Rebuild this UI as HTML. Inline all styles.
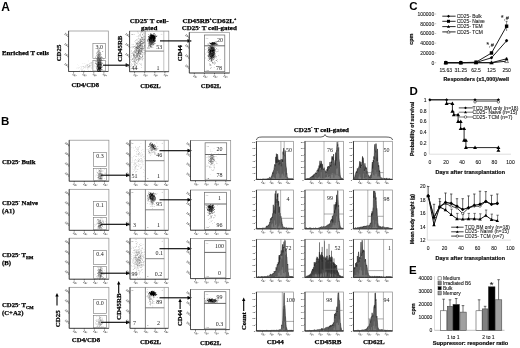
<!DOCTYPE html>
<html><head><meta charset="utf-8"><style>
html,body{margin:0;padding:0;background:#fff;}
body{width:520px;height:348px;overflow:hidden;}
svg{display:block;filter:blur(0.4px);}
</style></head><body>
<svg width="520" height="348" viewBox="0 0 520 348">
<rect width="520" height="348" fill="#fff"/>
<text x="1.3" y="10.5" font-size="12" style="font-family:'Liberation Sans',sans-serif;font-weight:bold" fill="#000">A</text>
<text x="0.9" y="125.1" font-size="11.5" style="font-family:'Liberation Sans',sans-serif;font-weight:bold" fill="#000">B</text>
<text x="409.2" y="10.2" font-size="11.5" style="font-family:'Liberation Sans',sans-serif;font-weight:bold" fill="#000">C</text>
<text x="409.5" y="95.2" font-size="11.5" style="font-family:'Liberation Sans',sans-serif;font-weight:bold" fill="#000">D</text>
<text x="409" y="274" font-size="11.5" style="font-family:'Liberation Sans',sans-serif;font-weight:bold" fill="#000">E</text>
<text x="2" y="55" font-size="6.8" text-anchor="start" style="font-family:'Liberation Serif',serif;font-weight:bold" fill="#000" stroke="#000" stroke-width="0.25" >Enriched T cells</text>
<rect x="68.6" y="31" width="39.7" height="40.5" stroke="#8a8a8a" stroke-width="0.7" fill="none"/>
<line x1="68.6" y1="31" x2="68.6" y2="71.5" stroke="#333" stroke-width="0.8"/>
<line x1="68.6" y1="71.5" x2="108.3" y2="71.5" stroke="#333" stroke-width="0.8"/>
<line x1="67.4" y1="36.5" x2="68.6" y2="36.5" stroke="#333" stroke-width="0.7"/>
<text font-size="3.2" text-anchor="end" style="font-family:'Liberation Serif',serif;font-weight:bold" fill="#555" transform="translate(67.3,36.8) rotate(40)">10<tspan font-size="2.2" dy="-1.2">4</tspan></text>
<line x1="67.4" y1="46.6" x2="68.6" y2="46.6" stroke="#333" stroke-width="0.7"/>
<text font-size="3.2" text-anchor="end" style="font-family:'Liberation Serif',serif;font-weight:bold" fill="#555" transform="translate(67.3,46.9) rotate(40)">10<tspan font-size="2.2" dy="-1.2">3</tspan></text>
<line x1="67.4" y1="56.7" x2="68.6" y2="56.7" stroke="#333" stroke-width="0.7"/>
<text font-size="3.2" text-anchor="end" style="font-family:'Liberation Serif',serif;font-weight:bold" fill="#555" transform="translate(67.3,57) rotate(40)">10<tspan font-size="2.2" dy="-1.2">2</tspan></text>
<line x1="67.4" y1="66.8" x2="68.6" y2="66.8" stroke="#333" stroke-width="0.7"/>
<text font-size="3.2" text-anchor="end" style="font-family:'Liberation Serif',serif;font-weight:bold" fill="#555" transform="translate(67.3,67.1) rotate(40)">10<tspan font-size="2.2" dy="-1.2">1</tspan></text>
<line x1="73.6" y1="71.5" x2="73.6" y2="72.7" stroke="#333" stroke-width="0.7"/>
<text font-size="3.2" text-anchor="middle" style="font-family:'Liberation Serif',serif;font-weight:bold" fill="#555" transform="translate(73.6,75.9) rotate(40)">10<tspan font-size="2.2" dy="-1.2">1</tspan></text>
<line x1="83.7" y1="71.5" x2="83.7" y2="72.7" stroke="#333" stroke-width="0.7"/>
<text font-size="3.2" text-anchor="middle" style="font-family:'Liberation Serif',serif;font-weight:bold" fill="#555" transform="translate(83.7,75.9) rotate(40)">10<tspan font-size="2.2" dy="-1.2">2</tspan></text>
<line x1="93.8" y1="71.5" x2="93.8" y2="72.7" stroke="#333" stroke-width="0.7"/>
<text font-size="3.2" text-anchor="middle" style="font-family:'Liberation Serif',serif;font-weight:bold" fill="#555" transform="translate(93.8,75.9) rotate(40)">10<tspan font-size="2.2" dy="-1.2">3</tspan></text>
<line x1="103.9" y1="71.5" x2="103.9" y2="72.7" stroke="#333" stroke-width="0.7"/>
<text font-size="3.2" text-anchor="middle" style="font-family:'Liberation Serif',serif;font-weight:bold" fill="#555" transform="translate(103.9,75.9) rotate(40)">10<tspan font-size="2.2" dy="-1.2">4</tspan></text>
<rect x="92.9" y="43.5" width="12.5" height="15" stroke="#777" stroke-width="0.6" fill="none"/>
<rect x="92.9" y="60.5" width="12.5" height="10.5" stroke="#777" stroke-width="0.6" fill="none"/>
<text x="99.2" y="48.8" font-size="6" text-anchor="middle" style="font-family:'Liberation Serif',serif" fill="#222">3.0</text>
<path d="M98.7 67.6h0.5v0.5h-0.5zM98.8 65h0.5v0.5h-0.5zM98.1 65.3h0.5v0.5h-0.5zM100.1 67.4h0.5v0.5h-0.5zM100 66.8h0.5v0.5h-0.5zM99.4 66.6h0.5v0.5h-0.5zM97.3 68.7h0.5v0.5h-0.5zM99.5 67.6h0.5v0.5h-0.5zM97.3 60.4h0.5v0.5h-0.5zM98.1 64.5h0.5v0.5h-0.5zM99.3 65.9h0.5v0.5h-0.5zM99.5 63.9h0.5v0.5h-0.5zM99.3 67.3h0.5v0.5h-0.5zM98.3 71.5h0.5v0.5h-0.5zM99.6 69.8h0.5v0.5h-0.5zM98.4 63.6h0.5v0.5h-0.5zM98.7 65.7h0.5v0.5h-0.5zM99.6 66.8h0.5v0.5h-0.5zM98.6 62.9h0.5v0.5h-0.5zM98.5 69.9h0.5v0.5h-0.5zM98.2 66.8h0.5v0.5h-0.5zM99.4 61.2h0.5v0.5h-0.5zM99 70.2h0.5v0.5h-0.5zM97 65h0.5v0.5h-0.5zM98.9 63.4h0.5v0.5h-0.5zM99.5 65.8h0.5v0.5h-0.5zM97.5 68.6h0.5v0.5h-0.5zM99.7 69h0.5v0.5h-0.5zM100.4 67.2h0.5v0.5h-0.5zM99.1 61.8h0.5v0.5h-0.5zM99.6 64h0.5v0.5h-0.5zM98.5 62h0.5v0.5h-0.5zM98 64.3h0.5v0.5h-0.5zM100.3 59.5h0.5v0.5h-0.5zM97.5 66.8h0.5v0.5h-0.5zM100.4 67.9h0.5v0.5h-0.5zM97.1 57.9h0.5v0.5h-0.5zM99.4 63.6h0.5v0.5h-0.5zM97.9 69.1h0.5v0.5h-0.5zM100.1 66.5h0.5v0.5h-0.5zM99.2 67.4h0.5v0.5h-0.5zM100.6 68h0.5v0.5h-0.5zM99.5 67.8h0.5v0.5h-0.5zM97.4 70.1h0.5v0.5h-0.5zM100 67.7h0.5v0.5h-0.5zM97 64h0.5v0.5h-0.5zM99.8 60.2h0.5v0.5h-0.5zM98.8 69.3h0.5v0.5h-0.5zM97.7 71.2h0.5v0.5h-0.5zM99.6 65.5h0.5v0.5h-0.5zM99.3 68.1h0.5v0.5h-0.5zM99.1 69.7h0.5v0.5h-0.5zM98.3 64.7h0.5v0.5h-0.5zM100 66.1h0.5v0.5h-0.5zM98.1 69h0.5v0.5h-0.5zM100.5 64.6h0.5v0.5h-0.5zM97.6 65.6h0.5v0.5h-0.5zM98.9 65h0.5v0.5h-0.5zM100.4 62.7h0.5v0.5h-0.5zM100.3 61.9h0.5v0.5h-0.5zM98.2 68h0.5v0.5h-0.5zM100.1 68.7h0.5v0.5h-0.5zM99.3 66.5h0.5v0.5h-0.5zM99.2 67.8h0.5v0.5h-0.5zM98.8 66.9h0.5v0.5h-0.5zM99.6 66h0.5v0.5h-0.5zM99.8 67.8h0.5v0.5h-0.5zM101 67h0.5v0.5h-0.5zM98.6 64.8h0.5v0.5h-0.5zM99 69h0.5v0.5h-0.5zM98.7 67.2h0.5v0.5h-0.5zM100.8 57.8h0.5v0.5h-0.5zM97.9 66.8h0.5v0.5h-0.5zM99.4 66.8h0.5v0.5h-0.5zM98.6 68.1h0.5v0.5h-0.5zM99.3 64.3h0.5v0.5h-0.5zM101.4 67.1h0.5v0.5h-0.5zM98.4 65.7h0.5v0.5h-0.5zM98.8 65.8h0.5v0.5h-0.5zM96.3 64.4h0.5v0.5h-0.5zM100 62.3h0.5v0.5h-0.5zM98.9 69.1h0.5v0.5h-0.5zM99.9 70.8h0.5v0.5h-0.5zM97.3 64.9h0.5v0.5h-0.5zM98.7 68h0.5v0.5h-0.5zM100.1 57.4h0.5v0.5h-0.5zM100.1 61.4h0.5v0.5h-0.5zM99.7 61.2h0.5v0.5h-0.5zM99.2 69.8h0.5v0.5h-0.5zM98.9 66.6h0.5v0.5h-0.5zM99.8 66.5h0.5v0.5h-0.5zM98.9 70.9h0.5v0.5h-0.5zM100 65.1h0.5v0.5h-0.5zM101.7 62.3h0.5v0.5h-0.5zM99.9 65.1h0.5v0.5h-0.5zM99.1 68.3h0.5v0.5h-0.5zM99.2 68h0.5v0.5h-0.5zM97.5 61.2h0.5v0.5h-0.5zM99.6 62.9h0.5v0.5h-0.5zM98 61.3h0.5v0.5h-0.5zM100.3 68.4h0.5v0.5h-0.5zM100.5 63h0.5v0.5h-0.5zM99 62.4h0.5v0.5h-0.5zM99.8 71.1h0.5v0.5h-0.5zM98.1 71h0.5v0.5h-0.5zM100 65.4h0.5v0.5h-0.5zM97 70.5h0.5v0.5h-0.5zM98.9 64.1h0.5v0.5h-0.5zM99.4 67.3h0.5v0.5h-0.5zM100.5 62.7h0.5v0.5h-0.5zM100.1 70.8h0.5v0.5h-0.5zM100.5 65.4h0.5v0.5h-0.5zM98.3 69.3h0.5v0.5h-0.5zM99.1 66.4h0.5v0.5h-0.5zM100.4 65.2h0.5v0.5h-0.5zM96.7 64.8h0.5v0.5h-0.5zM97.1 68.6h0.5v0.5h-0.5zM99.3 64h0.5v0.5h-0.5zM99 68.7h0.5v0.5h-0.5zM99.1 70.2h0.5v0.5h-0.5zM98.9 69.3h0.5v0.5h-0.5zM100.5 71.2h0.5v0.5h-0.5zM98.3 68.8h0.5v0.5h-0.5zM97.1 62.5h0.5v0.5h-0.5zM97 69.4h0.5v0.5h-0.5zM97.8 66h0.5v0.5h-0.5zM98.8 65.9h0.5v0.5h-0.5zM98.4 66.7h0.5v0.5h-0.5zM100.8 66.1h0.5v0.5h-0.5zM99.5 69.2h0.5v0.5h-0.5zM98.8 62h0.5v0.5h-0.5zM98.4 69.4h0.5v0.5h-0.5zM97.4 64.1h0.5v0.5h-0.5zM100 68.5h0.5v0.5h-0.5zM99 68.6h0.5v0.5h-0.5zM99.2 62.2h0.5v0.5h-0.5zM97.4 64h0.5v0.5h-0.5zM99.9 64.2h0.5v0.5h-0.5zM98.1 63.5h0.5v0.5h-0.5zM97.5 65.6h0.5v0.5h-0.5zM97.8 67.2h0.5v0.5h-0.5zM96.6 67h0.5v0.5h-0.5zM98.4 59.8h0.5v0.5h-0.5zM99.7 65.1h0.5v0.5h-0.5zM96.8 63.2h0.5v0.5h-0.5zM99.3 64.5h0.5v0.5h-0.5zM99.8 68.4h0.5v0.5h-0.5zM99.7 67h0.5v0.5h-0.5zM100.3 68.1h0.5v0.5h-0.5zM99.5 59.3h0.5v0.5h-0.5zM99.9 70.2h0.5v0.5h-0.5zM98.7 64.5h0.5v0.5h-0.5zM100.9 60.4h0.5v0.5h-0.5zM98.1 68.2h0.5v0.5h-0.5zM100.9 65.6h0.5v0.5h-0.5zM99.6 68.9h0.5v0.5h-0.5zM98.1 65.7h0.5v0.5h-0.5zM99.3 68.6h0.5v0.5h-0.5zM99 65.4h0.5v0.5h-0.5zM98 64.9h0.5v0.5h-0.5zM99.9 66.3h0.5v0.5h-0.5zM98.1 63.3h0.5v0.5h-0.5zM101.7 69.6h0.5v0.5h-0.5zM99.6 57.7h0.5v0.5h-0.5zM99.6 67.5h0.5v0.5h-0.5zM100.7 67.4h0.5v0.5h-0.5zM98.9 67.7h0.5v0.5h-0.5zM97.1 69.3h0.5v0.5h-0.5zM99.3 63.8h0.5v0.5h-0.5zM97.6 63.9h0.5v0.5h-0.5zM99.3 66.6h0.5v0.5h-0.5zM98.6 62.9h0.5v0.5h-0.5zM101.1 69.3h0.5v0.5h-0.5zM97.8 61.7h0.5v0.5h-0.5zM100.7 69.2h0.5v0.5h-0.5zM100.8 68.6h0.5v0.5h-0.5zM98.1 66.8h0.5v0.5h-0.5zM96.8 63.6h0.5v0.5h-0.5zM98.9 67.7h0.5v0.5h-0.5zM98.3 65.6h0.5v0.5h-0.5zM99.5 67.2h0.5v0.5h-0.5zM99.6 66.7h0.5v0.5h-0.5zM98.7 68.5h0.5v0.5h-0.5zM99 63.4h0.5v0.5h-0.5zM98.4 66h0.5v0.5h-0.5zM98.9 66.5h0.5v0.5h-0.5zM99 66.6h0.5v0.5h-0.5zM98.9 62h0.5v0.5h-0.5zM99.4 69.4h0.5v0.5h-0.5zM99.4 65.4h0.5v0.5h-0.5zM99.4 62.9h0.5v0.5h-0.5zM97.1 66.2h0.5v0.5h-0.5zM98.1 68.4h0.5v0.5h-0.5zM97.9 57.6h0.5v0.5h-0.5zM98 71h0.5v0.5h-0.5zM98.6 61.6h0.5v0.5h-0.5zM98.2 67.7h0.5v0.5h-0.5zM99.5 66.6h0.5v0.5h-0.5zM100.5 68.3h0.5v0.5h-0.5zM99 67.9h0.5v0.5h-0.5zM100.7 69.1h0.5v0.5h-0.5zM100 62.5h0.5v0.5h-0.5zM98.9 68.3h0.5v0.5h-0.5zM98.7 69.4h0.5v0.5h-0.5zM99.6 68.9h0.5v0.5h-0.5zM100.2 65.3h0.5v0.5h-0.5zM98.7 68.8h0.5v0.5h-0.5zM100 66h0.5v0.5h-0.5zM97.8 66.6h0.5v0.5h-0.5zM99.4 69.6h0.5v0.5h-0.5zM99.8 66.1h0.5v0.5h-0.5zM99.9 67.7h0.5v0.5h-0.5zM99.2 66.2h0.5v0.5h-0.5zM98.8 68.2h0.5v0.5h-0.5zM97.9 64h0.5v0.5h-0.5zM99 61.3h0.5v0.5h-0.5zM98.6 59.6h0.5v0.5h-0.5zM98.3 67.8h0.5v0.5h-0.5zM99.6 65.8h0.5v0.5h-0.5zM98.8 61.5h0.5v0.5h-0.5zM100.8 67.7h0.5v0.5h-0.5zM100.1 63.2h0.5v0.5h-0.5zM98.8 60.2h0.5v0.5h-0.5zM99.8 69h0.5v0.5h-0.5zM97.1 65.8h0.5v0.5h-0.5zM99.6 60.4h0.5v0.5h-0.5zM97.2 62.6h0.5v0.5h-0.5zM98.4 61.5h0.5v0.5h-0.5zM99 66.8h0.5v0.5h-0.5zM99.6 68.2h0.5v0.5h-0.5zM100.5 69.7h0.5v0.5h-0.5zM97.7 64.4h0.5v0.5h-0.5zM97.9 62.6h0.5v0.5h-0.5zM98.9 66h0.5v0.5h-0.5zM99.5 60.9h0.5v0.5h-0.5zM97.8 65.9h0.5v0.5h-0.5zM98.8 65h0.5v0.5h-0.5zM98.9 63.6h0.5v0.5h-0.5zM99.7 67.1h0.5v0.5h-0.5zM98.9 63.8h0.5v0.5h-0.5zM98.8 57.3h0.5v0.5h-0.5zM98 66.1h0.5v0.5h-0.5zM97.5 66.6h0.5v0.5h-0.5zM99.1 61.6h0.5v0.5h-0.5zM98.7 65h0.5v0.5h-0.5zM99.5 68h0.5v0.5h-0.5zM99 63.3h0.5v0.5h-0.5zM98.9 65.8h0.5v0.5h-0.5zM99.7 66.9h0.5v0.5h-0.5zM98.3 61.7h0.5v0.5h-0.5zM98.6 63.6h0.5v0.5h-0.5zM97.9 65.6h0.5v0.5h-0.5zM98.5 66.3h0.5v0.5h-0.5zM99.5 64.7h0.5v0.5h-0.5zM101.3 65h0.5v0.5h-0.5zM100.1 66.4h0.5v0.5h-0.5zM100.1 58.4h0.5v0.5h-0.5zM98.2 66.8h0.5v0.5h-0.5zM99.3 70.1h0.5v0.5h-0.5zM99.8 69h0.5v0.5h-0.5zM99.5 65.5h0.5v0.5h-0.5zM99.5 62.5h0.5v0.5h-0.5zM100.2 62.7h0.5v0.5h-0.5zM98.8 66.1h0.5v0.5h-0.5zM100.2 66.1h0.5v0.5h-0.5zM98.2 66.8h0.5v0.5h-0.5zM99.6 68.3h0.5v0.5h-0.5zM100.7 66.1h0.5v0.5h-0.5zM99.3 64.6h0.5v0.5h-0.5zM100.4 63.7h0.5v0.5h-0.5zM99.7 64.5h0.5v0.5h-0.5zM98.3 68.3h0.5v0.5h-0.5zM100.3 66h0.5v0.5h-0.5zM98.3 68.6h0.5v0.5h-0.5zM99 67h0.5v0.5h-0.5zM100.5 69.6h0.5v0.5h-0.5zM99 68.5h0.5v0.5h-0.5zM98.4 65.9h0.5v0.5h-0.5zM100.4 62.1h0.5v0.5h-0.5zM97.5 60.8h0.5v0.5h-0.5zM100.2 64.5h0.5v0.5h-0.5zM98.9 65h0.5v0.5h-0.5zM98.9 62.5h0.5v0.5h-0.5zM99 61.4h0.5v0.5h-0.5zM98.9 67h0.5v0.5h-0.5zM99.5 65.3h0.5v0.5h-0.5zM98.1 66.5h0.5v0.5h-0.5zM98.5 71h0.5v0.5h-0.5zM99.8 65.6h0.5v0.5h-0.5zM98.5 63.8h0.5v0.5h-0.5zM98.1 64.9h0.5v0.5h-0.5zM99.3 67.6h0.5v0.5h-0.5zM98.3 66h0.5v0.5h-0.5zM101.8 60h0.5v0.5h-0.5zM98.5 66.5h0.5v0.5h-0.5zM99.2 67.3h0.5v0.5h-0.5zM98.8 67.2h0.5v0.5h-0.5zM99.1 68.5h0.5v0.5h-0.5zM97.1 63.2h0.5v0.5h-0.5zM99 62.7h0.5v0.5h-0.5zM98 68h0.5v0.5h-0.5zM98.4 68h0.5v0.5h-0.5zM99.7 67h0.5v0.5h-0.5zM99.5 65.7h0.5v0.5h-0.5zM97.6 65.9h0.5v0.5h-0.5zM99.5 64.3h0.5v0.5h-0.5zM98.9 68.4h0.5v0.5h-0.5zM98.1 68h0.5v0.5h-0.5zM100.9 64.2h0.5v0.5h-0.5zM99.1 65.5h0.5v0.5h-0.5zM100.5 67h0.5v0.5h-0.5zM99.9 63.8h0.5v0.5h-0.5zM99 66h0.5v0.5h-0.5zM97.2 70.6h0.5v0.5h-0.5zM99.9 60.4h0.5v0.5h-0.5zM99.7 65.6h0.5v0.5h-0.5zM99.4 67.2h0.5v0.5h-0.5zM97.5 65.3h0.5v0.5h-0.5zM100.5 64.2h0.5v0.5h-0.5zM98 61.6h0.5v0.5h-0.5zM97.8 67.1h0.5v0.5h-0.5zM100.7 67.4h0.5v0.5h-0.5zM98.5 63.8h0.5v0.5h-0.5zM99.5 67.8h0.5v0.5h-0.5zM98 62.3h0.5v0.5h-0.5zM99.3 66.8h0.5v0.5h-0.5zM97.7 65.4h0.5v0.5h-0.5zM98.5 67.5h0.5v0.5h-0.5zM98.9 65.7h0.5v0.5h-0.5zM98.6 69.4h0.5v0.5h-0.5zM100.4 64.8h0.5v0.5h-0.5zM99.8 63.6h0.5v0.5h-0.5zM99.1 68.4h0.5v0.5h-0.5zM100.5 64.8h0.5v0.5h-0.5zM98.9 66.6h0.5v0.5h-0.5zM97.5 66.1h0.5v0.5h-0.5zM98.3 67.2h0.5v0.5h-0.5zM97.9 59.7h0.5v0.5h-0.5zM99 66.8h0.5v0.5h-0.5zM98.5 68.8h0.5v0.5h-0.5zM98.7 64.1h0.5v0.5h-0.5zM99.5 61h0.5v0.5h-0.5zM98.3 65.9h0.5v0.5h-0.5zM99.8 65.5h0.5v0.5h-0.5zM99.3 63.9h0.5v0.5h-0.5zM99.3 71.3h0.5v0.5h-0.5zM98.4 66.1h0.5v0.5h-0.5zM99.2 69.3h0.5v0.5h-0.5zM97.8 59.3h0.5v0.5h-0.5zM99.6 68.5h0.5v0.5h-0.5zM99.2 66.8h0.5v0.5h-0.5zM99.9 67.2h0.5v0.5h-0.5zM100.7 62h0.5v0.5h-0.5zM98.6 55h0.5v0.5h-0.5zM99.8 64.8h0.5v0.5h-0.5zM99 65.2h0.5v0.5h-0.5zM98.5 63.3h0.5v0.5h-0.5zM98.4 68h0.5v0.5h-0.5zM99 66.2h0.5v0.5h-0.5zM98.8 68.9h0.5v0.5h-0.5zM99.5 65.5h0.5v0.5h-0.5zM99.7 65.5h0.5v0.5h-0.5zM97.8 70.7h0.5v0.5h-0.5zM99.5 62.9h0.5v0.5h-0.5zM100.1 67.1h0.5v0.5h-0.5zM97.4 71.2h0.5v0.5h-0.5zM99.3 68.9h0.5v0.5h-0.5zM99.2 65.5h0.5v0.5h-0.5zM97.5 69.1h0.5v0.5h-0.5zM99 65.1h0.5v0.5h-0.5zM99.4 66.2h0.5v0.5h-0.5zM99.7 64.8h0.5v0.5h-0.5zM99 59.2h0.5v0.5h-0.5zM98.6 68.2h0.5v0.5h-0.5zM100.3 64.8h0.5v0.5h-0.5zM98.9 71.1h0.5v0.5h-0.5zM98.7 68.3h0.5v0.5h-0.5zM100.7 66.1h0.5v0.5h-0.5zM100.2 63.7h0.5v0.5h-0.5zM99.2 65.8h0.5v0.5h-0.5zM99.1 69.6h0.5v0.5h-0.5zM101.4 63.9h0.5v0.5h-0.5zM98.4 67.6h0.5v0.5h-0.5zM97.9 67.6h0.5v0.5h-0.5zM99.6 65.1h0.5v0.5h-0.5zM99.5 61h0.5v0.5h-0.5zM99.8 61.1h0.5v0.5h-0.5zM98.3 64.2h0.5v0.5h-0.5zM98.6 68.7h0.5v0.5h-0.5zM99.1 64.7h0.5v0.5h-0.5zM99.5 71.1h0.5v0.5h-0.5zM99 67.2h0.5v0.5h-0.5zM100.2 66.9h0.5v0.5h-0.5zM101.2 59.6h0.5v0.5h-0.5zM99 67.3h0.5v0.5h-0.5zM100 68.1h0.5v0.5h-0.5zM98.7 62.6h0.5v0.5h-0.5zM99.1 69.3h0.5v0.5h-0.5zM97.9 62.7h0.5v0.5h-0.5zM99 59.8h0.5v0.5h-0.5zM98.7 64.6h0.5v0.5h-0.5zM99.5 63.8h0.5v0.5h-0.5zM98.1 64.7h0.5v0.5h-0.5zM99 63.9h0.5v0.5h-0.5zM99 68.4h0.5v0.5h-0.5zM100.2 71.5h0.5v0.5h-0.5zM98.2 64.7h0.5v0.5h-0.5zM98.3 65.9h0.5v0.5h-0.5zM99.5 61.7h0.5v0.5h-0.5zM99.5 65.9h0.5v0.5h-0.5zM97.2 66.9h0.5v0.5h-0.5zM100.2 60h0.5v0.5h-0.5zM99.8 66.7h0.5v0.5h-0.5zM99.5 67.4h0.5v0.5h-0.5zM100.3 65.3h0.5v0.5h-0.5zM99.9 64.7h0.5v0.5h-0.5zM99.7 63.4h0.5v0.5h-0.5zM99.4 65.5h0.5v0.5h-0.5zM97.9 63.5h0.5v0.5h-0.5zM99.2 69h0.5v0.5h-0.5zM99.4 67.7h0.5v0.5h-0.5zM99 70.3h0.5v0.5h-0.5zM98.6 64.2h0.5v0.5h-0.5zM99.9 66.2h0.5v0.5h-0.5zM98.7 64.2h0.5v0.5h-0.5zM98.7 68h0.5v0.5h-0.5zM99.4 62.1h0.5v0.5h-0.5zM99.4 66.6h0.5v0.5h-0.5zM98 68.5h0.5v0.5h-0.5zM98.7 64.9h0.5v0.5h-0.5zM99.8 70.2h0.5v0.5h-0.5zM98.3 67.4h0.5v0.5h-0.5z" fill="#000" fill-opacity="1.0"/>
<path d="M98.2 68.4h0.5v0.5h-0.5zM98 66.7h0.5v0.5h-0.5zM102.6 51.6h0.5v0.5h-0.5zM98.3 65.3h0.5v0.5h-0.5zM98.9 60h0.5v0.5h-0.5zM102.4 63.4h0.5v0.5h-0.5zM96.4 66.8h0.5v0.5h-0.5zM96.2 68.2h0.5v0.5h-0.5zM98.1 63.7h0.5v0.5h-0.5zM101 63.5h0.5v0.5h-0.5zM96.8 55.4h0.5v0.5h-0.5zM100.9 66.3h0.5v0.5h-0.5zM97.7 66.9h0.5v0.5h-0.5zM99.8 65.9h0.5v0.5h-0.5zM95.4 61.6h0.5v0.5h-0.5zM100.4 66.3h0.5v0.5h-0.5zM100.4 51.9h0.5v0.5h-0.5zM99.3 65.2h0.5v0.5h-0.5zM103.1 58.7h0.5v0.5h-0.5zM98.5 63.2h0.5v0.5h-0.5zM100.4 61h0.5v0.5h-0.5zM100.8 59.5h0.5v0.5h-0.5zM99.4 60.6h0.5v0.5h-0.5zM99.3 59.9h0.5v0.5h-0.5zM96.4 67.9h0.5v0.5h-0.5zM99.5 60.5h0.5v0.5h-0.5zM99.3 67.5h0.5v0.5h-0.5zM97.4 62.5h0.5v0.5h-0.5zM99.9 65.4h0.5v0.5h-0.5zM98.5 53.5h0.5v0.5h-0.5zM101 64.5h0.5v0.5h-0.5zM99 61.7h0.5v0.5h-0.5zM99.4 61.1h0.5v0.5h-0.5zM97.4 59.7h0.5v0.5h-0.5zM98 60.2h0.5v0.5h-0.5zM97.1 65.9h0.5v0.5h-0.5zM96.9 66h0.5v0.5h-0.5zM97.4 64.6h0.5v0.5h-0.5zM101.2 63.9h0.5v0.5h-0.5zM97.8 63.2h0.5v0.5h-0.5zM99.2 55.2h0.5v0.5h-0.5zM98 63.7h0.5v0.5h-0.5zM98.2 63.4h0.5v0.5h-0.5zM100.2 66.4h0.5v0.5h-0.5zM100.4 65.6h0.5v0.5h-0.5zM98.5 62.9h0.5v0.5h-0.5zM98.6 61.6h0.5v0.5h-0.5zM98.7 55.2h0.5v0.5h-0.5zM98.5 62.9h0.5v0.5h-0.5zM97.4 62.9h0.5v0.5h-0.5zM99.8 62.3h0.5v0.5h-0.5zM102.3 51.3h0.5v0.5h-0.5zM98.7 54.8h0.5v0.5h-0.5zM95 63.6h0.5v0.5h-0.5zM99.8 61.6h0.5v0.5h-0.5zM99.9 52.9h0.5v0.5h-0.5zM100.4 64.7h0.5v0.5h-0.5zM99 60.4h0.5v0.5h-0.5zM100 60.8h0.5v0.5h-0.5zM99.4 60.7h0.5v0.5h-0.5zM95.4 62.9h0.5v0.5h-0.5zM99.3 66.4h0.5v0.5h-0.5zM97.6 62.9h0.5v0.5h-0.5zM100 63.7h0.5v0.5h-0.5zM97.5 54.4h0.5v0.5h-0.5zM100.4 69.9h0.5v0.5h-0.5zM100.5 66.7h0.5v0.5h-0.5zM98 59.8h0.5v0.5h-0.5zM100.4 58.9h0.5v0.5h-0.5zM96.1 58.5h0.5v0.5h-0.5zM97.9 59.7h0.5v0.5h-0.5zM99.4 59.6h0.5v0.5h-0.5zM101.1 62.6h0.5v0.5h-0.5zM97.3 68.9h0.5v0.5h-0.5zM98.1 64h0.5v0.5h-0.5zM99 61.6h0.5v0.5h-0.5zM99.5 59.9h0.5v0.5h-0.5zM96 53.1h0.5v0.5h-0.5zM97 59.6h0.5v0.5h-0.5zM99 63.2h0.5v0.5h-0.5zM99.9 63.5h0.5v0.5h-0.5zM97.7 59.8h0.5v0.5h-0.5zM95.6 62.2h0.5v0.5h-0.5zM99.8 65.4h0.5v0.5h-0.5zM98.8 62.2h0.5v0.5h-0.5zM100.5 63.1h0.5v0.5h-0.5zM100.2 65.6h0.5v0.5h-0.5zM99.3 68.9h0.5v0.5h-0.5zM98.1 61.4h0.5v0.5h-0.5zM97.7 59.4h0.5v0.5h-0.5zM101.5 70.9h0.5v0.5h-0.5zM99 65.6h0.5v0.5h-0.5zM100.9 66.6h0.5v0.5h-0.5zM100.9 57.3h0.5v0.5h-0.5zM98 65h0.5v0.5h-0.5zM101.3 63.5h0.5v0.5h-0.5zM97.6 61.4h0.5v0.5h-0.5zM97.9 59.1h0.5v0.5h-0.5zM101.4 60.2h0.5v0.5h-0.5zM100.9 64.5h0.5v0.5h-0.5zM98 64.8h0.5v0.5h-0.5zM101.6 65.8h0.5v0.5h-0.5zM101 63.4h0.5v0.5h-0.5zM99.8 62.1h0.5v0.5h-0.5zM99.7 68.9h0.5v0.5h-0.5zM96.7 62.7h0.5v0.5h-0.5zM99.4 60.4h0.5v0.5h-0.5zM98.5 66.5h0.5v0.5h-0.5zM102.2 65.8h0.5v0.5h-0.5zM99.5 56h0.5v0.5h-0.5zM102.1 63.3h0.5v0.5h-0.5zM98.9 58h0.5v0.5h-0.5zM98.9 58.1h0.5v0.5h-0.5zM99.1 65.1h0.5v0.5h-0.5zM99 64.3h0.5v0.5h-0.5zM97.6 69.4h0.5v0.5h-0.5zM98 54.8h0.5v0.5h-0.5zM98.7 59.6h0.5v0.5h-0.5zM97.4 61.4h0.5v0.5h-0.5zM99.5 57.7h0.5v0.5h-0.5zM98.8 69.4h0.5v0.5h-0.5zM100.1 62.3h0.5v0.5h-0.5zM99.2 62.5h0.5v0.5h-0.5zM98.9 66.3h0.5v0.5h-0.5zM98.9 52.2h0.5v0.5h-0.5zM99 59h0.5v0.5h-0.5zM100 60.3h0.5v0.5h-0.5zM97.3 57.9h0.5v0.5h-0.5zM96.7 52.2h0.5v0.5h-0.5zM96 64.6h0.5v0.5h-0.5zM98 54.6h0.5v0.5h-0.5zM96.6 65.8h0.5v0.5h-0.5zM97.8 61.3h0.5v0.5h-0.5zM99.5 69.1h0.5v0.5h-0.5zM102.1 67.6h0.5v0.5h-0.5zM99.2 63.8h0.5v0.5h-0.5zM101.9 69.4h0.5v0.5h-0.5zM98.5 65.1h0.5v0.5h-0.5zM99.5 63.2h0.5v0.5h-0.5zM98.2 57h0.5v0.5h-0.5zM98.1 56.1h0.5v0.5h-0.5zM101 65.4h0.5v0.5h-0.5zM97.1 69.3h0.5v0.5h-0.5zM100.4 54.4h0.5v0.5h-0.5zM101.9 66.6h0.5v0.5h-0.5zM102.3 57.5h0.5v0.5h-0.5zM99.8 64.9h0.5v0.5h-0.5zM99.3 63.8h0.5v0.5h-0.5zM100.7 56.3h0.5v0.5h-0.5zM97 56.7h0.5v0.5h-0.5zM98.1 60.3h0.5v0.5h-0.5zM99.6 64.2h0.5v0.5h-0.5zM99.1 60h0.5v0.5h-0.5zM98.3 67.3h0.5v0.5h-0.5zM100.2 63.5h0.5v0.5h-0.5zM98.5 70h0.5v0.5h-0.5zM98 65.9h0.5v0.5h-0.5zM100.8 61.8h0.5v0.5h-0.5zM100.3 58h0.5v0.5h-0.5zM100.6 63.9h0.5v0.5h-0.5zM96.5 66h0.5v0.5h-0.5zM97.6 68.8h0.5v0.5h-0.5zM97.9 62.3h0.5v0.5h-0.5zM99.5 61.5h0.5v0.5h-0.5zM99.4 60.5h0.5v0.5h-0.5zM100.1 63h0.5v0.5h-0.5zM99.3 50.6h0.5v0.5h-0.5zM100.9 63.1h0.5v0.5h-0.5zM96.1 63.4h0.5v0.5h-0.5zM99.7 67.8h0.5v0.5h-0.5zM97.3 70h0.5v0.5h-0.5zM98.8 66.1h0.5v0.5h-0.5zM98.4 58h0.5v0.5h-0.5zM100.8 67.1h0.5v0.5h-0.5zM101.5 66.9h0.5v0.5h-0.5zM98.1 55.5h0.5v0.5h-0.5zM98 60h0.5v0.5h-0.5zM97.7 65.6h0.5v0.5h-0.5zM99.5 61.8h0.5v0.5h-0.5zM99.3 62.3h0.5v0.5h-0.5zM99.3 66.4h0.5v0.5h-0.5zM100.5 59.9h0.5v0.5h-0.5zM96.6 69.4h0.5v0.5h-0.5zM99.2 68h0.5v0.5h-0.5zM96.4 61.5h0.5v0.5h-0.5zM99 56.5h0.5v0.5h-0.5zM98.2 66.3h0.5v0.5h-0.5zM100.7 70.2h0.5v0.5h-0.5zM97.6 56.7h0.5v0.5h-0.5zM99.8 67.2h0.5v0.5h-0.5zM99.3 57.1h0.5v0.5h-0.5zM100.3 66.6h0.5v0.5h-0.5zM99.9 60.8h0.5v0.5h-0.5zM99.5 66.6h0.5v0.5h-0.5z" fill="#444" fill-opacity="1.0"/>
<path d="M98.1 51.5h0.5v0.5h-0.5zM99.2 58.4h0.5v0.5h-0.5zM98.8 59.7h0.5v0.5h-0.5zM98.1 56.8h0.5v0.5h-0.5zM98.4 58.7h0.5v0.5h-0.5zM100.7 56.2h0.5v0.5h-0.5zM101.3 61.6h0.5v0.5h-0.5zM99.7 58.8h0.5v0.5h-0.5zM100.9 56.5h0.5v0.5h-0.5zM98.7 53.8h0.5v0.5h-0.5zM99.4 61h0.5v0.5h-0.5zM99.4 58.3h0.5v0.5h-0.5zM98.6 57.5h0.5v0.5h-0.5zM97.1 60.1h0.5v0.5h-0.5zM98.3 53.7h0.5v0.5h-0.5zM97.9 54.5h0.5v0.5h-0.5zM99.8 60.2h0.5v0.5h-0.5zM97.2 59.8h0.5v0.5h-0.5zM99.9 55.3h0.5v0.5h-0.5zM97 54.8h0.5v0.5h-0.5zM98 58h0.5v0.5h-0.5zM98.4 50.9h0.5v0.5h-0.5zM99.1 52.4h0.5v0.5h-0.5zM99.9 53.4h0.5v0.5h-0.5zM98 54.4h0.5v0.5h-0.5zM98.1 60.9h0.5v0.5h-0.5zM99.8 58.8h0.5v0.5h-0.5zM99.2 52.4h0.5v0.5h-0.5zM98.2 55.3h0.5v0.5h-0.5zM97.6 58.5h0.5v0.5h-0.5zM97.9 54.9h0.5v0.5h-0.5zM97.5 50.8h0.5v0.5h-0.5zM99.5 61h0.5v0.5h-0.5zM99 54.1h0.5v0.5h-0.5zM95.6 57.5h0.5v0.5h-0.5zM100.3 57.9h0.5v0.5h-0.5zM99.9 61.4h0.5v0.5h-0.5zM100.2 55.7h0.5v0.5h-0.5zM100.1 59.3h0.5v0.5h-0.5zM97 55.8h0.5v0.5h-0.5zM97.1 56.7h0.5v0.5h-0.5zM99.5 53.8h0.5v0.5h-0.5zM96.3 60.9h0.5v0.5h-0.5zM99.3 61.4h0.5v0.5h-0.5zM97.2 60.2h0.5v0.5h-0.5zM101.3 63h0.5v0.5h-0.5zM98.5 57.8h0.5v0.5h-0.5zM98.6 60h0.5v0.5h-0.5zM100 57.3h0.5v0.5h-0.5zM97.2 59.2h0.5v0.5h-0.5zM98.2 58.9h0.5v0.5h-0.5zM99.1 61.9h0.5v0.5h-0.5zM100.2 55.6h0.5v0.5h-0.5zM99.2 62.3h0.5v0.5h-0.5zM98.2 58.3h0.5v0.5h-0.5zM100.2 60.8h0.5v0.5h-0.5zM99.4 53h0.5v0.5h-0.5zM97.3 57.7h0.5v0.5h-0.5zM99.3 64.6h0.5v0.5h-0.5zM97.8 60.4h0.5v0.5h-0.5zM99.7 52h0.5v0.5h-0.5zM97.8 57.5h0.5v0.5h-0.5zM98.2 56.5h0.5v0.5h-0.5zM99.4 54.6h0.5v0.5h-0.5zM99.4 55.1h0.5v0.5h-0.5zM98.1 58.6h0.5v0.5h-0.5zM98.1 57.9h0.5v0.5h-0.5zM100.7 57.1h0.5v0.5h-0.5zM98.6 59.2h0.5v0.5h-0.5zM98.4 60.2h0.5v0.5h-0.5zM97.3 58.9h0.5v0.5h-0.5zM98.2 54.6h0.5v0.5h-0.5zM100.9 54.4h0.5v0.5h-0.5zM100.9 59h0.5v0.5h-0.5zM100.5 54.1h0.5v0.5h-0.5zM100.2 61.4h0.5v0.5h-0.5zM98.7 56.6h0.5v0.5h-0.5zM101.7 57.5h0.5v0.5h-0.5zM98.3 55.1h0.5v0.5h-0.5zM99.3 58h0.5v0.5h-0.5zM99 62.2h0.5v0.5h-0.5zM98.4 58.4h0.5v0.5h-0.5zM100.6 54h0.5v0.5h-0.5zM100 62.5h0.5v0.5h-0.5zM97.2 53.7h0.5v0.5h-0.5zM97.6 51.5h0.5v0.5h-0.5zM99.3 51.4h0.5v0.5h-0.5zM99.4 61.4h0.5v0.5h-0.5zM96.9 56.1h0.5v0.5h-0.5zM96.5 59.3h0.5v0.5h-0.5zM97.9 56.2h0.5v0.5h-0.5zM98.9 58.6h0.5v0.5h-0.5zM98.4 57h0.5v0.5h-0.5zM98.1 57.3h0.5v0.5h-0.5zM97.4 57.2h0.5v0.5h-0.5zM96.5 55.5h0.5v0.5h-0.5zM101.1 57.2h0.5v0.5h-0.5zM97.3 57.8h0.5v0.5h-0.5zM97.6 52h0.5v0.5h-0.5zM97.9 59.2h0.5v0.5h-0.5zM99.3 56.7h0.5v0.5h-0.5zM97.7 53.8h0.5v0.5h-0.5zM100.4 57.7h0.5v0.5h-0.5zM97.7 50.7h0.5v0.5h-0.5zM97.2 64.4h0.5v0.5h-0.5zM97.4 56.8h0.5v0.5h-0.5zM99.1 56.5h0.5v0.5h-0.5zM98.5 52.9h0.5v0.5h-0.5zM97.5 62.1h0.5v0.5h-0.5zM97.9 59.5h0.5v0.5h-0.5zM96.8 56.2h0.5v0.5h-0.5zM99.1 60.1h0.5v0.5h-0.5zM97.5 58.8h0.5v0.5h-0.5zM99.3 54.8h0.5v0.5h-0.5zM99.4 54.3h0.5v0.5h-0.5zM97.8 56.9h0.5v0.5h-0.5zM95.5 56.7h0.5v0.5h-0.5zM97.6 52.6h0.5v0.5h-0.5zM98.3 59.3h0.5v0.5h-0.5zM98.3 60.8h0.5v0.5h-0.5z" fill="#555" fill-opacity="1.0"/>
<path d="M97.3 48.1h0.5v0.5h-0.5zM100.1 53.2h0.5v0.5h-0.5zM99.4 49.5h0.5v0.5h-0.5zM99.3 52.8h0.5v0.5h-0.5zM99.1 52.1h0.5v0.5h-0.5zM99.7 50.1h0.5v0.5h-0.5zM97.5 47.6h0.5v0.5h-0.5zM99.7 49.8h0.5v0.5h-0.5zM97.5 49.2h0.5v0.5h-0.5zM98.1 48.2h0.5v0.5h-0.5zM98.2 50.1h0.5v0.5h-0.5zM97.9 49.1h0.5v0.5h-0.5zM98.5 50.6h0.5v0.5h-0.5zM98.6 52.7h0.5v0.5h-0.5zM98.8 45.4h0.5v0.5h-0.5zM98 49.6h0.5v0.5h-0.5zM99.3 47.3h0.5v0.5h-0.5zM97.8 51.1h0.5v0.5h-0.5zM98.2 55h0.5v0.5h-0.5zM98.1 54.9h0.5v0.5h-0.5zM97 46.6h0.5v0.5h-0.5zM99.7 53.3h0.5v0.5h-0.5zM99 52.4h0.5v0.5h-0.5zM99 48.4h0.5v0.5h-0.5zM99.4 50.4h0.5v0.5h-0.5zM99.5 52.3h0.5v0.5h-0.5zM96.5 48.1h0.5v0.5h-0.5zM99.6 51.6h0.5v0.5h-0.5zM98.1 52.7h0.5v0.5h-0.5zM98.1 50.4h0.5v0.5h-0.5zM98.6 52.4h0.5v0.5h-0.5zM100 52.1h0.5v0.5h-0.5zM100.4 57.4h0.5v0.5h-0.5zM100.2 55.2h0.5v0.5h-0.5zM98.6 52.4h0.5v0.5h-0.5zM98.4 49.8h0.5v0.5h-0.5zM98.4 50.1h0.5v0.5h-0.5zM100.1 53.6h0.5v0.5h-0.5zM98.1 46.3h0.5v0.5h-0.5zM98.4 50.8h0.5v0.5h-0.5zM97.4 48.6h0.5v0.5h-0.5zM96.2 53.7h0.5v0.5h-0.5zM98.4 59.7h0.5v0.5h-0.5zM98.5 51.6h0.5v0.5h-0.5zM99.9 52.4h0.5v0.5h-0.5zM98.7 50.9h0.5v0.5h-0.5zM97.9 56.5h0.5v0.5h-0.5zM99.5 57.1h0.5v0.5h-0.5zM98.2 52.1h0.5v0.5h-0.5zM97.6 54.9h0.5v0.5h-0.5z" fill="#999" fill-opacity="1.0"/>
<path d="M79.6 70.1h0.4v0.4h-0.4zM94.6 66.7h0.4v0.4h-0.4zM82.4 70.3h0.4v0.4h-0.4zM83.7 65.9h0.4v0.4h-0.4zM80.1 71.3h0.4v0.4h-0.4zM97.9 61.3h0.4v0.4h-0.4zM83.4 66.9h0.4v0.4h-0.4zM103 62.9h0.4v0.4h-0.4zM84.7 63.3h0.4v0.4h-0.4zM84 70h0.4v0.4h-0.4zM99.2 61.5h0.4v0.4h-0.4zM83.9 66.4h0.4v0.4h-0.4zM81.5 70.6h0.4v0.4h-0.4zM77.8 66.9h0.4v0.4h-0.4zM89.7 63.8h0.4v0.4h-0.4zM92.7 64.4h0.4v0.4h-0.4zM81 69.8h0.4v0.4h-0.4zM93.1 60.1h0.4v0.4h-0.4zM99 63.2h0.4v0.4h-0.4zM92.6 60.4h0.4v0.4h-0.4zM83.7 66.8h0.4v0.4h-0.4zM94.5 60.6h0.4v0.4h-0.4zM82.7 63.5h0.4v0.4h-0.4zM86.6 67.2h0.4v0.4h-0.4zM77.9 68.3h0.4v0.4h-0.4zM91.1 68.3h0.4v0.4h-0.4zM92 64h0.4v0.4h-0.4zM80.9 66.5h0.4v0.4h-0.4zM84 67.7h0.4v0.4h-0.4zM87.7 69.7h0.4v0.4h-0.4zM89.7 63.1h0.4v0.4h-0.4zM97.3 64.8h0.4v0.4h-0.4zM88.6 64.2h0.4v0.4h-0.4zM76.8 67.7h0.4v0.4h-0.4zM93.5 62.4h0.4v0.4h-0.4zM80.1 69.2h0.4v0.4h-0.4zM89.5 66.8h0.4v0.4h-0.4zM91.9 67.6h0.4v0.4h-0.4zM83 69.9h0.4v0.4h-0.4zM82.1 69.6h0.4v0.4h-0.4zM89.1 66.1h0.4v0.4h-0.4zM93.8 63.9h0.4v0.4h-0.4zM94.7 65.5h0.4v0.4h-0.4zM88.8 64.5h0.4v0.4h-0.4zM83.5 66.5h0.4v0.4h-0.4zM86.8 66.4h0.4v0.4h-0.4zM105.9 61.1h0.4v0.4h-0.4zM92.6 62.5h0.4v0.4h-0.4zM83.7 66.8h0.4v0.4h-0.4zM89.2 63.4h0.4v0.4h-0.4zM97.7 61.4h0.4v0.4h-0.4zM94.5 58.7h0.4v0.4h-0.4zM88 66.6h0.4v0.4h-0.4zM89.1 66.9h0.4v0.4h-0.4zM89.7 65.8h0.4v0.4h-0.4zM76.6 68.4h0.4v0.4h-0.4zM89.8 64.9h0.4v0.4h-0.4zM83.1 66.5h0.4v0.4h-0.4zM99.1 65.8h0.4v0.4h-0.4zM87.7 68.9h0.4v0.4h-0.4zM78.5 65.2h0.4v0.4h-0.4zM85.1 65.1h0.4v0.4h-0.4zM84.6 67.6h0.4v0.4h-0.4zM106.1 58.2h0.4v0.4h-0.4zM88.3 66.5h0.4v0.4h-0.4zM87.8 68.1h0.4v0.4h-0.4zM98.7 59.6h0.4v0.4h-0.4zM89 65.1h0.4v0.4h-0.4zM90.1 62h0.4v0.4h-0.4zM77.5 64.7h0.4v0.4h-0.4zM91.2 65.3h0.4v0.4h-0.4zM88.4 60.8h0.4v0.4h-0.4zM85.8 65.2h0.4v0.4h-0.4zM79.5 67h0.4v0.4h-0.4zM92.2 65.7h0.4v0.4h-0.4zM87.9 67.1h0.4v0.4h-0.4zM84.4 67.4h0.4v0.4h-0.4zM88.2 67.1h0.4v0.4h-0.4zM87.6 65.8h0.4v0.4h-0.4zM87.2 64.9h0.4v0.4h-0.4zM101.4 62.4h0.4v0.4h-0.4zM90.6 70h0.4v0.4h-0.4zM96.4 59.7h0.4v0.4h-0.4zM92.2 66.3h0.4v0.4h-0.4zM99.3 64.9h0.4v0.4h-0.4zM92.6 61.9h0.4v0.4h-0.4zM82.8 68.4h0.4v0.4h-0.4zM91 62.8h0.4v0.4h-0.4zM85.7 66h0.4v0.4h-0.4zM88.4 66.6h0.4v0.4h-0.4zM86.3 64h0.4v0.4h-0.4zM95.5 66.8h0.4v0.4h-0.4zM87.4 68.4h0.4v0.4h-0.4zM90.7 66.5h0.4v0.4h-0.4zM90.9 63.4h0.4v0.4h-0.4zM91.4 67h0.4v0.4h-0.4zM100.5 65.5h0.4v0.4h-0.4zM99.9 63.4h0.4v0.4h-0.4zM86 65.4h0.4v0.4h-0.4zM83.1 68h0.4v0.4h-0.4zM87.8 67.5h0.4v0.4h-0.4zM101.7 61.2h0.4v0.4h-0.4zM92.1 65.6h0.4v0.4h-0.4zM89.6 65h0.4v0.4h-0.4zM87.3 64.5h0.4v0.4h-0.4zM89.1 65.6h0.4v0.4h-0.4zM89.9 63.5h0.4v0.4h-0.4zM88.2 66h0.4v0.4h-0.4zM91.6 62.5h0.4v0.4h-0.4zM90.5 67.2h0.4v0.4h-0.4zM91.6 64h0.4v0.4h-0.4zM85.1 66.5h0.4v0.4h-0.4zM92.4 67.8h0.4v0.4h-0.4zM87.1 65h0.4v0.4h-0.4zM90.3 65.6h0.4v0.4h-0.4zM82.6 66.3h0.4v0.4h-0.4zM87.4 67.7h0.4v0.4h-0.4zM80.8 66.3h0.4v0.4h-0.4zM91 62.3h0.4v0.4h-0.4zM88.7 66.5h0.4v0.4h-0.4zM87.3 64.1h0.4v0.4h-0.4zM87.6 65.4h0.4v0.4h-0.4zM90 63.5h0.4v0.4h-0.4zM94.5 60.1h0.4v0.4h-0.4zM86.9 66.4h0.4v0.4h-0.4zM93.8 62.7h0.4v0.4h-0.4zM91.3 63.6h0.4v0.4h-0.4zM92.4 68.2h0.4v0.4h-0.4zM85.6 67.8h0.4v0.4h-0.4zM82.4 70h0.4v0.4h-0.4zM95.3 63.5h0.4v0.4h-0.4zM81.2 69.2h0.4v0.4h-0.4zM94.9 65.9h0.4v0.4h-0.4zM92.9 60.4h0.4v0.4h-0.4zM83.9 70.5h0.4v0.4h-0.4zM80.6 71h0.4v0.4h-0.4zM99.3 63.7h0.4v0.4h-0.4zM94.7 62.9h0.4v0.4h-0.4zM80.6 68.4h0.4v0.4h-0.4zM86.8 66.3h0.4v0.4h-0.4zM92.2 64.2h0.4v0.4h-0.4zM89.2 66.5h0.4v0.4h-0.4zM88 70h0.4v0.4h-0.4zM90.7 65.3h0.4v0.4h-0.4zM86.8 65.1h0.4v0.4h-0.4zM96.1 63.5h0.4v0.4h-0.4zM81.5 67.1h0.4v0.4h-0.4zM87.2 65.3h0.4v0.4h-0.4zM94.5 61.2h0.4v0.4h-0.4zM91 65.3h0.4v0.4h-0.4zM80.9 68.6h0.4v0.4h-0.4zM87.4 67.3h0.4v0.4h-0.4zM85.3 67.6h0.4v0.4h-0.4zM78 67.2h0.4v0.4h-0.4zM92.7 66.6h0.4v0.4h-0.4zM87.9 64.7h0.4v0.4h-0.4z" fill="#aaa" fill-opacity="1.0"/>
<text x="0" y="0" font-size="6.8" text-anchor="middle" style="font-family:'Liberation Serif',serif;font-weight:bold" fill="#000" stroke="#000" stroke-width="0.25" transform="translate(60.5,53) rotate(-90)">CD25</text>
<text x="85.3" y="86.7" font-size="6.6" text-anchor="middle" style="font-family:'Liberation Serif',serif;font-weight:bold" fill="#000" stroke="#000" stroke-width="0.25" >CD4/CD8</text>
<line x1="103" y1="65.2" x2="126.2" y2="65.2" stroke="#000" stroke-width="1.1"/>
<path d="M130.2,65.2 L125.7,63.3 L125.7,67.1 Z" fill="#000"/>
<rect x="129.6" y="31.1" width="39.2" height="40.6" stroke="#8a8a8a" stroke-width="0.7" fill="none"/>
<line x1="129.6" y1="31.1" x2="129.6" y2="71.7" stroke="#333" stroke-width="0.8"/>
<line x1="129.6" y1="71.7" x2="168.8" y2="71.7" stroke="#333" stroke-width="0.8"/>
<line x1="128.4" y1="36.6" x2="129.6" y2="36.6" stroke="#333" stroke-width="0.7"/>
<text font-size="3.2" text-anchor="end" style="font-family:'Liberation Serif',serif;font-weight:bold" fill="#555" transform="translate(128.3,36.9) rotate(40)">10<tspan font-size="2.2" dy="-1.2">4</tspan></text>
<line x1="128.4" y1="46.7" x2="129.6" y2="46.7" stroke="#333" stroke-width="0.7"/>
<text font-size="3.2" text-anchor="end" style="font-family:'Liberation Serif',serif;font-weight:bold" fill="#555" transform="translate(128.3,47) rotate(40)">10<tspan font-size="2.2" dy="-1.2">3</tspan></text>
<line x1="128.4" y1="56.8" x2="129.6" y2="56.8" stroke="#333" stroke-width="0.7"/>
<text font-size="3.2" text-anchor="end" style="font-family:'Liberation Serif',serif;font-weight:bold" fill="#555" transform="translate(128.3,57.1) rotate(40)">10<tspan font-size="2.2" dy="-1.2">2</tspan></text>
<line x1="128.4" y1="66.9" x2="129.6" y2="66.9" stroke="#333" stroke-width="0.7"/>
<text font-size="3.2" text-anchor="end" style="font-family:'Liberation Serif',serif;font-weight:bold" fill="#555" transform="translate(128.3,67.2) rotate(40)">10<tspan font-size="2.2" dy="-1.2">1</tspan></text>
<line x1="134.6" y1="71.7" x2="134.6" y2="72.9" stroke="#333" stroke-width="0.7"/>
<text font-size="3.2" text-anchor="middle" style="font-family:'Liberation Serif',serif;font-weight:bold" fill="#555" transform="translate(134.6,76.1) rotate(40)">10<tspan font-size="2.2" dy="-1.2">1</tspan></text>
<line x1="144.7" y1="71.7" x2="144.7" y2="72.9" stroke="#333" stroke-width="0.7"/>
<text font-size="3.2" text-anchor="middle" style="font-family:'Liberation Serif',serif;font-weight:bold" fill="#555" transform="translate(144.7,76.1) rotate(40)">10<tspan font-size="2.2" dy="-1.2">2</tspan></text>
<line x1="154.8" y1="71.7" x2="154.8" y2="72.9" stroke="#333" stroke-width="0.7"/>
<text font-size="3.2" text-anchor="middle" style="font-family:'Liberation Serif',serif;font-weight:bold" fill="#555" transform="translate(154.8,76.1) rotate(40)">10<tspan font-size="2.2" dy="-1.2">3</tspan></text>
<line x1="164.9" y1="71.7" x2="164.9" y2="72.9" stroke="#333" stroke-width="0.7"/>
<text font-size="3.2" text-anchor="middle" style="font-family:'Liberation Serif',serif;font-weight:bold" fill="#555" transform="translate(164.9,76.1) rotate(40)">10<tspan font-size="2.2" dy="-1.2">4</tspan></text>
<line x1="145.1" y1="31.1" x2="145.1" y2="71.7" stroke="#666" stroke-width="0.8"/>
<line x1="163.8" y1="31.1" x2="163.8" y2="71.7" stroke="#999" stroke-width="0.6"/>
<line x1="145.1" y1="51.1" x2="163.8" y2="51.1" stroke="#666" stroke-width="0.8"/>
<path d="M135.2 58.8h0.5v0.5h-0.5zM141.3 39h0.5v0.5h-0.5zM130.7 69.8h0.5v0.5h-0.5zM139.2 42.3h0.5v0.5h-0.5zM138.8 56.8h0.5v0.5h-0.5zM141.8 32.7h0.5v0.5h-0.5zM143.4 48h0.5v0.5h-0.5zM138.6 58.1h0.5v0.5h-0.5zM135.9 47.4h0.5v0.5h-0.5zM137 51.1h0.5v0.5h-0.5zM134.1 58.6h0.5v0.5h-0.5zM140.9 48.1h0.5v0.5h-0.5zM144.1 39.9h0.5v0.5h-0.5zM141.8 31.5h0.5v0.5h-0.5zM139.4 47.7h0.5v0.5h-0.5zM136.5 47.5h0.5v0.5h-0.5zM137.1 46h0.5v0.5h-0.5zM136.3 48.4h0.5v0.5h-0.5zM134.2 53.7h0.5v0.5h-0.5zM141.9 44.5h0.5v0.5h-0.5zM136.5 62.8h0.5v0.5h-0.5zM142.7 52.8h0.5v0.5h-0.5zM143.5 42.3h0.5v0.5h-0.5zM138.1 59.3h0.5v0.5h-0.5zM136.3 51.6h0.5v0.5h-0.5zM140.2 51.2h0.5v0.5h-0.5zM137.4 58.9h0.5v0.5h-0.5zM137.9 56.5h0.5v0.5h-0.5zM143.1 50.3h0.5v0.5h-0.5zM141.7 37.7h0.5v0.5h-0.5zM133.1 51.1h0.5v0.5h-0.5zM140.6 59.6h0.5v0.5h-0.5zM133.5 57.9h0.5v0.5h-0.5zM135 48.1h0.5v0.5h-0.5zM137.4 56.6h0.5v0.5h-0.5zM139.5 58.2h0.5v0.5h-0.5zM134.5 61.4h0.5v0.5h-0.5zM142.5 46.4h0.5v0.5h-0.5zM140.6 43.5h0.5v0.5h-0.5zM134 51.7h0.5v0.5h-0.5zM136.6 65h0.5v0.5h-0.5zM139.4 51.5h0.5v0.5h-0.5zM141.7 40.6h0.5v0.5h-0.5zM142.4 48.8h0.5v0.5h-0.5zM132.2 61.5h0.5v0.5h-0.5zM140.9 51h0.5v0.5h-0.5zM140.7 53.5h0.5v0.5h-0.5zM134.8 63.4h0.5v0.5h-0.5zM132.5 46.4h0.5v0.5h-0.5zM140.8 39.2h0.5v0.5h-0.5zM138.1 37.7h0.5v0.5h-0.5zM138.9 40.9h0.5v0.5h-0.5zM140 36.5h0.5v0.5h-0.5zM140.5 45.9h0.5v0.5h-0.5zM138.9 49.2h0.5v0.5h-0.5zM139.1 39.1h0.5v0.5h-0.5zM134.7 50.7h0.5v0.5h-0.5zM140.4 32.6h0.5v0.5h-0.5zM135.4 48.7h0.5v0.5h-0.5zM134.2 57.3h0.5v0.5h-0.5zM138 44.2h0.5v0.5h-0.5zM134.5 60.7h0.5v0.5h-0.5zM135.8 57.5h0.5v0.5h-0.5zM140.5 33.2h0.5v0.5h-0.5zM134 54.9h0.5v0.5h-0.5zM140 54.5h0.5v0.5h-0.5zM142 54.5h0.5v0.5h-0.5zM137 50h0.5v0.5h-0.5zM141.9 43.2h0.5v0.5h-0.5zM143 32.9h0.5v0.5h-0.5zM141.3 45.7h0.5v0.5h-0.5zM130.3 66.5h0.5v0.5h-0.5zM139.9 48.8h0.5v0.5h-0.5zM134.1 51.2h0.5v0.5h-0.5zM144.9 36.7h0.5v0.5h-0.5zM133.6 54.4h0.5v0.5h-0.5zM136.9 44.7h0.5v0.5h-0.5zM135.1 62h0.5v0.5h-0.5zM136.3 43.9h0.5v0.5h-0.5zM141.9 50.9h0.5v0.5h-0.5zM134.2 60.5h0.5v0.5h-0.5zM130.9 51.1h0.5v0.5h-0.5zM143.3 42.9h0.5v0.5h-0.5zM133.1 59.9h0.5v0.5h-0.5zM142.5 45.7h0.5v0.5h-0.5zM131 55.4h0.5v0.5h-0.5zM140.4 54.1h0.5v0.5h-0.5zM136.6 51.9h0.5v0.5h-0.5zM143.7 37.2h0.5v0.5h-0.5zM141.9 41.1h0.5v0.5h-0.5zM140.5 53.3h0.5v0.5h-0.5zM133.6 54.6h0.5v0.5h-0.5zM139.6 53.5h0.5v0.5h-0.5zM134.7 46.5h0.5v0.5h-0.5zM137.8 49.1h0.5v0.5h-0.5zM132.3 64h0.5v0.5h-0.5zM136.4 63.6h0.5v0.5h-0.5zM142.2 46.3h0.5v0.5h-0.5zM141.7 38.1h0.5v0.5h-0.5zM137.2 47h0.5v0.5h-0.5zM133.3 55.8h0.5v0.5h-0.5zM138 61.8h0.5v0.5h-0.5zM134.7 50.5h0.5v0.5h-0.5zM140.4 51.2h0.5v0.5h-0.5zM138.7 46.2h0.5v0.5h-0.5zM140.7 50.6h0.5v0.5h-0.5zM130.9 56.2h0.5v0.5h-0.5zM132.8 47h0.5v0.5h-0.5zM139.2 49.8h0.5v0.5h-0.5zM139.1 42.7h0.5v0.5h-0.5zM137.8 43.8h0.5v0.5h-0.5zM140.2 53.6h0.5v0.5h-0.5zM135.2 50.1h0.5v0.5h-0.5zM134.7 56.6h0.5v0.5h-0.5zM133.2 59.8h0.5v0.5h-0.5zM138.6 52.3h0.5v0.5h-0.5zM135 69.1h0.5v0.5h-0.5zM140 42.4h0.5v0.5h-0.5zM130.1 47.2h0.5v0.5h-0.5zM138.8 57.5h0.5v0.5h-0.5zM138 45.2h0.5v0.5h-0.5zM135.5 68.2h0.5v0.5h-0.5zM131.2 59.3h0.5v0.5h-0.5zM138.7 54.7h0.5v0.5h-0.5zM136.9 55.7h0.5v0.5h-0.5zM142 45.2h0.5v0.5h-0.5zM136.7 50.6h0.5v0.5h-0.5zM134.5 52.7h0.5v0.5h-0.5zM137.3 53h0.5v0.5h-0.5zM144.2 54.2h0.5v0.5h-0.5zM136.7 56.7h0.5v0.5h-0.5zM139.8 54.6h0.5v0.5h-0.5zM138.7 52h0.5v0.5h-0.5zM136.6 46h0.5v0.5h-0.5zM142.3 56.2h0.5v0.5h-0.5zM141.4 50.4h0.5v0.5h-0.5zM139.7 45.3h0.5v0.5h-0.5zM131.1 63.2h0.5v0.5h-0.5zM139.4 44.8h0.5v0.5h-0.5zM134.5 64.3h0.5v0.5h-0.5zM141.3 65.6h0.5v0.5h-0.5zM135.6 53.1h0.5v0.5h-0.5zM136.5 53.5h0.5v0.5h-0.5zM137.7 45.1h0.5v0.5h-0.5zM143.1 39h0.5v0.5h-0.5zM136.5 56.6h0.5v0.5h-0.5zM136.3 49h0.5v0.5h-0.5zM140.1 45.5h0.5v0.5h-0.5zM133.4 54.8h0.5v0.5h-0.5zM137.7 64.3h0.5v0.5h-0.5zM134 62.5h0.5v0.5h-0.5zM135.3 50.8h0.5v0.5h-0.5zM137.2 53.6h0.5v0.5h-0.5zM142.2 59.8h0.5v0.5h-0.5zM135.9 63.2h0.5v0.5h-0.5zM142.8 51.9h0.5v0.5h-0.5zM135.4 60.4h0.5v0.5h-0.5zM138.1 53.2h0.5v0.5h-0.5zM137.5 56.4h0.5v0.5h-0.5zM143.3 53.8h0.5v0.5h-0.5zM137.7 58.7h0.5v0.5h-0.5zM144.7 36.2h0.5v0.5h-0.5zM144.8 33h0.5v0.5h-0.5zM140.9 52.2h0.5v0.5h-0.5zM144.8 45.5h0.5v0.5h-0.5zM136.6 46h0.5v0.5h-0.5zM133.3 61.6h0.5v0.5h-0.5zM137.6 45.5h0.5v0.5h-0.5zM140.8 41.6h0.5v0.5h-0.5zM136.8 48.4h0.5v0.5h-0.5zM137.9 38.5h0.5v0.5h-0.5zM139.8 49.3h0.5v0.5h-0.5zM140.1 52.8h0.5v0.5h-0.5zM137.3 58.7h0.5v0.5h-0.5zM142.1 47.9h0.5v0.5h-0.5zM136.9 48.1h0.5v0.5h-0.5zM141.5 38.3h0.5v0.5h-0.5zM137.9 44.9h0.5v0.5h-0.5zM132.7 61h0.5v0.5h-0.5zM138.5 50.4h0.5v0.5h-0.5zM142.3 34.4h0.5v0.5h-0.5zM138.3 52.6h0.5v0.5h-0.5zM142.1 37.8h0.5v0.5h-0.5zM141.6 48.5h0.5v0.5h-0.5zM144.3 52.8h0.5v0.5h-0.5zM140.9 64.3h0.5v0.5h-0.5zM138.6 46.7h0.5v0.5h-0.5zM137.2 44.2h0.5v0.5h-0.5zM138.5 35.5h0.5v0.5h-0.5zM138.2 53.7h0.5v0.5h-0.5zM142.8 42.8h0.5v0.5h-0.5zM144.4 38.7h0.5v0.5h-0.5zM138 36h0.5v0.5h-0.5zM135.4 47.3h0.5v0.5h-0.5zM144.7 47.5h0.5v0.5h-0.5zM134.1 58.9h0.5v0.5h-0.5zM140.6 46.1h0.5v0.5h-0.5zM138.7 47.6h0.5v0.5h-0.5zM136.4 38.9h0.5v0.5h-0.5zM138.2 60.2h0.5v0.5h-0.5zM144.5 41.6h0.5v0.5h-0.5zM135.5 51.7h0.5v0.5h-0.5zM142.3 48.7h0.5v0.5h-0.5zM136.2 55.3h0.5v0.5h-0.5zM137.8 54.8h0.5v0.5h-0.5zM136.9 40.6h0.5v0.5h-0.5zM138.8 55.5h0.5v0.5h-0.5zM134.1 54h0.5v0.5h-0.5zM142.2 43.3h0.5v0.5h-0.5zM135.9 68.3h0.5v0.5h-0.5zM142 54.2h0.5v0.5h-0.5zM134.7 66.5h0.5v0.5h-0.5zM131.8 53.3h0.5v0.5h-0.5zM141.6 56.9h0.5v0.5h-0.5zM134.8 49h0.5v0.5h-0.5zM139.4 34.5h0.5v0.5h-0.5zM141.2 51.4h0.5v0.5h-0.5zM136.8 56h0.5v0.5h-0.5zM141.8 48.9h0.5v0.5h-0.5zM140.7 59.2h0.5v0.5h-0.5zM136.7 53.3h0.5v0.5h-0.5zM136.5 60.1h0.5v0.5h-0.5zM136.9 55.4h0.5v0.5h-0.5zM139.2 49.9h0.5v0.5h-0.5zM144.4 50.1h0.5v0.5h-0.5zM144 43h0.5v0.5h-0.5zM142.4 51.7h0.5v0.5h-0.5zM136.1 54.7h0.5v0.5h-0.5zM138.1 50.3h0.5v0.5h-0.5zM143.9 38.9h0.5v0.5h-0.5zM131.8 44.2h0.5v0.5h-0.5zM136.8 47.1h0.5v0.5h-0.5zM138.7 54.2h0.5v0.5h-0.5zM140.5 42.5h0.5v0.5h-0.5zM141 57.7h0.5v0.5h-0.5zM142.2 58h0.5v0.5h-0.5zM141.9 35.2h0.5v0.5h-0.5zM137.4 55.7h0.5v0.5h-0.5zM140.3 42.1h0.5v0.5h-0.5zM135 61.1h0.5v0.5h-0.5zM133.2 66.6h0.5v0.5h-0.5zM138.7 52.2h0.5v0.5h-0.5zM133.2 51.3h0.5v0.5h-0.5zM141.4 36h0.5v0.5h-0.5zM133.7 55.6h0.5v0.5h-0.5zM140.5 53.4h0.5v0.5h-0.5zM137.1 50.1h0.5v0.5h-0.5zM137.6 46.7h0.5v0.5h-0.5zM139.6 50.1h0.5v0.5h-0.5zM136.1 54.6h0.5v0.5h-0.5zM138.5 49.5h0.5v0.5h-0.5zM143.1 32.3h0.5v0.5h-0.5zM139.6 40.9h0.5v0.5h-0.5zM137.3 62.6h0.5v0.5h-0.5zM134.2 53.9h0.5v0.5h-0.5zM136.2 59.7h0.5v0.5h-0.5zM134.6 41.6h0.5v0.5h-0.5zM140.7 45.1h0.5v0.5h-0.5zM137.3 59.5h0.5v0.5h-0.5zM135 51h0.5v0.5h-0.5zM139.2 52.5h0.5v0.5h-0.5zM136.5 60h0.5v0.5h-0.5zM144.3 41.3h0.5v0.5h-0.5zM139.2 46.9h0.5v0.5h-0.5zM136 43.2h0.5v0.5h-0.5zM137 61.4h0.5v0.5h-0.5zM143.2 42.5h0.5v0.5h-0.5zM136.5 47h0.5v0.5h-0.5zM133.8 68.7h0.5v0.5h-0.5zM141.3 48h0.5v0.5h-0.5zM136.6 44.5h0.5v0.5h-0.5zM143.9 50.2h0.5v0.5h-0.5zM134.8 61.5h0.5v0.5h-0.5zM134.1 59.6h0.5v0.5h-0.5zM134.7 51h0.5v0.5h-0.5zM140.6 51.1h0.5v0.5h-0.5zM142.7 39.4h0.5v0.5h-0.5zM145 53.2h0.5v0.5h-0.5zM138.6 53.5h0.5v0.5h-0.5zM135.5 52.2h0.5v0.5h-0.5zM133.3 56.4h0.5v0.5h-0.5zM139.4 59.2h0.5v0.5h-0.5zM142.4 52h0.5v0.5h-0.5zM137.1 49.9h0.5v0.5h-0.5zM137.2 53.1h0.5v0.5h-0.5zM130.8 64.1h0.5v0.5h-0.5zM132.3 52.9h0.5v0.5h-0.5zM138.7 46.1h0.5v0.5h-0.5zM144.9 52h0.5v0.5h-0.5zM136.6 55.1h0.5v0.5h-0.5zM143.8 41.9h0.5v0.5h-0.5zM139 45.4h0.5v0.5h-0.5zM138.8 47.1h0.5v0.5h-0.5zM138.9 57.1h0.5v0.5h-0.5zM144.2 45h0.5v0.5h-0.5zM139.4 55.5h0.5v0.5h-0.5zM137.4 43.3h0.5v0.5h-0.5zM143.1 38.2h0.5v0.5h-0.5zM142.4 38.8h0.5v0.5h-0.5zM142 57.6h0.5v0.5h-0.5zM134.7 65.3h0.5v0.5h-0.5zM135.3 40.4h0.5v0.5h-0.5zM141.5 52.1h0.5v0.5h-0.5zM137.8 32h0.5v0.5h-0.5zM138.4 47.9h0.5v0.5h-0.5zM137.1 49.5h0.5v0.5h-0.5zM131.4 53.5h0.5v0.5h-0.5zM137.1 46.2h0.5v0.5h-0.5zM140.2 56.2h0.5v0.5h-0.5zM141.5 38.1h0.5v0.5h-0.5zM139.3 50.3h0.5v0.5h-0.5zM144.4 52.7h0.5v0.5h-0.5zM140.7 56.8h0.5v0.5h-0.5zM137 63.2h0.5v0.5h-0.5zM136.9 54.8h0.5v0.5h-0.5zM142.3 39.2h0.5v0.5h-0.5zM135.8 39.9h0.5v0.5h-0.5zM139.3 48.9h0.5v0.5h-0.5zM137.3 55.1h0.5v0.5h-0.5zM130.1 59h0.5v0.5h-0.5zM139 47.6h0.5v0.5h-0.5zM141.8 59.7h0.5v0.5h-0.5zM136.8 44.9h0.5v0.5h-0.5zM136.2 53.3h0.5v0.5h-0.5zM141 41h0.5v0.5h-0.5zM142.6 38h0.5v0.5h-0.5zM141.9 49.6h0.5v0.5h-0.5zM140.5 64.1h0.5v0.5h-0.5zM137.5 49.9h0.5v0.5h-0.5zM140.5 54.4h0.5v0.5h-0.5zM133.2 57.8h0.5v0.5h-0.5zM135.6 57.9h0.5v0.5h-0.5zM144.1 44.5h0.5v0.5h-0.5zM138.2 51.8h0.5v0.5h-0.5zM140.9 48.8h0.5v0.5h-0.5zM137 46.2h0.5v0.5h-0.5zM137.9 59.9h0.5v0.5h-0.5zM138.2 60.5h0.5v0.5h-0.5zM139.7 48.7h0.5v0.5h-0.5zM131.9 52.2h0.5v0.5h-0.5zM143.6 34.9h0.5v0.5h-0.5zM134.6 46.1h0.5v0.5h-0.5zM136.4 57.2h0.5v0.5h-0.5zM141 32.2h0.5v0.5h-0.5zM144.5 39.3h0.5v0.5h-0.5zM136.2 65h0.5v0.5h-0.5zM138.3 41.1h0.5v0.5h-0.5zM136 47.3h0.5v0.5h-0.5zM134.5 51.9h0.5v0.5h-0.5zM142.1 48.8h0.5v0.5h-0.5zM134.6 55.1h0.5v0.5h-0.5zM138.7 55.6h0.5v0.5h-0.5zM137.3 54.8h0.5v0.5h-0.5zM134.2 57.1h0.5v0.5h-0.5zM135.4 50.7h0.5v0.5h-0.5zM139.4 51.7h0.5v0.5h-0.5zM137.5 57.6h0.5v0.5h-0.5zM137.8 41.1h0.5v0.5h-0.5zM142.1 43.5h0.5v0.5h-0.5zM143.5 39.9h0.5v0.5h-0.5zM140.9 49.9h0.5v0.5h-0.5zM134.1 65.4h0.5v0.5h-0.5zM131 65h0.5v0.5h-0.5zM143 49h0.5v0.5h-0.5zM141.3 43.4h0.5v0.5h-0.5zM138.6 51.7h0.5v0.5h-0.5zM140.3 53.5h0.5v0.5h-0.5zM137.8 45.6h0.5v0.5h-0.5zM136.3 55.5h0.5v0.5h-0.5zM131.9 47.8h0.5v0.5h-0.5zM136.9 47.6h0.5v0.5h-0.5zM137.5 31.2h0.5v0.5h-0.5zM137.2 49.6h0.5v0.5h-0.5zM141.7 31.8h0.5v0.5h-0.5zM137.4 54.9h0.5v0.5h-0.5zM140.6 56.8h0.5v0.5h-0.5zM142.9 37.6h0.5v0.5h-0.5zM141.2 44.7h0.5v0.5h-0.5zM135.4 65h0.5v0.5h-0.5zM136.1 46.3h0.5v0.5h-0.5zM137 45.4h0.5v0.5h-0.5zM142.7 48.5h0.5v0.5h-0.5zM144.3 47h0.5v0.5h-0.5zM136.1 60.5h0.5v0.5h-0.5zM136 49.4h0.5v0.5h-0.5zM137.9 51h0.5v0.5h-0.5zM143.4 40.3h0.5v0.5h-0.5zM140 48.3h0.5v0.5h-0.5zM133.5 47.2h0.5v0.5h-0.5zM137.7 54h0.5v0.5h-0.5zM139.9 52.2h0.5v0.5h-0.5zM138.8 46.4h0.5v0.5h-0.5zM140.3 40.6h0.5v0.5h-0.5zM133.2 53.3h0.5v0.5h-0.5zM132.8 52.3h0.5v0.5h-0.5zM135.6 49.1h0.5v0.5h-0.5zM138.4 44.2h0.5v0.5h-0.5zM136.9 39h0.5v0.5h-0.5zM139.2 42.8h0.5v0.5h-0.5zM135.4 55.3h0.5v0.5h-0.5zM139 50.4h0.5v0.5h-0.5zM132.5 58.2h0.5v0.5h-0.5zM139.2 42h0.5v0.5h-0.5zM141.6 46.4h0.5v0.5h-0.5zM138.7 46.5h0.5v0.5h-0.5zM140.8 48.4h0.5v0.5h-0.5zM143.2 48.5h0.5v0.5h-0.5zM136.1 51h0.5v0.5h-0.5zM142.3 43.3h0.5v0.5h-0.5zM140.2 52.3h0.5v0.5h-0.5zM137.9 33.3h0.5v0.5h-0.5zM139.1 51h0.5v0.5h-0.5zM139.2 43.7h0.5v0.5h-0.5zM143.5 43.7h0.5v0.5h-0.5zM136.1 47.3h0.5v0.5h-0.5zM140.1 40.2h0.5v0.5h-0.5zM134.5 69.4h0.5v0.5h-0.5zM143.9 52.2h0.5v0.5h-0.5zM144.1 48.5h0.5v0.5h-0.5zM131.8 66.3h0.5v0.5h-0.5zM143.6 48.3h0.5v0.5h-0.5zM130.6 67.9h0.5v0.5h-0.5zM144.2 40.3h0.5v0.5h-0.5zM139.1 55.3h0.5v0.5h-0.5zM138.3 58.7h0.5v0.5h-0.5zM138.9 54.9h0.5v0.5h-0.5zM138.9 38.5h0.5v0.5h-0.5zM139.7 58.7h0.5v0.5h-0.5zM143.2 58h0.5v0.5h-0.5zM140.9 43.1h0.5v0.5h-0.5zM138.7 35.4h0.5v0.5h-0.5zM137.8 57.7h0.5v0.5h-0.5zM129.8 60.9h0.5v0.5h-0.5zM142 56.4h0.5v0.5h-0.5zM134.8 49.1h0.5v0.5h-0.5zM131 50.5h0.5v0.5h-0.5zM140.8 63.3h0.5v0.5h-0.5zM133.9 65.4h0.5v0.5h-0.5zM140.3 44.4h0.5v0.5h-0.5zM138.3 52h0.5v0.5h-0.5zM142.6 56h0.5v0.5h-0.5zM140.7 50.5h0.5v0.5h-0.5zM137.9 47.7h0.5v0.5h-0.5zM133.6 70.1h0.5v0.5h-0.5zM136.8 36.2h0.5v0.5h-0.5zM139.7 48.6h0.5v0.5h-0.5zM139.3 63h0.5v0.5h-0.5zM138.2 48.5h0.5v0.5h-0.5zM135.6 53.1h0.5v0.5h-0.5zM136.8 53.5h0.5v0.5h-0.5zM135.1 68.4h0.5v0.5h-0.5zM142.1 52.4h0.5v0.5h-0.5zM141.5 53.1h0.5v0.5h-0.5zM141.4 57.7h0.5v0.5h-0.5zM142.7 55.8h0.5v0.5h-0.5zM136.5 52.2h0.5v0.5h-0.5zM135.6 60.5h0.5v0.5h-0.5zM142 42.8h0.5v0.5h-0.5zM141 67.4h0.5v0.5h-0.5zM143.7 36.1h0.5v0.5h-0.5zM138.2 55.2h0.5v0.5h-0.5zM138.5 53.1h0.5v0.5h-0.5zM143.4 47.3h0.5v0.5h-0.5zM134.1 60.2h0.5v0.5h-0.5zM138.2 51.3h0.5v0.5h-0.5zM136.3 42h0.5v0.5h-0.5zM133.5 52.8h0.5v0.5h-0.5zM134.2 34.1h0.5v0.5h-0.5zM143.3 36.2h0.5v0.5h-0.5zM135.6 57.2h0.5v0.5h-0.5zM135.5 58.4h0.5v0.5h-0.5zM136.6 54.4h0.5v0.5h-0.5zM139 49.5h0.5v0.5h-0.5zM131.1 46.8h0.5v0.5h-0.5zM138.4 60.9h0.5v0.5h-0.5zM136.4 56.4h0.5v0.5h-0.5zM139.3 53h0.5v0.5h-0.5zM142.7 34.3h0.5v0.5h-0.5zM139.7 47.4h0.5v0.5h-0.5zM137.3 44.9h0.5v0.5h-0.5zM135.4 45.6h0.5v0.5h-0.5zM141.6 39.3h0.5v0.5h-0.5zM139.2 60.3h0.5v0.5h-0.5zM138.4 42.6h0.5v0.5h-0.5zM137.6 43.5h0.5v0.5h-0.5zM132.9 54.4h0.5v0.5h-0.5zM137 45.6h0.5v0.5h-0.5zM135 46.8h0.5v0.5h-0.5zM139.6 59.5h0.5v0.5h-0.5zM137.7 67.9h0.5v0.5h-0.5zM132 59.2h0.5v0.5h-0.5zM133.9 53.8h0.5v0.5h-0.5zM139 53.8h0.5v0.5h-0.5zM143.2 40.8h0.5v0.5h-0.5zM133.5 54h0.5v0.5h-0.5zM139.8 43.4h0.5v0.5h-0.5zM142.3 58.9h0.5v0.5h-0.5zM132.8 59h0.5v0.5h-0.5zM139.4 47.4h0.5v0.5h-0.5zM132.8 66.2h0.5v0.5h-0.5zM139.5 45.4h0.5v0.5h-0.5zM140.4 52.9h0.5v0.5h-0.5zM141.7 51h0.5v0.5h-0.5zM140.3 39.3h0.5v0.5h-0.5zM136.9 52.8h0.5v0.5h-0.5zM137 43.7h0.5v0.5h-0.5zM131.2 59.9h0.5v0.5h-0.5zM138.7 45.4h0.5v0.5h-0.5zM136.9 45.1h0.5v0.5h-0.5zM135.5 52.5h0.5v0.5h-0.5zM136 58h0.5v0.5h-0.5zM138 51.6h0.5v0.5h-0.5zM140.3 57.9h0.5v0.5h-0.5zM141.1 49.1h0.5v0.5h-0.5zM137.9 44.6h0.5v0.5h-0.5zM137.2 56.7h0.5v0.5h-0.5zM139.5 46.1h0.5v0.5h-0.5zM133.1 44.2h0.5v0.5h-0.5zM139.9 56.4h0.5v0.5h-0.5zM140.1 37.9h0.5v0.5h-0.5zM137.7 52.6h0.5v0.5h-0.5zM134.8 56.7h0.5v0.5h-0.5zM137.8 44.5h0.5v0.5h-0.5zM133.5 61.6h0.5v0.5h-0.5zM140.1 41.7h0.5v0.5h-0.5zM134.4 61.2h0.5v0.5h-0.5zM141 45.1h0.5v0.5h-0.5zM134.3 62.9h0.5v0.5h-0.5zM137.8 53.4h0.5v0.5h-0.5zM138.8 42.2h0.5v0.5h-0.5zM133.7 53.7h0.5v0.5h-0.5zM144.3 36.2h0.5v0.5h-0.5zM144.2 45.7h0.5v0.5h-0.5zM134.1 56.9h0.5v0.5h-0.5zM140.9 40.7h0.5v0.5h-0.5zM129.9 62h0.5v0.5h-0.5zM134.1 58.2h0.5v0.5h-0.5zM130.8 57.3h0.5v0.5h-0.5zM135.3 42.3h0.5v0.5h-0.5zM137.6 52.4h0.5v0.5h-0.5zM136.3 43.5h0.5v0.5h-0.5zM139.5 35.8h0.5v0.5h-0.5zM140.8 51.4h0.5v0.5h-0.5zM140 50.4h0.5v0.5h-0.5zM138.7 39.8h0.5v0.5h-0.5zM144.6 47.6h0.5v0.5h-0.5zM137.4 42.6h0.5v0.5h-0.5zM144.7 47.5h0.5v0.5h-0.5z" fill="#888" fill-opacity="1.0"/>
<path d="M135.8 54.8h0.5v0.5h-0.5zM144.2 42.4h0.5v0.5h-0.5zM140.1 44.7h0.5v0.5h-0.5zM137.3 55.3h0.5v0.5h-0.5zM138.7 52.4h0.5v0.5h-0.5zM138.2 52.6h0.5v0.5h-0.5zM141.3 40.5h0.5v0.5h-0.5zM136.1 50.8h0.5v0.5h-0.5zM141.3 47h0.5v0.5h-0.5zM142.4 37.4h0.5v0.5h-0.5zM140.3 43.4h0.5v0.5h-0.5zM139.3 49.3h0.5v0.5h-0.5zM136.4 49.7h0.5v0.5h-0.5zM135.8 52.7h0.5v0.5h-0.5zM136.7 48h0.5v0.5h-0.5zM139.6 44.1h0.5v0.5h-0.5zM142.1 41.4h0.5v0.5h-0.5zM141.3 47h0.5v0.5h-0.5zM136.2 49.9h0.5v0.5h-0.5zM136.7 48.6h0.5v0.5h-0.5zM138.3 58h0.5v0.5h-0.5zM137.9 57.1h0.5v0.5h-0.5zM140.2 40.1h0.5v0.5h-0.5zM132.7 58.1h0.5v0.5h-0.5zM133.6 57.4h0.5v0.5h-0.5zM141.8 47h0.5v0.5h-0.5zM138.4 47.3h0.5v0.5h-0.5zM139.7 45.7h0.5v0.5h-0.5zM137.5 47.7h0.5v0.5h-0.5zM142.2 41.5h0.5v0.5h-0.5zM140 41.1h0.5v0.5h-0.5zM137.1 43.2h0.5v0.5h-0.5zM138.5 52h0.5v0.5h-0.5zM139.8 44.6h0.5v0.5h-0.5zM140.7 44.5h0.5v0.5h-0.5zM140 48.3h0.5v0.5h-0.5zM140.5 34h0.5v0.5h-0.5zM135.5 55.7h0.5v0.5h-0.5zM138.7 59.6h0.5v0.5h-0.5zM138.4 45.9h0.5v0.5h-0.5zM143 46.5h0.5v0.5h-0.5zM144.1 45.1h0.5v0.5h-0.5zM138.4 52.2h0.5v0.5h-0.5zM136.9 48h0.5v0.5h-0.5zM137.5 48.5h0.5v0.5h-0.5zM141.1 43.3h0.5v0.5h-0.5zM139.9 44.6h0.5v0.5h-0.5zM141.4 31.6h0.5v0.5h-0.5zM138.4 49.5h0.5v0.5h-0.5zM136.1 56.2h0.5v0.5h-0.5zM139.6 53.8h0.5v0.5h-0.5zM141.6 48.4h0.5v0.5h-0.5zM138.6 43h0.5v0.5h-0.5zM138.4 46.3h0.5v0.5h-0.5zM139.7 44.9h0.5v0.5h-0.5zM142.2 42.2h0.5v0.5h-0.5zM138.3 53.4h0.5v0.5h-0.5zM139 41.9h0.5v0.5h-0.5zM140.1 45.8h0.5v0.5h-0.5zM133.4 55h0.5v0.5h-0.5zM136.1 47.3h0.5v0.5h-0.5zM140.3 48.1h0.5v0.5h-0.5zM138.2 59.7h0.5v0.5h-0.5zM140.1 43.7h0.5v0.5h-0.5zM139.6 46.7h0.5v0.5h-0.5zM133 46.5h0.5v0.5h-0.5zM135.2 62.4h0.5v0.5h-0.5zM138.5 47.1h0.5v0.5h-0.5zM137.5 54.6h0.5v0.5h-0.5zM139.1 56.5h0.5v0.5h-0.5zM141.1 54h0.5v0.5h-0.5zM138.7 50.2h0.5v0.5h-0.5zM137.8 48.4h0.5v0.5h-0.5zM134.3 50.1h0.5v0.5h-0.5zM136.4 47.5h0.5v0.5h-0.5zM142.3 45.8h0.5v0.5h-0.5zM142.3 48.8h0.5v0.5h-0.5zM141.5 50.4h0.5v0.5h-0.5zM137.4 53.8h0.5v0.5h-0.5zM138.1 46.3h0.5v0.5h-0.5zM142.2 55.4h0.5v0.5h-0.5zM136.4 59.5h0.5v0.5h-0.5zM141.2 41.4h0.5v0.5h-0.5zM139.7 49.1h0.5v0.5h-0.5zM140 45.1h0.5v0.5h-0.5zM135.5 51.9h0.5v0.5h-0.5zM141.3 49.4h0.5v0.5h-0.5zM140.8 51.6h0.5v0.5h-0.5zM136.3 50.7h0.5v0.5h-0.5zM139.9 52h0.5v0.5h-0.5zM139.4 50.1h0.5v0.5h-0.5zM139.4 58.1h0.5v0.5h-0.5zM133.1 54.2h0.5v0.5h-0.5zM134.1 54h0.5v0.5h-0.5zM135.1 48.7h0.5v0.5h-0.5zM139.6 55.9h0.5v0.5h-0.5zM140.2 50h0.5v0.5h-0.5zM141.7 46.1h0.5v0.5h-0.5zM136.7 50h0.5v0.5h-0.5zM139.9 45.6h0.5v0.5h-0.5zM137.2 48.1h0.5v0.5h-0.5zM135 47.2h0.5v0.5h-0.5zM138.8 46.5h0.5v0.5h-0.5zM139.1 54.9h0.5v0.5h-0.5zM139.8 47h0.5v0.5h-0.5zM135.8 46h0.5v0.5h-0.5zM140 42.5h0.5v0.5h-0.5zM140.2 41.4h0.5v0.5h-0.5zM139.4 47.2h0.5v0.5h-0.5zM141.7 43.2h0.5v0.5h-0.5zM138 50.3h0.5v0.5h-0.5zM139.1 56.3h0.5v0.5h-0.5zM138.3 46.1h0.5v0.5h-0.5zM138.1 51.3h0.5v0.5h-0.5zM139.6 50.8h0.5v0.5h-0.5zM135.3 64.4h0.5v0.5h-0.5zM144 42.5h0.5v0.5h-0.5zM135.7 52.3h0.5v0.5h-0.5zM140.1 35.6h0.5v0.5h-0.5zM139 40.6h0.5v0.5h-0.5zM140.2 53.6h0.5v0.5h-0.5zM141.8 37.5h0.5v0.5h-0.5zM142.7 48.5h0.5v0.5h-0.5zM138 51.6h0.5v0.5h-0.5zM143.1 42h0.5v0.5h-0.5zM139 45.2h0.5v0.5h-0.5zM142.1 33.9h0.5v0.5h-0.5zM142.8 39.1h0.5v0.5h-0.5zM141.5 37.2h0.5v0.5h-0.5zM136.5 47.7h0.5v0.5h-0.5zM141.2 37.5h0.5v0.5h-0.5zM140.6 43.1h0.5v0.5h-0.5zM142.3 42.9h0.5v0.5h-0.5zM140.3 45.7h0.5v0.5h-0.5zM143.8 41h0.5v0.5h-0.5zM138.9 58h0.5v0.5h-0.5zM139.2 51.2h0.5v0.5h-0.5zM137 51.1h0.5v0.5h-0.5zM132.9 55.1h0.5v0.5h-0.5zM137.3 42.4h0.5v0.5h-0.5zM135.2 57.8h0.5v0.5h-0.5zM140.1 39.2h0.5v0.5h-0.5zM143.9 39.3h0.5v0.5h-0.5zM138 50.3h0.5v0.5h-0.5zM135.9 43.2h0.5v0.5h-0.5zM137 56.1h0.5v0.5h-0.5zM141.6 37.4h0.5v0.5h-0.5zM142.2 44.7h0.5v0.5h-0.5zM140.3 46.8h0.5v0.5h-0.5zM140.1 41.8h0.5v0.5h-0.5zM136.6 47.1h0.5v0.5h-0.5zM138 52.2h0.5v0.5h-0.5zM135.7 59.5h0.5v0.5h-0.5zM137.3 46.9h0.5v0.5h-0.5zM140.9 48.1h0.5v0.5h-0.5zM138.1 43.6h0.5v0.5h-0.5zM136.3 42.9h0.5v0.5h-0.5zM142.1 50.1h0.5v0.5h-0.5zM144 45.1h0.5v0.5h-0.5zM139.9 50.8h0.5v0.5h-0.5zM141.6 44h0.5v0.5h-0.5zM139.9 57.8h0.5v0.5h-0.5zM134.4 45.9h0.5v0.5h-0.5zM136.4 54.5h0.5v0.5h-0.5zM142.2 42.9h0.5v0.5h-0.5zM140.8 45.8h0.5v0.5h-0.5zM139.8 44.4h0.5v0.5h-0.5zM138.9 48.1h0.5v0.5h-0.5zM142 55.9h0.5v0.5h-0.5zM134.1 55.9h0.5v0.5h-0.5zM139 52.9h0.5v0.5h-0.5zM141.9 48.8h0.5v0.5h-0.5zM141.2 40.9h0.5v0.5h-0.5zM134.4 61.3h0.5v0.5h-0.5zM142.3 39.7h0.5v0.5h-0.5zM142.5 47.6h0.5v0.5h-0.5zM132.4 59.6h0.5v0.5h-0.5zM136.3 56.7h0.5v0.5h-0.5zM137.2 46.2h0.5v0.5h-0.5zM134.8 51.4h0.5v0.5h-0.5zM141.7 41.7h0.5v0.5h-0.5zM134 64.1h0.5v0.5h-0.5zM144 46.1h0.5v0.5h-0.5zM137.6 43.5h0.5v0.5h-0.5zM134.6 55.5h0.5v0.5h-0.5zM142.5 38.9h0.5v0.5h-0.5zM139 46.6h0.5v0.5h-0.5zM138.3 51.3h0.5v0.5h-0.5zM144.6 38.8h0.5v0.5h-0.5zM141.3 51h0.5v0.5h-0.5zM138.2 48.1h0.5v0.5h-0.5zM135.4 57.3h0.5v0.5h-0.5zM137.6 46.3h0.5v0.5h-0.5zM139.2 43.5h0.5v0.5h-0.5zM136.2 49.5h0.5v0.5h-0.5zM143 42.7h0.5v0.5h-0.5zM140.4 39.1h0.5v0.5h-0.5zM133.7 62.7h0.5v0.5h-0.5zM137.9 41.4h0.5v0.5h-0.5zM138.7 51.3h0.5v0.5h-0.5zM134.3 48.6h0.5v0.5h-0.5zM139.7 42.6h0.5v0.5h-0.5zM141.2 50.5h0.5v0.5h-0.5zM140.2 44.6h0.5v0.5h-0.5zM138.9 45h0.5v0.5h-0.5zM138.6 50h0.5v0.5h-0.5zM138.2 53.7h0.5v0.5h-0.5zM139.9 51.1h0.5v0.5h-0.5zM140.7 44.9h0.5v0.5h-0.5zM137.7 54.4h0.5v0.5h-0.5zM140.7 48.7h0.5v0.5h-0.5zM136.8 53.5h0.5v0.5h-0.5zM141.1 44.8h0.5v0.5h-0.5zM140.7 57h0.5v0.5h-0.5zM133.9 56.5h0.5v0.5h-0.5zM135.8 44.5h0.5v0.5h-0.5z" fill="#444" fill-opacity="1.0"/>
<path d="M151.5 39.4h0.5v0.5h-0.5zM151.9 36.4h0.5v0.5h-0.5zM149.7 37.8h0.5v0.5h-0.5zM151.8 37h0.5v0.5h-0.5zM149.6 41.8h0.5v0.5h-0.5zM150.6 38.3h0.5v0.5h-0.5zM151 37.5h0.5v0.5h-0.5zM151.9 37.9h0.5v0.5h-0.5zM152.7 36.2h0.5v0.5h-0.5zM149.6 42.1h0.5v0.5h-0.5zM151.7 39.7h0.5v0.5h-0.5zM153.5 39h0.5v0.5h-0.5zM151.9 35.7h0.5v0.5h-0.5zM149.5 40.5h0.5v0.5h-0.5zM152.8 39.2h0.5v0.5h-0.5zM149.4 35.2h0.5v0.5h-0.5zM150.3 36.6h0.5v0.5h-0.5zM152 36.6h0.5v0.5h-0.5zM154.1 36.9h0.5v0.5h-0.5zM151 40h0.5v0.5h-0.5zM152.3 36.8h0.5v0.5h-0.5zM153 41.5h0.5v0.5h-0.5zM150 38.3h0.5v0.5h-0.5zM150.2 35.3h0.5v0.5h-0.5zM152.7 39.4h0.5v0.5h-0.5zM153.2 38.9h0.5v0.5h-0.5zM148.9 38.9h0.5v0.5h-0.5zM150.8 36.5h0.5v0.5h-0.5zM150.2 40h0.5v0.5h-0.5zM151.4 41.9h0.5v0.5h-0.5zM152.5 35h0.5v0.5h-0.5zM153.1 40.3h0.5v0.5h-0.5zM151.8 36.3h0.5v0.5h-0.5zM154.4 35.7h0.5v0.5h-0.5zM151.7 35.1h0.5v0.5h-0.5zM150 35.8h0.5v0.5h-0.5zM153.4 40.2h0.5v0.5h-0.5zM151.2 36.2h0.5v0.5h-0.5zM151.7 39.1h0.5v0.5h-0.5zM149.6 36.8h0.5v0.5h-0.5zM151.7 39.6h0.5v0.5h-0.5zM151.9 39.2h0.5v0.5h-0.5zM150 34.4h0.5v0.5h-0.5zM152.3 36.7h0.5v0.5h-0.5zM151.6 37.8h0.5v0.5h-0.5zM152.5 36.9h0.5v0.5h-0.5zM153.9 38.1h0.5v0.5h-0.5zM152.6 39.4h0.5v0.5h-0.5zM153.3 38.8h0.5v0.5h-0.5zM149.2 37.8h0.5v0.5h-0.5zM154.5 38.7h0.5v0.5h-0.5zM152.6 39.1h0.5v0.5h-0.5zM150.9 37.4h0.5v0.5h-0.5zM150.9 40.6h0.5v0.5h-0.5zM152.3 41.4h0.5v0.5h-0.5zM152.5 41.6h0.5v0.5h-0.5zM152.5 36.2h0.5v0.5h-0.5zM154.4 38.5h0.5v0.5h-0.5zM153.5 38.5h0.5v0.5h-0.5zM151.3 38.8h0.5v0.5h-0.5zM150.2 36.6h0.5v0.5h-0.5zM150.5 37.7h0.5v0.5h-0.5zM149.8 38.6h0.5v0.5h-0.5zM152.2 41.9h0.5v0.5h-0.5zM154.5 37.8h0.5v0.5h-0.5zM153.1 37.8h0.5v0.5h-0.5zM152.4 38.2h0.5v0.5h-0.5zM151 38.7h0.5v0.5h-0.5zM149.6 39.6h0.5v0.5h-0.5zM151.4 36.6h0.5v0.5h-0.5zM151.3 39.5h0.5v0.5h-0.5zM150.8 39.4h0.5v0.5h-0.5zM152.6 41h0.5v0.5h-0.5zM150.2 38.5h0.5v0.5h-0.5zM152.6 40.9h0.5v0.5h-0.5zM152.2 39.7h0.5v0.5h-0.5zM149.6 37.8h0.5v0.5h-0.5zM154.3 37.5h0.5v0.5h-0.5zM155 36.5h0.5v0.5h-0.5zM151.4 35.7h0.5v0.5h-0.5zM152.7 38.7h0.5v0.5h-0.5zM154.8 38.2h0.5v0.5h-0.5zM151.4 36h0.5v0.5h-0.5zM151.7 40.1h0.5v0.5h-0.5zM152.9 40.4h0.5v0.5h-0.5zM153.1 38.1h0.5v0.5h-0.5zM152.7 38.5h0.5v0.5h-0.5zM149.8 41.8h0.5v0.5h-0.5zM152.4 36.5h0.5v0.5h-0.5zM152.4 38.8h0.5v0.5h-0.5zM153.3 40.7h0.5v0.5h-0.5zM147.3 40.2h0.5v0.5h-0.5zM154.1 36.3h0.5v0.5h-0.5zM149 39.4h0.5v0.5h-0.5zM152.3 38.9h0.5v0.5h-0.5zM150.2 37.9h0.5v0.5h-0.5zM152.1 39.7h0.5v0.5h-0.5zM155.1 38.3h0.5v0.5h-0.5zM150.9 34.4h0.5v0.5h-0.5zM153.4 37.9h0.5v0.5h-0.5zM151.6 36.7h0.5v0.5h-0.5zM152.9 35h0.5v0.5h-0.5zM152 38.6h0.5v0.5h-0.5zM152.2 40.6h0.5v0.5h-0.5zM151.7 38.6h0.5v0.5h-0.5zM153.1 35.4h0.5v0.5h-0.5zM151.4 38.6h0.5v0.5h-0.5zM153.2 36.7h0.5v0.5h-0.5zM153 38.9h0.5v0.5h-0.5zM149.6 36.2h0.5v0.5h-0.5zM149.7 39h0.5v0.5h-0.5zM152.1 39.6h0.5v0.5h-0.5zM153 37.2h0.5v0.5h-0.5zM153.4 39.6h0.5v0.5h-0.5zM152.5 39.1h0.5v0.5h-0.5zM149.9 39.4h0.5v0.5h-0.5zM150.3 36.6h0.5v0.5h-0.5zM151.3 38.7h0.5v0.5h-0.5zM151.7 37.8h0.5v0.5h-0.5zM150.3 39h0.5v0.5h-0.5zM150.7 36.1h0.5v0.5h-0.5zM151.9 40.9h0.5v0.5h-0.5zM151.2 36.6h0.5v0.5h-0.5zM153.9 41.1h0.5v0.5h-0.5zM151.4 38.1h0.5v0.5h-0.5zM152.1 43.6h0.5v0.5h-0.5zM152 40.1h0.5v0.5h-0.5zM152.5 35.1h0.5v0.5h-0.5zM150.2 36.5h0.5v0.5h-0.5zM152.4 38.5h0.5v0.5h-0.5zM154.5 37.4h0.5v0.5h-0.5zM152.3 38.5h0.5v0.5h-0.5zM152 42.5h0.5v0.5h-0.5zM152.2 40.9h0.5v0.5h-0.5zM153.7 37h0.5v0.5h-0.5zM152.8 37.5h0.5v0.5h-0.5zM152 38.7h0.5v0.5h-0.5zM151.8 37.6h0.5v0.5h-0.5zM154.1 37.5h0.5v0.5h-0.5zM152.9 41.2h0.5v0.5h-0.5zM152.7 40.1h0.5v0.5h-0.5zM153.9 40h0.5v0.5h-0.5zM154.4 35.4h0.5v0.5h-0.5zM154.7 37.9h0.5v0.5h-0.5zM149.2 37.7h0.5v0.5h-0.5zM149.7 38.7h0.5v0.5h-0.5zM149.6 37h0.5v0.5h-0.5zM152.2 38.6h0.5v0.5h-0.5zM150.6 38.2h0.5v0.5h-0.5zM151.7 38.6h0.5v0.5h-0.5zM151.8 38h0.5v0.5h-0.5zM153.1 35.3h0.5v0.5h-0.5zM151.1 38.8h0.5v0.5h-0.5zM151.2 37.5h0.5v0.5h-0.5zM151.1 38.9h0.5v0.5h-0.5zM153.7 37.7h0.5v0.5h-0.5zM151.4 39.1h0.5v0.5h-0.5zM151.4 35h0.5v0.5h-0.5zM152.2 37.7h0.5v0.5h-0.5zM150.9 39.7h0.5v0.5h-0.5zM151.9 37.4h0.5v0.5h-0.5zM148.5 35.9h0.5v0.5h-0.5zM151.8 38.2h0.5v0.5h-0.5zM152.5 38.7h0.5v0.5h-0.5zM151.1 36.3h0.5v0.5h-0.5zM150.2 38.4h0.5v0.5h-0.5zM150.1 40.1h0.5v0.5h-0.5zM149.8 35.6h0.5v0.5h-0.5zM151.5 35.3h0.5v0.5h-0.5zM154.2 36.2h0.5v0.5h-0.5zM151.7 38h0.5v0.5h-0.5zM150.6 35.5h0.5v0.5h-0.5zM149 40.4h0.5v0.5h-0.5zM153.3 42h0.5v0.5h-0.5zM149.6 39.8h0.5v0.5h-0.5zM151.8 39.9h0.5v0.5h-0.5zM151 39.8h0.5v0.5h-0.5zM153.1 39.2h0.5v0.5h-0.5zM154 37.7h0.5v0.5h-0.5zM154.1 36.7h0.5v0.5h-0.5zM154.3 33.1h0.5v0.5h-0.5zM151.8 37h0.5v0.5h-0.5zM151.8 40.2h0.5v0.5h-0.5zM152.9 38.4h0.5v0.5h-0.5zM154.4 35.3h0.5v0.5h-0.5zM150.6 41.3h0.5v0.5h-0.5zM152.3 34.6h0.5v0.5h-0.5zM152.3 36.2h0.5v0.5h-0.5zM154 40h0.5v0.5h-0.5zM151 40.8h0.5v0.5h-0.5zM150.5 40.3h0.5v0.5h-0.5zM152.7 38h0.5v0.5h-0.5zM149.7 38.3h0.5v0.5h-0.5zM148.4 38h0.5v0.5h-0.5zM149 41.1h0.5v0.5h-0.5zM150.4 34.3h0.5v0.5h-0.5zM152.7 38.9h0.5v0.5h-0.5zM151 42.3h0.5v0.5h-0.5zM153 38.3h0.5v0.5h-0.5zM150.8 33.3h0.5v0.5h-0.5zM152.5 40h0.5v0.5h-0.5zM150.9 36h0.5v0.5h-0.5zM151.7 35.4h0.5v0.5h-0.5zM151.8 39.8h0.5v0.5h-0.5zM154.1 38.5h0.5v0.5h-0.5zM152.1 39.7h0.5v0.5h-0.5zM153.9 37.5h0.5v0.5h-0.5zM150 37.3h0.5v0.5h-0.5zM149.9 37.2h0.5v0.5h-0.5zM151.6 39h0.5v0.5h-0.5zM152 38.5h0.5v0.5h-0.5zM151.3 39.3h0.5v0.5h-0.5zM153.1 39.5h0.5v0.5h-0.5zM154 37.5h0.5v0.5h-0.5zM151.4 41.5h0.5v0.5h-0.5zM152.1 39.1h0.5v0.5h-0.5zM151.3 40.2h0.5v0.5h-0.5zM151.2 36.7h0.5v0.5h-0.5zM151.7 37.6h0.5v0.5h-0.5zM153.1 37.5h0.5v0.5h-0.5zM152 38h0.5v0.5h-0.5zM152.3 37.2h0.5v0.5h-0.5zM153.5 35.6h0.5v0.5h-0.5zM151.2 37.2h0.5v0.5h-0.5zM152.8 38.3h0.5v0.5h-0.5zM152.5 37.7h0.5v0.5h-0.5zM150.7 36.6h0.5v0.5h-0.5zM151.3 37.5h0.5v0.5h-0.5zM152.2 39h0.5v0.5h-0.5zM153.3 37.9h0.5v0.5h-0.5zM150.7 36.7h0.5v0.5h-0.5zM151.9 39h0.5v0.5h-0.5zM154.7 38.2h0.5v0.5h-0.5zM154.4 41.3h0.5v0.5h-0.5zM150.2 40.8h0.5v0.5h-0.5zM153.5 40.5h0.5v0.5h-0.5zM151.8 40.1h0.5v0.5h-0.5zM151.1 38.4h0.5v0.5h-0.5zM151.8 41.6h0.5v0.5h-0.5zM151.5 40.2h0.5v0.5h-0.5zM151.9 37.1h0.5v0.5h-0.5zM152.2 39.5h0.5v0.5h-0.5zM150.7 39.7h0.5v0.5h-0.5zM150.7 37h0.5v0.5h-0.5zM152.1 37.9h0.5v0.5h-0.5zM150.3 35.8h0.5v0.5h-0.5zM151.8 38.8h0.5v0.5h-0.5zM151.1 38.9h0.5v0.5h-0.5zM149.5 39.5h0.5v0.5h-0.5zM152.4 38.8h0.5v0.5h-0.5zM150.9 38.7h0.5v0.5h-0.5zM152 40.3h0.5v0.5h-0.5zM152.2 38.8h0.5v0.5h-0.5zM150.7 40.1h0.5v0.5h-0.5zM153.6 37.2h0.5v0.5h-0.5zM152.8 38.8h0.5v0.5h-0.5zM151.7 36.1h0.5v0.5h-0.5zM154.4 34.6h0.5v0.5h-0.5zM152.3 37.6h0.5v0.5h-0.5zM153.5 37.3h0.5v0.5h-0.5zM151.9 39.5h0.5v0.5h-0.5zM152.5 37.4h0.5v0.5h-0.5zM152.8 38.9h0.5v0.5h-0.5zM153.3 37.2h0.5v0.5h-0.5zM151.7 37.7h0.5v0.5h-0.5zM150.5 39.1h0.5v0.5h-0.5zM152.4 40.8h0.5v0.5h-0.5zM151.3 39.2h0.5v0.5h-0.5zM153.5 37.9h0.5v0.5h-0.5zM151.9 38.6h0.5v0.5h-0.5zM150.8 36.8h0.5v0.5h-0.5zM153.5 38.4h0.5v0.5h-0.5zM151.7 36.2h0.5v0.5h-0.5zM152 40.5h0.5v0.5h-0.5zM150.1 37.1h0.5v0.5h-0.5zM153.5 40.6h0.5v0.5h-0.5zM154.1 37h0.5v0.5h-0.5zM152.7 36.9h0.5v0.5h-0.5zM152.6 37.6h0.5v0.5h-0.5zM152.1 40.7h0.5v0.5h-0.5zM152.3 37.9h0.5v0.5h-0.5zM151.9 38.9h0.5v0.5h-0.5zM151 38.9h0.5v0.5h-0.5zM152.7 41h0.5v0.5h-0.5zM148.7 36.8h0.5v0.5h-0.5zM150 40.3h0.5v0.5h-0.5zM155.4 38.1h0.5v0.5h-0.5zM152 40.4h0.5v0.5h-0.5zM148.2 38.7h0.5v0.5h-0.5zM147.2 39.5h0.5v0.5h-0.5zM151 37.7h0.5v0.5h-0.5zM152.3 37.3h0.5v0.5h-0.5zM153.5 38.1h0.5v0.5h-0.5zM152.4 42.8h0.5v0.5h-0.5zM151.1 40.2h0.5v0.5h-0.5zM150.6 40.8h0.5v0.5h-0.5zM153.2 38.4h0.5v0.5h-0.5zM153.3 41h0.5v0.5h-0.5zM153.9 38h0.5v0.5h-0.5zM151.7 40.4h0.5v0.5h-0.5zM149.6 37.7h0.5v0.5h-0.5zM152.5 39.3h0.5v0.5h-0.5zM154.6 41h0.5v0.5h-0.5zM152.3 39.1h0.5v0.5h-0.5zM149.8 38.4h0.5v0.5h-0.5zM152.2 37.9h0.5v0.5h-0.5zM151.9 39.5h0.5v0.5h-0.5zM150.4 37.7h0.5v0.5h-0.5zM149.2 40.9h0.5v0.5h-0.5zM150.2 35.7h0.5v0.5h-0.5zM152.9 37.8h0.5v0.5h-0.5zM153.2 37.5h0.5v0.5h-0.5zM155 39.1h0.5v0.5h-0.5zM152 38.6h0.5v0.5h-0.5zM151.5 39.9h0.5v0.5h-0.5zM154.8 37.1h0.5v0.5h-0.5zM150.2 39.7h0.5v0.5h-0.5zM153.4 35.5h0.5v0.5h-0.5zM150.8 36.8h0.5v0.5h-0.5zM152.6 39.1h0.5v0.5h-0.5zM150.7 36.6h0.5v0.5h-0.5zM152.8 34.6h0.5v0.5h-0.5zM152.8 38h0.5v0.5h-0.5zM154.6 39.6h0.5v0.5h-0.5zM150.9 38.1h0.5v0.5h-0.5zM151.4 37.2h0.5v0.5h-0.5zM151.9 40.1h0.5v0.5h-0.5zM149.6 38.4h0.5v0.5h-0.5zM154 39.3h0.5v0.5h-0.5zM150.6 37.2h0.5v0.5h-0.5zM150.5 35.8h0.5v0.5h-0.5zM153.5 38.2h0.5v0.5h-0.5zM150.8 36.1h0.5v0.5h-0.5zM151.2 37.6h0.5v0.5h-0.5zM154.3 37.1h0.5v0.5h-0.5zM152 40.2h0.5v0.5h-0.5zM152.8 37.9h0.5v0.5h-0.5zM148.6 41.4h0.5v0.5h-0.5zM152.7 37.5h0.5v0.5h-0.5zM151.7 36.8h0.5v0.5h-0.5zM150.5 36h0.5v0.5h-0.5zM152.5 39.2h0.5v0.5h-0.5zM152.1 39.7h0.5v0.5h-0.5zM152.6 38.5h0.5v0.5h-0.5zM150.5 39.7h0.5v0.5h-0.5zM153.6 39.2h0.5v0.5h-0.5zM153.6 37.2h0.5v0.5h-0.5zM150.4 40.8h0.5v0.5h-0.5zM150.9 39h0.5v0.5h-0.5zM151.5 38.5h0.5v0.5h-0.5zM151.4 37.5h0.5v0.5h-0.5zM149.2 42.2h0.5v0.5h-0.5zM152.1 35h0.5v0.5h-0.5zM150.5 36.7h0.5v0.5h-0.5zM150.7 34.1h0.5v0.5h-0.5zM152.6 41.1h0.5v0.5h-0.5zM151.4 39.8h0.5v0.5h-0.5zM152.7 36.1h0.5v0.5h-0.5zM153.6 35.1h0.5v0.5h-0.5zM151 37.9h0.5v0.5h-0.5zM153.6 38.3h0.5v0.5h-0.5zM151.6 37h0.5v0.5h-0.5zM151.9 38.5h0.5v0.5h-0.5zM152.9 40.6h0.5v0.5h-0.5zM152.9 38.2h0.5v0.5h-0.5zM151.6 41.2h0.5v0.5h-0.5zM152.1 38.3h0.5v0.5h-0.5zM154.4 40.7h0.5v0.5h-0.5zM152.6 38.1h0.5v0.5h-0.5zM150.9 40.4h0.5v0.5h-0.5zM151.1 40.2h0.5v0.5h-0.5zM150.7 38.8h0.5v0.5h-0.5zM152.4 38.5h0.5v0.5h-0.5zM152.1 39h0.5v0.5h-0.5zM150.2 36.8h0.5v0.5h-0.5zM151.6 41.6h0.5v0.5h-0.5zM151.6 36.8h0.5v0.5h-0.5zM150.8 38.6h0.5v0.5h-0.5zM153.5 37.1h0.5v0.5h-0.5zM152.6 38.6h0.5v0.5h-0.5zM151.3 36.9h0.5v0.5h-0.5zM151.6 37.2h0.5v0.5h-0.5zM152.6 35.2h0.5v0.5h-0.5zM153.5 39.4h0.5v0.5h-0.5zM152.6 40.9h0.5v0.5h-0.5zM152.7 35.3h0.5v0.5h-0.5zM151.9 39.2h0.5v0.5h-0.5zM150.8 36.6h0.5v0.5h-0.5zM152.4 39.2h0.5v0.5h-0.5zM151.2 38.1h0.5v0.5h-0.5zM151.1 37.5h0.5v0.5h-0.5zM151.7 40.3h0.5v0.5h-0.5zM149.4 38.2h0.5v0.5h-0.5zM154.2 38.5h0.5v0.5h-0.5zM152 39.8h0.5v0.5h-0.5zM150.3 36.6h0.5v0.5h-0.5zM149.4 36.3h0.5v0.5h-0.5zM152.2 39.8h0.5v0.5h-0.5zM151.2 37.3h0.5v0.5h-0.5zM152.4 39.4h0.5v0.5h-0.5zM152.2 35h0.5v0.5h-0.5zM151 34.2h0.5v0.5h-0.5zM152.2 36.9h0.5v0.5h-0.5zM150.8 41.2h0.5v0.5h-0.5zM153.7 38.9h0.5v0.5h-0.5zM152.2 38.6h0.5v0.5h-0.5zM150.9 38.5h0.5v0.5h-0.5zM154.6 36.4h0.5v0.5h-0.5zM150.8 38.9h0.5v0.5h-0.5zM153.1 39.6h0.5v0.5h-0.5zM150.4 38.4h0.5v0.5h-0.5zM151.4 36.3h0.5v0.5h-0.5zM151.9 37.5h0.5v0.5h-0.5zM153.1 38.9h0.5v0.5h-0.5zM150.7 38.7h0.5v0.5h-0.5zM151.3 37.4h0.5v0.5h-0.5zM151.1 40.4h0.5v0.5h-0.5zM151.2 35.5h0.5v0.5h-0.5zM150.7 40h0.5v0.5h-0.5zM154.9 36h0.5v0.5h-0.5zM151.3 37.9h0.5v0.5h-0.5zM149.7 39.5h0.5v0.5h-0.5zM151.7 38.9h0.5v0.5h-0.5zM155.1 37.4h0.5v0.5h-0.5zM153 39.6h0.5v0.5h-0.5zM150.9 37.5h0.5v0.5h-0.5zM154.1 39.2h0.5v0.5h-0.5zM152 36.5h0.5v0.5h-0.5zM153.1 39.1h0.5v0.5h-0.5zM155 40.4h0.5v0.5h-0.5zM153 38.7h0.5v0.5h-0.5zM151.9 37.4h0.5v0.5h-0.5zM152.3 38.7h0.5v0.5h-0.5zM152.8 40.1h0.5v0.5h-0.5zM152.3 37.4h0.5v0.5h-0.5zM153 40.9h0.5v0.5h-0.5zM150.6 39.3h0.5v0.5h-0.5zM152.6 39.2h0.5v0.5h-0.5zM152.5 38.1h0.5v0.5h-0.5zM151.7 41.3h0.5v0.5h-0.5zM154.3 35.5h0.5v0.5h-0.5zM148.1 39.8h0.5v0.5h-0.5zM150.8 37.7h0.5v0.5h-0.5zM149.5 39.4h0.5v0.5h-0.5zM151.7 37.5h0.5v0.5h-0.5zM153.1 42.4h0.5v0.5h-0.5zM154 40h0.5v0.5h-0.5zM151.2 39.6h0.5v0.5h-0.5zM151.7 40.4h0.5v0.5h-0.5zM152.6 38.2h0.5v0.5h-0.5zM152.6 37h0.5v0.5h-0.5zM153 40.8h0.5v0.5h-0.5zM151.3 39.5h0.5v0.5h-0.5zM149.4 40.5h0.5v0.5h-0.5zM153.1 36.4h0.5v0.5h-0.5zM154.3 38.1h0.5v0.5h-0.5zM149.3 36.5h0.5v0.5h-0.5zM153.1 37.7h0.5v0.5h-0.5zM153.4 35.4h0.5v0.5h-0.5zM151.7 40.1h0.5v0.5h-0.5zM150.8 39.8h0.5v0.5h-0.5zM151.3 39.1h0.5v0.5h-0.5zM152.3 42.2h0.5v0.5h-0.5zM150 40.1h0.5v0.5h-0.5zM153.7 36.1h0.5v0.5h-0.5zM151.9 42.4h0.5v0.5h-0.5zM153.3 33h0.5v0.5h-0.5zM151.5 35.5h0.5v0.5h-0.5zM152.2 37.1h0.5v0.5h-0.5zM151 37.1h0.5v0.5h-0.5zM152.2 37.5h0.5v0.5h-0.5zM150.5 38.2h0.5v0.5h-0.5zM152.4 36.8h0.5v0.5h-0.5zM153.4 35.2h0.5v0.5h-0.5zM152.4 37.6h0.5v0.5h-0.5zM154.1 36.9h0.5v0.5h-0.5zM150.8 36.3h0.5v0.5h-0.5zM154.7 38.9h0.5v0.5h-0.5zM150.2 38.1h0.5v0.5h-0.5zM150.4 41.3h0.5v0.5h-0.5zM152.4 34.8h0.5v0.5h-0.5zM152.1 39.9h0.5v0.5h-0.5zM151.8 39.2h0.5v0.5h-0.5zM151.6 38.8h0.5v0.5h-0.5zM152.1 37.1h0.5v0.5h-0.5zM152.3 38.6h0.5v0.5h-0.5zM151.7 37.2h0.5v0.5h-0.5zM150.3 39.1h0.5v0.5h-0.5zM153 34h0.5v0.5h-0.5zM151 40.9h0.5v0.5h-0.5zM153.1 36.9h0.5v0.5h-0.5zM153.8 36.3h0.5v0.5h-0.5zM150.6 42h0.5v0.5h-0.5zM151.2 38.1h0.5v0.5h-0.5zM149.4 37.1h0.5v0.5h-0.5zM150.1 38.5h0.5v0.5h-0.5zM149.1 40.7h0.5v0.5h-0.5zM151.3 37.4h0.5v0.5h-0.5zM150.9 39.9h0.5v0.5h-0.5zM154 37.3h0.5v0.5h-0.5zM154.2 40.8h0.5v0.5h-0.5zM153.8 38.6h0.5v0.5h-0.5zM149.6 40h0.5v0.5h-0.5zM151.2 38.8h0.5v0.5h-0.5zM149.1 38.4h0.5v0.5h-0.5zM152.1 36.7h0.5v0.5h-0.5zM152.2 41.2h0.5v0.5h-0.5zM152.1 37.2h0.5v0.5h-0.5zM155.3 34h0.5v0.5h-0.5zM150.5 39.3h0.5v0.5h-0.5zM150.9 34.6h0.5v0.5h-0.5zM152.2 39.8h0.5v0.5h-0.5zM150.6 41.1h0.5v0.5h-0.5zM152.5 40.3h0.5v0.5h-0.5zM149.6 38.8h0.5v0.5h-0.5zM154.1 41.5h0.5v0.5h-0.5zM153.7 38.1h0.5v0.5h-0.5zM152.1 37.3h0.5v0.5h-0.5zM153.4 36.9h0.5v0.5h-0.5zM152 34.8h0.5v0.5h-0.5zM149.6 41.9h0.5v0.5h-0.5zM151.9 38.8h0.5v0.5h-0.5zM148.6 38.9h0.5v0.5h-0.5zM154.8 35.3h0.5v0.5h-0.5zM148.3 38.7h0.5v0.5h-0.5zM151 38.2h0.5v0.5h-0.5zM150 36.4h0.5v0.5h-0.5zM150 39.8h0.5v0.5h-0.5zM151.7 39.8h0.5v0.5h-0.5zM150.2 39.7h0.5v0.5h-0.5zM151.2 38.7h0.5v0.5h-0.5zM153.2 38.2h0.5v0.5h-0.5zM151.3 35.6h0.5v0.5h-0.5zM151.9 39.7h0.5v0.5h-0.5zM150.9 38.5h0.5v0.5h-0.5zM149.2 36.5h0.5v0.5h-0.5zM152.4 40.5h0.5v0.5h-0.5zM151.3 35.6h0.5v0.5h-0.5zM151.2 35.8h0.5v0.5h-0.5zM151.4 41.8h0.5v0.5h-0.5zM152.2 38.1h0.5v0.5h-0.5zM153.3 37.5h0.5v0.5h-0.5zM152.3 38.7h0.5v0.5h-0.5zM152.5 35.7h0.5v0.5h-0.5zM152.8 39.8h0.5v0.5h-0.5zM148.4 34.3h0.5v0.5h-0.5zM150.5 41.2h0.5v0.5h-0.5zM151.8 39.6h0.5v0.5h-0.5zM152.6 39.8h0.5v0.5h-0.5zM150.9 37.5h0.5v0.5h-0.5zM152.4 39.4h0.5v0.5h-0.5zM152.6 38.8h0.5v0.5h-0.5zM151.1 40.5h0.5v0.5h-0.5zM152.5 40.1h0.5v0.5h-0.5zM148.1 40.8h0.5v0.5h-0.5zM148.2 39.4h0.5v0.5h-0.5zM150.8 38.8h0.5v0.5h-0.5zM151.1 38h0.5v0.5h-0.5zM152.1 39h0.5v0.5h-0.5zM150.6 34.2h0.5v0.5h-0.5zM150.6 39.6h0.5v0.5h-0.5zM150.6 39.4h0.5v0.5h-0.5zM151.3 36.8h0.5v0.5h-0.5zM153.5 41h0.5v0.5h-0.5zM151.6 38.3h0.5v0.5h-0.5zM153.2 35.8h0.5v0.5h-0.5zM150.5 40.6h0.5v0.5h-0.5zM153.1 37.3h0.5v0.5h-0.5zM150.6 39.2h0.5v0.5h-0.5zM149.7 37.9h0.5v0.5h-0.5zM151.5 34.1h0.5v0.5h-0.5zM152.7 39.6h0.5v0.5h-0.5zM153.4 35.6h0.5v0.5h-0.5zM149.9 37.3h0.5v0.5h-0.5zM149.9 42.4h0.5v0.5h-0.5zM150.4 38.1h0.5v0.5h-0.5zM152.1 39.1h0.5v0.5h-0.5zM154 36.1h0.5v0.5h-0.5zM153.1 38.4h0.5v0.5h-0.5zM150.1 39h0.5v0.5h-0.5zM149.7 41.6h0.5v0.5h-0.5zM150.7 40.4h0.5v0.5h-0.5zM153.7 37h0.5v0.5h-0.5zM150.5 38.9h0.5v0.5h-0.5zM150.2 40.3h0.5v0.5h-0.5zM152.1 37h0.5v0.5h-0.5zM150.8 39.9h0.5v0.5h-0.5zM149.6 41.8h0.5v0.5h-0.5zM150.6 38.3h0.5v0.5h-0.5zM150.4 41.5h0.5v0.5h-0.5zM153 40.5h0.5v0.5h-0.5zM152.8 38.4h0.5v0.5h-0.5zM154.3 39.1h0.5v0.5h-0.5zM152.5 39.3h0.5v0.5h-0.5zM152.9 38.7h0.5v0.5h-0.5zM151.6 35.6h0.5v0.5h-0.5zM154.9 35.5h0.5v0.5h-0.5zM148.6 37.7h0.5v0.5h-0.5zM154.7 40h0.5v0.5h-0.5zM150.9 39h0.5v0.5h-0.5zM151.8 34.9h0.5v0.5h-0.5zM151.3 39h0.5v0.5h-0.5zM153.6 36h0.5v0.5h-0.5zM148.4 36.2h0.5v0.5h-0.5zM152.3 38.5h0.5v0.5h-0.5zM152 38.6h0.5v0.5h-0.5zM151.3 36.1h0.5v0.5h-0.5zM152.5 39h0.5v0.5h-0.5zM152.7 40.5h0.5v0.5h-0.5zM149.9 34.6h0.5v0.5h-0.5zM149.1 42.7h0.5v0.5h-0.5zM150.4 39.4h0.5v0.5h-0.5zM151.8 39.7h0.5v0.5h-0.5zM156.6 36.6h0.5v0.5h-0.5zM151.5 37.4h0.5v0.5h-0.5zM152.2 39.3h0.5v0.5h-0.5zM150.3 41h0.5v0.5h-0.5zM153.5 38.9h0.5v0.5h-0.5zM151.6 38h0.5v0.5h-0.5zM149.3 40h0.5v0.5h-0.5zM150.3 37.8h0.5v0.5h-0.5zM153.3 36.5h0.5v0.5h-0.5zM151 40.1h0.5v0.5h-0.5zM154.6 36.7h0.5v0.5h-0.5zM153.5 36.9h0.5v0.5h-0.5zM152.4 39.2h0.5v0.5h-0.5zM150.1 40.5h0.5v0.5h-0.5zM154.5 38h0.5v0.5h-0.5zM152.2 36.2h0.5v0.5h-0.5zM154.5 38h0.5v0.5h-0.5zM149.9 40.1h0.5v0.5h-0.5zM149.6 37.6h0.5v0.5h-0.5zM148.6 41.4h0.5v0.5h-0.5zM155.1 36.7h0.5v0.5h-0.5zM150.8 37.5h0.5v0.5h-0.5zM151 39.5h0.5v0.5h-0.5zM154 36.2h0.5v0.5h-0.5zM152.5 35.1h0.5v0.5h-0.5zM154.1 37.8h0.5v0.5h-0.5zM150.7 41.3h0.5v0.5h-0.5zM151.6 40.9h0.5v0.5h-0.5zM153.4 41.1h0.5v0.5h-0.5zM150.6 38.7h0.5v0.5h-0.5zM152.4 38h0.5v0.5h-0.5zM154.1 36.7h0.5v0.5h-0.5zM153.3 40.6h0.5v0.5h-0.5zM148.9 37.2h0.5v0.5h-0.5zM150.4 37.7h0.5v0.5h-0.5zM152.4 38h0.5v0.5h-0.5zM151.9 37.6h0.5v0.5h-0.5zM151.7 39.3h0.5v0.5h-0.5zM152.9 36.8h0.5v0.5h-0.5zM151.6 37.1h0.5v0.5h-0.5zM151.5 35.9h0.5v0.5h-0.5zM153.2 39.3h0.5v0.5h-0.5zM151.6 37.2h0.5v0.5h-0.5zM151.1 37.3h0.5v0.5h-0.5zM149.5 41.7h0.5v0.5h-0.5zM156.7 35.3h0.5v0.5h-0.5zM150 39.7h0.5v0.5h-0.5zM152.7 35.4h0.5v0.5h-0.5zM148.9 39.9h0.5v0.5h-0.5zM148.8 41.5h0.5v0.5h-0.5zM151.1 38.7h0.5v0.5h-0.5zM151.8 37.4h0.5v0.5h-0.5zM151.6 37.9h0.5v0.5h-0.5zM153.7 37.9h0.5v0.5h-0.5zM151.8 37.5h0.5v0.5h-0.5zM150.8 37.3h0.5v0.5h-0.5zM151.8 41.7h0.5v0.5h-0.5zM153.5 38.5h0.5v0.5h-0.5zM154.3 39.8h0.5v0.5h-0.5zM152.1 38.1h0.5v0.5h-0.5zM150.2 39.1h0.5v0.5h-0.5zM151.3 35.7h0.5v0.5h-0.5zM149.9 42.2h0.5v0.5h-0.5zM152.1 39.2h0.5v0.5h-0.5zM152.1 37.5h0.5v0.5h-0.5zM152.5 40.2h0.5v0.5h-0.5zM151.3 39.4h0.5v0.5h-0.5zM153.3 37.3h0.5v0.5h-0.5zM152.1 37h0.5v0.5h-0.5zM152.7 37.6h0.5v0.5h-0.5zM153.5 36.7h0.5v0.5h-0.5zM154.3 37.4h0.5v0.5h-0.5zM150.5 37h0.5v0.5h-0.5zM152.8 36.7h0.5v0.5h-0.5zM154.5 40.2h0.5v0.5h-0.5zM152.6 35.7h0.5v0.5h-0.5zM151.8 37.1h0.5v0.5h-0.5zM149.1 39.6h0.5v0.5h-0.5zM155.1 36.9h0.5v0.5h-0.5zM153 40.5h0.5v0.5h-0.5zM150.4 38.1h0.5v0.5h-0.5zM152.2 39.2h0.5v0.5h-0.5zM150.1 39.1h0.5v0.5h-0.5zM151.6 40.1h0.5v0.5h-0.5zM149.4 37.8h0.5v0.5h-0.5zM151 38h0.5v0.5h-0.5zM152.9 37.1h0.5v0.5h-0.5zM155.9 36.4h0.5v0.5h-0.5zM153.1 40h0.5v0.5h-0.5zM153.2 37.8h0.5v0.5h-0.5zM150.6 38.2h0.5v0.5h-0.5zM152.8 38.4h0.5v0.5h-0.5zM152.7 39.3h0.5v0.5h-0.5zM150.5 37h0.5v0.5h-0.5zM154 37.1h0.5v0.5h-0.5zM149.4 42.1h0.5v0.5h-0.5zM150.5 37h0.5v0.5h-0.5zM153.3 36.1h0.5v0.5h-0.5zM150.5 40.5h0.5v0.5h-0.5zM150.6 43.1h0.5v0.5h-0.5zM151.9 43.2h0.5v0.5h-0.5zM152 38.5h0.5v0.5h-0.5zM150.8 38.2h0.5v0.5h-0.5zM151 38.5h0.5v0.5h-0.5zM153 35.9h0.5v0.5h-0.5zM150.4 34.9h0.5v0.5h-0.5zM154.1 37.9h0.5v0.5h-0.5zM151.8 38.3h0.5v0.5h-0.5zM153.3 38.7h0.5v0.5h-0.5zM153.1 37.9h0.5v0.5h-0.5zM151.6 38.3h0.5v0.5h-0.5zM149 40.8h0.5v0.5h-0.5zM149.4 37.1h0.5v0.5h-0.5zM152.8 38.3h0.5v0.5h-0.5zM153 41.2h0.5v0.5h-0.5zM154.6 40.4h0.5v0.5h-0.5zM151.5 42.1h0.5v0.5h-0.5zM150.5 38.5h0.5v0.5h-0.5zM153.3 37.8h0.5v0.5h-0.5zM151.6 37.8h0.5v0.5h-0.5zM153.8 33.6h0.5v0.5h-0.5zM153.7 39.9h0.5v0.5h-0.5zM151.7 39.4h0.5v0.5h-0.5zM150.3 40.6h0.5v0.5h-0.5zM156.4 35.9h0.5v0.5h-0.5zM153.9 37.9h0.5v0.5h-0.5zM151.3 37.6h0.5v0.5h-0.5zM151.5 36.2h0.5v0.5h-0.5zM149.8 41.7h0.5v0.5h-0.5zM151.8 39.4h0.5v0.5h-0.5zM152.3 39.2h0.5v0.5h-0.5zM149.5 37.1h0.5v0.5h-0.5zM152.7 40h0.5v0.5h-0.5zM150.1 37.7h0.5v0.5h-0.5zM150.2 39.9h0.5v0.5h-0.5zM152.3 38.4h0.5v0.5h-0.5zM150.8 39.2h0.5v0.5h-0.5zM151.8 37.1h0.5v0.5h-0.5zM152.3 37.1h0.5v0.5h-0.5zM153.2 39.3h0.5v0.5h-0.5zM150.8 39.6h0.5v0.5h-0.5zM151.9 37.1h0.5v0.5h-0.5zM150.4 35.7h0.5v0.5h-0.5zM150.1 39.3h0.5v0.5h-0.5zM153.6 37h0.5v0.5h-0.5zM152 39h0.5v0.5h-0.5zM153 39h0.5v0.5h-0.5zM153.6 39.4h0.5v0.5h-0.5zM150.7 39.3h0.5v0.5h-0.5zM148.3 38.7h0.5v0.5h-0.5zM151.8 39.4h0.5v0.5h-0.5zM151.3 40h0.5v0.5h-0.5zM153.8 36.5h0.5v0.5h-0.5zM151 39h0.5v0.5h-0.5zM152.5 38.5h0.5v0.5h-0.5zM153 36.1h0.5v0.5h-0.5zM153 40.3h0.5v0.5h-0.5zM153.5 38.9h0.5v0.5h-0.5zM151.4 39.2h0.5v0.5h-0.5zM151.7 35.6h0.5v0.5h-0.5zM150.9 38.5h0.5v0.5h-0.5zM151 36.9h0.5v0.5h-0.5zM151.5 37.8h0.5v0.5h-0.5zM151.9 38.3h0.5v0.5h-0.5zM152.1 40.1h0.5v0.5h-0.5zM152 39.1h0.5v0.5h-0.5zM150 33.5h0.5v0.5h-0.5zM151.2 39.7h0.5v0.5h-0.5zM151.3 37.4h0.5v0.5h-0.5zM149.9 40.3h0.5v0.5h-0.5zM151 39h0.5v0.5h-0.5zM153.5 39h0.5v0.5h-0.5zM155.2 37.6h0.5v0.5h-0.5zM153.2 39.4h0.5v0.5h-0.5zM150.8 38.7h0.5v0.5h-0.5zM151 36.7h0.5v0.5h-0.5zM152.2 36.9h0.5v0.5h-0.5zM154.3 36.6h0.5v0.5h-0.5zM151 38.7h0.5v0.5h-0.5zM151 38.6h0.5v0.5h-0.5zM150.9 36h0.5v0.5h-0.5zM148.2 36.8h0.5v0.5h-0.5zM154.1 38.8h0.5v0.5h-0.5zM152 37.5h0.5v0.5h-0.5zM151.6 39h0.5v0.5h-0.5zM149.7 37.4h0.5v0.5h-0.5zM150.5 40.9h0.5v0.5h-0.5zM150.2 40.8h0.5v0.5h-0.5zM151.1 43.4h0.5v0.5h-0.5zM151.7 38.5h0.5v0.5h-0.5zM153.8 39.6h0.5v0.5h-0.5zM153.2 36.2h0.5v0.5h-0.5zM153.5 41.1h0.5v0.5h-0.5zM151.6 37.6h0.5v0.5h-0.5zM150.2 40.5h0.5v0.5h-0.5zM152.2 38.3h0.5v0.5h-0.5zM149.9 41.6h0.5v0.5h-0.5zM153.1 38.1h0.5v0.5h-0.5zM154 36.3h0.5v0.5h-0.5zM153.1 36.4h0.5v0.5h-0.5zM153.9 37.5h0.5v0.5h-0.5zM153.6 37.3h0.5v0.5h-0.5zM152.4 40.3h0.5v0.5h-0.5zM150.4 38.8h0.5v0.5h-0.5zM150.5 40.1h0.5v0.5h-0.5zM150.9 37.9h0.5v0.5h-0.5zM151.5 40.5h0.5v0.5h-0.5zM150.2 38.6h0.5v0.5h-0.5zM151.3 37.5h0.5v0.5h-0.5zM150.6 38.3h0.5v0.5h-0.5zM152.1 35.6h0.5v0.5h-0.5zM152.2 36.2h0.5v0.5h-0.5zM151.8 42.5h0.5v0.5h-0.5zM150.3 38.5h0.5v0.5h-0.5zM151.4 40.2h0.5v0.5h-0.5zM151.1 35.4h0.5v0.5h-0.5zM149.4 39.2h0.5v0.5h-0.5zM152.2 40.2h0.5v0.5h-0.5zM151 39.7h0.5v0.5h-0.5zM150.2 41h0.5v0.5h-0.5zM151.7 37.2h0.5v0.5h-0.5zM152.1 41.5h0.5v0.5h-0.5zM150.5 36.4h0.5v0.5h-0.5zM150.3 36.6h0.5v0.5h-0.5zM151.7 39h0.5v0.5h-0.5zM151.6 38.8h0.5v0.5h-0.5zM153.6 37.6h0.5v0.5h-0.5zM149.9 34.7h0.5v0.5h-0.5zM152.2 37.1h0.5v0.5h-0.5zM151.4 39.2h0.5v0.5h-0.5zM152.5 35.5h0.5v0.5h-0.5zM150.4 38.8h0.5v0.5h-0.5zM151.6 40.5h0.5v0.5h-0.5zM151 34.9h0.5v0.5h-0.5zM153.6 35.2h0.5v0.5h-0.5zM150.3 39.4h0.5v0.5h-0.5zM150.2 43.1h0.5v0.5h-0.5zM152.2 39.3h0.5v0.5h-0.5zM151.1 42.5h0.5v0.5h-0.5zM152.6 37h0.5v0.5h-0.5zM153.7 35.1h0.5v0.5h-0.5zM150.9 39.1h0.5v0.5h-0.5zM152 36.7h0.5v0.5h-0.5zM154.2 40.6h0.5v0.5h-0.5zM150.4 39.3h0.5v0.5h-0.5zM150.8 37.8h0.5v0.5h-0.5zM153.3 38.4h0.5v0.5h-0.5zM151.6 38.6h0.5v0.5h-0.5zM150 40.9h0.5v0.5h-0.5zM150.7 40.9h0.5v0.5h-0.5zM151.1 37.7h0.5v0.5h-0.5zM154 38.3h0.5v0.5h-0.5zM150.8 37.6h0.5v0.5h-0.5zM152.7 41.6h0.5v0.5h-0.5zM152.7 37.5h0.5v0.5h-0.5zM150.1 37.5h0.5v0.5h-0.5zM151.6 38.9h0.5v0.5h-0.5zM150.8 40.9h0.5v0.5h-0.5zM150.4 37.4h0.5v0.5h-0.5zM152.5 39.1h0.5v0.5h-0.5zM151.2 40.2h0.5v0.5h-0.5zM149.7 41.7h0.5v0.5h-0.5zM155.1 41.3h0.5v0.5h-0.5zM152 41.9h0.5v0.5h-0.5zM151.9 40.8h0.5v0.5h-0.5zM151.5 38.8h0.5v0.5h-0.5zM152.6 35.1h0.5v0.5h-0.5zM151.5 41.5h0.5v0.5h-0.5zM147.4 39.9h0.5v0.5h-0.5zM153.2 38.7h0.5v0.5h-0.5zM152.1 40.8h0.5v0.5h-0.5zM152.3 34.9h0.5v0.5h-0.5zM150.4 38.1h0.5v0.5h-0.5zM152 37.6h0.5v0.5h-0.5zM151.6 41.4h0.5v0.5h-0.5zM147.4 41.2h0.5v0.5h-0.5zM153.2 39.2h0.5v0.5h-0.5zM151.8 38.5h0.5v0.5h-0.5zM152.3 38.7h0.5v0.5h-0.5zM150.7 40h0.5v0.5h-0.5zM150.6 38.6h0.5v0.5h-0.5zM151.3 36.4h0.5v0.5h-0.5zM152.7 38.1h0.5v0.5h-0.5zM150.1 38.6h0.5v0.5h-0.5zM149.7 41.3h0.5v0.5h-0.5zM152.6 41.8h0.5v0.5h-0.5zM151 39.8h0.5v0.5h-0.5zM150.4 37.1h0.5v0.5h-0.5zM151.7 39.2h0.5v0.5h-0.5zM153.2 37.7h0.5v0.5h-0.5zM153.5 39.8h0.5v0.5h-0.5zM150.5 38.3h0.5v0.5h-0.5zM150.4 41.7h0.5v0.5h-0.5zM151 40.1h0.5v0.5h-0.5zM153.2 37.7h0.5v0.5h-0.5zM151.1 39.1h0.5v0.5h-0.5zM150.6 36.4h0.5v0.5h-0.5zM150.4 39.3h0.5v0.5h-0.5zM152.1 41.5h0.5v0.5h-0.5zM149.1 39.8h0.5v0.5h-0.5zM150.1 40.8h0.5v0.5h-0.5zM152.8 38.4h0.5v0.5h-0.5zM154 37.3h0.5v0.5h-0.5zM151 36.7h0.5v0.5h-0.5zM150.8 38.8h0.5v0.5h-0.5zM152.8 40.5h0.5v0.5h-0.5zM151.4 37.2h0.5v0.5h-0.5zM151.3 37.7h0.5v0.5h-0.5zM151.1 37.8h0.5v0.5h-0.5zM150.5 38.5h0.5v0.5h-0.5zM151 38.2h0.5v0.5h-0.5zM149.7 39h0.5v0.5h-0.5zM152.7 39.4h0.5v0.5h-0.5zM151 36.5h0.5v0.5h-0.5zM149.9 36.7h0.5v0.5h-0.5zM150.8 38h0.5v0.5h-0.5zM149.2 40.1h0.5v0.5h-0.5zM149.5 37.6h0.5v0.5h-0.5zM150.7 40.1h0.5v0.5h-0.5zM154.5 37.3h0.5v0.5h-0.5zM151.4 37.8h0.5v0.5h-0.5zM151.5 38.2h0.5v0.5h-0.5zM155.5 35.8h0.5v0.5h-0.5zM151.6 37h0.5v0.5h-0.5zM152.3 37.4h0.5v0.5h-0.5zM152.7 36.3h0.5v0.5h-0.5zM154.9 38.2h0.5v0.5h-0.5zM149.2 40.1h0.5v0.5h-0.5zM151.1 36.5h0.5v0.5h-0.5zM152.5 37.4h0.5v0.5h-0.5zM152.9 37.2h0.5v0.5h-0.5zM153.1 38.4h0.5v0.5h-0.5zM152.3 38.6h0.5v0.5h-0.5zM151.3 37.9h0.5v0.5h-0.5zM152.5 39.5h0.5v0.5h-0.5zM151.2 42.4h0.5v0.5h-0.5zM154.3 35.9h0.5v0.5h-0.5zM153.4 38h0.5v0.5h-0.5zM152.1 37h0.5v0.5h-0.5zM154.3 36.5h0.5v0.5h-0.5zM151.7 37.2h0.5v0.5h-0.5zM154.7 40.1h0.5v0.5h-0.5zM149.8 38h0.5v0.5h-0.5zM152.3 37.5h0.5v0.5h-0.5zM151.3 36.6h0.5v0.5h-0.5zM152.2 36.4h0.5v0.5h-0.5zM153 42.4h0.5v0.5h-0.5zM151.3 41.4h0.5v0.5h-0.5zM152.4 37.1h0.5v0.5h-0.5zM151.3 36.8h0.5v0.5h-0.5zM152 39.6h0.5v0.5h-0.5zM153.2 37.7h0.5v0.5h-0.5zM150 38.6h0.5v0.5h-0.5zM154.3 38.4h0.5v0.5h-0.5zM151.7 34.8h0.5v0.5h-0.5zM151.2 39.5h0.5v0.5h-0.5zM150.4 41h0.5v0.5h-0.5zM151 37h0.5v0.5h-0.5zM150.9 38.4h0.5v0.5h-0.5zM153.3 37.1h0.5v0.5h-0.5zM149.2 38.7h0.5v0.5h-0.5zM152.6 41h0.5v0.5h-0.5zM150.1 41.3h0.5v0.5h-0.5zM152.8 39h0.5v0.5h-0.5zM150.7 37.1h0.5v0.5h-0.5zM150.4 40.3h0.5v0.5h-0.5zM152.1 40.2h0.5v0.5h-0.5zM154.5 38h0.5v0.5h-0.5zM151.7 41.8h0.5v0.5h-0.5zM149.9 38h0.5v0.5h-0.5zM151.3 37.8h0.5v0.5h-0.5zM152 36.9h0.5v0.5h-0.5zM153.5 35.7h0.5v0.5h-0.5zM150.6 35.7h0.5v0.5h-0.5zM149.7 39.8h0.5v0.5h-0.5zM152.7 37.9h0.5v0.5h-0.5zM153 39.3h0.5v0.5h-0.5zM150.9 38.5h0.5v0.5h-0.5zM152.3 41.8h0.5v0.5h-0.5zM151.2 39.2h0.5v0.5h-0.5zM152.6 40.4h0.5v0.5h-0.5zM152.4 40.2h0.5v0.5h-0.5zM150.2 38.2h0.5v0.5h-0.5zM148.9 38.8h0.5v0.5h-0.5zM155.2 38.2h0.5v0.5h-0.5zM151.9 38.8h0.5v0.5h-0.5zM152 36.1h0.5v0.5h-0.5z" fill="#000" fill-opacity="1.0"/>
<path d="M149.8 43.3h0.5v0.5h-0.5zM151.3 40.8h0.5v0.5h-0.5zM150.8 41.4h0.5v0.5h-0.5zM148.7 42.8h0.5v0.5h-0.5zM149.6 45.8h0.5v0.5h-0.5zM153.4 43h0.5v0.5h-0.5zM150.6 41.9h0.5v0.5h-0.5zM148.2 43.4h0.5v0.5h-0.5zM153.8 44.1h0.5v0.5h-0.5zM151.4 42.2h0.5v0.5h-0.5zM151 44h0.5v0.5h-0.5zM151 44h0.5v0.5h-0.5zM149.6 43.9h0.5v0.5h-0.5zM150.4 45.9h0.5v0.5h-0.5zM148.8 47.3h0.5v0.5h-0.5zM150.8 41.9h0.5v0.5h-0.5zM151 43.3h0.5v0.5h-0.5zM150.6 44.2h0.5v0.5h-0.5zM150 39.7h0.5v0.5h-0.5zM152.2 42.2h0.5v0.5h-0.5zM153.9 42.2h0.5v0.5h-0.5zM147.5 47.9h0.5v0.5h-0.5zM149.8 45h0.5v0.5h-0.5zM154.9 43.3h0.5v0.5h-0.5zM149.1 43.9h0.5v0.5h-0.5zM148.2 46.2h0.5v0.5h-0.5zM152 40.1h0.5v0.5h-0.5zM151.8 44.7h0.5v0.5h-0.5zM152.4 40.6h0.5v0.5h-0.5zM149.8 41.1h0.5v0.5h-0.5zM148.7 45.1h0.5v0.5h-0.5zM151.1 46h0.5v0.5h-0.5zM151.5 42h0.5v0.5h-0.5zM148.5 48.1h0.5v0.5h-0.5zM151.3 42.8h0.5v0.5h-0.5zM149.2 41.6h0.5v0.5h-0.5zM152.1 40.1h0.5v0.5h-0.5zM152 43.9h0.5v0.5h-0.5zM150.3 39.6h0.5v0.5h-0.5zM151.7 45.9h0.5v0.5h-0.5zM149.5 40.9h0.5v0.5h-0.5zM152.9 42.2h0.5v0.5h-0.5zM149.9 46.5h0.5v0.5h-0.5zM150.5 44.3h0.5v0.5h-0.5zM150.3 41.7h0.5v0.5h-0.5zM151.4 40.8h0.5v0.5h-0.5zM147.9 43.6h0.5v0.5h-0.5zM153.2 44.3h0.5v0.5h-0.5zM154.8 43.1h0.5v0.5h-0.5zM153.9 42h0.5v0.5h-0.5zM150.2 44.5h0.5v0.5h-0.5zM149.3 45.7h0.5v0.5h-0.5zM150.2 44.1h0.5v0.5h-0.5zM149.5 43.6h0.5v0.5h-0.5zM152.7 41.5h0.5v0.5h-0.5zM149.8 44.4h0.5v0.5h-0.5zM152.6 41.7h0.5v0.5h-0.5zM148.9 40.6h0.5v0.5h-0.5zM148.6 46.9h0.5v0.5h-0.5zM150.8 44.2h0.5v0.5h-0.5zM152.9 42.6h0.5v0.5h-0.5zM151.9 41.4h0.5v0.5h-0.5zM148.2 46.1h0.5v0.5h-0.5zM150.8 44.5h0.5v0.5h-0.5zM149.1 43.8h0.5v0.5h-0.5zM154.6 39h0.5v0.5h-0.5zM151.2 45.9h0.5v0.5h-0.5zM150.6 43.6h0.5v0.5h-0.5zM147.2 47h0.5v0.5h-0.5zM150.2 46.4h0.5v0.5h-0.5zM150.8 42.3h0.5v0.5h-0.5zM151.8 42h0.5v0.5h-0.5zM150.1 47.1h0.5v0.5h-0.5zM152.7 42.3h0.5v0.5h-0.5zM152.4 44.1h0.5v0.5h-0.5zM152 42.5h0.5v0.5h-0.5zM151.1 43.9h0.5v0.5h-0.5zM152 43.3h0.5v0.5h-0.5zM150 43.4h0.5v0.5h-0.5zM151.8 40.3h0.5v0.5h-0.5zM151 44.8h0.5v0.5h-0.5zM151.3 42.2h0.5v0.5h-0.5zM151 41.9h0.5v0.5h-0.5zM152.7 41.2h0.5v0.5h-0.5zM148.1 42h0.5v0.5h-0.5zM151.5 43.2h0.5v0.5h-0.5zM150.2 40.5h0.5v0.5h-0.5zM150.7 41.3h0.5v0.5h-0.5zM149.8 43.7h0.5v0.5h-0.5zM149.6 44.5h0.5v0.5h-0.5zM149.7 42.7h0.5v0.5h-0.5zM150.6 46.6h0.5v0.5h-0.5zM153.8 43.6h0.5v0.5h-0.5zM149.7 43.8h0.5v0.5h-0.5zM152.6 43.9h0.5v0.5h-0.5zM148.1 44.6h0.5v0.5h-0.5zM149.7 45.5h0.5v0.5h-0.5zM152.1 41.2h0.5v0.5h-0.5zM154.8 40.2h0.5v0.5h-0.5zM155.3 40.2h0.5v0.5h-0.5zM150.9 47.5h0.5v0.5h-0.5zM150.1 42.5h0.5v0.5h-0.5zM153.6 41.4h0.5v0.5h-0.5zM151.8 39.7h0.5v0.5h-0.5zM154.2 43.5h0.5v0.5h-0.5zM151.6 44.3h0.5v0.5h-0.5zM150.1 42.5h0.5v0.5h-0.5zM148.2 45.5h0.5v0.5h-0.5zM153.2 43.7h0.5v0.5h-0.5zM152.6 43.7h0.5v0.5h-0.5zM149.4 41h0.5v0.5h-0.5zM152.1 42.8h0.5v0.5h-0.5zM152.7 41.4h0.5v0.5h-0.5zM149.4 44.9h0.5v0.5h-0.5zM150 39.9h0.5v0.5h-0.5zM149.9 41.7h0.5v0.5h-0.5zM149 42.9h0.5v0.5h-0.5zM152.7 47.4h0.5v0.5h-0.5zM154 40.3h0.5v0.5h-0.5zM153 41.7h0.5v0.5h-0.5zM151.7 41.1h0.5v0.5h-0.5zM150.9 39.3h0.5v0.5h-0.5zM154.2 39.5h0.5v0.5h-0.5zM152 41.1h0.5v0.5h-0.5zM151.5 40.1h0.5v0.5h-0.5zM150.3 45.5h0.5v0.5h-0.5zM152 38h0.5v0.5h-0.5zM152.5 39.2h0.5v0.5h-0.5zM151.5 43.9h0.5v0.5h-0.5zM149.9 43h0.5v0.5h-0.5zM150.6 44.2h0.5v0.5h-0.5zM152.6 45.2h0.5v0.5h-0.5zM151.6 47.2h0.5v0.5h-0.5zM149.3 48h0.5v0.5h-0.5zM150.5 45h0.5v0.5h-0.5zM150.8 43.4h0.5v0.5h-0.5zM149.4 44.9h0.5v0.5h-0.5zM154.6 41.3h0.5v0.5h-0.5zM151 43.1h0.5v0.5h-0.5zM152.3 41.9h0.5v0.5h-0.5zM151 43.5h0.5v0.5h-0.5zM153.3 43.9h0.5v0.5h-0.5zM149.1 42.7h0.5v0.5h-0.5zM151 44.9h0.5v0.5h-0.5zM152.7 41.6h0.5v0.5h-0.5zM154.7 40.5h0.5v0.5h-0.5zM153.5 44.8h0.5v0.5h-0.5zM153.8 41.9h0.5v0.5h-0.5zM152 39h0.5v0.5h-0.5zM147.9 43.5h0.5v0.5h-0.5z" fill="#444" fill-opacity="1.0"/>
<text x="131.5" y="69.5" font-size="6" text-anchor="start" style="font-family:'Liberation Serif',serif" fill="#222">44</text>
<text x="162.3" y="49.3" font-size="6" text-anchor="end" style="font-family:'Liberation Serif',serif" fill="#222">53</text>
<text x="159.5" y="69.5" font-size="6" text-anchor="end" style="font-family:'Liberation Serif',serif" fill="#222">1</text>
<text x="131.5" y="34.5" font-size="2.8" text-anchor="start" style="font-family:'Liberation Serif',serif" fill="#444">B</text>
<text x="160.5" y="34.5" font-size="2.8" text-anchor="start" style="font-family:'Liberation Serif',serif" fill="#444">A</text>
<text x="0" y="0" font-size="6.8" text-anchor="middle" style="font-family:'Liberation Serif',serif;font-weight:bold" fill="#000" stroke="#000" stroke-width="0.25" transform="translate(122.3,48.7) rotate(-90)">CD45RB</text>
<text x="150.5" y="87.5" font-size="6.6" text-anchor="middle" style="font-family:'Liberation Serif',serif;font-weight:bold" fill="#000" stroke="#000" stroke-width="0.25" >CD62L</text>
<text x="149.2" y="22.8" font-size="7" text-anchor="middle" style="font-family:'Liberation Serif',serif;font-weight:bold" fill="#000" stroke="#000" stroke-width="0.25" >CD25<tspan font-size="4" dy="-2.5">-</tspan><tspan dy="2.5"> T cell-</tspan></text>
<text x="149.2" y="30.3" font-size="7" text-anchor="middle" style="font-family:'Liberation Serif',serif;font-weight:bold" fill="#000" stroke="#000" stroke-width="0.25" >gated</text>
<line x1="160" y1="40.9" x2="188" y2="40.9" stroke="#000" stroke-width="1.1"/>
<path d="M192,40.9 L187.5,39 L187.5,42.8 Z" fill="#000"/>
<rect x="189.3" y="32.3" width="40.3" height="40.7" stroke="#8a8a8a" stroke-width="0.7" fill="none"/>
<line x1="189.3" y1="32.3" x2="189.3" y2="73" stroke="#333" stroke-width="0.8"/>
<line x1="189.3" y1="73" x2="229.6" y2="73" stroke="#333" stroke-width="0.8"/>
<line x1="188.1" y1="37.8" x2="189.3" y2="37.8" stroke="#333" stroke-width="0.7"/>
<text font-size="3.2" text-anchor="end" style="font-family:'Liberation Serif',serif;font-weight:bold" fill="#555" transform="translate(188,38.1) rotate(40)">10<tspan font-size="2.2" dy="-1.2">4</tspan></text>
<line x1="188.1" y1="47.9" x2="189.3" y2="47.9" stroke="#333" stroke-width="0.7"/>
<text font-size="3.2" text-anchor="end" style="font-family:'Liberation Serif',serif;font-weight:bold" fill="#555" transform="translate(188,48.2) rotate(40)">10<tspan font-size="2.2" dy="-1.2">3</tspan></text>
<line x1="188.1" y1="58" x2="189.3" y2="58" stroke="#333" stroke-width="0.7"/>
<text font-size="3.2" text-anchor="end" style="font-family:'Liberation Serif',serif;font-weight:bold" fill="#555" transform="translate(188,58.3) rotate(40)">10<tspan font-size="2.2" dy="-1.2">2</tspan></text>
<line x1="188.1" y1="68.1" x2="189.3" y2="68.1" stroke="#333" stroke-width="0.7"/>
<text font-size="3.2" text-anchor="end" style="font-family:'Liberation Serif',serif;font-weight:bold" fill="#555" transform="translate(188,68.4) rotate(40)">10<tspan font-size="2.2" dy="-1.2">1</tspan></text>
<line x1="194.3" y1="73" x2="194.3" y2="74.2" stroke="#333" stroke-width="0.7"/>
<text font-size="3.2" text-anchor="middle" style="font-family:'Liberation Serif',serif;font-weight:bold" fill="#555" transform="translate(194.3,77.4) rotate(40)">10<tspan font-size="2.2" dy="-1.2">1</tspan></text>
<line x1="204.4" y1="73" x2="204.4" y2="74.2" stroke="#333" stroke-width="0.7"/>
<text font-size="3.2" text-anchor="middle" style="font-family:'Liberation Serif',serif;font-weight:bold" fill="#555" transform="translate(204.4,77.4) rotate(40)">10<tspan font-size="2.2" dy="-1.2">2</tspan></text>
<line x1="214.5" y1="73" x2="214.5" y2="74.2" stroke="#333" stroke-width="0.7"/>
<text font-size="3.2" text-anchor="middle" style="font-family:'Liberation Serif',serif;font-weight:bold" fill="#555" transform="translate(214.5,77.4) rotate(40)">10<tspan font-size="2.2" dy="-1.2">3</tspan></text>
<line x1="224.6" y1="73" x2="224.6" y2="74.2" stroke="#333" stroke-width="0.7"/>
<text font-size="3.2" text-anchor="middle" style="font-family:'Liberation Serif',serif;font-weight:bold" fill="#555" transform="translate(224.6,77.4) rotate(40)">10<tspan font-size="2.2" dy="-1.2">4</tspan></text>
<rect x="204.4" y="35" width="20.4" height="36.7" stroke="#666" stroke-width="0.7" fill="none"/>
<line x1="204.4" y1="45.8" x2="224.8" y2="45.8" stroke="#555" stroke-width="0.9"/>
<path d="M212.6 55.3h0.5v0.5h-0.5zM211.5 55.2h0.5v0.5h-0.5zM212.4 56.7h0.5v0.5h-0.5zM209.4 49.5h0.5v0.5h-0.5zM210.3 48.9h0.5v0.5h-0.5zM213.9 49.2h0.5v0.5h-0.5zM210.5 50.8h0.5v0.5h-0.5zM212.8 50.7h0.5v0.5h-0.5zM212.6 53.7h0.5v0.5h-0.5zM210.3 48.3h0.5v0.5h-0.5zM213.8 49.9h0.5v0.5h-0.5zM210.1 53.2h0.5v0.5h-0.5zM211.7 49.2h0.5v0.5h-0.5zM213.1 54.8h0.5v0.5h-0.5zM212 49.7h0.5v0.5h-0.5zM212.1 53.2h0.5v0.5h-0.5zM210.3 52.1h0.5v0.5h-0.5zM216.1 48.6h0.5v0.5h-0.5zM209.3 53.9h0.5v0.5h-0.5zM211 50.5h0.5v0.5h-0.5zM212.5 51.7h0.5v0.5h-0.5zM213 53.6h0.5v0.5h-0.5zM213.2 52.4h0.5v0.5h-0.5zM208.6 56.2h0.5v0.5h-0.5zM209.3 55.2h0.5v0.5h-0.5zM211.9 47.8h0.5v0.5h-0.5zM211.7 54.7h0.5v0.5h-0.5zM210.2 52.2h0.5v0.5h-0.5zM210.6 49h0.5v0.5h-0.5zM210.8 55.9h0.5v0.5h-0.5zM212.5 52h0.5v0.5h-0.5zM211.5 52.4h0.5v0.5h-0.5zM212 52.6h0.5v0.5h-0.5zM209.2 54.8h0.5v0.5h-0.5zM212.6 48.4h0.5v0.5h-0.5zM211.4 51.8h0.5v0.5h-0.5zM210.8 53.7h0.5v0.5h-0.5zM211.2 51.2h0.5v0.5h-0.5zM210.3 51.2h0.5v0.5h-0.5zM210.2 52.2h0.5v0.5h-0.5zM213.4 55.1h0.5v0.5h-0.5zM212.2 47.9h0.5v0.5h-0.5zM213 54.9h0.5v0.5h-0.5zM211.6 51h0.5v0.5h-0.5zM213.1 48.7h0.5v0.5h-0.5zM211.1 59.1h0.5v0.5h-0.5zM211.6 56.2h0.5v0.5h-0.5zM210.8 53.8h0.5v0.5h-0.5zM211.7 47.6h0.5v0.5h-0.5zM210.7 55.5h0.5v0.5h-0.5zM213.2 50.2h0.5v0.5h-0.5zM213.1 49.9h0.5v0.5h-0.5zM211.9 52h0.5v0.5h-0.5zM209.9 53h0.5v0.5h-0.5zM210.5 49.4h0.5v0.5h-0.5zM210.5 49h0.5v0.5h-0.5zM212.8 52.2h0.5v0.5h-0.5zM212 51.2h0.5v0.5h-0.5zM211.7 51.2h0.5v0.5h-0.5zM210.1 47.4h0.5v0.5h-0.5zM211.7 55.1h0.5v0.5h-0.5zM211.9 56.9h0.5v0.5h-0.5zM209.7 51.2h0.5v0.5h-0.5zM210.7 55.8h0.5v0.5h-0.5zM213.9 50.4h0.5v0.5h-0.5zM212.6 51.3h0.5v0.5h-0.5zM210.2 51.7h0.5v0.5h-0.5zM210.2 56.8h0.5v0.5h-0.5zM212.4 55.6h0.5v0.5h-0.5zM212.7 52.3h0.5v0.5h-0.5zM208.3 52.3h0.5v0.5h-0.5zM213 57.2h0.5v0.5h-0.5zM210.2 54.4h0.5v0.5h-0.5zM212.1 51.5h0.5v0.5h-0.5zM211.2 53.6h0.5v0.5h-0.5zM212.4 54h0.5v0.5h-0.5zM211 48h0.5v0.5h-0.5zM213.4 56h0.5v0.5h-0.5zM210.8 51.9h0.5v0.5h-0.5zM212.7 46.6h0.5v0.5h-0.5zM212.3 59.4h0.5v0.5h-0.5zM212 49.9h0.5v0.5h-0.5zM214.4 52h0.5v0.5h-0.5zM211.9 50.7h0.5v0.5h-0.5zM211.8 46.5h0.5v0.5h-0.5zM209.8 47.5h0.5v0.5h-0.5zM212.8 51.7h0.5v0.5h-0.5zM210.8 56.5h0.5v0.5h-0.5zM210.5 46.3h0.5v0.5h-0.5zM210.6 51h0.5v0.5h-0.5zM211.6 56h0.5v0.5h-0.5zM213.4 56.8h0.5v0.5h-0.5zM212.4 50.5h0.5v0.5h-0.5zM210.9 47.5h0.5v0.5h-0.5zM213.4 55.8h0.5v0.5h-0.5zM211.7 49.3h0.5v0.5h-0.5zM212.5 53.5h0.5v0.5h-0.5zM211.8 48.4h0.5v0.5h-0.5zM211.9 50.3h0.5v0.5h-0.5zM212.6 53.8h0.5v0.5h-0.5zM212.2 50.7h0.5v0.5h-0.5zM213.7 54.4h0.5v0.5h-0.5zM213.3 54.6h0.5v0.5h-0.5zM212.5 53.2h0.5v0.5h-0.5zM210.1 46.4h0.5v0.5h-0.5zM210.3 53.9h0.5v0.5h-0.5zM212.9 52.6h0.5v0.5h-0.5zM211.7 57.6h0.5v0.5h-0.5zM211.1 46.5h0.5v0.5h-0.5zM209.5 51h0.5v0.5h-0.5zM212.6 54.3h0.5v0.5h-0.5zM211.3 54.5h0.5v0.5h-0.5zM211.5 49.8h0.5v0.5h-0.5zM211.1 54.3h0.5v0.5h-0.5zM212.9 48.6h0.5v0.5h-0.5zM210.2 52.4h0.5v0.5h-0.5zM214.5 48.4h0.5v0.5h-0.5zM209.9 53.3h0.5v0.5h-0.5zM212.3 50.1h0.5v0.5h-0.5zM211.6 53.5h0.5v0.5h-0.5zM209.2 51.9h0.5v0.5h-0.5zM212.4 54.8h0.5v0.5h-0.5zM213.2 51.8h0.5v0.5h-0.5zM209.6 56.1h0.5v0.5h-0.5zM212.7 50.1h0.5v0.5h-0.5zM213 55.2h0.5v0.5h-0.5zM211 49.7h0.5v0.5h-0.5zM210.5 51.8h0.5v0.5h-0.5zM210.1 53.2h0.5v0.5h-0.5zM214.2 48.4h0.5v0.5h-0.5zM213 50.4h0.5v0.5h-0.5zM212.3 51.6h0.5v0.5h-0.5zM213.4 49.8h0.5v0.5h-0.5zM212.6 49.6h0.5v0.5h-0.5zM211.9 52h0.5v0.5h-0.5zM213.1 47.2h0.5v0.5h-0.5zM209.7 56.3h0.5v0.5h-0.5zM212.1 57.2h0.5v0.5h-0.5zM210.2 52.6h0.5v0.5h-0.5zM212.4 57.4h0.5v0.5h-0.5zM211.5 50.6h0.5v0.5h-0.5zM212.6 51.7h0.5v0.5h-0.5zM210.6 54.3h0.5v0.5h-0.5zM209 48.9h0.5v0.5h-0.5zM213.5 50.5h0.5v0.5h-0.5zM211.2 53.1h0.5v0.5h-0.5zM213.1 53.6h0.5v0.5h-0.5zM210.3 50.3h0.5v0.5h-0.5zM213 51.6h0.5v0.5h-0.5zM210.7 54.7h0.5v0.5h-0.5zM213.2 58.7h0.5v0.5h-0.5zM210.1 49.8h0.5v0.5h-0.5zM210.7 53.1h0.5v0.5h-0.5zM210.9 55.4h0.5v0.5h-0.5zM207.9 55h0.5v0.5h-0.5zM210.7 51.2h0.5v0.5h-0.5zM212.4 52.6h0.5v0.5h-0.5zM210.2 56.6h0.5v0.5h-0.5zM212.4 50.5h0.5v0.5h-0.5zM211.9 48.6h0.5v0.5h-0.5zM209.9 51.1h0.5v0.5h-0.5zM212.1 52.3h0.5v0.5h-0.5zM210.5 47.8h0.5v0.5h-0.5zM209.3 56.9h0.5v0.5h-0.5zM212.1 49.5h0.5v0.5h-0.5zM213.2 53.7h0.5v0.5h-0.5zM211 50.1h0.5v0.5h-0.5zM213.2 53h0.5v0.5h-0.5zM213.8 53.1h0.5v0.5h-0.5zM210.8 50.2h0.5v0.5h-0.5zM210.6 52.8h0.5v0.5h-0.5zM211.9 53.9h0.5v0.5h-0.5zM212.2 48.8h0.5v0.5h-0.5zM211.3 49.1h0.5v0.5h-0.5zM212.3 48h0.5v0.5h-0.5zM210.8 49.4h0.5v0.5h-0.5zM210.8 51.2h0.5v0.5h-0.5zM213.7 51.2h0.5v0.5h-0.5zM209.6 51.1h0.5v0.5h-0.5zM212.6 53.7h0.5v0.5h-0.5zM211.9 58.1h0.5v0.5h-0.5zM213.1 52.3h0.5v0.5h-0.5zM213.3 47.9h0.5v0.5h-0.5zM211.4 49.3h0.5v0.5h-0.5zM211.8 57h0.5v0.5h-0.5zM210.9 56.9h0.5v0.5h-0.5zM210.2 56.4h0.5v0.5h-0.5zM209.3 49.4h0.5v0.5h-0.5zM213 51.7h0.5v0.5h-0.5zM211.8 52h0.5v0.5h-0.5zM211.8 51.5h0.5v0.5h-0.5zM210.3 51.1h0.5v0.5h-0.5zM211.8 49.2h0.5v0.5h-0.5zM212.2 57.4h0.5v0.5h-0.5zM209.4 50.3h0.5v0.5h-0.5zM211.2 52.1h0.5v0.5h-0.5zM211.7 49.8h0.5v0.5h-0.5zM211.6 52h0.5v0.5h-0.5zM211.5 56.7h0.5v0.5h-0.5zM211.8 47.5h0.5v0.5h-0.5zM209.5 53.8h0.5v0.5h-0.5zM211.1 50.1h0.5v0.5h-0.5zM209.8 51.1h0.5v0.5h-0.5zM211.5 49.9h0.5v0.5h-0.5zM211.1 54.7h0.5v0.5h-0.5zM212.7 53.7h0.5v0.5h-0.5zM211.4 47.8h0.5v0.5h-0.5zM212.7 56.6h0.5v0.5h-0.5zM213.3 55.6h0.5v0.5h-0.5zM212 53.2h0.5v0.5h-0.5zM211.6 55.8h0.5v0.5h-0.5zM211.2 58.6h0.5v0.5h-0.5zM212.7 51h0.5v0.5h-0.5zM211.6 47.1h0.5v0.5h-0.5zM210.6 51.1h0.5v0.5h-0.5zM214.9 49.5h0.5v0.5h-0.5zM212.8 52.2h0.5v0.5h-0.5zM211.2 53.9h0.5v0.5h-0.5zM208.9 54.9h0.5v0.5h-0.5zM214.2 52.9h0.5v0.5h-0.5zM211.5 52.5h0.5v0.5h-0.5zM212.5 50.5h0.5v0.5h-0.5zM211.8 53.5h0.5v0.5h-0.5zM211.1 53.2h0.5v0.5h-0.5zM212.1 54.2h0.5v0.5h-0.5zM210.3 50.4h0.5v0.5h-0.5zM211 55.7h0.5v0.5h-0.5zM211.9 46.9h0.5v0.5h-0.5zM209.9 58h0.5v0.5h-0.5zM212.1 48h0.5v0.5h-0.5zM210.4 52.4h0.5v0.5h-0.5zM213.5 57h0.5v0.5h-0.5zM211.1 51.1h0.5v0.5h-0.5zM214.2 49h0.5v0.5h-0.5zM213.7 53h0.5v0.5h-0.5zM211.7 56h0.5v0.5h-0.5zM212.3 49.4h0.5v0.5h-0.5zM209.5 52h0.5v0.5h-0.5zM212.3 56.2h0.5v0.5h-0.5zM208 56.1h0.5v0.5h-0.5zM212.4 56.7h0.5v0.5h-0.5zM212.7 52.7h0.5v0.5h-0.5zM212.2 53.2h0.5v0.5h-0.5zM210.7 51.7h0.5v0.5h-0.5zM211.8 50.6h0.5v0.5h-0.5zM209.6 47.6h0.5v0.5h-0.5zM212.3 53.6h0.5v0.5h-0.5zM211.7 48.4h0.5v0.5h-0.5zM212.8 50.8h0.5v0.5h-0.5zM208.8 56.8h0.5v0.5h-0.5zM209.6 58.9h0.5v0.5h-0.5zM212.3 50.6h0.5v0.5h-0.5zM208.4 49.8h0.5v0.5h-0.5zM213.6 56.2h0.5v0.5h-0.5zM212 46.7h0.5v0.5h-0.5zM211.1 51.1h0.5v0.5h-0.5zM212.2 51.6h0.5v0.5h-0.5zM212.1 47h0.5v0.5h-0.5zM210.7 56.4h0.5v0.5h-0.5zM209.6 54.8h0.5v0.5h-0.5zM214.7 54h0.5v0.5h-0.5zM209.7 55.8h0.5v0.5h-0.5zM209.1 53h0.5v0.5h-0.5zM211 55.8h0.5v0.5h-0.5zM213.2 52.6h0.5v0.5h-0.5zM214 55h0.5v0.5h-0.5zM211 49h0.5v0.5h-0.5zM214.9 50.8h0.5v0.5h-0.5zM212.2 51.6h0.5v0.5h-0.5zM211 47.1h0.5v0.5h-0.5zM211.4 51.6h0.5v0.5h-0.5zM212.9 50.4h0.5v0.5h-0.5zM209.5 48.7h0.5v0.5h-0.5zM211.5 52.8h0.5v0.5h-0.5zM212.6 50.8h0.5v0.5h-0.5zM212.3 52.4h0.5v0.5h-0.5zM213.9 51.8h0.5v0.5h-0.5zM211.8 53.7h0.5v0.5h-0.5zM213.3 49.2h0.5v0.5h-0.5zM211 51.2h0.5v0.5h-0.5zM208.7 56h0.5v0.5h-0.5zM213.1 52.1h0.5v0.5h-0.5zM216.2 55.9h0.5v0.5h-0.5zM214.4 56.8h0.5v0.5h-0.5zM212.8 47.6h0.5v0.5h-0.5zM213.7 53.3h0.5v0.5h-0.5zM210 52.2h0.5v0.5h-0.5zM212.6 55h0.5v0.5h-0.5zM211.8 50.4h0.5v0.5h-0.5zM212.6 49.7h0.5v0.5h-0.5zM211.5 54.4h0.5v0.5h-0.5zM209.6 53.2h0.5v0.5h-0.5zM208.9 49.1h0.5v0.5h-0.5zM209.9 51.7h0.5v0.5h-0.5zM212.6 51.8h0.5v0.5h-0.5zM212.8 52.3h0.5v0.5h-0.5zM211.3 53.5h0.5v0.5h-0.5zM211.3 52.4h0.5v0.5h-0.5zM213 50.2h0.5v0.5h-0.5zM213.2 48.6h0.5v0.5h-0.5zM211.3 46.6h0.5v0.5h-0.5zM210.9 56.9h0.5v0.5h-0.5zM212.1 55.9h0.5v0.5h-0.5zM209.6 48.9h0.5v0.5h-0.5zM212.2 54.6h0.5v0.5h-0.5zM212.7 46.8h0.5v0.5h-0.5zM212.3 51.8h0.5v0.5h-0.5zM211.8 53.5h0.5v0.5h-0.5zM211.2 46.8h0.5v0.5h-0.5zM210.1 47.5h0.5v0.5h-0.5zM209.8 51.6h0.5v0.5h-0.5zM213.4 49.8h0.5v0.5h-0.5zM210.6 48.5h0.5v0.5h-0.5zM209.2 52.2h0.5v0.5h-0.5zM210.9 51.3h0.5v0.5h-0.5zM210.3 53.5h0.5v0.5h-0.5zM210 53.7h0.5v0.5h-0.5zM210.7 54.4h0.5v0.5h-0.5zM210.4 53.4h0.5v0.5h-0.5zM212.2 51.8h0.5v0.5h-0.5zM213.8 52.5h0.5v0.5h-0.5zM210.4 54.1h0.5v0.5h-0.5zM210.5 50.3h0.5v0.5h-0.5zM211.6 52.6h0.5v0.5h-0.5zM213.9 46.6h0.5v0.5h-0.5zM211.2 55.5h0.5v0.5h-0.5zM211.4 53h0.5v0.5h-0.5zM213.7 48.2h0.5v0.5h-0.5zM211.7 54.5h0.5v0.5h-0.5zM210.8 46.6h0.5v0.5h-0.5zM210.2 52.6h0.5v0.5h-0.5zM211.9 57.7h0.5v0.5h-0.5zM213.4 47.2h0.5v0.5h-0.5zM213 54.8h0.5v0.5h-0.5zM213.8 51.5h0.5v0.5h-0.5zM210.8 52.5h0.5v0.5h-0.5zM213.7 53.9h0.5v0.5h-0.5zM213.9 54.4h0.5v0.5h-0.5zM210.8 48.9h0.5v0.5h-0.5zM214.1 47.3h0.5v0.5h-0.5zM211.1 51h0.5v0.5h-0.5zM210.4 50.2h0.5v0.5h-0.5zM211.6 59.4h0.5v0.5h-0.5zM211.5 50.4h0.5v0.5h-0.5zM211.8 54.9h0.5v0.5h-0.5zM210.5 50.7h0.5v0.5h-0.5zM209.2 54.2h0.5v0.5h-0.5zM212.5 56.6h0.5v0.5h-0.5zM210 58.7h0.5v0.5h-0.5zM212.8 51.1h0.5v0.5h-0.5zM211.1 51h0.5v0.5h-0.5zM209.9 54.4h0.5v0.5h-0.5zM210.8 49.8h0.5v0.5h-0.5zM212.3 52.3h0.5v0.5h-0.5zM210.8 51.3h0.5v0.5h-0.5zM210.9 56.2h0.5v0.5h-0.5zM213 49.8h0.5v0.5h-0.5zM211.5 56.2h0.5v0.5h-0.5zM211.2 57.5h0.5v0.5h-0.5zM212.2 54.1h0.5v0.5h-0.5zM208.8 54.6h0.5v0.5h-0.5zM212.1 53.8h0.5v0.5h-0.5zM212.3 53.6h0.5v0.5h-0.5zM210.9 54.8h0.5v0.5h-0.5zM211.7 48.8h0.5v0.5h-0.5zM210.2 52.5h0.5v0.5h-0.5zM208.8 55.3h0.5v0.5h-0.5zM211.6 60.8h0.5v0.5h-0.5zM209.5 51.2h0.5v0.5h-0.5zM210.8 53.7h0.5v0.5h-0.5zM213.5 57h0.5v0.5h-0.5zM210.2 55.8h0.5v0.5h-0.5zM209.9 53h0.5v0.5h-0.5zM211.8 53.9h0.5v0.5h-0.5zM210.5 56.1h0.5v0.5h-0.5zM211.5 51.9h0.5v0.5h-0.5zM211.2 48.7h0.5v0.5h-0.5zM212.6 53h0.5v0.5h-0.5zM212.2 57.8h0.5v0.5h-0.5zM210.4 51.1h0.5v0.5h-0.5zM211.6 54.7h0.5v0.5h-0.5zM211.4 54.9h0.5v0.5h-0.5zM212.2 46.5h0.5v0.5h-0.5zM211.2 50.7h0.5v0.5h-0.5zM212.4 52.5h0.5v0.5h-0.5zM211.5 55.9h0.5v0.5h-0.5zM212.4 48.2h0.5v0.5h-0.5zM210.7 53h0.5v0.5h-0.5zM213.9 51.4h0.5v0.5h-0.5zM211.4 52.8h0.5v0.5h-0.5zM212.7 51.7h0.5v0.5h-0.5zM212 50.7h0.5v0.5h-0.5zM210.8 49.5h0.5v0.5h-0.5zM212.5 50.3h0.5v0.5h-0.5zM212.4 53.3h0.5v0.5h-0.5zM210.3 48.2h0.5v0.5h-0.5zM211.4 54.5h0.5v0.5h-0.5zM215.1 56.8h0.5v0.5h-0.5zM213.5 53.2h0.5v0.5h-0.5zM211.1 53.7h0.5v0.5h-0.5zM208.6 54.9h0.5v0.5h-0.5zM211.6 53.9h0.5v0.5h-0.5zM210.2 48.6h0.5v0.5h-0.5zM210.7 51.9h0.5v0.5h-0.5zM212.1 50.9h0.5v0.5h-0.5zM212.1 54.1h0.5v0.5h-0.5zM210 51.7h0.5v0.5h-0.5zM209.5 50.3h0.5v0.5h-0.5zM212.8 49.8h0.5v0.5h-0.5zM214.1 53.6h0.5v0.5h-0.5zM212.8 52.3h0.5v0.5h-0.5zM212.8 55.4h0.5v0.5h-0.5zM211.7 50.4h0.5v0.5h-0.5zM210.8 58h0.5v0.5h-0.5zM211.3 50.6h0.5v0.5h-0.5zM210.6 46.8h0.5v0.5h-0.5zM210.9 53h0.5v0.5h-0.5zM210.9 49.6h0.5v0.5h-0.5zM212.2 53.4h0.5v0.5h-0.5zM211 53h0.5v0.5h-0.5zM210.3 54.7h0.5v0.5h-0.5zM210.3 51h0.5v0.5h-0.5zM211.8 50.7h0.5v0.5h-0.5zM210 58.5h0.5v0.5h-0.5zM213.7 46.6h0.5v0.5h-0.5zM211.8 48.1h0.5v0.5h-0.5zM212 47.9h0.5v0.5h-0.5zM212.4 53.7h0.5v0.5h-0.5zM213.9 55.8h0.5v0.5h-0.5zM211 54.9h0.5v0.5h-0.5zM211 51.6h0.5v0.5h-0.5zM210.9 46.5h0.5v0.5h-0.5zM211.3 53.6h0.5v0.5h-0.5zM211.8 47.1h0.5v0.5h-0.5zM210.7 54.1h0.5v0.5h-0.5zM213.1 57h0.5v0.5h-0.5zM209.1 53.4h0.5v0.5h-0.5zM210.9 54.4h0.5v0.5h-0.5zM209.3 51.6h0.5v0.5h-0.5zM212.6 50h0.5v0.5h-0.5zM211.1 48.9h0.5v0.5h-0.5zM213.1 47.9h0.5v0.5h-0.5zM210.4 51h0.5v0.5h-0.5zM211.2 58.6h0.5v0.5h-0.5zM212 49.4h0.5v0.5h-0.5zM212.4 53.1h0.5v0.5h-0.5zM212 51.8h0.5v0.5h-0.5zM212.2 48.3h0.5v0.5h-0.5zM210 50.7h0.5v0.5h-0.5zM210.1 54.2h0.5v0.5h-0.5zM214.3 55.9h0.5v0.5h-0.5zM212.2 53.1h0.5v0.5h-0.5zM210.7 48h0.5v0.5h-0.5zM212.4 47.4h0.5v0.5h-0.5zM212 51.6h0.5v0.5h-0.5zM212.6 52.2h0.5v0.5h-0.5zM211.7 50.2h0.5v0.5h-0.5zM209.2 50.9h0.5v0.5h-0.5zM212.6 55.3h0.5v0.5h-0.5zM213.5 48.9h0.5v0.5h-0.5zM210.3 54.2h0.5v0.5h-0.5zM211 60h0.5v0.5h-0.5zM212 47.3h0.5v0.5h-0.5zM210.8 56.9h0.5v0.5h-0.5zM209.1 52.5h0.5v0.5h-0.5zM209.7 57h0.5v0.5h-0.5zM211 48.8h0.5v0.5h-0.5zM209.3 49.8h0.5v0.5h-0.5zM208.1 50.5h0.5v0.5h-0.5zM214.6 52.3h0.5v0.5h-0.5zM211.2 48.4h0.5v0.5h-0.5zM212.1 50.5h0.5v0.5h-0.5zM210.4 56.3h0.5v0.5h-0.5zM212.2 49.2h0.5v0.5h-0.5zM213.6 51.8h0.5v0.5h-0.5zM212.3 52.5h0.5v0.5h-0.5zM213.2 53.9h0.5v0.5h-0.5zM211.1 54.2h0.5v0.5h-0.5zM211.1 52.4h0.5v0.5h-0.5zM213.8 48.7h0.5v0.5h-0.5zM210.2 50.8h0.5v0.5h-0.5zM210.9 56.1h0.5v0.5h-0.5zM209.4 59.2h0.5v0.5h-0.5zM213.8 50.6h0.5v0.5h-0.5zM211.9 50.9h0.5v0.5h-0.5zM212.5 54.1h0.5v0.5h-0.5zM212.6 54.4h0.5v0.5h-0.5zM214.2 51.5h0.5v0.5h-0.5zM212.6 51.4h0.5v0.5h-0.5zM211.7 52.7h0.5v0.5h-0.5zM211.5 53.1h0.5v0.5h-0.5zM210.4 51.5h0.5v0.5h-0.5zM210.8 48.4h0.5v0.5h-0.5zM210.6 50.4h0.5v0.5h-0.5zM211.4 47.1h0.5v0.5h-0.5zM211.2 48.5h0.5v0.5h-0.5zM210.5 52.6h0.5v0.5h-0.5zM213.1 52.9h0.5v0.5h-0.5zM210.9 50.6h0.5v0.5h-0.5zM213.4 46.9h0.5v0.5h-0.5zM213.2 47.3h0.5v0.5h-0.5zM210.7 52.1h0.5v0.5h-0.5zM211.3 57.2h0.5v0.5h-0.5zM212.3 51.9h0.5v0.5h-0.5zM212.9 52.1h0.5v0.5h-0.5zM210.5 55.5h0.5v0.5h-0.5zM213.7 56h0.5v0.5h-0.5zM210 58h0.5v0.5h-0.5zM211 54.4h0.5v0.5h-0.5zM213.2 59.4h0.5v0.5h-0.5zM209.4 48.8h0.5v0.5h-0.5zM213.2 53.5h0.5v0.5h-0.5zM212.2 51.4h0.5v0.5h-0.5zM208 60.4h0.5v0.5h-0.5zM208.2 50.3h0.5v0.5h-0.5zM211.6 52.7h0.5v0.5h-0.5zM212.6 51.2h0.5v0.5h-0.5zM210.4 50.9h0.5v0.5h-0.5zM208.7 48.5h0.5v0.5h-0.5zM214.3 49.9h0.5v0.5h-0.5zM211.5 57.9h0.5v0.5h-0.5zM213 52.4h0.5v0.5h-0.5zM212.6 51.2h0.5v0.5h-0.5zM210.4 55.1h0.5v0.5h-0.5zM211.8 57h0.5v0.5h-0.5zM211.2 50.8h0.5v0.5h-0.5zM212.1 51.4h0.5v0.5h-0.5zM211.2 49.2h0.5v0.5h-0.5zM211.9 53h0.5v0.5h-0.5zM214.1 51.9h0.5v0.5h-0.5zM209.2 53.5h0.5v0.5h-0.5zM214.7 50.6h0.5v0.5h-0.5zM210.5 51.5h0.5v0.5h-0.5zM207.7 51h0.5v0.5h-0.5zM211.3 47.3h0.5v0.5h-0.5zM212.4 49.3h0.5v0.5h-0.5zM209.1 49.7h0.5v0.5h-0.5zM212.5 58h0.5v0.5h-0.5zM213.3 52.6h0.5v0.5h-0.5zM210.9 51.2h0.5v0.5h-0.5zM212.9 50.4h0.5v0.5h-0.5zM212.2 55h0.5v0.5h-0.5zM210.4 50.2h0.5v0.5h-0.5zM212.2 52h0.5v0.5h-0.5zM211.4 50.3h0.5v0.5h-0.5zM211.5 57.8h0.5v0.5h-0.5zM213.5 46.9h0.5v0.5h-0.5zM211.7 52.3h0.5v0.5h-0.5zM211.7 47.7h0.5v0.5h-0.5zM211.4 52.5h0.5v0.5h-0.5zM210.7 53h0.5v0.5h-0.5zM208.3 47.3h0.5v0.5h-0.5zM211.7 53.2h0.5v0.5h-0.5zM211.4 50.6h0.5v0.5h-0.5zM211.9 55.4h0.5v0.5h-0.5zM212.8 51.8h0.5v0.5h-0.5zM211 55.3h0.5v0.5h-0.5zM212.3 54.8h0.5v0.5h-0.5zM211.2 49.3h0.5v0.5h-0.5zM211.9 50h0.5v0.5h-0.5zM213.2 54.7h0.5v0.5h-0.5zM208.6 54.1h0.5v0.5h-0.5zM213.4 55.3h0.5v0.5h-0.5zM210.9 49.3h0.5v0.5h-0.5zM212.9 55.2h0.5v0.5h-0.5zM211.7 48.4h0.5v0.5h-0.5zM209.5 52.8h0.5v0.5h-0.5zM210.5 49.9h0.5v0.5h-0.5zM212.2 55.3h0.5v0.5h-0.5zM208.8 49.9h0.5v0.5h-0.5zM213.4 51.9h0.5v0.5h-0.5zM211.1 54h0.5v0.5h-0.5zM210 48.2h0.5v0.5h-0.5zM211.6 56.9h0.5v0.5h-0.5zM213 52h0.5v0.5h-0.5zM213 50.7h0.5v0.5h-0.5zM210 46.8h0.5v0.5h-0.5zM212 54.8h0.5v0.5h-0.5zM212.1 51.9h0.5v0.5h-0.5zM211 55.4h0.5v0.5h-0.5zM211.5 47.5h0.5v0.5h-0.5zM213.5 50h0.5v0.5h-0.5zM212.1 52h0.5v0.5h-0.5zM213 52.8h0.5v0.5h-0.5zM213.3 52.7h0.5v0.5h-0.5zM211 50.4h0.5v0.5h-0.5zM212.5 49.4h0.5v0.5h-0.5zM212.9 51.2h0.5v0.5h-0.5zM210.3 49.3h0.5v0.5h-0.5zM211.4 57.5h0.5v0.5h-0.5zM212.7 52.1h0.5v0.5h-0.5zM210.4 58h0.5v0.5h-0.5zM211.2 52h0.5v0.5h-0.5zM211 56.2h0.5v0.5h-0.5zM211.8 50.6h0.5v0.5h-0.5zM211.9 48.9h0.5v0.5h-0.5zM210.2 51.5h0.5v0.5h-0.5zM207.6 55.7h0.5v0.5h-0.5zM214.3 48.5h0.5v0.5h-0.5zM211.4 47.1h0.5v0.5h-0.5zM211.8 52.7h0.5v0.5h-0.5zM212.6 47.8h0.5v0.5h-0.5zM210.8 50h0.5v0.5h-0.5zM211.3 59.2h0.5v0.5h-0.5zM211.3 51.9h0.5v0.5h-0.5zM210.9 54.5h0.5v0.5h-0.5zM215.1 55.6h0.5v0.5h-0.5zM213.7 48.6h0.5v0.5h-0.5zM213.1 52.1h0.5v0.5h-0.5zM213.3 55.3h0.5v0.5h-0.5zM212.5 46.7h0.5v0.5h-0.5zM211.8 50.4h0.5v0.5h-0.5zM212.2 52.1h0.5v0.5h-0.5zM213 47h0.5v0.5h-0.5zM210.6 51.8h0.5v0.5h-0.5zM212 50.7h0.5v0.5h-0.5zM211.6 52.2h0.5v0.5h-0.5zM213 51.6h0.5v0.5h-0.5zM208 47.4h0.5v0.5h-0.5zM212.2 51.7h0.5v0.5h-0.5zM211.6 49.7h0.5v0.5h-0.5zM211 54.6h0.5v0.5h-0.5zM212.1 51.9h0.5v0.5h-0.5zM210.9 52.7h0.5v0.5h-0.5zM213.2 51.9h0.5v0.5h-0.5zM211.1 48.3h0.5v0.5h-0.5zM211.7 49.1h0.5v0.5h-0.5zM209.6 54.7h0.5v0.5h-0.5zM210.6 57.8h0.5v0.5h-0.5zM211.5 47.8h0.5v0.5h-0.5zM210.1 54.3h0.5v0.5h-0.5zM212.2 52.7h0.5v0.5h-0.5zM211.3 53.5h0.5v0.5h-0.5zM213.7 53.5h0.5v0.5h-0.5zM211.4 47.6h0.5v0.5h-0.5zM212.2 56.9h0.5v0.5h-0.5zM212.5 48h0.5v0.5h-0.5zM211.9 56.1h0.5v0.5h-0.5zM210.7 53.6h0.5v0.5h-0.5zM213.3 57.1h0.5v0.5h-0.5zM209.4 46.5h0.5v0.5h-0.5zM212.1 54.2h0.5v0.5h-0.5zM211.1 51.9h0.5v0.5h-0.5zM211 55.8h0.5v0.5h-0.5zM208.6 52.8h0.5v0.5h-0.5zM209.8 49.9h0.5v0.5h-0.5zM209.5 49.1h0.5v0.5h-0.5zM211.6 52.1h0.5v0.5h-0.5zM214.1 51.3h0.5v0.5h-0.5zM212.1 53.1h0.5v0.5h-0.5zM212 56.6h0.5v0.5h-0.5zM211.8 52.5h0.5v0.5h-0.5zM211.4 52h0.5v0.5h-0.5zM211.5 55.1h0.5v0.5h-0.5zM211.6 52.2h0.5v0.5h-0.5zM211.5 54.4h0.5v0.5h-0.5zM210.9 55h0.5v0.5h-0.5zM210.8 54.2h0.5v0.5h-0.5zM214.2 52.7h0.5v0.5h-0.5zM211.5 48.3h0.5v0.5h-0.5zM212.6 52h0.5v0.5h-0.5zM212.9 49.9h0.5v0.5h-0.5zM212.3 57.7h0.5v0.5h-0.5zM212.2 51h0.5v0.5h-0.5zM209.8 52h0.5v0.5h-0.5zM212.5 53.9h0.5v0.5h-0.5zM210.1 48.8h0.5v0.5h-0.5zM210.3 48.8h0.5v0.5h-0.5zM211.2 52.8h0.5v0.5h-0.5zM214.3 52.6h0.5v0.5h-0.5zM213.6 46.8h0.5v0.5h-0.5zM213.7 54.5h0.5v0.5h-0.5zM212.2 54.6h0.5v0.5h-0.5zM212.5 58h0.5v0.5h-0.5zM212.7 46.5h0.5v0.5h-0.5zM209.2 57.1h0.5v0.5h-0.5zM211.5 56.2h0.5v0.5h-0.5zM211.1 49.9h0.5v0.5h-0.5zM211.1 53h0.5v0.5h-0.5zM211.9 50h0.5v0.5h-0.5zM212.3 53.9h0.5v0.5h-0.5zM210.3 48.5h0.5v0.5h-0.5zM208.9 51h0.5v0.5h-0.5zM211.6 49.8h0.5v0.5h-0.5zM210.8 51.6h0.5v0.5h-0.5zM211.6 53.8h0.5v0.5h-0.5zM212.8 53.4h0.5v0.5h-0.5zM213.1 48.9h0.5v0.5h-0.5zM212.4 53.2h0.5v0.5h-0.5zM210.2 49.9h0.5v0.5h-0.5zM212.2 52.2h0.5v0.5h-0.5zM209.9 50.3h0.5v0.5h-0.5zM213.7 54.7h0.5v0.5h-0.5zM211.7 56.3h0.5v0.5h-0.5zM210.3 51.5h0.5v0.5h-0.5zM212.9 50.9h0.5v0.5h-0.5zM210.1 53.9h0.5v0.5h-0.5zM211.8 48h0.5v0.5h-0.5zM211.2 47.5h0.5v0.5h-0.5zM215.2 49.8h0.5v0.5h-0.5zM211.7 49.8h0.5v0.5h-0.5zM210.2 50.6h0.5v0.5h-0.5zM211.9 57.5h0.5v0.5h-0.5zM212 57h0.5v0.5h-0.5zM210.1 52.2h0.5v0.5h-0.5zM211 47h0.5v0.5h-0.5zM216.8 51.2h0.5v0.5h-0.5zM211.9 49.6h0.5v0.5h-0.5zM210.8 48.7h0.5v0.5h-0.5zM213 50.7h0.5v0.5h-0.5zM211.4 52.6h0.5v0.5h-0.5zM209.9 52.7h0.5v0.5h-0.5zM211.4 53.4h0.5v0.5h-0.5zM211.1 52.1h0.5v0.5h-0.5zM212.3 55.1h0.5v0.5h-0.5zM210.6 55.1h0.5v0.5h-0.5zM210.2 51.4h0.5v0.5h-0.5zM211.8 52.5h0.5v0.5h-0.5zM208.1 48.9h0.5v0.5h-0.5zM211.3 54.9h0.5v0.5h-0.5zM210.6 56.8h0.5v0.5h-0.5zM209.1 52.2h0.5v0.5h-0.5zM212.3 52.1h0.5v0.5h-0.5zM212 55h0.5v0.5h-0.5zM210.5 53.9h0.5v0.5h-0.5zM213.1 51.3h0.5v0.5h-0.5zM208.4 48.2h0.5v0.5h-0.5zM210.4 48.7h0.5v0.5h-0.5zM212.2 49.5h0.5v0.5h-0.5zM215 53.8h0.5v0.5h-0.5zM209.8 51.1h0.5v0.5h-0.5zM213.7 54.2h0.5v0.5h-0.5zM210.2 55.3h0.5v0.5h-0.5zM210.9 59h0.5v0.5h-0.5zM210.8 53.9h0.5v0.5h-0.5zM212.4 50.6h0.5v0.5h-0.5zM211.4 55.7h0.5v0.5h-0.5zM212.3 51.8h0.5v0.5h-0.5zM212.2 57.5h0.5v0.5h-0.5zM212.9 53.5h0.5v0.5h-0.5zM212.1 47.1h0.5v0.5h-0.5zM211.8 50.5h0.5v0.5h-0.5zM212.6 50.1h0.5v0.5h-0.5zM212.2 48.7h0.5v0.5h-0.5zM212.8 49.7h0.5v0.5h-0.5zM211.6 53.8h0.5v0.5h-0.5zM211.2 52h0.5v0.5h-0.5zM213.1 57.6h0.5v0.5h-0.5zM209.1 49.1h0.5v0.5h-0.5zM212.5 55h0.5v0.5h-0.5zM210.9 52.3h0.5v0.5h-0.5zM211.3 59.2h0.5v0.5h-0.5zM211.3 48.2h0.5v0.5h-0.5zM209.5 48h0.5v0.5h-0.5zM213.4 50.8h0.5v0.5h-0.5zM214.3 54h0.5v0.5h-0.5zM212.1 54h0.5v0.5h-0.5zM212.7 54.9h0.5v0.5h-0.5zM210.2 50.2h0.5v0.5h-0.5zM210.8 52.3h0.5v0.5h-0.5zM211.3 48.1h0.5v0.5h-0.5zM210.6 57.6h0.5v0.5h-0.5zM214.5 49.3h0.5v0.5h-0.5zM212.1 51.9h0.5v0.5h-0.5zM210.4 54.3h0.5v0.5h-0.5zM211.5 57.3h0.5v0.5h-0.5zM212.2 51h0.5v0.5h-0.5zM207.9 51.7h0.5v0.5h-0.5zM212.8 49.7h0.5v0.5h-0.5zM212.8 54.2h0.5v0.5h-0.5zM209.2 51.4h0.5v0.5h-0.5zM212 54.4h0.5v0.5h-0.5zM211.8 52h0.5v0.5h-0.5zM211.1 51.1h0.5v0.5h-0.5zM211.6 48.6h0.5v0.5h-0.5zM212.5 51h0.5v0.5h-0.5zM212.3 50.4h0.5v0.5h-0.5zM212.2 52.4h0.5v0.5h-0.5zM212.8 53.5h0.5v0.5h-0.5zM212.9 51.5h0.5v0.5h-0.5zM211.5 51.2h0.5v0.5h-0.5zM209.9 51.6h0.5v0.5h-0.5zM213.1 54.4h0.5v0.5h-0.5zM210.4 52.9h0.5v0.5h-0.5zM212.6 47.7h0.5v0.5h-0.5zM212.1 53h0.5v0.5h-0.5zM212.6 52.8h0.5v0.5h-0.5zM214.3 50.8h0.5v0.5h-0.5zM213.4 56h0.5v0.5h-0.5zM211.7 48.4h0.5v0.5h-0.5zM213.5 51.9h0.5v0.5h-0.5zM212.3 53.5h0.5v0.5h-0.5zM212.9 55.2h0.5v0.5h-0.5zM209.6 47.6h0.5v0.5h-0.5zM211.8 52h0.5v0.5h-0.5zM212.7 51.6h0.5v0.5h-0.5zM211.3 58.4h0.5v0.5h-0.5zM213.5 55.7h0.5v0.5h-0.5zM213 49.5h0.5v0.5h-0.5zM211.5 51.8h0.5v0.5h-0.5zM210.1 49.3h0.5v0.5h-0.5zM211.8 48.2h0.5v0.5h-0.5zM212.3 53.5h0.5v0.5h-0.5zM211.3 50.9h0.5v0.5h-0.5zM212.4 53.5h0.5v0.5h-0.5zM212.1 48.1h0.5v0.5h-0.5zM209.4 58.5h0.5v0.5h-0.5zM210.7 50.8h0.5v0.5h-0.5zM209.1 49.5h0.5v0.5h-0.5zM210.6 54.5h0.5v0.5h-0.5zM207.9 47.6h0.5v0.5h-0.5zM211 50.5h0.5v0.5h-0.5zM210.5 50.6h0.5v0.5h-0.5zM209.4 52.8h0.5v0.5h-0.5zM213.3 52.5h0.5v0.5h-0.5zM210.9 56h0.5v0.5h-0.5zM212.3 48.8h0.5v0.5h-0.5zM210.8 50.1h0.5v0.5h-0.5zM211.5 55.8h0.5v0.5h-0.5zM210.6 51.5h0.5v0.5h-0.5zM211.8 48.3h0.5v0.5h-0.5zM210.9 53.9h0.5v0.5h-0.5zM212.6 51.1h0.5v0.5h-0.5zM213.4 54h0.5v0.5h-0.5zM214.3 53h0.5v0.5h-0.5zM211.1 49.4h0.5v0.5h-0.5zM209.6 53.7h0.5v0.5h-0.5zM212.3 54.6h0.5v0.5h-0.5zM212.1 47.3h0.5v0.5h-0.5zM211 51.2h0.5v0.5h-0.5zM211.8 54.4h0.5v0.5h-0.5zM213.6 52.9h0.5v0.5h-0.5zM208.7 48.8h0.5v0.5h-0.5zM208.6 49.6h0.5v0.5h-0.5zM209.9 52.8h0.5v0.5h-0.5zM211.3 55.5h0.5v0.5h-0.5zM213.1 50.6h0.5v0.5h-0.5zM212.9 52h0.5v0.5h-0.5zM212.2 56.2h0.5v0.5h-0.5zM210 51.8h0.5v0.5h-0.5zM213.7 49.6h0.5v0.5h-0.5zM211.9 52.4h0.5v0.5h-0.5zM211 47.9h0.5v0.5h-0.5zM210.7 48.9h0.5v0.5h-0.5zM213.1 52.8h0.5v0.5h-0.5zM212.6 48.3h0.5v0.5h-0.5zM212.3 52.5h0.5v0.5h-0.5zM213.1 49.7h0.5v0.5h-0.5zM212.7 56.3h0.5v0.5h-0.5zM214.1 49.1h0.5v0.5h-0.5zM210 47.4h0.5v0.5h-0.5zM212.9 53.9h0.5v0.5h-0.5zM212.1 49.3h0.5v0.5h-0.5zM213.3 57h0.5v0.5h-0.5zM211.6 51.6h0.5v0.5h-0.5zM213.2 53.6h0.5v0.5h-0.5zM213.5 50.7h0.5v0.5h-0.5zM212.1 50.9h0.5v0.5h-0.5zM210.8 51.1h0.5v0.5h-0.5zM211.2 53.6h0.5v0.5h-0.5zM211.2 52.2h0.5v0.5h-0.5zM210.5 48.2h0.5v0.5h-0.5zM213.6 48.9h0.5v0.5h-0.5zM214.1 54.9h0.5v0.5h-0.5zM208.4 50h0.5v0.5h-0.5zM211 52.1h0.5v0.5h-0.5zM211.4 50.1h0.5v0.5h-0.5zM213.3 51.6h0.5v0.5h-0.5zM212.9 49.9h0.5v0.5h-0.5zM210.6 56.2h0.5v0.5h-0.5zM211.2 48.6h0.5v0.5h-0.5zM211.4 55.3h0.5v0.5h-0.5zM211.4 49.8h0.5v0.5h-0.5zM212.5 55.1h0.5v0.5h-0.5zM211.3 51h0.5v0.5h-0.5zM211.1 60.5h0.5v0.5h-0.5zM211.3 57.5h0.5v0.5h-0.5zM211.4 53.3h0.5v0.5h-0.5zM208.8 52.6h0.5v0.5h-0.5z" fill="#000" fill-opacity="1.0"/>
<path d="M211.7 52.1h0.5v0.5h-0.5zM207.8 55h0.5v0.5h-0.5zM210 53.5h0.5v0.5h-0.5zM211.1 51h0.5v0.5h-0.5zM209.7 64.9h0.5v0.5h-0.5zM208.8 51h0.5v0.5h-0.5zM210.8 47.2h0.5v0.5h-0.5zM209.1 59.1h0.5v0.5h-0.5zM214 54.8h0.5v0.5h-0.5zM219.9 58.9h0.5v0.5h-0.5zM214.8 49.2h0.5v0.5h-0.5zM214.4 63.9h0.5v0.5h-0.5zM210.6 64.6h0.5v0.5h-0.5zM209.5 47.4h0.5v0.5h-0.5zM211.5 49.3h0.5v0.5h-0.5zM213.2 47.5h0.5v0.5h-0.5zM211.5 60.2h0.5v0.5h-0.5zM210.9 55.8h0.5v0.5h-0.5zM214.4 47.6h0.5v0.5h-0.5zM208.3 54.5h0.5v0.5h-0.5zM212.3 52.4h0.5v0.5h-0.5zM209.1 61.1h0.5v0.5h-0.5zM208.6 52.5h0.5v0.5h-0.5zM211.5 58.3h0.5v0.5h-0.5zM210.5 49.2h0.5v0.5h-0.5zM216.8 49.1h0.5v0.5h-0.5zM213.7 53.1h0.5v0.5h-0.5zM210.4 53.7h0.5v0.5h-0.5zM211 55.8h0.5v0.5h-0.5zM205.1 53.8h0.5v0.5h-0.5zM211.8 48.3h0.5v0.5h-0.5zM210.6 67.7h0.5v0.5h-0.5zM216.3 57.8h0.5v0.5h-0.5zM212.2 52.2h0.5v0.5h-0.5zM215.2 51.4h0.5v0.5h-0.5zM209.5 58.1h0.5v0.5h-0.5zM209.1 49.4h0.5v0.5h-0.5zM211.4 54.7h0.5v0.5h-0.5zM211 52h0.5v0.5h-0.5zM216.5 59.9h0.5v0.5h-0.5zM209.7 59.1h0.5v0.5h-0.5zM213.3 53.3h0.5v0.5h-0.5zM211 52.4h0.5v0.5h-0.5zM207.7 50.3h0.5v0.5h-0.5zM214 62.5h0.5v0.5h-0.5zM216.4 51.8h0.5v0.5h-0.5zM210.9 46.6h0.5v0.5h-0.5zM208.9 47.5h0.5v0.5h-0.5zM212.6 58.9h0.5v0.5h-0.5zM209.3 64.6h0.5v0.5h-0.5zM212 49.1h0.5v0.5h-0.5zM212.5 53.9h0.5v0.5h-0.5zM213.7 56h0.5v0.5h-0.5zM217.2 60.9h0.5v0.5h-0.5zM210 58.6h0.5v0.5h-0.5zM213.6 48.1h0.5v0.5h-0.5zM209.7 49.3h0.5v0.5h-0.5zM205.3 57.7h0.5v0.5h-0.5zM211.1 61.2h0.5v0.5h-0.5zM210.2 54.4h0.5v0.5h-0.5zM213.5 59.7h0.5v0.5h-0.5zM212.4 47.9h0.5v0.5h-0.5zM217.3 59.1h0.5v0.5h-0.5zM215.1 63.5h0.5v0.5h-0.5zM215.2 56.4h0.5v0.5h-0.5zM212.8 57.7h0.5v0.5h-0.5zM207.8 58.8h0.5v0.5h-0.5zM209.1 56.5h0.5v0.5h-0.5zM209 58.2h0.5v0.5h-0.5zM210.4 68.6h0.5v0.5h-0.5zM212.1 57h0.5v0.5h-0.5zM209.3 52.3h0.5v0.5h-0.5zM211.5 52.3h0.5v0.5h-0.5zM210.5 48.9h0.5v0.5h-0.5zM213.6 51.8h0.5v0.5h-0.5zM209.5 56.1h0.5v0.5h-0.5zM209.5 53h0.5v0.5h-0.5zM210.3 48.6h0.5v0.5h-0.5zM211 49.2h0.5v0.5h-0.5zM208.4 56.1h0.5v0.5h-0.5zM210.6 55.1h0.5v0.5h-0.5zM212.7 56.2h0.5v0.5h-0.5zM212.3 57.5h0.5v0.5h-0.5zM210.4 49.3h0.5v0.5h-0.5zM213.2 51.6h0.5v0.5h-0.5zM211.6 57.8h0.5v0.5h-0.5zM214 61.2h0.5v0.5h-0.5zM209.9 51.8h0.5v0.5h-0.5zM208.4 57.6h0.5v0.5h-0.5zM210 48.6h0.5v0.5h-0.5zM213.7 57.1h0.5v0.5h-0.5zM214 52.1h0.5v0.5h-0.5zM210.9 52h0.5v0.5h-0.5zM209.8 58.1h0.5v0.5h-0.5zM209.6 53.6h0.5v0.5h-0.5zM211.9 57h0.5v0.5h-0.5zM210.4 47.4h0.5v0.5h-0.5zM218 49.8h0.5v0.5h-0.5zM211.9 52.9h0.5v0.5h-0.5zM216.5 65.9h0.5v0.5h-0.5zM214.1 48.1h0.5v0.5h-0.5zM209.6 49.6h0.5v0.5h-0.5zM210.3 55.5h0.5v0.5h-0.5zM209.6 52.6h0.5v0.5h-0.5zM215.4 62.4h0.5v0.5h-0.5zM206.9 48.5h0.5v0.5h-0.5zM210.7 61.6h0.5v0.5h-0.5zM210.8 65.1h0.5v0.5h-0.5zM212.6 62.4h0.5v0.5h-0.5zM209.4 52.2h0.5v0.5h-0.5zM214.2 57.3h0.5v0.5h-0.5zM206.8 52.4h0.5v0.5h-0.5zM212.1 57.7h0.5v0.5h-0.5zM210 64.2h0.5v0.5h-0.5zM212 62.5h0.5v0.5h-0.5zM212.7 54.5h0.5v0.5h-0.5zM210.8 47.2h0.5v0.5h-0.5zM213.8 58.4h0.5v0.5h-0.5zM214 51.8h0.5v0.5h-0.5zM209.1 51.8h0.5v0.5h-0.5zM210.8 53.9h0.5v0.5h-0.5zM214.1 48.7h0.5v0.5h-0.5zM210.4 58h0.5v0.5h-0.5zM213.9 66.9h0.5v0.5h-0.5zM213 49.1h0.5v0.5h-0.5zM209 49.4h0.5v0.5h-0.5zM211.8 55.5h0.5v0.5h-0.5zM211.5 50.4h0.5v0.5h-0.5zM211.2 53.6h0.5v0.5h-0.5zM213.1 54.5h0.5v0.5h-0.5zM209.6 47.2h0.5v0.5h-0.5zM215.4 53.5h0.5v0.5h-0.5zM211.2 53.9h0.5v0.5h-0.5zM214.5 52.2h0.5v0.5h-0.5zM212.1 52.6h0.5v0.5h-0.5zM213.1 48.1h0.5v0.5h-0.5zM212.1 60h0.5v0.5h-0.5zM214.7 57.6h0.5v0.5h-0.5zM212.4 63.2h0.5v0.5h-0.5zM213.4 62.1h0.5v0.5h-0.5zM208.6 47.6h0.5v0.5h-0.5zM213.7 52.5h0.5v0.5h-0.5zM210.5 48.5h0.5v0.5h-0.5zM215.4 47.1h0.5v0.5h-0.5zM211.2 67.1h0.5v0.5h-0.5zM217.8 51.1h0.5v0.5h-0.5zM209.1 63.5h0.5v0.5h-0.5zM212.5 47.7h0.5v0.5h-0.5zM207.9 60.5h0.5v0.5h-0.5zM209.8 47.8h0.5v0.5h-0.5zM212.1 52.9h0.5v0.5h-0.5zM214.5 54.6h0.5v0.5h-0.5zM215.7 60.6h0.5v0.5h-0.5zM216.2 60.5h0.5v0.5h-0.5zM211.8 57.2h0.5v0.5h-0.5zM208.6 58.3h0.5v0.5h-0.5zM205.6 49.2h0.5v0.5h-0.5zM208.4 53.6h0.5v0.5h-0.5zM209 55.5h0.5v0.5h-0.5zM211.1 51.3h0.5v0.5h-0.5zM211.8 46.5h0.5v0.5h-0.5zM210.9 56.2h0.5v0.5h-0.5zM214.3 58.1h0.5v0.5h-0.5zM213.4 63.1h0.5v0.5h-0.5zM212.6 47.6h0.5v0.5h-0.5zM212.7 51h0.5v0.5h-0.5zM210 60.2h0.5v0.5h-0.5zM211.2 47.5h0.5v0.5h-0.5zM209.9 65.4h0.5v0.5h-0.5zM209.5 57.9h0.5v0.5h-0.5zM212.1 60.8h0.5v0.5h-0.5zM210.9 48.5h0.5v0.5h-0.5zM210 48h0.5v0.5h-0.5zM218.2 55.1h0.5v0.5h-0.5zM210.8 61.3h0.5v0.5h-0.5zM213.3 53h0.5v0.5h-0.5zM213.2 55.6h0.5v0.5h-0.5zM214.5 63.6h0.5v0.5h-0.5zM210.8 53.8h0.5v0.5h-0.5zM211.2 61.1h0.5v0.5h-0.5zM212.6 58.6h0.5v0.5h-0.5zM213.9 50.3h0.5v0.5h-0.5zM212 62.1h0.5v0.5h-0.5zM214 58.7h0.5v0.5h-0.5zM210.9 51.9h0.5v0.5h-0.5z" fill="#666" fill-opacity="1.0"/>
<path d="M211.2 43.4h0.5v0.5h-0.5zM212.7 42.4h0.5v0.5h-0.5zM215.1 42.9h0.5v0.5h-0.5zM213.3 44.1h0.5v0.5h-0.5zM211.8 42h0.5v0.5h-0.5zM214.7 44h0.5v0.5h-0.5zM212.3 44.6h0.5v0.5h-0.5zM214.6 42.8h0.5v0.5h-0.5zM212.7 42.1h0.5v0.5h-0.5zM212.3 44.8h0.5v0.5h-0.5zM211.2 44.3h0.5v0.5h-0.5zM209.9 43.3h0.5v0.5h-0.5zM214.7 45.1h0.5v0.5h-0.5zM213.7 44.3h0.5v0.5h-0.5zM216.2 41.5h0.5v0.5h-0.5zM209.5 45.2h0.5v0.5h-0.5zM217.6 44.1h0.5v0.5h-0.5zM213 43.8h0.5v0.5h-0.5zM212.9 43.1h0.5v0.5h-0.5zM212.8 43.5h0.5v0.5h-0.5zM214.1 44.2h0.5v0.5h-0.5zM214.7 44.1h0.5v0.5h-0.5zM210.9 44.8h0.5v0.5h-0.5zM207.6 43.7h0.5v0.5h-0.5zM213.5 43.1h0.5v0.5h-0.5zM216.5 42.7h0.5v0.5h-0.5zM210.6 43.2h0.5v0.5h-0.5zM213.6 44.3h0.5v0.5h-0.5zM213 44.2h0.5v0.5h-0.5zM211.5 43.1h0.5v0.5h-0.5zM213.1 42.4h0.5v0.5h-0.5zM213.2 43.3h0.5v0.5h-0.5zM214.2 42.7h0.5v0.5h-0.5zM211.8 43.1h0.5v0.5h-0.5zM212.1 42.7h0.5v0.5h-0.5zM212.3 42.4h0.5v0.5h-0.5zM213.9 44.2h0.5v0.5h-0.5zM212.8 43.4h0.5v0.5h-0.5zM211.1 42.8h0.5v0.5h-0.5zM212.4 42.8h0.5v0.5h-0.5zM210.5 43.7h0.5v0.5h-0.5zM212.8 43.2h0.5v0.5h-0.5zM211.3 43.6h0.5v0.5h-0.5zM211.5 43.2h0.5v0.5h-0.5zM213.2 44.2h0.5v0.5h-0.5zM214.3 43.1h0.5v0.5h-0.5zM215.2 42.6h0.5v0.5h-0.5zM212.5 44.7h0.5v0.5h-0.5zM217.4 43.7h0.5v0.5h-0.5zM212.1 43.3h0.5v0.5h-0.5zM210.5 43.5h0.5v0.5h-0.5zM212 42.9h0.5v0.5h-0.5zM215.2 42.9h0.5v0.5h-0.5zM216.1 44.3h0.5v0.5h-0.5zM214.1 43.1h0.5v0.5h-0.5zM211.8 41.9h0.5v0.5h-0.5zM213.4 43.4h0.5v0.5h-0.5zM213.6 43h0.5v0.5h-0.5zM213.8 42.3h0.5v0.5h-0.5zM208.6 44h0.5v0.5h-0.5zM214.9 40.9h0.5v0.5h-0.5zM215.3 43.3h0.5v0.5h-0.5zM212.5 42.3h0.5v0.5h-0.5zM210.9 44.2h0.5v0.5h-0.5zM211.4 43.6h0.5v0.5h-0.5zM212.5 45.3h0.5v0.5h-0.5zM214.6 42.5h0.5v0.5h-0.5zM211.9 42.6h0.5v0.5h-0.5zM210.1 43h0.5v0.5h-0.5zM215 43.6h0.5v0.5h-0.5zM214.1 43.5h0.5v0.5h-0.5zM212 43.7h0.5v0.5h-0.5zM212.7 45.3h0.5v0.5h-0.5zM216.3 43.9h0.5v0.5h-0.5zM214 41.9h0.5v0.5h-0.5zM211.3 44.3h0.5v0.5h-0.5zM215.2 43.3h0.5v0.5h-0.5zM212.4 43.2h0.5v0.5h-0.5zM214.4 43.6h0.5v0.5h-0.5zM215.7 44.6h0.5v0.5h-0.5zM212.2 43.1h0.5v0.5h-0.5zM212.4 42.8h0.5v0.5h-0.5zM212 43.5h0.5v0.5h-0.5zM214.5 42.2h0.5v0.5h-0.5zM210.1 42.9h0.5v0.5h-0.5zM212.2 44h0.5v0.5h-0.5zM211.3 44.9h0.5v0.5h-0.5zM211.8 43.4h0.5v0.5h-0.5zM212.9 44.6h0.5v0.5h-0.5zM213.4 43.6h0.5v0.5h-0.5zM211.8 43.7h0.5v0.5h-0.5zM213.6 43.3h0.5v0.5h-0.5zM212.8 42h0.5v0.5h-0.5zM211.8 44.6h0.5v0.5h-0.5zM215.6 43.5h0.5v0.5h-0.5zM208.7 45.2h0.5v0.5h-0.5zM212 44.5h0.5v0.5h-0.5zM211.6 44.8h0.5v0.5h-0.5zM215.1 42.7h0.5v0.5h-0.5zM212.4 42.5h0.5v0.5h-0.5zM213.4 43.3h0.5v0.5h-0.5zM209.9 42.7h0.5v0.5h-0.5zM213.3 42.3h0.5v0.5h-0.5zM214.9 44h0.5v0.5h-0.5zM212.5 44.8h0.5v0.5h-0.5zM211 44.2h0.5v0.5h-0.5zM210.2 43.3h0.5v0.5h-0.5zM214.1 43.1h0.5v0.5h-0.5zM212.6 44.2h0.5v0.5h-0.5zM215.8 44.7h0.5v0.5h-0.5zM213.7 43.4h0.5v0.5h-0.5zM210 45.1h0.5v0.5h-0.5zM216.4 41.7h0.5v0.5h-0.5zM214.5 43.6h0.5v0.5h-0.5zM214.2 43.9h0.5v0.5h-0.5zM212.4 43.6h0.5v0.5h-0.5zM212.7 44.6h0.5v0.5h-0.5zM212.3 43.1h0.5v0.5h-0.5zM214.1 44.2h0.5v0.5h-0.5zM213.7 43.8h0.5v0.5h-0.5zM215.7 44.6h0.5v0.5h-0.5zM213.2 43.4h0.5v0.5h-0.5zM214.1 42h0.5v0.5h-0.5zM211.8 43h0.5v0.5h-0.5zM213.2 43.3h0.5v0.5h-0.5zM217.6 44.2h0.5v0.5h-0.5zM213.6 45.6h0.5v0.5h-0.5zM212.8 43.3h0.5v0.5h-0.5zM215.2 44.3h0.5v0.5h-0.5zM214.6 44.7h0.5v0.5h-0.5zM212.1 43h0.5v0.5h-0.5zM211.4 43.7h0.5v0.5h-0.5zM214.7 42.7h0.5v0.5h-0.5zM211.8 42.4h0.5v0.5h-0.5zM216.7 44.3h0.5v0.5h-0.5zM213.2 42.5h0.5v0.5h-0.5zM210.8 43h0.5v0.5h-0.5zM212.9 42.5h0.5v0.5h-0.5zM212.4 44.7h0.5v0.5h-0.5zM212.8 43.7h0.5v0.5h-0.5zM208.8 43.4h0.5v0.5h-0.5zM212.5 43h0.5v0.5h-0.5zM210.2 43.5h0.5v0.5h-0.5zM210.9 43.1h0.5v0.5h-0.5zM209.8 43.5h0.5v0.5h-0.5zM214.6 42.9h0.5v0.5h-0.5zM213.4 42.3h0.5v0.5h-0.5zM213.9 44.1h0.5v0.5h-0.5zM212.1 44.4h0.5v0.5h-0.5zM211.1 43.6h0.5v0.5h-0.5zM216.1 43.6h0.5v0.5h-0.5zM210.7 44.6h0.5v0.5h-0.5zM213.8 43.4h0.5v0.5h-0.5zM209.3 42h0.5v0.5h-0.5zM209.9 44.9h0.5v0.5h-0.5zM213.4 42.9h0.5v0.5h-0.5z" fill="#111" fill-opacity="1.0"/>
<text x="223" y="41.5" font-size="6" text-anchor="end" style="font-family:'Liberation Serif',serif" fill="#222">20</text>
<text x="222" y="70.2" font-size="6" text-anchor="end" style="font-family:'Liberation Serif',serif" fill="#222">78</text>
<text x="205.4" y="38.5" font-size="2.6" text-anchor="start" style="font-family:'Liberation Serif',serif" fill="#444">A1</text>
<text x="205.4" y="70.5" font-size="2.6" text-anchor="start" style="font-family:'Liberation Serif',serif" fill="#444">A4</text>
<text x="0" y="0" font-size="6.6" text-anchor="middle" style="font-family:'Liberation Serif',serif;font-weight:bold" fill="#000" stroke="#000" stroke-width="0.25" transform="translate(181.9,53.2) rotate(-90)">CD44</text>
<text x="211" y="88" font-size="6.6" text-anchor="middle" style="font-family:'Liberation Serif',serif;font-weight:bold" fill="#000" stroke="#000" stroke-width="0.25" >CD62L</text>
<text x="209.3" y="22.7" font-size="7.1" text-anchor="middle" style="font-family:'Liberation Serif',serif;font-weight:bold" fill="#000" stroke="#000" stroke-width="0.25" >CD45RB<tspan font-size="4" dy="-2.5">+</tspan><tspan dy="2.5">CD62L</tspan><tspan font-size="4" dy="-2.5">+</tspan></text>
<text x="209.3" y="30.3" font-size="7" text-anchor="middle" style="font-family:'Liberation Serif',serif;font-weight:bold" fill="#000" stroke="#000" stroke-width="0.25" >CD25<tspan font-size="4" dy="-2.5">-</tspan><tspan dy="2.5"> T cell-gated</tspan></text>
<text x="2" y="164" font-size="6.75" text-anchor="start" style="font-family:'Liberation Serif',serif;font-weight:bold" fill="#000" stroke="#000" stroke-width="0.25" >CD25<tspan font-size="4" dy="-2.5">-</tspan><tspan dy="2.5"> Bulk</tspan></text>
<rect x="69.2" y="140.2" width="39.7" height="41" stroke="#8a8a8a" stroke-width="0.7" fill="none"/>
<line x1="69.2" y1="140.2" x2="69.2" y2="181.2" stroke="#333" stroke-width="0.8"/>
<line x1="69.2" y1="181.2" x2="108.9" y2="181.2" stroke="#333" stroke-width="0.8"/>
<line x1="68" y1="145.7" x2="69.2" y2="145.7" stroke="#333" stroke-width="0.7"/>
<text font-size="3.2" text-anchor="end" style="font-family:'Liberation Serif',serif;font-weight:bold" fill="#555" transform="translate(67.9,146) rotate(40)">10<tspan font-size="2.2" dy="-1.2">4</tspan></text>
<line x1="68" y1="155.8" x2="69.2" y2="155.8" stroke="#333" stroke-width="0.7"/>
<text font-size="3.2" text-anchor="end" style="font-family:'Liberation Serif',serif;font-weight:bold" fill="#555" transform="translate(67.9,156.1) rotate(40)">10<tspan font-size="2.2" dy="-1.2">3</tspan></text>
<line x1="68" y1="165.9" x2="69.2" y2="165.9" stroke="#333" stroke-width="0.7"/>
<text font-size="3.2" text-anchor="end" style="font-family:'Liberation Serif',serif;font-weight:bold" fill="#555" transform="translate(67.9,166.2) rotate(40)">10<tspan font-size="2.2" dy="-1.2">2</tspan></text>
<line x1="68" y1="176" x2="69.2" y2="176" stroke="#333" stroke-width="0.7"/>
<text font-size="3.2" text-anchor="end" style="font-family:'Liberation Serif',serif;font-weight:bold" fill="#555" transform="translate(67.9,176.3) rotate(40)">10<tspan font-size="2.2" dy="-1.2">1</tspan></text>
<line x1="74.2" y1="181.2" x2="74.2" y2="182.4" stroke="#333" stroke-width="0.7"/>
<text font-size="3.2" text-anchor="middle" style="font-family:'Liberation Serif',serif;font-weight:bold" fill="#555" transform="translate(74.2,185.6) rotate(40)">10<tspan font-size="2.2" dy="-1.2">1</tspan></text>
<line x1="84.3" y1="181.2" x2="84.3" y2="182.4" stroke="#333" stroke-width="0.7"/>
<text font-size="3.2" text-anchor="middle" style="font-family:'Liberation Serif',serif;font-weight:bold" fill="#555" transform="translate(84.3,185.6) rotate(40)">10<tspan font-size="2.2" dy="-1.2">2</tspan></text>
<line x1="94.4" y1="181.2" x2="94.4" y2="182.4" stroke="#333" stroke-width="0.7"/>
<text font-size="3.2" text-anchor="middle" style="font-family:'Liberation Serif',serif;font-weight:bold" fill="#555" transform="translate(94.4,185.6) rotate(40)">10<tspan font-size="2.2" dy="-1.2">3</tspan></text>
<line x1="104.5" y1="181.2" x2="104.5" y2="182.4" stroke="#333" stroke-width="0.7"/>
<text font-size="3.2" text-anchor="middle" style="font-family:'Liberation Serif',serif;font-weight:bold" fill="#555" transform="translate(104.5,185.6) rotate(40)">10<tspan font-size="2.2" dy="-1.2">4</tspan></text>
<rect x="93.5" y="152.5" width="13" height="14" stroke="#777" stroke-width="0.6" fill="none"/>
<rect x="93.5" y="168.5" width="13" height="12.1" stroke="#777" stroke-width="0.6" fill="none"/>
<text x="100" y="158.2" font-size="6" text-anchor="middle" style="font-family:'Liberation Serif',serif" fill="#222">0.3</text>
<path d="M101.3 179.8h0.5v0.5h-0.5zM99 176.7h0.5v0.5h-0.5zM98.1 176.4h0.5v0.5h-0.5zM102.1 170.8h0.5v0.5h-0.5zM100.1 173.2h0.5v0.5h-0.5zM99.9 175.5h0.5v0.5h-0.5zM100.3 178h0.5v0.5h-0.5zM100.6 178.5h0.5v0.5h-0.5zM101.2 178.6h0.5v0.5h-0.5zM99.2 176.5h0.5v0.5h-0.5zM99.6 172.6h0.5v0.5h-0.5zM102.3 176.1h0.5v0.5h-0.5zM100.1 168.6h0.5v0.5h-0.5zM99.7 177.6h0.5v0.5h-0.5zM99.8 173.5h0.5v0.5h-0.5zM101.7 174.2h0.5v0.5h-0.5zM99.6 174.9h0.5v0.5h-0.5zM99.7 178.5h0.5v0.5h-0.5zM100.7 175h0.5v0.5h-0.5zM99.6 174.5h0.5v0.5h-0.5zM102 174.2h0.5v0.5h-0.5zM100.8 170.3h0.5v0.5h-0.5zM100.4 177.3h0.5v0.5h-0.5zM101.5 176.2h0.5v0.5h-0.5zM100.7 176.2h0.5v0.5h-0.5zM100.2 172.7h0.5v0.5h-0.5zM100.7 174.9h0.5v0.5h-0.5zM100.7 177.6h0.5v0.5h-0.5zM100.2 173.8h0.5v0.5h-0.5zM100.4 171.3h0.5v0.5h-0.5zM100.3 172.4h0.5v0.5h-0.5zM100.5 175.6h0.5v0.5h-0.5zM99.8 171.4h0.5v0.5h-0.5zM100.1 173.1h0.5v0.5h-0.5zM99.8 177.4h0.5v0.5h-0.5zM101.1 171.2h0.5v0.5h-0.5zM101.1 179.5h0.5v0.5h-0.5zM101.3 176.1h0.5v0.5h-0.5zM99.9 180.6h0.5v0.5h-0.5zM99.6 170.4h0.5v0.5h-0.5zM100.1 176.1h0.5v0.5h-0.5zM98.8 171.4h0.5v0.5h-0.5zM102.3 175.6h0.5v0.5h-0.5zM100.9 173.4h0.5v0.5h-0.5zM98.3 174.6h0.5v0.5h-0.5zM101.6 173.1h0.5v0.5h-0.5zM98 174.7h0.5v0.5h-0.5zM99.7 175.3h0.5v0.5h-0.5zM98.8 174.2h0.5v0.5h-0.5zM99.4 178h0.5v0.5h-0.5zM100.2 177.9h0.5v0.5h-0.5zM100 168.5h0.5v0.5h-0.5zM97.8 176.9h0.5v0.5h-0.5zM101 177.9h0.5v0.5h-0.5zM99.9 169.6h0.5v0.5h-0.5zM99.4 176.5h0.5v0.5h-0.5zM101.6 174.1h0.5v0.5h-0.5zM99.4 172.8h0.5v0.5h-0.5zM101.2 177.9h0.5v0.5h-0.5zM97.9 179h0.5v0.5h-0.5zM99 170.6h0.5v0.5h-0.5zM98.2 172.9h0.5v0.5h-0.5zM98.6 173.1h0.5v0.5h-0.5zM100.2 176.5h0.5v0.5h-0.5zM99.5 170.3h0.5v0.5h-0.5zM99.5 173.1h0.5v0.5h-0.5zM98 175.7h0.5v0.5h-0.5zM98.3 169.8h0.5v0.5h-0.5zM101.8 178.1h0.5v0.5h-0.5zM101.7 175.6h0.5v0.5h-0.5zM99.5 174.9h0.5v0.5h-0.5zM98.4 177.5h0.5v0.5h-0.5zM100.3 174.3h0.5v0.5h-0.5zM97.9 174.9h0.5v0.5h-0.5zM101.9 179.7h0.5v0.5h-0.5zM101 174.1h0.5v0.5h-0.5zM100.2 176.9h0.5v0.5h-0.5zM100.2 178.5h0.5v0.5h-0.5zM97.2 172.4h0.5v0.5h-0.5zM98.4 177.3h0.5v0.5h-0.5zM101.2 175.2h0.5v0.5h-0.5zM100.6 175.4h0.5v0.5h-0.5zM100.2 173.7h0.5v0.5h-0.5zM99.5 178.9h0.5v0.5h-0.5zM99.7 175.1h0.5v0.5h-0.5zM101.4 178.3h0.5v0.5h-0.5zM99.6 176h0.5v0.5h-0.5zM98.9 175.6h0.5v0.5h-0.5zM100.4 175.2h0.5v0.5h-0.5zM100.2 176.3h0.5v0.5h-0.5zM97.1 172.6h0.5v0.5h-0.5zM100.1 173.7h0.5v0.5h-0.5zM98.9 174.5h0.5v0.5h-0.5zM101.9 174.5h0.5v0.5h-0.5zM99.3 173.7h0.5v0.5h-0.5zM98.6 176.7h0.5v0.5h-0.5zM98.9 178h0.5v0.5h-0.5zM101.1 177h0.5v0.5h-0.5zM101.2 174.9h0.5v0.5h-0.5zM98 175h0.5v0.5h-0.5zM100.7 170.4h0.5v0.5h-0.5zM98.6 178.6h0.5v0.5h-0.5zM100.5 179.4h0.5v0.5h-0.5zM100.8 175.4h0.5v0.5h-0.5zM100.5 177.9h0.5v0.5h-0.5zM100 174.5h0.5v0.5h-0.5zM100.4 174.2h0.5v0.5h-0.5z" fill="#444" fill-opacity="1.0"/>
<path d="M104.8 172.6h0.5v0.5h-0.5zM96.2 170.8h0.5v0.5h-0.5zM101.8 173.8h0.5v0.5h-0.5zM99.9 174.5h0.5v0.5h-0.5zM100.1 170.2h0.5v0.5h-0.5zM99.7 173.2h0.5v0.5h-0.5zM101.9 177.3h0.5v0.5h-0.5zM96.7 171.9h0.5v0.5h-0.5zM100.8 179.3h0.5v0.5h-0.5zM101.2 174.7h0.5v0.5h-0.5zM98.3 171.9h0.5v0.5h-0.5zM97.3 177.1h0.5v0.5h-0.5zM100.1 176.2h0.5v0.5h-0.5zM99.2 177.3h0.5v0.5h-0.5zM101.3 173.2h0.5v0.5h-0.5zM101.6 172h0.5v0.5h-0.5zM103.4 170.7h0.5v0.5h-0.5zM98.9 171.5h0.5v0.5h-0.5zM99.6 179.7h0.5v0.5h-0.5zM102.7 176.5h0.5v0.5h-0.5zM98.2 178.3h0.5v0.5h-0.5zM101.7 175.1h0.5v0.5h-0.5zM105 172.9h0.5v0.5h-0.5zM96.6 174.5h0.5v0.5h-0.5zM100.8 181h0.5v0.5h-0.5zM95.6 175.7h0.5v0.5h-0.5zM102.3 172.9h0.5v0.5h-0.5zM98.5 171h0.5v0.5h-0.5zM101.2 178h0.5v0.5h-0.5zM100.8 176h0.5v0.5h-0.5zM101.7 174.8h0.5v0.5h-0.5zM101.1 178h0.5v0.5h-0.5zM102.4 177h0.5v0.5h-0.5zM99.7 177.6h0.5v0.5h-0.5zM96.1 169.2h0.5v0.5h-0.5zM103.1 175.7h0.5v0.5h-0.5zM97.2 173.2h0.5v0.5h-0.5zM99.2 175.4h0.5v0.5h-0.5zM97.8 178.6h0.5v0.5h-0.5zM97.1 180.9h0.5v0.5h-0.5zM101 169.4h0.5v0.5h-0.5zM96.8 175.4h0.5v0.5h-0.5zM100.1 173.7h0.5v0.5h-0.5zM99.6 175.8h0.5v0.5h-0.5zM97 175.4h0.5v0.5h-0.5zM104.6 173h0.5v0.5h-0.5zM97.3 177.5h0.5v0.5h-0.5zM102.5 178.8h0.5v0.5h-0.5zM98.1 174.9h0.5v0.5h-0.5zM100 174.5h0.5v0.5h-0.5zM100.4 178.9h0.5v0.5h-0.5zM100.8 175.2h0.5v0.5h-0.5zM101.2 175.5h0.5v0.5h-0.5zM102.3 178.3h0.5v0.5h-0.5zM104.2 169h0.5v0.5h-0.5zM99.8 174.1h0.5v0.5h-0.5zM97.9 175.5h0.5v0.5h-0.5zM100.7 177h0.5v0.5h-0.5zM99.2 170.6h0.5v0.5h-0.5zM100.8 177.3h0.5v0.5h-0.5zM104.3 178.4h0.5v0.5h-0.5zM99.6 171.2h0.5v0.5h-0.5zM105.7 172.9h0.5v0.5h-0.5zM100 177.8h0.5v0.5h-0.5zM100.7 179.8h0.5v0.5h-0.5zM97.2 172.8h0.5v0.5h-0.5zM99.9 171h0.5v0.5h-0.5zM98.1 180h0.5v0.5h-0.5zM100.2 174.8h0.5v0.5h-0.5zM98.2 175.4h0.5v0.5h-0.5zM99.5 171.5h0.5v0.5h-0.5zM101.3 170.8h0.5v0.5h-0.5zM102.4 174h0.5v0.5h-0.5z" fill="#aaa" fill-opacity="1.0"/>
<line x1="101" y1="175.2" x2="126.5" y2="175.2" stroke="#000" stroke-width="1.1"/>
<path d="M130.5,175.2 L126,173.3 L126,177.1 Z" fill="#000"/>
<rect x="130" y="140.2" width="38.3" height="41" stroke="#8a8a8a" stroke-width="0.7" fill="none"/>
<line x1="130" y1="140.2" x2="130" y2="181.2" stroke="#333" stroke-width="0.8"/>
<line x1="130" y1="181.2" x2="168.3" y2="181.2" stroke="#333" stroke-width="0.8"/>
<line x1="128.8" y1="145.7" x2="130" y2="145.7" stroke="#333" stroke-width="0.7"/>
<text font-size="3.2" text-anchor="end" style="font-family:'Liberation Serif',serif;font-weight:bold" fill="#555" transform="translate(128.7,146) rotate(40)">10<tspan font-size="2.2" dy="-1.2">4</tspan></text>
<line x1="128.8" y1="155.8" x2="130" y2="155.8" stroke="#333" stroke-width="0.7"/>
<text font-size="3.2" text-anchor="end" style="font-family:'Liberation Serif',serif;font-weight:bold" fill="#555" transform="translate(128.7,156.1) rotate(40)">10<tspan font-size="2.2" dy="-1.2">3</tspan></text>
<line x1="128.8" y1="165.9" x2="130" y2="165.9" stroke="#333" stroke-width="0.7"/>
<text font-size="3.2" text-anchor="end" style="font-family:'Liberation Serif',serif;font-weight:bold" fill="#555" transform="translate(128.7,166.2) rotate(40)">10<tspan font-size="2.2" dy="-1.2">2</tspan></text>
<line x1="128.8" y1="176" x2="130" y2="176" stroke="#333" stroke-width="0.7"/>
<text font-size="3.2" text-anchor="end" style="font-family:'Liberation Serif',serif;font-weight:bold" fill="#555" transform="translate(128.7,176.3) rotate(40)">10<tspan font-size="2.2" dy="-1.2">1</tspan></text>
<line x1="135" y1="181.2" x2="135" y2="182.4" stroke="#333" stroke-width="0.7"/>
<text font-size="3.2" text-anchor="middle" style="font-family:'Liberation Serif',serif;font-weight:bold" fill="#555" transform="translate(135,185.6) rotate(40)">10<tspan font-size="2.2" dy="-1.2">1</tspan></text>
<line x1="145.1" y1="181.2" x2="145.1" y2="182.4" stroke="#333" stroke-width="0.7"/>
<text font-size="3.2" text-anchor="middle" style="font-family:'Liberation Serif',serif;font-weight:bold" fill="#555" transform="translate(145.1,185.6) rotate(40)">10<tspan font-size="2.2" dy="-1.2">2</tspan></text>
<line x1="155.2" y1="181.2" x2="155.2" y2="182.4" stroke="#333" stroke-width="0.7"/>
<text font-size="3.2" text-anchor="middle" style="font-family:'Liberation Serif',serif;font-weight:bold" fill="#555" transform="translate(155.2,185.6) rotate(40)">10<tspan font-size="2.2" dy="-1.2">3</tspan></text>
<line x1="165.3" y1="181.2" x2="165.3" y2="182.4" stroke="#333" stroke-width="0.7"/>
<text font-size="3.2" text-anchor="middle" style="font-family:'Liberation Serif',serif;font-weight:bold" fill="#555" transform="translate(165.3,185.6) rotate(40)">10<tspan font-size="2.2" dy="-1.2">4</tspan></text>
<line x1="145.4" y1="140.2" x2="145.4" y2="181.2" stroke="#666" stroke-width="0.8"/>
<line x1="164.2" y1="140.2" x2="164.2" y2="181.2" stroke="#999" stroke-width="0.6"/>
<line x1="145.4" y1="160.7" x2="164.2" y2="160.7" stroke="#666" stroke-width="0.8"/>
<text x="131.5" y="143.7" font-size="2.8" text-anchor="start" style="font-family:'Liberation Serif',serif" fill="#444">B</text>
<text x="161.2" y="143.7" font-size="2.8" text-anchor="start" style="font-family:'Liberation Serif',serif" fill="#444">A</text>
<text x="146.9" y="179.2" font-size="2.8" text-anchor="start" style="font-family:'Liberation Serif',serif" fill="#444">C</text>
<text x="134.6" y="177.9" font-size="6" text-anchor="middle" style="font-family:'Liberation Serif',serif" fill="#222">51</text>
<text x="159.2" y="157.2" font-size="6" text-anchor="middle" style="font-family:'Liberation Serif',serif" fill="#222">46</text>
<text x="158.6" y="177.9" font-size="6" text-anchor="middle" style="font-family:'Liberation Serif',serif" fill="#222">1</text>
<path d="M130.5 149.9h0.5v0.5h-0.5zM139.3 154.6h0.5v0.5h-0.5zM144.6 170.2h0.5v0.5h-0.5zM143 156.4h0.5v0.5h-0.5zM142.8 157.6h0.5v0.5h-0.5zM138.2 151.2h0.5v0.5h-0.5zM138.5 163.4h0.5v0.5h-0.5zM138.1 152.9h0.5v0.5h-0.5zM141.5 166.9h0.5v0.5h-0.5zM138 166h0.5v0.5h-0.5zM141.8 153.8h0.5v0.5h-0.5zM138.2 147.7h0.5v0.5h-0.5zM134.8 163.6h0.5v0.5h-0.5zM135.3 163.3h0.5v0.5h-0.5zM139.6 146.3h0.5v0.5h-0.5zM136.7 171.1h0.5v0.5h-0.5zM138.4 161.5h0.5v0.5h-0.5zM135.9 149.5h0.5v0.5h-0.5zM132.8 180.6h0.5v0.5h-0.5zM137.7 154.6h0.5v0.5h-0.5zM138.7 147.1h0.5v0.5h-0.5zM143.2 172.5h0.5v0.5h-0.5zM135.7 162.8h0.5v0.5h-0.5zM135.2 166.6h0.5v0.5h-0.5zM135.4 159.6h0.5v0.5h-0.5zM142.9 164.2h0.5v0.5h-0.5zM137.2 150h0.5v0.5h-0.5zM132.8 169h0.5v0.5h-0.5zM140.1 161h0.5v0.5h-0.5zM142.7 161.6h0.5v0.5h-0.5zM135.8 159.9h0.5v0.5h-0.5zM138 160.5h0.5v0.5h-0.5zM139.3 158.9h0.5v0.5h-0.5zM136 153.7h0.5v0.5h-0.5zM131.8 157.4h0.5v0.5h-0.5zM133 147.7h0.5v0.5h-0.5zM135.1 146.5h0.5v0.5h-0.5zM143.1 169.3h0.5v0.5h-0.5zM135 174.9h0.5v0.5h-0.5zM140.7 143h0.5v0.5h-0.5zM138.4 153.6h0.5v0.5h-0.5zM132.3 158.8h0.5v0.5h-0.5zM142.4 163.7h0.5v0.5h-0.5zM133.2 156h0.5v0.5h-0.5zM135.7 168.6h0.5v0.5h-0.5zM138 153.8h0.5v0.5h-0.5zM135.1 146.8h0.5v0.5h-0.5zM135.4 166.9h0.5v0.5h-0.5zM131.6 161.9h0.5v0.5h-0.5zM137.9 166.3h0.5v0.5h-0.5zM134.3 167h0.5v0.5h-0.5zM143.8 176.6h0.5v0.5h-0.5zM132.6 160.4h0.5v0.5h-0.5zM137.6 161.5h0.5v0.5h-0.5zM134.9 166.6h0.5v0.5h-0.5zM135 156.6h0.5v0.5h-0.5zM140.9 161.5h0.5v0.5h-0.5zM135.7 169.3h0.5v0.5h-0.5zM140.2 167.8h0.5v0.5h-0.5zM137.7 169.6h0.5v0.5h-0.5zM136.7 152.8h0.5v0.5h-0.5zM138.3 150.8h0.5v0.5h-0.5zM142.7 165.7h0.5v0.5h-0.5zM132.4 161.8h0.5v0.5h-0.5zM141.3 158.1h0.5v0.5h-0.5zM139.8 156.5h0.5v0.5h-0.5zM138.1 160h0.5v0.5h-0.5zM140 153.8h0.5v0.5h-0.5zM134.4 162.9h0.5v0.5h-0.5zM136.5 164.2h0.5v0.5h-0.5zM136.6 151.4h0.5v0.5h-0.5zM140.9 162.5h0.5v0.5h-0.5zM140.9 158.2h0.5v0.5h-0.5zM137.1 169.5h0.5v0.5h-0.5zM132.4 172.8h0.5v0.5h-0.5zM140.1 160.2h0.5v0.5h-0.5zM138.6 164.8h0.5v0.5h-0.5zM135.6 162.5h0.5v0.5h-0.5zM135 147.6h0.5v0.5h-0.5zM139 161.3h0.5v0.5h-0.5zM140.6 164.5h0.5v0.5h-0.5zM140.8 166.1h0.5v0.5h-0.5zM134.6 169.1h0.5v0.5h-0.5zM133.9 165.4h0.5v0.5h-0.5zM141.5 167.7h0.5v0.5h-0.5zM143.7 150.9h0.5v0.5h-0.5zM139.6 163.9h0.5v0.5h-0.5zM142.7 154.3h0.5v0.5h-0.5zM138.4 158h0.5v0.5h-0.5zM137.7 159.6h0.5v0.5h-0.5zM137.8 148.2h0.5v0.5h-0.5zM138.2 161.1h0.5v0.5h-0.5zM135.9 156h0.5v0.5h-0.5zM135.3 171.9h0.5v0.5h-0.5zM141.6 159.3h0.5v0.5h-0.5zM134.9 163.9h0.5v0.5h-0.5zM136.2 171h0.5v0.5h-0.5zM142.2 159.7h0.5v0.5h-0.5zM140.5 155h0.5v0.5h-0.5zM132.7 166.5h0.5v0.5h-0.5zM144.1 158.5h0.5v0.5h-0.5zM136.5 148h0.5v0.5h-0.5zM134.9 159.2h0.5v0.5h-0.5zM142.6 161h0.5v0.5h-0.5zM138.2 160.7h0.5v0.5h-0.5zM141.3 160.3h0.5v0.5h-0.5zM138.9 160.1h0.5v0.5h-0.5zM134.4 170h0.5v0.5h-0.5zM135.9 151.3h0.5v0.5h-0.5zM136.8 160.8h0.5v0.5h-0.5zM141.2 150.3h0.5v0.5h-0.5zM133.8 161.9h0.5v0.5h-0.5zM139.7 152.9h0.5v0.5h-0.5zM134.3 161.8h0.5v0.5h-0.5zM137.8 149.2h0.5v0.5h-0.5zM135.2 171h0.5v0.5h-0.5zM134.6 168h0.5v0.5h-0.5zM132.9 171h0.5v0.5h-0.5zM143.9 156.1h0.5v0.5h-0.5zM135.9 165h0.5v0.5h-0.5zM133.9 164.5h0.5v0.5h-0.5zM142.6 162.5h0.5v0.5h-0.5zM139.4 159.5h0.5v0.5h-0.5zM141.8 154.8h0.5v0.5h-0.5zM143.9 160.4h0.5v0.5h-0.5zM137.2 149.1h0.5v0.5h-0.5zM136.8 162.3h0.5v0.5h-0.5zM142.7 149.3h0.5v0.5h-0.5zM137.9 155.8h0.5v0.5h-0.5zM134.1 160.6h0.5v0.5h-0.5zM135.6 166.7h0.5v0.5h-0.5zM131.6 146.9h0.5v0.5h-0.5zM140.1 158.2h0.5v0.5h-0.5zM138.8 153.8h0.5v0.5h-0.5zM134.6 155.4h0.5v0.5h-0.5zM138.1 154.7h0.5v0.5h-0.5zM136.8 154.6h0.5v0.5h-0.5zM139.1 152.6h0.5v0.5h-0.5zM131 142.1h0.5v0.5h-0.5zM138.2 161.3h0.5v0.5h-0.5zM141.7 155.4h0.5v0.5h-0.5zM134.3 150.1h0.5v0.5h-0.5zM141 156.2h0.5v0.5h-0.5zM141.8 160h0.5v0.5h-0.5zM137.3 147.5h0.5v0.5h-0.5zM135.9 166.1h0.5v0.5h-0.5zM136.2 165.4h0.5v0.5h-0.5zM132.5 167.7h0.5v0.5h-0.5zM139.4 151.9h0.5v0.5h-0.5zM136.4 156h0.5v0.5h-0.5zM139 146.4h0.5v0.5h-0.5zM135.3 166.2h0.5v0.5h-0.5zM138.8 165.8h0.5v0.5h-0.5zM141.3 152.6h0.5v0.5h-0.5zM133.6 163.9h0.5v0.5h-0.5zM138.4 161.2h0.5v0.5h-0.5zM135.4 167.8h0.5v0.5h-0.5zM140 168.6h0.5v0.5h-0.5zM137.1 165.5h0.5v0.5h-0.5zM138.1 154h0.5v0.5h-0.5zM138 149h0.5v0.5h-0.5z" fill="#aaa" fill-opacity="1.0"/>
<path d="M152.5 146.6h0.5v0.5h-0.5zM153.9 145.6h0.5v0.5h-0.5zM150.7 144.4h0.5v0.5h-0.5zM149.5 143.9h0.5v0.5h-0.5zM157 148.8h0.5v0.5h-0.5zM151.6 144.9h0.5v0.5h-0.5zM155.6 146.3h0.5v0.5h-0.5zM152.6 146.3h0.5v0.5h-0.5zM151.6 144.9h0.5v0.5h-0.5zM150.1 144h0.5v0.5h-0.5zM154.9 149.5h0.5v0.5h-0.5zM152.3 147.3h0.5v0.5h-0.5zM153.5 147h0.5v0.5h-0.5zM152.6 148.1h0.5v0.5h-0.5zM153.7 146.6h0.5v0.5h-0.5zM152.4 147.6h0.5v0.5h-0.5zM151.8 145h0.5v0.5h-0.5zM152.4 145.6h0.5v0.5h-0.5zM154.8 148h0.5v0.5h-0.5zM152.7 145.7h0.5v0.5h-0.5zM155.1 148.2h0.5v0.5h-0.5zM156.1 149.4h0.5v0.5h-0.5zM152.5 145.6h0.5v0.5h-0.5zM152.3 146.5h0.5v0.5h-0.5zM154.1 147.8h0.5v0.5h-0.5zM155.3 145.6h0.5v0.5h-0.5zM152.8 144.5h0.5v0.5h-0.5zM151.1 144.8h0.5v0.5h-0.5zM151.8 144.6h0.5v0.5h-0.5zM150.4 146.9h0.5v0.5h-0.5zM152.3 147.6h0.5v0.5h-0.5zM151 142.4h0.5v0.5h-0.5zM151.8 147.2h0.5v0.5h-0.5zM151.9 146.6h0.5v0.5h-0.5zM151.1 147.6h0.5v0.5h-0.5zM153.5 148.3h0.5v0.5h-0.5zM152.4 148.1h0.5v0.5h-0.5zM152.9 145.9h0.5v0.5h-0.5zM151.8 146.1h0.5v0.5h-0.5zM151.3 144.1h0.5v0.5h-0.5zM153 147.6h0.5v0.5h-0.5zM152.3 147.4h0.5v0.5h-0.5zM155.3 146h0.5v0.5h-0.5zM153.2 145.4h0.5v0.5h-0.5zM151.8 146.2h0.5v0.5h-0.5zM149 145.4h0.5v0.5h-0.5zM154.1 147.9h0.5v0.5h-0.5zM153.8 149.5h0.5v0.5h-0.5zM152.2 147.7h0.5v0.5h-0.5zM155.1 148.3h0.5v0.5h-0.5zM149.9 144.8h0.5v0.5h-0.5zM152.3 144h0.5v0.5h-0.5zM152.7 147.5h0.5v0.5h-0.5zM152.4 146h0.5v0.5h-0.5zM155.2 146.8h0.5v0.5h-0.5zM151.3 145.8h0.5v0.5h-0.5zM154.6 148.2h0.5v0.5h-0.5zM152.9 145.9h0.5v0.5h-0.5zM154.8 148.7h0.5v0.5h-0.5zM150 145.6h0.5v0.5h-0.5zM148.9 146.6h0.5v0.5h-0.5zM153.8 146.1h0.5v0.5h-0.5zM150.7 145h0.5v0.5h-0.5zM150 145.9h0.5v0.5h-0.5zM152 143.6h0.5v0.5h-0.5zM152.8 148.1h0.5v0.5h-0.5zM150.8 145h0.5v0.5h-0.5zM155.7 148.2h0.5v0.5h-0.5zM151.9 146.3h0.5v0.5h-0.5zM154 145.7h0.5v0.5h-0.5zM152.6 144.2h0.5v0.5h-0.5zM150.3 143.1h0.5v0.5h-0.5zM154.2 147.6h0.5v0.5h-0.5zM154 148.8h0.5v0.5h-0.5zM152.9 146.9h0.5v0.5h-0.5zM153.4 147.5h0.5v0.5h-0.5zM151.1 145.3h0.5v0.5h-0.5zM152.6 146.4h0.5v0.5h-0.5zM151.6 145.7h0.5v0.5h-0.5zM153.3 147h0.5v0.5h-0.5zM153.7 148.1h0.5v0.5h-0.5zM153.7 148.3h0.5v0.5h-0.5zM154.1 149.1h0.5v0.5h-0.5zM153.8 146.1h0.5v0.5h-0.5zM156.5 149.9h0.5v0.5h-0.5zM154.8 148.5h0.5v0.5h-0.5zM152.9 144.9h0.5v0.5h-0.5zM153.5 146.4h0.5v0.5h-0.5zM152.2 143.2h0.5v0.5h-0.5zM155.3 146.1h0.5v0.5h-0.5zM151 146.3h0.5v0.5h-0.5zM153.7 145.9h0.5v0.5h-0.5zM152.8 146.8h0.5v0.5h-0.5zM153.1 147.4h0.5v0.5h-0.5zM154 146.6h0.5v0.5h-0.5zM150.2 148.2h0.5v0.5h-0.5zM152.2 144.8h0.5v0.5h-0.5zM154 147.9h0.5v0.5h-0.5zM151.8 149.3h0.5v0.5h-0.5zM149 146.4h0.5v0.5h-0.5zM152.7 146.9h0.5v0.5h-0.5zM153.3 146.4h0.5v0.5h-0.5zM153.3 144.9h0.5v0.5h-0.5zM152.2 148.7h0.5v0.5h-0.5zM148.7 146.1h0.5v0.5h-0.5zM149.2 143.5h0.5v0.5h-0.5zM154.2 146.6h0.5v0.5h-0.5zM151.9 143.9h0.5v0.5h-0.5zM152.6 146.2h0.5v0.5h-0.5zM151.8 143.8h0.5v0.5h-0.5zM153 147.2h0.5v0.5h-0.5zM154.6 148.1h0.5v0.5h-0.5zM155.2 149.4h0.5v0.5h-0.5zM148.3 146.5h0.5v0.5h-0.5zM152.6 145h0.5v0.5h-0.5zM153.5 148.2h0.5v0.5h-0.5zM150.3 143.5h0.5v0.5h-0.5zM153.9 146.3h0.5v0.5h-0.5zM155.1 148h0.5v0.5h-0.5zM151.9 144.2h0.5v0.5h-0.5zM153.8 144.6h0.5v0.5h-0.5zM150.7 143.6h0.5v0.5h-0.5zM155.5 150.2h0.5v0.5h-0.5zM152.4 145.8h0.5v0.5h-0.5zM153.9 148.8h0.5v0.5h-0.5zM151.5 148.9h0.5v0.5h-0.5zM152.5 147.9h0.5v0.5h-0.5zM149 144.5h0.5v0.5h-0.5zM151.7 148.7h0.5v0.5h-0.5zM152.5 144.6h0.5v0.5h-0.5zM155.9 147.1h0.5v0.5h-0.5zM152.8 144.8h0.5v0.5h-0.5zM153.9 147.3h0.5v0.5h-0.5zM152.3 145.7h0.5v0.5h-0.5zM151.9 145h0.5v0.5h-0.5zM150.5 147h0.5v0.5h-0.5zM154.2 145.3h0.5v0.5h-0.5zM150.9 146.1h0.5v0.5h-0.5zM156.4 148h0.5v0.5h-0.5zM152.3 145.9h0.5v0.5h-0.5zM153.2 146.5h0.5v0.5h-0.5zM154.5 148.7h0.5v0.5h-0.5zM153.7 149.1h0.5v0.5h-0.5zM152.4 145.5h0.5v0.5h-0.5zM157.6 146.2h0.5v0.5h-0.5zM150.3 142h0.5v0.5h-0.5zM153.4 145.3h0.5v0.5h-0.5zM154.5 144.4h0.5v0.5h-0.5zM152.6 145.8h0.5v0.5h-0.5zM151.1 147.2h0.5v0.5h-0.5zM152.2 146.8h0.5v0.5h-0.5zM152 146.3h0.5v0.5h-0.5zM152.1 146.2h0.5v0.5h-0.5zM152.6 145.5h0.5v0.5h-0.5zM153.5 146.6h0.5v0.5h-0.5zM151.2 144.3h0.5v0.5h-0.5zM153.5 148.7h0.5v0.5h-0.5zM150.7 144.9h0.5v0.5h-0.5zM153.5 148.3h0.5v0.5h-0.5zM153.9 145.4h0.5v0.5h-0.5z" fill="#222" fill-opacity="1.0"/>
<path d="M151.6 152.3h0.5v0.5h-0.5zM152.1 149.4h0.5v0.5h-0.5zM148.5 150.4h0.5v0.5h-0.5zM151.3 150.1h0.5v0.5h-0.5zM155.3 153h0.5v0.5h-0.5zM149.5 150.6h0.5v0.5h-0.5zM150.7 150.2h0.5v0.5h-0.5zM155.6 152.3h0.5v0.5h-0.5zM151.6 148.3h0.5v0.5h-0.5zM151.1 150.9h0.5v0.5h-0.5zM150.2 152.8h0.5v0.5h-0.5zM151.6 147h0.5v0.5h-0.5zM156.6 142.7h0.5v0.5h-0.5zM150.8 149.7h0.5v0.5h-0.5zM154 152.8h0.5v0.5h-0.5zM155.2 153.9h0.5v0.5h-0.5zM152.3 150.3h0.5v0.5h-0.5zM154.1 149.9h0.5v0.5h-0.5zM148.3 148.9h0.5v0.5h-0.5zM153.2 151.5h0.5v0.5h-0.5zM148.7 153h0.5v0.5h-0.5zM152.3 146.2h0.5v0.5h-0.5zM152.7 152.5h0.5v0.5h-0.5zM152.8 149.2h0.5v0.5h-0.5zM149.5 152.8h0.5v0.5h-0.5zM152.1 150h0.5v0.5h-0.5zM150.5 147.4h0.5v0.5h-0.5zM146.8 149.1h0.5v0.5h-0.5zM154.3 151.9h0.5v0.5h-0.5zM149.8 153.8h0.5v0.5h-0.5zM150.9 147.5h0.5v0.5h-0.5zM154 153.5h0.5v0.5h-0.5zM150.5 146.9h0.5v0.5h-0.5zM151.3 143.9h0.5v0.5h-0.5zM151.6 153.8h0.5v0.5h-0.5zM152.2 148.2h0.5v0.5h-0.5zM153.3 148.8h0.5v0.5h-0.5zM154.7 149.1h0.5v0.5h-0.5zM156.6 149.1h0.5v0.5h-0.5zM152 147.6h0.5v0.5h-0.5zM148.3 150.9h0.5v0.5h-0.5zM152.4 147.6h0.5v0.5h-0.5zM152.9 149h0.5v0.5h-0.5zM150.1 149.8h0.5v0.5h-0.5zM152.5 151.8h0.5v0.5h-0.5zM154.6 151h0.5v0.5h-0.5zM149.7 148.3h0.5v0.5h-0.5zM152.4 147h0.5v0.5h-0.5zM151.1 149h0.5v0.5h-0.5zM151.3 150.5h0.5v0.5h-0.5zM154.1 154.1h0.5v0.5h-0.5zM153.7 152.5h0.5v0.5h-0.5zM148.8 152.6h0.5v0.5h-0.5zM154.8 146.6h0.5v0.5h-0.5zM157.8 148.6h0.5v0.5h-0.5zM145.5 154.4h0.5v0.5h-0.5zM151.7 148h0.5v0.5h-0.5zM150.1 152.7h0.5v0.5h-0.5zM152.1 149.1h0.5v0.5h-0.5zM154.4 147.6h0.5v0.5h-0.5zM149.4 148.6h0.5v0.5h-0.5zM149.6 151.7h0.5v0.5h-0.5zM150.9 147.4h0.5v0.5h-0.5zM150.3 145h0.5v0.5h-0.5zM151.9 150.3h0.5v0.5h-0.5zM153 149.4h0.5v0.5h-0.5zM152.5 147.7h0.5v0.5h-0.5zM151.6 150.4h0.5v0.5h-0.5zM148.5 151.5h0.5v0.5h-0.5zM151.9 150.1h0.5v0.5h-0.5zM150.3 155h0.5v0.5h-0.5zM151.5 148.1h0.5v0.5h-0.5zM149.4 151.5h0.5v0.5h-0.5zM151 148h0.5v0.5h-0.5zM149.7 152.3h0.5v0.5h-0.5zM151.7 152.6h0.5v0.5h-0.5zM151.5 147h0.5v0.5h-0.5zM153.7 150.8h0.5v0.5h-0.5zM149.9 149.2h0.5v0.5h-0.5zM149.1 152.1h0.5v0.5h-0.5z" fill="#888" fill-opacity="1.0"/>
<line x1="159.5" y1="150.7" x2="188" y2="150.7" stroke="#000" stroke-width="1.1"/>
<path d="M192,150.7 L187.5,148.8 L187.5,152.6 Z" fill="#000"/>
<rect x="190.5" y="140.5" width="40.2" height="40.2" stroke="#8a8a8a" stroke-width="0.7" fill="none"/>
<line x1="190.5" y1="140.5" x2="190.5" y2="180.7" stroke="#333" stroke-width="0.8"/>
<line x1="190.5" y1="180.7" x2="230.7" y2="180.7" stroke="#333" stroke-width="0.8"/>
<line x1="189.3" y1="146" x2="190.5" y2="146" stroke="#333" stroke-width="0.7"/>
<text font-size="3.2" text-anchor="end" style="font-family:'Liberation Serif',serif;font-weight:bold" fill="#555" transform="translate(189.2,146.3) rotate(40)">10<tspan font-size="2.2" dy="-1.2">4</tspan></text>
<line x1="189.3" y1="156.1" x2="190.5" y2="156.1" stroke="#333" stroke-width="0.7"/>
<text font-size="3.2" text-anchor="end" style="font-family:'Liberation Serif',serif;font-weight:bold" fill="#555" transform="translate(189.2,156.4) rotate(40)">10<tspan font-size="2.2" dy="-1.2">3</tspan></text>
<line x1="189.3" y1="166.2" x2="190.5" y2="166.2" stroke="#333" stroke-width="0.7"/>
<text font-size="3.2" text-anchor="end" style="font-family:'Liberation Serif',serif;font-weight:bold" fill="#555" transform="translate(189.2,166.5) rotate(40)">10<tspan font-size="2.2" dy="-1.2">2</tspan></text>
<line x1="189.3" y1="176.3" x2="190.5" y2="176.3" stroke="#333" stroke-width="0.7"/>
<text font-size="3.2" text-anchor="end" style="font-family:'Liberation Serif',serif;font-weight:bold" fill="#555" transform="translate(189.2,176.6) rotate(40)">10<tspan font-size="2.2" dy="-1.2">1</tspan></text>
<line x1="195.5" y1="180.7" x2="195.5" y2="181.9" stroke="#333" stroke-width="0.7"/>
<text font-size="3.2" text-anchor="middle" style="font-family:'Liberation Serif',serif;font-weight:bold" fill="#555" transform="translate(195.5,185.1) rotate(40)">10<tspan font-size="2.2" dy="-1.2">1</tspan></text>
<line x1="205.6" y1="180.7" x2="205.6" y2="181.9" stroke="#333" stroke-width="0.7"/>
<text font-size="3.2" text-anchor="middle" style="font-family:'Liberation Serif',serif;font-weight:bold" fill="#555" transform="translate(205.6,185.1) rotate(40)">10<tspan font-size="2.2" dy="-1.2">2</tspan></text>
<line x1="215.7" y1="180.7" x2="215.7" y2="181.9" stroke="#333" stroke-width="0.7"/>
<text font-size="3.2" text-anchor="middle" style="font-family:'Liberation Serif',serif;font-weight:bold" fill="#555" transform="translate(215.7,185.1) rotate(40)">10<tspan font-size="2.2" dy="-1.2">3</tspan></text>
<line x1="225.8" y1="180.7" x2="225.8" y2="181.9" stroke="#333" stroke-width="0.7"/>
<text font-size="3.2" text-anchor="middle" style="font-family:'Liberation Serif',serif;font-weight:bold" fill="#555" transform="translate(225.8,185.1) rotate(40)">10<tspan font-size="2.2" dy="-1.2">4</tspan></text>
<rect x="205.1" y="142.8" width="21.6" height="37.2" stroke="#666" stroke-width="0.7" fill="none"/>
<line x1="205.1" y1="154.5" x2="226.7" y2="154.5" stroke="#555" stroke-width="0.9"/>
<text x="206.1" y="146.5" font-size="2.6" text-anchor="start" style="font-family:'Liberation Serif',serif" fill="#444">A1</text>
<text x="206.1" y="178.9" font-size="2.6" text-anchor="start" style="font-family:'Liberation Serif',serif" fill="#444">A4</text>
<text x="219.6" y="150.5" font-size="6" text-anchor="middle" style="font-family:'Liberation Serif',serif" fill="#222">20</text>
<text x="219.6" y="177.4" font-size="6" text-anchor="middle" style="font-family:'Liberation Serif',serif" fill="#222">78</text>
<path d="M210.9 159.9h0.5v0.5h-0.5zM211.9 157.7h0.5v0.5h-0.5zM212.1 157.8h0.5v0.5h-0.5zM209.7 157.2h0.5v0.5h-0.5zM209.7 160.8h0.5v0.5h-0.5zM212.5 156.7h0.5v0.5h-0.5zM212.4 159.2h0.5v0.5h-0.5zM213 155.7h0.5v0.5h-0.5zM211.5 155.5h0.5v0.5h-0.5zM210.5 162.6h0.5v0.5h-0.5zM208.5 155.8h0.5v0.5h-0.5zM212.2 160.8h0.5v0.5h-0.5zM208.9 159.6h0.5v0.5h-0.5zM213.2 161.2h0.5v0.5h-0.5zM210.4 162.6h0.5v0.5h-0.5zM211.2 160.3h0.5v0.5h-0.5zM211.2 163.3h0.5v0.5h-0.5zM211 159.1h0.5v0.5h-0.5zM211.9 156.3h0.5v0.5h-0.5zM211.2 155.1h0.5v0.5h-0.5zM211.1 158.8h0.5v0.5h-0.5zM211.9 163.4h0.5v0.5h-0.5zM208.5 160.1h0.5v0.5h-0.5zM212.1 155h0.5v0.5h-0.5zM211.6 158.5h0.5v0.5h-0.5zM210 160.7h0.5v0.5h-0.5zM214.4 160.5h0.5v0.5h-0.5zM212.7 161.7h0.5v0.5h-0.5zM211.3 161.4h0.5v0.5h-0.5zM210.3 159h0.5v0.5h-0.5zM212.6 162.4h0.5v0.5h-0.5zM211.1 157.6h0.5v0.5h-0.5zM212.2 158.3h0.5v0.5h-0.5zM211.7 160.9h0.5v0.5h-0.5zM210.4 161.1h0.5v0.5h-0.5zM212.1 157.7h0.5v0.5h-0.5zM209.6 156.6h0.5v0.5h-0.5zM211.4 161.3h0.5v0.5h-0.5zM208.6 160.6h0.5v0.5h-0.5zM211.8 155.1h0.5v0.5h-0.5zM212.8 159.7h0.5v0.5h-0.5zM212.2 155.6h0.5v0.5h-0.5zM209.8 161.2h0.5v0.5h-0.5zM213.6 159.6h0.5v0.5h-0.5zM211.2 157.2h0.5v0.5h-0.5zM208.9 161.4h0.5v0.5h-0.5zM211.4 162.2h0.5v0.5h-0.5zM210.4 161.6h0.5v0.5h-0.5zM210.4 160.2h0.5v0.5h-0.5zM213.6 156.4h0.5v0.5h-0.5zM212.9 158.5h0.5v0.5h-0.5zM210.1 159.1h0.5v0.5h-0.5zM212.5 156.4h0.5v0.5h-0.5zM211.1 156.8h0.5v0.5h-0.5zM210.4 157.9h0.5v0.5h-0.5zM212.7 157h0.5v0.5h-0.5zM213.4 157.4h0.5v0.5h-0.5zM210.5 161.7h0.5v0.5h-0.5zM213.6 156.6h0.5v0.5h-0.5zM212.4 155h0.5v0.5h-0.5zM210.9 157.4h0.5v0.5h-0.5zM210.7 156.4h0.5v0.5h-0.5zM209.5 166.9h0.5v0.5h-0.5zM208.7 163.5h0.5v0.5h-0.5zM213.4 156h0.5v0.5h-0.5zM209.9 159.9h0.5v0.5h-0.5zM214.5 160.3h0.5v0.5h-0.5zM208.9 159.6h0.5v0.5h-0.5zM213 158.9h0.5v0.5h-0.5zM211.5 162.6h0.5v0.5h-0.5zM210.3 161.8h0.5v0.5h-0.5zM212.7 156.6h0.5v0.5h-0.5zM211.7 158.8h0.5v0.5h-0.5zM212.4 155.6h0.5v0.5h-0.5zM211.2 158.8h0.5v0.5h-0.5zM211.5 158.6h0.5v0.5h-0.5zM211.9 157.9h0.5v0.5h-0.5zM210.8 161.6h0.5v0.5h-0.5zM210.5 157.6h0.5v0.5h-0.5zM210.2 155.1h0.5v0.5h-0.5zM212.2 158.4h0.5v0.5h-0.5zM211.3 159.8h0.5v0.5h-0.5zM211.2 160.5h0.5v0.5h-0.5zM214.2 159.5h0.5v0.5h-0.5zM211.1 163.4h0.5v0.5h-0.5zM213.5 159.1h0.5v0.5h-0.5zM212.8 155.1h0.5v0.5h-0.5zM210.2 156.6h0.5v0.5h-0.5zM212.3 155.2h0.5v0.5h-0.5zM210.5 161.3h0.5v0.5h-0.5zM210.5 158.8h0.5v0.5h-0.5zM211.4 158.1h0.5v0.5h-0.5zM209.4 161.4h0.5v0.5h-0.5zM212.7 161.1h0.5v0.5h-0.5zM210.7 155.1h0.5v0.5h-0.5zM211.4 159h0.5v0.5h-0.5zM211.2 156.8h0.5v0.5h-0.5zM210 156.3h0.5v0.5h-0.5zM211.4 157.1h0.5v0.5h-0.5zM214 157.7h0.5v0.5h-0.5zM212.2 157.1h0.5v0.5h-0.5zM211.2 155.6h0.5v0.5h-0.5zM208.4 162.4h0.5v0.5h-0.5zM209.9 159.8h0.5v0.5h-0.5zM211.3 156.8h0.5v0.5h-0.5zM212.6 156.9h0.5v0.5h-0.5zM212.1 157.4h0.5v0.5h-0.5zM212.9 161.3h0.5v0.5h-0.5zM211.6 161.7h0.5v0.5h-0.5zM212.2 163.1h0.5v0.5h-0.5zM211.8 159.2h0.5v0.5h-0.5zM211 157.9h0.5v0.5h-0.5zM214 156.2h0.5v0.5h-0.5zM210.3 158.4h0.5v0.5h-0.5zM213.7 160.3h0.5v0.5h-0.5zM209.9 158.3h0.5v0.5h-0.5zM212.8 157.1h0.5v0.5h-0.5zM213.9 164.2h0.5v0.5h-0.5zM213.1 158.2h0.5v0.5h-0.5zM212.5 161.4h0.5v0.5h-0.5zM210 158.7h0.5v0.5h-0.5zM211.8 156.3h0.5v0.5h-0.5zM212.5 158.1h0.5v0.5h-0.5zM210.9 164h0.5v0.5h-0.5zM211.7 163.3h0.5v0.5h-0.5zM211.3 161.5h0.5v0.5h-0.5zM210.4 158.9h0.5v0.5h-0.5zM212.3 157.7h0.5v0.5h-0.5zM213.1 159h0.5v0.5h-0.5zM215.8 156.3h0.5v0.5h-0.5zM211 156.4h0.5v0.5h-0.5zM211.1 159.1h0.5v0.5h-0.5zM209.5 161.6h0.5v0.5h-0.5z" fill="#555" fill-opacity="1.0"/>
<path d="M210.9 164h0.5v0.5h-0.5zM206.3 157.4h0.5v0.5h-0.5zM210.8 158.2h0.5v0.5h-0.5zM209.9 162.3h0.5v0.5h-0.5zM212.5 154.7h0.5v0.5h-0.5zM206.7 164.8h0.5v0.5h-0.5zM210.7 166.8h0.5v0.5h-0.5zM213.6 159.9h0.5v0.5h-0.5zM208 158.4h0.5v0.5h-0.5zM209.7 167.8h0.5v0.5h-0.5zM207.3 165.9h0.5v0.5h-0.5zM207.7 157.1h0.5v0.5h-0.5zM208 156.4h0.5v0.5h-0.5zM210.4 162.7h0.5v0.5h-0.5zM210 164.5h0.5v0.5h-0.5zM215.8 161.4h0.5v0.5h-0.5zM208.7 159.4h0.5v0.5h-0.5zM211.2 158.4h0.5v0.5h-0.5zM214.3 167.3h0.5v0.5h-0.5zM216.4 163.6h0.5v0.5h-0.5zM213.1 155.7h0.5v0.5h-0.5zM210 165.8h0.5v0.5h-0.5zM211.8 153.9h0.5v0.5h-0.5zM211.5 153.3h0.5v0.5h-0.5zM211.4 153.5h0.5v0.5h-0.5zM209.2 157.5h0.5v0.5h-0.5zM218.3 153.5h0.5v0.5h-0.5zM208.6 157.3h0.5v0.5h-0.5zM214.1 165.2h0.5v0.5h-0.5zM213.2 158.6h0.5v0.5h-0.5zM211.8 156h0.5v0.5h-0.5zM211 155.7h0.5v0.5h-0.5zM207.9 154.6h0.5v0.5h-0.5zM216.2 162.8h0.5v0.5h-0.5zM209.6 159.8h0.5v0.5h-0.5zM210.4 167.6h0.5v0.5h-0.5zM211.4 156.7h0.5v0.5h-0.5zM213.1 162.4h0.5v0.5h-0.5zM209.8 155.9h0.5v0.5h-0.5zM211.8 150.9h0.5v0.5h-0.5zM209.3 166.4h0.5v0.5h-0.5zM213.6 167h0.5v0.5h-0.5zM210.4 157h0.5v0.5h-0.5zM210.8 157.7h0.5v0.5h-0.5zM214.6 159.2h0.5v0.5h-0.5zM214.8 156.3h0.5v0.5h-0.5zM212.4 170h0.5v0.5h-0.5zM209.7 156.6h0.5v0.5h-0.5zM210 151h0.5v0.5h-0.5zM210.8 156.7h0.5v0.5h-0.5zM216.9 157.7h0.5v0.5h-0.5zM206.3 166h0.5v0.5h-0.5zM213.8 160.3h0.5v0.5h-0.5zM212.2 164.7h0.5v0.5h-0.5zM210.1 160.7h0.5v0.5h-0.5zM211.8 170.2h0.5v0.5h-0.5zM214.9 161.5h0.5v0.5h-0.5zM208.2 165.7h0.5v0.5h-0.5zM211.3 167.3h0.5v0.5h-0.5zM211.6 161.5h0.5v0.5h-0.5zM213.1 156.2h0.5v0.5h-0.5zM209.9 173.9h0.5v0.5h-0.5zM209.4 166h0.5v0.5h-0.5zM213.1 165.3h0.5v0.5h-0.5zM214.8 152.6h0.5v0.5h-0.5zM213.8 148.4h0.5v0.5h-0.5zM211.6 162.5h0.5v0.5h-0.5zM214 166.8h0.5v0.5h-0.5zM209.2 158.9h0.5v0.5h-0.5zM211.1 156.4h0.5v0.5h-0.5zM209.5 156.6h0.5v0.5h-0.5zM214.3 168.5h0.5v0.5h-0.5zM213.3 170.4h0.5v0.5h-0.5zM211.7 154.1h0.5v0.5h-0.5zM209.9 161.7h0.5v0.5h-0.5zM214 167.6h0.5v0.5h-0.5zM209.3 166.1h0.5v0.5h-0.5zM210.2 164h0.5v0.5h-0.5zM213.7 169.2h0.5v0.5h-0.5zM210.2 161.9h0.5v0.5h-0.5zM212.5 158h0.5v0.5h-0.5zM211.7 164h0.5v0.5h-0.5zM207.5 156.7h0.5v0.5h-0.5zM217.1 163.1h0.5v0.5h-0.5zM210.1 149.7h0.5v0.5h-0.5zM209.1 163.5h0.5v0.5h-0.5zM213.1 163.1h0.5v0.5h-0.5zM212.9 156.9h0.5v0.5h-0.5zM215.3 153.9h0.5v0.5h-0.5zM212.7 158.9h0.5v0.5h-0.5zM207.3 165.8h0.5v0.5h-0.5zM210.8 164.7h0.5v0.5h-0.5zM214.6 161.5h0.5v0.5h-0.5zM209.9 159.2h0.5v0.5h-0.5zM211.3 169h0.5v0.5h-0.5zM213.5 169.8h0.5v0.5h-0.5zM213.3 156h0.5v0.5h-0.5zM213.7 166.2h0.5v0.5h-0.5z" fill="#aaa" fill-opacity="1.0"/>
<text x="2" y="204.5" font-size="6.75" text-anchor="start" style="font-family:'Liberation Serif',serif;font-weight:bold" fill="#000" stroke="#000" stroke-width="0.25" >CD25<tspan font-size="4" dy="-2.5">-</tspan><tspan dy="2.5"> Naive</tspan></text>
<text x="2" y="212.5" font-size="6.75" text-anchor="start" style="font-family:'Liberation Serif',serif;font-weight:bold" fill="#000" stroke="#000" stroke-width="0.25" >(A1)</text>
<rect x="69.2" y="189.3" width="39.7" height="41" stroke="#8a8a8a" stroke-width="0.7" fill="none"/>
<line x1="69.2" y1="189.3" x2="69.2" y2="230.3" stroke="#333" stroke-width="0.8"/>
<line x1="69.2" y1="230.3" x2="108.9" y2="230.3" stroke="#333" stroke-width="0.8"/>
<line x1="68" y1="194.8" x2="69.2" y2="194.8" stroke="#333" stroke-width="0.7"/>
<text font-size="3.2" text-anchor="end" style="font-family:'Liberation Serif',serif;font-weight:bold" fill="#555" transform="translate(67.9,195.1) rotate(40)">10<tspan font-size="2.2" dy="-1.2">4</tspan></text>
<line x1="68" y1="204.9" x2="69.2" y2="204.9" stroke="#333" stroke-width="0.7"/>
<text font-size="3.2" text-anchor="end" style="font-family:'Liberation Serif',serif;font-weight:bold" fill="#555" transform="translate(67.9,205.2) rotate(40)">10<tspan font-size="2.2" dy="-1.2">3</tspan></text>
<line x1="68" y1="215" x2="69.2" y2="215" stroke="#333" stroke-width="0.7"/>
<text font-size="3.2" text-anchor="end" style="font-family:'Liberation Serif',serif;font-weight:bold" fill="#555" transform="translate(67.9,215.3) rotate(40)">10<tspan font-size="2.2" dy="-1.2">2</tspan></text>
<line x1="68" y1="225.1" x2="69.2" y2="225.1" stroke="#333" stroke-width="0.7"/>
<text font-size="3.2" text-anchor="end" style="font-family:'Liberation Serif',serif;font-weight:bold" fill="#555" transform="translate(67.9,225.4) rotate(40)">10<tspan font-size="2.2" dy="-1.2">1</tspan></text>
<line x1="74.2" y1="230.3" x2="74.2" y2="231.5" stroke="#333" stroke-width="0.7"/>
<text font-size="3.2" text-anchor="middle" style="font-family:'Liberation Serif',serif;font-weight:bold" fill="#555" transform="translate(74.2,234.7) rotate(40)">10<tspan font-size="2.2" dy="-1.2">1</tspan></text>
<line x1="84.3" y1="230.3" x2="84.3" y2="231.5" stroke="#333" stroke-width="0.7"/>
<text font-size="3.2" text-anchor="middle" style="font-family:'Liberation Serif',serif;font-weight:bold" fill="#555" transform="translate(84.3,234.7) rotate(40)">10<tspan font-size="2.2" dy="-1.2">2</tspan></text>
<line x1="94.4" y1="230.3" x2="94.4" y2="231.5" stroke="#333" stroke-width="0.7"/>
<text font-size="3.2" text-anchor="middle" style="font-family:'Liberation Serif',serif;font-weight:bold" fill="#555" transform="translate(94.4,234.7) rotate(40)">10<tspan font-size="2.2" dy="-1.2">3</tspan></text>
<line x1="104.5" y1="230.3" x2="104.5" y2="231.5" stroke="#333" stroke-width="0.7"/>
<text font-size="3.2" text-anchor="middle" style="font-family:'Liberation Serif',serif;font-weight:bold" fill="#555" transform="translate(104.5,234.7) rotate(40)">10<tspan font-size="2.2" dy="-1.2">4</tspan></text>
<rect x="93.5" y="201.5" width="13" height="14" stroke="#777" stroke-width="0.6" fill="none"/>
<rect x="93.5" y="217.5" width="13" height="12.2" stroke="#777" stroke-width="0.6" fill="none"/>
<text x="100" y="207.3" font-size="6" text-anchor="middle" style="font-family:'Liberation Serif',serif" fill="#222">0.1</text>
<path d="M99.8 225.7h0.5v0.5h-0.5zM99.6 220.3h0.5v0.5h-0.5zM99.9 226.7h0.5v0.5h-0.5zM99.1 227.7h0.5v0.5h-0.5zM100.2 227.8h0.5v0.5h-0.5zM99.1 223h0.5v0.5h-0.5zM98.8 221.9h0.5v0.5h-0.5zM100.6 224.7h0.5v0.5h-0.5zM99.4 225.2h0.5v0.5h-0.5zM98.5 223.1h0.5v0.5h-0.5zM98.2 219.6h0.5v0.5h-0.5zM98.4 220.8h0.5v0.5h-0.5zM101.8 228.6h0.5v0.5h-0.5zM101.5 222.5h0.5v0.5h-0.5zM100.7 220.7h0.5v0.5h-0.5zM99.3 225.1h0.5v0.5h-0.5zM98.1 224.9h0.5v0.5h-0.5zM100.7 217.8h0.5v0.5h-0.5zM97.1 223.4h0.5v0.5h-0.5zM99.8 224.7h0.5v0.5h-0.5zM98.7 226.1h0.5v0.5h-0.5zM100.1 222h0.5v0.5h-0.5zM101.9 225.1h0.5v0.5h-0.5zM100.8 230.1h0.5v0.5h-0.5zM99.4 223.6h0.5v0.5h-0.5zM98 223.6h0.5v0.5h-0.5zM100.6 224.9h0.5v0.5h-0.5zM98.5 221.6h0.5v0.5h-0.5zM97.8 220h0.5v0.5h-0.5zM100.1 225.2h0.5v0.5h-0.5zM98.9 223.6h0.5v0.5h-0.5zM99 226.2h0.5v0.5h-0.5zM100.7 222.5h0.5v0.5h-0.5zM99.4 220.4h0.5v0.5h-0.5zM100 227h0.5v0.5h-0.5zM100.7 229h0.5v0.5h-0.5zM99.6 221.4h0.5v0.5h-0.5zM101.2 227.2h0.5v0.5h-0.5zM99.2 227.8h0.5v0.5h-0.5zM100 224.2h0.5v0.5h-0.5zM102.1 226h0.5v0.5h-0.5zM100.3 223.3h0.5v0.5h-0.5zM100.2 227.6h0.5v0.5h-0.5zM100.5 221.9h0.5v0.5h-0.5zM100.5 223.9h0.5v0.5h-0.5zM100.3 223.7h0.5v0.5h-0.5zM97.4 219.2h0.5v0.5h-0.5zM100.8 222.8h0.5v0.5h-0.5zM100.3 227.4h0.5v0.5h-0.5zM100.2 220.2h0.5v0.5h-0.5zM101.1 222.6h0.5v0.5h-0.5zM99.3 224.9h0.5v0.5h-0.5zM100.5 220.4h0.5v0.5h-0.5zM100 224.5h0.5v0.5h-0.5zM101.7 228.4h0.5v0.5h-0.5zM103 222.2h0.5v0.5h-0.5zM98.9 225.4h0.5v0.5h-0.5zM101.9 221.1h0.5v0.5h-0.5zM99.6 221.9h0.5v0.5h-0.5zM100.6 225.6h0.5v0.5h-0.5zM99.9 226.4h0.5v0.5h-0.5zM99.1 223.1h0.5v0.5h-0.5zM99.9 224.5h0.5v0.5h-0.5zM101.5 224.5h0.5v0.5h-0.5zM101.5 225.1h0.5v0.5h-0.5zM101.3 224.9h0.5v0.5h-0.5zM98.9 221.6h0.5v0.5h-0.5zM100.5 230.3h0.5v0.5h-0.5zM102.2 223.3h0.5v0.5h-0.5zM102.9 220.8h0.5v0.5h-0.5zM99 227.3h0.5v0.5h-0.5zM98.2 227.2h0.5v0.5h-0.5zM100.4 226.3h0.5v0.5h-0.5zM98.6 225.5h0.5v0.5h-0.5zM101.1 224.1h0.5v0.5h-0.5zM101.2 224.4h0.5v0.5h-0.5zM100.4 223.3h0.5v0.5h-0.5zM98.4 223.8h0.5v0.5h-0.5zM100.6 221.9h0.5v0.5h-0.5zM97.7 219.4h0.5v0.5h-0.5zM101.5 223.6h0.5v0.5h-0.5zM99.1 228.2h0.5v0.5h-0.5zM99.8 219.5h0.5v0.5h-0.5zM99.5 221.5h0.5v0.5h-0.5zM99.8 221.4h0.5v0.5h-0.5zM100.1 225.8h0.5v0.5h-0.5zM99.3 223.7h0.5v0.5h-0.5zM99.8 226.9h0.5v0.5h-0.5zM99.1 226.7h0.5v0.5h-0.5zM101.4 223.7h0.5v0.5h-0.5zM98.8 223.3h0.5v0.5h-0.5zM97.9 222.6h0.5v0.5h-0.5zM98.6 223.8h0.5v0.5h-0.5zM99.5 225.9h0.5v0.5h-0.5zM100.1 225.6h0.5v0.5h-0.5zM99.9 225.2h0.5v0.5h-0.5zM98.6 226.4h0.5v0.5h-0.5zM101.5 227.8h0.5v0.5h-0.5zM98.4 225.6h0.5v0.5h-0.5zM98.1 226.7h0.5v0.5h-0.5zM99.7 222.8h0.5v0.5h-0.5zM99.1 223.5h0.5v0.5h-0.5zM100 221.2h0.5v0.5h-0.5zM100.1 225.1h0.5v0.5h-0.5zM100.6 224.2h0.5v0.5h-0.5zM101.2 225.3h0.5v0.5h-0.5zM98.3 226.3h0.5v0.5h-0.5zM99.8 225.5h0.5v0.5h-0.5z" fill="#333" fill-opacity="1.0"/>
<path d="M99.5 224.6h0.5v0.5h-0.5zM99.1 229.1h0.5v0.5h-0.5zM100.3 223.3h0.5v0.5h-0.5zM97.5 222.5h0.5v0.5h-0.5zM100.2 224.8h0.5v0.5h-0.5zM100.1 229h0.5v0.5h-0.5zM102 225.8h0.5v0.5h-0.5zM99.6 224.1h0.5v0.5h-0.5zM98.9 227.8h0.5v0.5h-0.5zM96.6 220.7h0.5v0.5h-0.5zM98.4 220.9h0.5v0.5h-0.5zM97.8 228.5h0.5v0.5h-0.5zM94.4 226.3h0.5v0.5h-0.5zM96.5 223.5h0.5v0.5h-0.5zM98.2 220.8h0.5v0.5h-0.5zM96.1 224.6h0.5v0.5h-0.5zM98.6 228.1h0.5v0.5h-0.5zM103.7 223.3h0.5v0.5h-0.5zM97.7 223.3h0.5v0.5h-0.5zM100.5 227.6h0.5v0.5h-0.5zM97.3 226h0.5v0.5h-0.5zM99.4 228.3h0.5v0.5h-0.5zM98.5 223.6h0.5v0.5h-0.5zM97.5 219.7h0.5v0.5h-0.5zM100.1 226.8h0.5v0.5h-0.5zM102 225.2h0.5v0.5h-0.5zM98.4 221.1h0.5v0.5h-0.5zM96.8 221.8h0.5v0.5h-0.5zM100.2 224.6h0.5v0.5h-0.5zM94.3 223.9h0.5v0.5h-0.5zM98.8 220.6h0.5v0.5h-0.5zM99.4 226.2h0.5v0.5h-0.5zM97.1 219.6h0.5v0.5h-0.5zM98.7 225.2h0.5v0.5h-0.5zM98.9 229.7h0.5v0.5h-0.5zM99.8 220.8h0.5v0.5h-0.5zM101.2 222h0.5v0.5h-0.5zM101 224.6h0.5v0.5h-0.5zM102.3 220.8h0.5v0.5h-0.5zM101.1 225.8h0.5v0.5h-0.5zM97.4 226.8h0.5v0.5h-0.5zM104.6 225.6h0.5v0.5h-0.5zM97.7 223.8h0.5v0.5h-0.5zM102.4 225.2h0.5v0.5h-0.5zM102.8 222h0.5v0.5h-0.5zM102.5 218.8h0.5v0.5h-0.5zM99.1 223.3h0.5v0.5h-0.5zM98.4 228.6h0.5v0.5h-0.5zM98.1 225.5h0.5v0.5h-0.5zM103.7 227.2h0.5v0.5h-0.5zM98.5 221.7h0.5v0.5h-0.5zM94.9 225.6h0.5v0.5h-0.5zM101.5 228.2h0.5v0.5h-0.5zM97.5 227.1h0.5v0.5h-0.5zM98.6 227.2h0.5v0.5h-0.5zM105.3 221.6h0.5v0.5h-0.5zM104.5 224h0.5v0.5h-0.5zM96.1 224.6h0.5v0.5h-0.5zM101.5 222.3h0.5v0.5h-0.5zM103.1 221.2h0.5v0.5h-0.5zM99 227.5h0.5v0.5h-0.5zM99 222.3h0.5v0.5h-0.5zM99.4 226.6h0.5v0.5h-0.5zM103.4 229.1h0.5v0.5h-0.5zM103.8 224.2h0.5v0.5h-0.5zM95.7 224.2h0.5v0.5h-0.5zM98.5 220.8h0.5v0.5h-0.5zM98.3 224.1h0.5v0.5h-0.5zM99.6 227.5h0.5v0.5h-0.5zM97.4 228.3h0.5v0.5h-0.5zM99.6 226.9h0.5v0.5h-0.5zM102.3 220h0.5v0.5h-0.5zM103.1 221.8h0.5v0.5h-0.5zM100.4 228.1h0.5v0.5h-0.5zM101.6 218.8h0.5v0.5h-0.5zM99.9 228.3h0.5v0.5h-0.5z" fill="#aaa" fill-opacity="1.0"/>
<line x1="101" y1="224.3" x2="126.5" y2="224.3" stroke="#000" stroke-width="1.1"/>
<path d="M130.5,224.3 L126,222.4 L126,226.2 Z" fill="#000"/>
<rect x="130" y="189.3" width="38.3" height="41" stroke="#8a8a8a" stroke-width="0.7" fill="none"/>
<line x1="130" y1="189.3" x2="130" y2="230.3" stroke="#333" stroke-width="0.8"/>
<line x1="130" y1="230.3" x2="168.3" y2="230.3" stroke="#333" stroke-width="0.8"/>
<line x1="128.8" y1="194.8" x2="130" y2="194.8" stroke="#333" stroke-width="0.7"/>
<text font-size="3.2" text-anchor="end" style="font-family:'Liberation Serif',serif;font-weight:bold" fill="#555" transform="translate(128.7,195.1) rotate(40)">10<tspan font-size="2.2" dy="-1.2">4</tspan></text>
<line x1="128.8" y1="204.9" x2="130" y2="204.9" stroke="#333" stroke-width="0.7"/>
<text font-size="3.2" text-anchor="end" style="font-family:'Liberation Serif',serif;font-weight:bold" fill="#555" transform="translate(128.7,205.2) rotate(40)">10<tspan font-size="2.2" dy="-1.2">3</tspan></text>
<line x1="128.8" y1="215" x2="130" y2="215" stroke="#333" stroke-width="0.7"/>
<text font-size="3.2" text-anchor="end" style="font-family:'Liberation Serif',serif;font-weight:bold" fill="#555" transform="translate(128.7,215.3) rotate(40)">10<tspan font-size="2.2" dy="-1.2">2</tspan></text>
<line x1="128.8" y1="225.1" x2="130" y2="225.1" stroke="#333" stroke-width="0.7"/>
<text font-size="3.2" text-anchor="end" style="font-family:'Liberation Serif',serif;font-weight:bold" fill="#555" transform="translate(128.7,225.4) rotate(40)">10<tspan font-size="2.2" dy="-1.2">1</tspan></text>
<line x1="135" y1="230.3" x2="135" y2="231.5" stroke="#333" stroke-width="0.7"/>
<text font-size="3.2" text-anchor="middle" style="font-family:'Liberation Serif',serif;font-weight:bold" fill="#555" transform="translate(135,234.7) rotate(40)">10<tspan font-size="2.2" dy="-1.2">1</tspan></text>
<line x1="145.1" y1="230.3" x2="145.1" y2="231.5" stroke="#333" stroke-width="0.7"/>
<text font-size="3.2" text-anchor="middle" style="font-family:'Liberation Serif',serif;font-weight:bold" fill="#555" transform="translate(145.1,234.7) rotate(40)">10<tspan font-size="2.2" dy="-1.2">2</tspan></text>
<line x1="155.2" y1="230.3" x2="155.2" y2="231.5" stroke="#333" stroke-width="0.7"/>
<text font-size="3.2" text-anchor="middle" style="font-family:'Liberation Serif',serif;font-weight:bold" fill="#555" transform="translate(155.2,234.7) rotate(40)">10<tspan font-size="2.2" dy="-1.2">3</tspan></text>
<line x1="165.3" y1="230.3" x2="165.3" y2="231.5" stroke="#333" stroke-width="0.7"/>
<text font-size="3.2" text-anchor="middle" style="font-family:'Liberation Serif',serif;font-weight:bold" fill="#555" transform="translate(165.3,234.7) rotate(40)">10<tspan font-size="2.2" dy="-1.2">4</tspan></text>
<line x1="145.4" y1="189.3" x2="145.4" y2="230.3" stroke="#666" stroke-width="0.8"/>
<line x1="164.2" y1="189.3" x2="164.2" y2="230.3" stroke="#999" stroke-width="0.6"/>
<line x1="145.4" y1="209.8" x2="164.2" y2="209.8" stroke="#666" stroke-width="0.8"/>
<text x="131.5" y="192.8" font-size="2.8" text-anchor="start" style="font-family:'Liberation Serif',serif" fill="#444">B</text>
<text x="161.2" y="192.8" font-size="2.8" text-anchor="start" style="font-family:'Liberation Serif',serif" fill="#444">A</text>
<text x="146.9" y="228.3" font-size="2.8" text-anchor="start" style="font-family:'Liberation Serif',serif" fill="#444">C</text>
<text x="134.6" y="227" font-size="6" text-anchor="middle" style="font-family:'Liberation Serif',serif" fill="#222">3</text>
<text x="159.2" y="206.3" font-size="6" text-anchor="middle" style="font-family:'Liberation Serif',serif" fill="#222">95</text>
<text x="158.6" y="227" font-size="6" text-anchor="middle" style="font-family:'Liberation Serif',serif" fill="#222">1</text>
<path d="M151.6 196.6h0.5v0.5h-0.5zM151.9 200h0.5v0.5h-0.5zM151 194.7h0.5v0.5h-0.5zM150.1 195.1h0.5v0.5h-0.5zM151.4 197.3h0.5v0.5h-0.5zM151.7 193.5h0.5v0.5h-0.5zM149.4 197.2h0.5v0.5h-0.5zM152.9 194.6h0.5v0.5h-0.5zM153.2 192.7h0.5v0.5h-0.5zM155.3 199.3h0.5v0.5h-0.5zM149.3 196.8h0.5v0.5h-0.5zM151.7 195.9h0.5v0.5h-0.5zM151.2 196.2h0.5v0.5h-0.5zM151.6 195h0.5v0.5h-0.5zM150.9 197.5h0.5v0.5h-0.5zM152.6 194.6h0.5v0.5h-0.5zM151.1 199.5h0.5v0.5h-0.5zM152.9 200.4h0.5v0.5h-0.5zM149.8 194h0.5v0.5h-0.5zM148.5 191.8h0.5v0.5h-0.5zM151.2 194.6h0.5v0.5h-0.5zM150.2 194.8h0.5v0.5h-0.5zM151.5 198.3h0.5v0.5h-0.5zM152.6 193.8h0.5v0.5h-0.5zM154 197.1h0.5v0.5h-0.5zM150.3 196.1h0.5v0.5h-0.5zM151.2 193.9h0.5v0.5h-0.5zM154.1 196.6h0.5v0.5h-0.5zM150.9 197.5h0.5v0.5h-0.5zM154.3 198.7h0.5v0.5h-0.5zM150.4 197.1h0.5v0.5h-0.5zM153.5 198.2h0.5v0.5h-0.5zM152.8 196.3h0.5v0.5h-0.5zM151.7 193.5h0.5v0.5h-0.5zM150.7 194.2h0.5v0.5h-0.5zM151.8 199.7h0.5v0.5h-0.5zM148.4 192.9h0.5v0.5h-0.5zM150.4 196.1h0.5v0.5h-0.5zM153.5 196h0.5v0.5h-0.5zM150.6 198.6h0.5v0.5h-0.5zM152.4 198h0.5v0.5h-0.5zM153 195.9h0.5v0.5h-0.5zM152.1 195.7h0.5v0.5h-0.5zM150.7 196.6h0.5v0.5h-0.5zM152.5 194.6h0.5v0.5h-0.5zM150.6 197.5h0.5v0.5h-0.5zM152 198.2h0.5v0.5h-0.5zM151.3 195.1h0.5v0.5h-0.5zM153 198.4h0.5v0.5h-0.5zM147.5 196.7h0.5v0.5h-0.5zM150.7 197.6h0.5v0.5h-0.5zM154.2 197.2h0.5v0.5h-0.5zM150.3 196.7h0.5v0.5h-0.5zM151.9 197.9h0.5v0.5h-0.5zM149.7 196.4h0.5v0.5h-0.5zM153.1 198.7h0.5v0.5h-0.5zM152.7 199.5h0.5v0.5h-0.5zM150.6 198.6h0.5v0.5h-0.5zM152.1 195h0.5v0.5h-0.5zM151.4 197.1h0.5v0.5h-0.5zM152.3 199.6h0.5v0.5h-0.5zM152.1 195.9h0.5v0.5h-0.5zM155.1 197.5h0.5v0.5h-0.5zM150.6 198.1h0.5v0.5h-0.5zM151.2 195h0.5v0.5h-0.5zM150.2 198.4h0.5v0.5h-0.5zM150.2 196.4h0.5v0.5h-0.5zM151.1 196.2h0.5v0.5h-0.5zM150.6 196.6h0.5v0.5h-0.5zM152.7 199.2h0.5v0.5h-0.5zM151.3 194.4h0.5v0.5h-0.5zM149.6 195.9h0.5v0.5h-0.5zM148.1 197.9h0.5v0.5h-0.5zM151.8 197.1h0.5v0.5h-0.5zM149.7 194.7h0.5v0.5h-0.5zM150.7 197.6h0.5v0.5h-0.5zM151.2 197.7h0.5v0.5h-0.5zM152.6 193.4h0.5v0.5h-0.5zM151.4 199.1h0.5v0.5h-0.5zM151 196.7h0.5v0.5h-0.5zM151.6 194.4h0.5v0.5h-0.5zM155.1 197.9h0.5v0.5h-0.5zM152.8 196.3h0.5v0.5h-0.5zM153.9 199.9h0.5v0.5h-0.5zM153.6 199.3h0.5v0.5h-0.5zM152.9 199.9h0.5v0.5h-0.5zM152.4 197.3h0.5v0.5h-0.5zM153 195.6h0.5v0.5h-0.5zM148 196.8h0.5v0.5h-0.5zM152 195.6h0.5v0.5h-0.5zM151.4 194.8h0.5v0.5h-0.5zM150.5 196.7h0.5v0.5h-0.5zM152 198.5h0.5v0.5h-0.5zM151.7 198h0.5v0.5h-0.5zM152.8 195.9h0.5v0.5h-0.5zM149.3 194.5h0.5v0.5h-0.5zM151.4 195.6h0.5v0.5h-0.5zM155.1 196.8h0.5v0.5h-0.5zM152.5 195.6h0.5v0.5h-0.5zM152.8 194.8h0.5v0.5h-0.5zM153.2 197.7h0.5v0.5h-0.5zM151.2 194.3h0.5v0.5h-0.5zM154.3 196.7h0.5v0.5h-0.5zM154 193.1h0.5v0.5h-0.5zM150 199.6h0.5v0.5h-0.5zM154.5 197.9h0.5v0.5h-0.5zM153.3 198.6h0.5v0.5h-0.5zM151.3 196.9h0.5v0.5h-0.5zM150.1 193.6h0.5v0.5h-0.5zM152 198.3h0.5v0.5h-0.5zM152 194.6h0.5v0.5h-0.5zM153.1 197.5h0.5v0.5h-0.5zM152.9 196.7h0.5v0.5h-0.5zM151.4 198.7h0.5v0.5h-0.5zM153.9 195.4h0.5v0.5h-0.5zM150.1 198h0.5v0.5h-0.5zM152.3 197.1h0.5v0.5h-0.5zM150.3 198.2h0.5v0.5h-0.5zM152.1 197.3h0.5v0.5h-0.5zM152.4 196.1h0.5v0.5h-0.5zM152.4 197.3h0.5v0.5h-0.5zM152.9 198h0.5v0.5h-0.5zM149.9 194.7h0.5v0.5h-0.5zM151.4 198.9h0.5v0.5h-0.5zM150.8 198.6h0.5v0.5h-0.5zM153.4 199.1h0.5v0.5h-0.5zM155.2 198.2h0.5v0.5h-0.5zM152.3 199.3h0.5v0.5h-0.5zM152.4 199h0.5v0.5h-0.5zM151.6 199.4h0.5v0.5h-0.5zM152.3 193.4h0.5v0.5h-0.5zM153.4 197.1h0.5v0.5h-0.5zM150.5 195.7h0.5v0.5h-0.5zM151.4 198.8h0.5v0.5h-0.5zM152.3 196.9h0.5v0.5h-0.5zM151.8 195.1h0.5v0.5h-0.5zM150.8 195.6h0.5v0.5h-0.5zM151.5 194.5h0.5v0.5h-0.5zM151.2 198.5h0.5v0.5h-0.5zM152.5 197.1h0.5v0.5h-0.5zM152.3 196.6h0.5v0.5h-0.5zM150 197.8h0.5v0.5h-0.5zM155.2 199.1h0.5v0.5h-0.5zM152.8 201.9h0.5v0.5h-0.5zM150 197.1h0.5v0.5h-0.5zM151.3 196.1h0.5v0.5h-0.5zM149.3 195.7h0.5v0.5h-0.5zM152.4 194h0.5v0.5h-0.5zM151.5 195.8h0.5v0.5h-0.5zM150.3 197.4h0.5v0.5h-0.5zM154.3 198.6h0.5v0.5h-0.5zM153.3 198.9h0.5v0.5h-0.5zM151.7 197.9h0.5v0.5h-0.5zM153.8 196.8h0.5v0.5h-0.5zM151.6 194.1h0.5v0.5h-0.5zM149 194.2h0.5v0.5h-0.5zM153.1 198.1h0.5v0.5h-0.5zM152.2 199.5h0.5v0.5h-0.5zM149.1 198.4h0.5v0.5h-0.5zM151.9 198.4h0.5v0.5h-0.5zM153.9 196.1h0.5v0.5h-0.5zM150.5 197.1h0.5v0.5h-0.5zM151.7 195.7h0.5v0.5h-0.5zM151.6 195.4h0.5v0.5h-0.5zM152 196.2h0.5v0.5h-0.5zM154.4 195.9h0.5v0.5h-0.5zM152.7 197.3h0.5v0.5h-0.5zM154.2 195.9h0.5v0.5h-0.5zM151.1 199.8h0.5v0.5h-0.5zM150.8 195.7h0.5v0.5h-0.5zM151.2 194.7h0.5v0.5h-0.5zM153.6 200.4h0.5v0.5h-0.5zM151.6 195.3h0.5v0.5h-0.5zM149.8 197.3h0.5v0.5h-0.5zM151 197.5h0.5v0.5h-0.5zM148.2 194.6h0.5v0.5h-0.5zM152.7 198h0.5v0.5h-0.5zM147.5 195.7h0.5v0.5h-0.5zM152 196.9h0.5v0.5h-0.5zM151.3 195.8h0.5v0.5h-0.5zM152 197.9h0.5v0.5h-0.5zM147 194.9h0.5v0.5h-0.5zM153.2 197h0.5v0.5h-0.5zM153.6 195.8h0.5v0.5h-0.5zM154.7 199.8h0.5v0.5h-0.5zM151.2 201.8h0.5v0.5h-0.5zM154 200.7h0.5v0.5h-0.5zM150 195.9h0.5v0.5h-0.5zM152.5 199.1h0.5v0.5h-0.5zM151.9 194.4h0.5v0.5h-0.5zM153.6 197.2h0.5v0.5h-0.5zM152.5 196.5h0.5v0.5h-0.5zM151.6 194.2h0.5v0.5h-0.5zM152.8 196h0.5v0.5h-0.5zM149.1 196.5h0.5v0.5h-0.5zM151.7 198.6h0.5v0.5h-0.5zM153 195h0.5v0.5h-0.5zM151.5 196.7h0.5v0.5h-0.5zM151.9 194.9h0.5v0.5h-0.5zM151.9 198.7h0.5v0.5h-0.5zM153.7 200.3h0.5v0.5h-0.5zM152.9 192.5h0.5v0.5h-0.5zM151.4 195.6h0.5v0.5h-0.5zM147.4 198h0.5v0.5h-0.5zM153.2 197.4h0.5v0.5h-0.5zM152.3 198h0.5v0.5h-0.5zM151.5 199.3h0.5v0.5h-0.5zM154.5 199.5h0.5v0.5h-0.5zM151 197h0.5v0.5h-0.5zM153.3 198.8h0.5v0.5h-0.5zM150.8 198.2h0.5v0.5h-0.5zM152.9 198.4h0.5v0.5h-0.5zM151.2 196.5h0.5v0.5h-0.5zM148.9 195.6h0.5v0.5h-0.5zM151.1 196h0.5v0.5h-0.5zM151.4 196h0.5v0.5h-0.5zM151.9 197.1h0.5v0.5h-0.5zM150.9 196.2h0.5v0.5h-0.5zM151.7 197.7h0.5v0.5h-0.5zM152.5 196.4h0.5v0.5h-0.5zM150.6 193.2h0.5v0.5h-0.5zM149.9 196.8h0.5v0.5h-0.5zM150.4 199.3h0.5v0.5h-0.5zM151.6 196h0.5v0.5h-0.5zM151.6 195.7h0.5v0.5h-0.5zM150.9 196.6h0.5v0.5h-0.5zM149.6 196.2h0.5v0.5h-0.5zM151.7 195.1h0.5v0.5h-0.5zM153.3 198.1h0.5v0.5h-0.5zM153.4 196.2h0.5v0.5h-0.5zM149.9 193.8h0.5v0.5h-0.5zM149.4 192.3h0.5v0.5h-0.5zM154.2 196.9h0.5v0.5h-0.5zM152.1 195.9h0.5v0.5h-0.5zM151.6 199.7h0.5v0.5h-0.5zM149.2 193.9h0.5v0.5h-0.5zM152 195.2h0.5v0.5h-0.5zM152.8 199.7h0.5v0.5h-0.5zM153.1 198.8h0.5v0.5h-0.5zM151.6 198.6h0.5v0.5h-0.5zM150.6 194.1h0.5v0.5h-0.5zM151.4 196.2h0.5v0.5h-0.5zM153.6 195.7h0.5v0.5h-0.5zM153.5 196h0.5v0.5h-0.5zM149.9 192.9h0.5v0.5h-0.5zM151.7 194.1h0.5v0.5h-0.5zM152.1 197h0.5v0.5h-0.5zM151.2 192.9h0.5v0.5h-0.5zM151 197.3h0.5v0.5h-0.5zM149.1 197h0.5v0.5h-0.5zM151.8 195.8h0.5v0.5h-0.5zM152.1 198.2h0.5v0.5h-0.5zM151.8 195.3h0.5v0.5h-0.5zM153 196h0.5v0.5h-0.5zM152.3 198.9h0.5v0.5h-0.5zM153.8 200.6h0.5v0.5h-0.5zM153.3 197.7h0.5v0.5h-0.5zM151.5 197h0.5v0.5h-0.5zM152.6 202.8h0.5v0.5h-0.5zM152.8 195.7h0.5v0.5h-0.5zM154.1 194.7h0.5v0.5h-0.5zM153.3 195h0.5v0.5h-0.5zM150.2 195.2h0.5v0.5h-0.5zM151.4 194.1h0.5v0.5h-0.5zM152.7 197h0.5v0.5h-0.5zM153.8 195.7h0.5v0.5h-0.5zM149.1 197h0.5v0.5h-0.5zM151.5 198.5h0.5v0.5h-0.5zM148.3 193.1h0.5v0.5h-0.5zM151.9 200.6h0.5v0.5h-0.5zM149.9 192.5h0.5v0.5h-0.5zM151.1 199.2h0.5v0.5h-0.5zM154.2 195.2h0.5v0.5h-0.5zM150.9 193h0.5v0.5h-0.5zM150.5 194.5h0.5v0.5h-0.5zM152.4 199.2h0.5v0.5h-0.5zM155.4 197.6h0.5v0.5h-0.5zM153 197.7h0.5v0.5h-0.5zM152 200.5h0.5v0.5h-0.5zM152.9 200.2h0.5v0.5h-0.5zM152.3 198.6h0.5v0.5h-0.5zM152.6 196.9h0.5v0.5h-0.5zM150.8 195.6h0.5v0.5h-0.5zM151.8 196.1h0.5v0.5h-0.5zM151.3 195.3h0.5v0.5h-0.5zM153.1 196.9h0.5v0.5h-0.5zM151.6 196.3h0.5v0.5h-0.5zM153.8 196.6h0.5v0.5h-0.5zM153.9 196h0.5v0.5h-0.5zM154.1 198.9h0.5v0.5h-0.5zM151.1 197.4h0.5v0.5h-0.5zM153.5 195.7h0.5v0.5h-0.5zM151.5 197.3h0.5v0.5h-0.5zM151.5 196.1h0.5v0.5h-0.5zM151.8 197.4h0.5v0.5h-0.5zM153 200.1h0.5v0.5h-0.5zM151.3 202.2h0.5v0.5h-0.5zM151.3 200h0.5v0.5h-0.5zM151.6 194h0.5v0.5h-0.5zM151.1 195.9h0.5v0.5h-0.5zM153.4 193.6h0.5v0.5h-0.5zM150.9 196.2h0.5v0.5h-0.5zM152.8 198h0.5v0.5h-0.5zM153.1 197h0.5v0.5h-0.5zM151.5 198.9h0.5v0.5h-0.5zM154.4 198.6h0.5v0.5h-0.5zM152 195.3h0.5v0.5h-0.5zM155 198.8h0.5v0.5h-0.5zM152.7 194.2h0.5v0.5h-0.5zM152.7 201.8h0.5v0.5h-0.5zM151.6 196.3h0.5v0.5h-0.5zM154.1 197.4h0.5v0.5h-0.5zM153.1 201h0.5v0.5h-0.5zM150.1 194.5h0.5v0.5h-0.5zM152.8 197.4h0.5v0.5h-0.5zM151.9 196.5h0.5v0.5h-0.5zM152 197.6h0.5v0.5h-0.5zM151.1 196h0.5v0.5h-0.5zM152.2 194.9h0.5v0.5h-0.5zM152.5 192.9h0.5v0.5h-0.5zM152.8 197h0.5v0.5h-0.5zM150 198.6h0.5v0.5h-0.5zM150 200h0.5v0.5h-0.5zM150.7 198.7h0.5v0.5h-0.5zM151.7 199.8h0.5v0.5h-0.5zM151.5 198.6h0.5v0.5h-0.5zM151.3 193.1h0.5v0.5h-0.5zM152.4 197.9h0.5v0.5h-0.5zM152.4 200.2h0.5v0.5h-0.5zM150.7 193.7h0.5v0.5h-0.5zM152.2 195.7h0.5v0.5h-0.5zM151.7 196.7h0.5v0.5h-0.5zM150.6 198.4h0.5v0.5h-0.5zM151.6 200.1h0.5v0.5h-0.5zM152.2 199h0.5v0.5h-0.5zM151.4 195.4h0.5v0.5h-0.5zM151 194.8h0.5v0.5h-0.5zM152.5 197.3h0.5v0.5h-0.5zM150.2 193.3h0.5v0.5h-0.5zM150.5 192.8h0.5v0.5h-0.5zM150.5 193.4h0.5v0.5h-0.5zM152.9 195h0.5v0.5h-0.5zM150.9 196.2h0.5v0.5h-0.5zM151.9 197.6h0.5v0.5h-0.5zM152.9 198.5h0.5v0.5h-0.5zM151.3 199h0.5v0.5h-0.5zM152.4 195.7h0.5v0.5h-0.5zM154 195.5h0.5v0.5h-0.5zM152.5 199.5h0.5v0.5h-0.5zM152 197.5h0.5v0.5h-0.5zM152 198.1h0.5v0.5h-0.5zM152.1 197h0.5v0.5h-0.5zM152.9 193.6h0.5v0.5h-0.5zM152.2 196.4h0.5v0.5h-0.5zM154.7 198.5h0.5v0.5h-0.5zM150.8 197.7h0.5v0.5h-0.5zM151.2 194.3h0.5v0.5h-0.5zM151.4 197.6h0.5v0.5h-0.5zM153.6 199.5h0.5v0.5h-0.5zM152.1 196.6h0.5v0.5h-0.5zM152.1 199.2h0.5v0.5h-0.5zM151.6 198.9h0.5v0.5h-0.5zM150.6 196.3h0.5v0.5h-0.5zM153 198.6h0.5v0.5h-0.5zM152.1 196h0.5v0.5h-0.5zM149.1 194.9h0.5v0.5h-0.5zM150.5 195.5h0.5v0.5h-0.5zM154.2 196.3h0.5v0.5h-0.5zM153.1 197.3h0.5v0.5h-0.5zM150.2 196.4h0.5v0.5h-0.5zM152.9 195h0.5v0.5h-0.5zM150.1 195.4h0.5v0.5h-0.5zM152.9 196.1h0.5v0.5h-0.5zM152.4 197.9h0.5v0.5h-0.5zM151.8 197.7h0.5v0.5h-0.5zM153.7 197.2h0.5v0.5h-0.5zM152.3 195h0.5v0.5h-0.5zM150.7 196.2h0.5v0.5h-0.5zM153 196h0.5v0.5h-0.5zM149.7 197.7h0.5v0.5h-0.5zM155.3 193.4h0.5v0.5h-0.5zM150.2 196.4h0.5v0.5h-0.5zM152.5 195.3h0.5v0.5h-0.5zM152.3 199.1h0.5v0.5h-0.5zM151.4 198h0.5v0.5h-0.5zM152 195.1h0.5v0.5h-0.5zM150.9 195.3h0.5v0.5h-0.5zM153.8 199.8h0.5v0.5h-0.5zM152.2 194h0.5v0.5h-0.5zM151.1 195.8h0.5v0.5h-0.5zM149 195.6h0.5v0.5h-0.5zM152.2 194.5h0.5v0.5h-0.5zM151.2 195.7h0.5v0.5h-0.5zM154.5 199.1h0.5v0.5h-0.5zM152.9 197.4h0.5v0.5h-0.5zM149.9 197.8h0.5v0.5h-0.5zM150.8 192.8h0.5v0.5h-0.5zM152.9 196.6h0.5v0.5h-0.5zM151.8 197.8h0.5v0.5h-0.5zM151.5 197.4h0.5v0.5h-0.5zM153.7 197h0.5v0.5h-0.5zM151.3 196.6h0.5v0.5h-0.5zM152.8 196.4h0.5v0.5h-0.5zM151.9 195.6h0.5v0.5h-0.5zM151.7 197.8h0.5v0.5h-0.5zM150.6 196h0.5v0.5h-0.5zM149.7 194.6h0.5v0.5h-0.5zM151.9 197.9h0.5v0.5h-0.5zM150.3 196h0.5v0.5h-0.5zM150.4 196.9h0.5v0.5h-0.5zM152.2 197.8h0.5v0.5h-0.5zM151.5 194h0.5v0.5h-0.5zM151 194h0.5v0.5h-0.5zM150.8 196.3h0.5v0.5h-0.5zM153.4 196.2h0.5v0.5h-0.5zM150.7 196.7h0.5v0.5h-0.5zM148.8 199.3h0.5v0.5h-0.5zM149.5 197.8h0.5v0.5h-0.5zM153.2 199.2h0.5v0.5h-0.5zM151.7 198.1h0.5v0.5h-0.5z" fill="#111" fill-opacity="1.0"/>
<path d="M151.3 202.8h0.5v0.5h-0.5zM150.6 197.2h0.5v0.5h-0.5zM152.8 198.4h0.5v0.5h-0.5zM153.4 197.1h0.5v0.5h-0.5zM152.6 196.7h0.5v0.5h-0.5zM151.8 206.6h0.5v0.5h-0.5zM149.7 195.9h0.5v0.5h-0.5zM148.6 199.1h0.5v0.5h-0.5zM155.5 198.4h0.5v0.5h-0.5zM154 199.2h0.5v0.5h-0.5zM150.6 206.1h0.5v0.5h-0.5zM154.3 194h0.5v0.5h-0.5zM149.9 201.1h0.5v0.5h-0.5zM153.4 199.1h0.5v0.5h-0.5zM152.7 201.5h0.5v0.5h-0.5zM151.3 202.9h0.5v0.5h-0.5zM150.2 202.2h0.5v0.5h-0.5zM154 200.4h0.5v0.5h-0.5zM151.3 199.7h0.5v0.5h-0.5zM147.3 200.6h0.5v0.5h-0.5zM149 193.5h0.5v0.5h-0.5zM153.6 196.9h0.5v0.5h-0.5zM152.8 199.9h0.5v0.5h-0.5zM148.2 197h0.5v0.5h-0.5zM151.4 201.3h0.5v0.5h-0.5zM152.2 195.8h0.5v0.5h-0.5zM150.9 200.1h0.5v0.5h-0.5zM149.3 198.4h0.5v0.5h-0.5zM150.8 193.1h0.5v0.5h-0.5zM155.7 202.6h0.5v0.5h-0.5zM151 202.8h0.5v0.5h-0.5zM149.8 204.6h0.5v0.5h-0.5zM151.2 200.2h0.5v0.5h-0.5zM150.8 200.1h0.5v0.5h-0.5zM152.7 199.9h0.5v0.5h-0.5zM150.2 202.2h0.5v0.5h-0.5zM153.2 199.8h0.5v0.5h-0.5zM154.2 197.5h0.5v0.5h-0.5zM154.7 199.3h0.5v0.5h-0.5zM155.2 198.4h0.5v0.5h-0.5zM151.5 200.5h0.5v0.5h-0.5zM154.3 204.3h0.5v0.5h-0.5zM151 197.5h0.5v0.5h-0.5zM153.6 203.7h0.5v0.5h-0.5zM153.5 198.8h0.5v0.5h-0.5zM154.7 199.7h0.5v0.5h-0.5zM152.4 201.8h0.5v0.5h-0.5zM150.8 192.7h0.5v0.5h-0.5zM152.5 202.1h0.5v0.5h-0.5zM152.9 201.5h0.5v0.5h-0.5zM152.3 203.1h0.5v0.5h-0.5zM152.2 204.5h0.5v0.5h-0.5zM152.1 202.3h0.5v0.5h-0.5zM150.8 200.8h0.5v0.5h-0.5zM152.9 200.2h0.5v0.5h-0.5zM155.3 199.9h0.5v0.5h-0.5zM154.4 200.9h0.5v0.5h-0.5zM154.3 197h0.5v0.5h-0.5zM151.2 202.8h0.5v0.5h-0.5zM150.3 201h0.5v0.5h-0.5zM153.2 200.4h0.5v0.5h-0.5zM152.9 201.5h0.5v0.5h-0.5zM151.5 201.1h0.5v0.5h-0.5zM150.9 198.4h0.5v0.5h-0.5zM148.6 199.5h0.5v0.5h-0.5zM148.4 199.9h0.5v0.5h-0.5zM152.5 196.4h0.5v0.5h-0.5zM152.2 200.7h0.5v0.5h-0.5zM151.3 196.9h0.5v0.5h-0.5zM151.8 201.1h0.5v0.5h-0.5zM154 205.9h0.5v0.5h-0.5zM147.8 200.9h0.5v0.5h-0.5zM152.9 197.8h0.5v0.5h-0.5zM152.7 206.4h0.5v0.5h-0.5zM152.2 204.1h0.5v0.5h-0.5zM154.3 198.4h0.5v0.5h-0.5zM147.1 203.5h0.5v0.5h-0.5zM155.3 194.2h0.5v0.5h-0.5zM151.6 197.6h0.5v0.5h-0.5zM152.4 200h0.5v0.5h-0.5zM154.4 197.9h0.5v0.5h-0.5zM156.1 194.4h0.5v0.5h-0.5zM152.5 208.3h0.5v0.5h-0.5zM151.8 201.8h0.5v0.5h-0.5zM153.9 198.7h0.5v0.5h-0.5zM147.9 200.5h0.5v0.5h-0.5zM153.6 193.4h0.5v0.5h-0.5zM151 201.6h0.5v0.5h-0.5zM146.9 199.2h0.5v0.5h-0.5zM148.6 195.6h0.5v0.5h-0.5zM152.9 203.4h0.5v0.5h-0.5zM154.5 197.7h0.5v0.5h-0.5zM153.1 194.2h0.5v0.5h-0.5zM148.9 201.5h0.5v0.5h-0.5zM151.2 196.6h0.5v0.5h-0.5zM148 199.1h0.5v0.5h-0.5zM156.8 193.4h0.5v0.5h-0.5zM149.8 203.4h0.5v0.5h-0.5zM147.9 197.8h0.5v0.5h-0.5zM152.1 203.4h0.5v0.5h-0.5zM151.8 205.6h0.5v0.5h-0.5zM151.9 199.4h0.5v0.5h-0.5zM152.9 200.9h0.5v0.5h-0.5zM148.8 196.8h0.5v0.5h-0.5zM151.5 200.9h0.5v0.5h-0.5zM149.4 197.5h0.5v0.5h-0.5zM150.4 200.9h0.5v0.5h-0.5zM151.1 201.7h0.5v0.5h-0.5zM152.8 196.9h0.5v0.5h-0.5zM151.4 195.9h0.5v0.5h-0.5zM152.2 202.4h0.5v0.5h-0.5zM149.9 194.2h0.5v0.5h-0.5zM153.1 198.9h0.5v0.5h-0.5zM151.9 201.3h0.5v0.5h-0.5zM152.8 202.7h0.5v0.5h-0.5zM151 192.8h0.5v0.5h-0.5zM151 198.8h0.5v0.5h-0.5zM151.1 201h0.5v0.5h-0.5zM151.5 203.9h0.5v0.5h-0.5z" fill="#777" fill-opacity="1.0"/>
<line x1="159.5" y1="199.8" x2="188" y2="199.8" stroke="#000" stroke-width="1.1"/>
<path d="M192,199.8 L187.5,197.9 L187.5,201.7 Z" fill="#000"/>
<rect x="190.5" y="190" width="40" height="40.2" stroke="#8a8a8a" stroke-width="0.7" fill="none"/>
<line x1="190.5" y1="190" x2="190.5" y2="230.2" stroke="#333" stroke-width="0.8"/>
<line x1="190.5" y1="230.2" x2="230.5" y2="230.2" stroke="#333" stroke-width="0.8"/>
<line x1="189.3" y1="195.5" x2="190.5" y2="195.5" stroke="#333" stroke-width="0.7"/>
<text font-size="3.2" text-anchor="end" style="font-family:'Liberation Serif',serif;font-weight:bold" fill="#555" transform="translate(189.2,195.8) rotate(40)">10<tspan font-size="2.2" dy="-1.2">4</tspan></text>
<line x1="189.3" y1="205.6" x2="190.5" y2="205.6" stroke="#333" stroke-width="0.7"/>
<text font-size="3.2" text-anchor="end" style="font-family:'Liberation Serif',serif;font-weight:bold" fill="#555" transform="translate(189.2,205.9) rotate(40)">10<tspan font-size="2.2" dy="-1.2">3</tspan></text>
<line x1="189.3" y1="215.7" x2="190.5" y2="215.7" stroke="#333" stroke-width="0.7"/>
<text font-size="3.2" text-anchor="end" style="font-family:'Liberation Serif',serif;font-weight:bold" fill="#555" transform="translate(189.2,216) rotate(40)">10<tspan font-size="2.2" dy="-1.2">2</tspan></text>
<line x1="189.3" y1="225.8" x2="190.5" y2="225.8" stroke="#333" stroke-width="0.7"/>
<text font-size="3.2" text-anchor="end" style="font-family:'Liberation Serif',serif;font-weight:bold" fill="#555" transform="translate(189.2,226.1) rotate(40)">10<tspan font-size="2.2" dy="-1.2">1</tspan></text>
<line x1="195.5" y1="230.2" x2="195.5" y2="231.4" stroke="#333" stroke-width="0.7"/>
<text font-size="3.2" text-anchor="middle" style="font-family:'Liberation Serif',serif;font-weight:bold" fill="#555" transform="translate(195.5,234.6) rotate(40)">10<tspan font-size="2.2" dy="-1.2">1</tspan></text>
<line x1="205.6" y1="230.2" x2="205.6" y2="231.4" stroke="#333" stroke-width="0.7"/>
<text font-size="3.2" text-anchor="middle" style="font-family:'Liberation Serif',serif;font-weight:bold" fill="#555" transform="translate(205.6,234.6) rotate(40)">10<tspan font-size="2.2" dy="-1.2">2</tspan></text>
<line x1="215.7" y1="230.2" x2="215.7" y2="231.4" stroke="#333" stroke-width="0.7"/>
<text font-size="3.2" text-anchor="middle" style="font-family:'Liberation Serif',serif;font-weight:bold" fill="#555" transform="translate(215.7,234.6) rotate(40)">10<tspan font-size="2.2" dy="-1.2">3</tspan></text>
<line x1="225.8" y1="230.2" x2="225.8" y2="231.4" stroke="#333" stroke-width="0.7"/>
<text font-size="3.2" text-anchor="middle" style="font-family:'Liberation Serif',serif;font-weight:bold" fill="#555" transform="translate(225.8,234.6) rotate(40)">10<tspan font-size="2.2" dy="-1.2">4</tspan></text>
<rect x="204.5" y="192.3" width="21.9" height="37.2" stroke="#666" stroke-width="0.7" fill="none"/>
<line x1="204.5" y1="204" x2="226.4" y2="204" stroke="#555" stroke-width="0.9"/>
<text x="205.5" y="196" font-size="2.6" text-anchor="start" style="font-family:'Liberation Serif',serif" fill="#444">A1</text>
<text x="205.5" y="228.4" font-size="2.6" text-anchor="start" style="font-family:'Liberation Serif',serif" fill="#444">A4</text>
<text x="219.6" y="200" font-size="6" text-anchor="middle" style="font-family:'Liberation Serif',serif" fill="#222">1</text>
<text x="219.6" y="226.9" font-size="6" text-anchor="middle" style="font-family:'Liberation Serif',serif" fill="#222">96</text>
<path d="M209.6 207.6h0.5v0.5h-0.5zM210 213.1h0.5v0.5h-0.5zM209.1 205h0.5v0.5h-0.5zM209.9 209.6h0.5v0.5h-0.5zM210.5 207.1h0.5v0.5h-0.5zM210.2 207h0.5v0.5h-0.5zM213.1 208.6h0.5v0.5h-0.5zM211.1 210.1h0.5v0.5h-0.5zM210 211.4h0.5v0.5h-0.5zM211.9 206.1h0.5v0.5h-0.5zM208.7 210h0.5v0.5h-0.5zM212.1 204.8h0.5v0.5h-0.5zM212.8 205.6h0.5v0.5h-0.5zM211.6 207.1h0.5v0.5h-0.5zM210 206h0.5v0.5h-0.5zM211.5 209.2h0.5v0.5h-0.5zM211.7 206.9h0.5v0.5h-0.5zM209.3 213.1h0.5v0.5h-0.5zM213 207.1h0.5v0.5h-0.5zM208.8 211.5h0.5v0.5h-0.5zM210.7 207.7h0.5v0.5h-0.5zM211.7 208.5h0.5v0.5h-0.5zM210.7 212.7h0.5v0.5h-0.5zM207.7 209.3h0.5v0.5h-0.5zM209.1 207.8h0.5v0.5h-0.5zM210.3 208.3h0.5v0.5h-0.5zM207 209.4h0.5v0.5h-0.5zM213.9 206.5h0.5v0.5h-0.5zM211.8 209.2h0.5v0.5h-0.5zM210.9 206.3h0.5v0.5h-0.5zM211.4 208.3h0.5v0.5h-0.5zM212.6 209.8h0.5v0.5h-0.5zM212.7 208.9h0.5v0.5h-0.5zM210.8 206h0.5v0.5h-0.5zM214.2 211.1h0.5v0.5h-0.5zM210.6 206.6h0.5v0.5h-0.5zM211.3 211.1h0.5v0.5h-0.5zM211.3 210h0.5v0.5h-0.5zM210.9 208.5h0.5v0.5h-0.5zM208.6 207.9h0.5v0.5h-0.5zM210.6 207.4h0.5v0.5h-0.5zM210.1 208.4h0.5v0.5h-0.5zM209.6 207.1h0.5v0.5h-0.5zM208.6 213.6h0.5v0.5h-0.5zM209.7 206.5h0.5v0.5h-0.5zM212.9 210.2h0.5v0.5h-0.5zM209.9 209h0.5v0.5h-0.5zM211 209.1h0.5v0.5h-0.5zM209.5 207.6h0.5v0.5h-0.5zM205.9 207.3h0.5v0.5h-0.5zM212.1 208h0.5v0.5h-0.5zM210.8 209.1h0.5v0.5h-0.5zM208.6 208.2h0.5v0.5h-0.5zM211.8 207.1h0.5v0.5h-0.5zM212 212.8h0.5v0.5h-0.5zM212.1 211.3h0.5v0.5h-0.5zM211.1 208.5h0.5v0.5h-0.5zM211.5 209.3h0.5v0.5h-0.5zM208.6 209.5h0.5v0.5h-0.5zM212 206.5h0.5v0.5h-0.5zM209.1 206.3h0.5v0.5h-0.5zM209.6 209h0.5v0.5h-0.5zM211.7 207.7h0.5v0.5h-0.5zM209.9 205h0.5v0.5h-0.5zM209.7 208.5h0.5v0.5h-0.5zM210.7 216.7h0.5v0.5h-0.5zM209.2 206.2h0.5v0.5h-0.5zM208.8 206.9h0.5v0.5h-0.5zM210.1 210.2h0.5v0.5h-0.5zM207.6 210h0.5v0.5h-0.5zM211.5 206.2h0.5v0.5h-0.5zM209.5 208.1h0.5v0.5h-0.5zM211.3 207.2h0.5v0.5h-0.5zM210.3 207.6h0.5v0.5h-0.5zM208.9 208.3h0.5v0.5h-0.5zM211.4 207.7h0.5v0.5h-0.5zM208.8 207.6h0.5v0.5h-0.5zM210.3 208.4h0.5v0.5h-0.5zM209.9 209.7h0.5v0.5h-0.5zM212.1 209.7h0.5v0.5h-0.5zM210.8 210.7h0.5v0.5h-0.5zM210.4 207.2h0.5v0.5h-0.5zM208.4 207.7h0.5v0.5h-0.5zM212.3 205.1h0.5v0.5h-0.5zM210.9 212.3h0.5v0.5h-0.5zM210.6 204.6h0.5v0.5h-0.5zM210.9 207.2h0.5v0.5h-0.5zM211.7 206.3h0.5v0.5h-0.5zM207.9 206.4h0.5v0.5h-0.5zM211.4 210.2h0.5v0.5h-0.5zM210.9 207.7h0.5v0.5h-0.5zM211.5 207.1h0.5v0.5h-0.5zM209.8 208.2h0.5v0.5h-0.5zM212.1 206.3h0.5v0.5h-0.5zM211.2 206h0.5v0.5h-0.5zM209.4 208h0.5v0.5h-0.5zM208.5 205.4h0.5v0.5h-0.5zM208.7 206.1h0.5v0.5h-0.5zM209.1 213.6h0.5v0.5h-0.5zM211.4 207.8h0.5v0.5h-0.5zM211.1 206h0.5v0.5h-0.5zM212.1 206.6h0.5v0.5h-0.5zM208.5 206h0.5v0.5h-0.5zM211.6 206.3h0.5v0.5h-0.5zM211.5 206.2h0.5v0.5h-0.5zM210.1 206.2h0.5v0.5h-0.5zM209.7 205.9h0.5v0.5h-0.5zM212.7 207.5h0.5v0.5h-0.5zM207.6 211.9h0.5v0.5h-0.5zM212.4 210.5h0.5v0.5h-0.5zM210.3 207.2h0.5v0.5h-0.5zM209.8 207.9h0.5v0.5h-0.5zM211.2 207.6h0.5v0.5h-0.5zM209.3 205.2h0.5v0.5h-0.5zM213 211.9h0.5v0.5h-0.5zM208.6 206h0.5v0.5h-0.5zM210.4 209.1h0.5v0.5h-0.5zM210.3 208.2h0.5v0.5h-0.5zM211 210.5h0.5v0.5h-0.5zM208.5 210.4h0.5v0.5h-0.5zM211.1 209h0.5v0.5h-0.5zM208.2 207h0.5v0.5h-0.5zM210.1 209.2h0.5v0.5h-0.5zM211.5 209.3h0.5v0.5h-0.5zM208.6 210.8h0.5v0.5h-0.5zM210.6 210h0.5v0.5h-0.5zM210.5 205.8h0.5v0.5h-0.5zM214.4 209.3h0.5v0.5h-0.5zM211.6 206.4h0.5v0.5h-0.5zM210.2 210.4h0.5v0.5h-0.5zM211.2 212h0.5v0.5h-0.5zM212.3 204.9h0.5v0.5h-0.5zM208.2 210.5h0.5v0.5h-0.5zM211.4 207h0.5v0.5h-0.5zM210 206.2h0.5v0.5h-0.5zM213.2 207.2h0.5v0.5h-0.5zM208.4 209.9h0.5v0.5h-0.5zM210.4 208.5h0.5v0.5h-0.5zM209.9 207.5h0.5v0.5h-0.5zM207.7 209h0.5v0.5h-0.5zM209.5 206.6h0.5v0.5h-0.5zM211 210.8h0.5v0.5h-0.5zM207.3 207.3h0.5v0.5h-0.5zM211.3 210.2h0.5v0.5h-0.5zM209.1 208.4h0.5v0.5h-0.5zM211.1 210h0.5v0.5h-0.5zM209.6 207.1h0.5v0.5h-0.5zM209.7 210.5h0.5v0.5h-0.5zM212.1 206.5h0.5v0.5h-0.5zM210.3 208.2h0.5v0.5h-0.5zM209.1 207.3h0.5v0.5h-0.5zM211.8 209.6h0.5v0.5h-0.5zM209.5 206h0.5v0.5h-0.5zM210.9 207.9h0.5v0.5h-0.5zM208.5 207h0.5v0.5h-0.5zM209.5 206.9h0.5v0.5h-0.5zM209.2 211h0.5v0.5h-0.5zM209 209.5h0.5v0.5h-0.5zM210.8 211.2h0.5v0.5h-0.5zM210.4 207.6h0.5v0.5h-0.5zM214.1 207.1h0.5v0.5h-0.5zM210 204.8h0.5v0.5h-0.5zM210.3 211.6h0.5v0.5h-0.5zM209.3 208.7h0.5v0.5h-0.5zM212 210h0.5v0.5h-0.5zM211.1 209h0.5v0.5h-0.5zM210 206.6h0.5v0.5h-0.5zM209.7 206.1h0.5v0.5h-0.5zM208.1 205.9h0.5v0.5h-0.5zM209.3 210.7h0.5v0.5h-0.5zM207.5 206.1h0.5v0.5h-0.5zM208.7 205.2h0.5v0.5h-0.5zM210.2 208.8h0.5v0.5h-0.5zM209.5 206.9h0.5v0.5h-0.5zM211.5 207.3h0.5v0.5h-0.5zM211.6 206.2h0.5v0.5h-0.5zM211.2 210.8h0.5v0.5h-0.5zM208.4 215h0.5v0.5h-0.5zM210 206.8h0.5v0.5h-0.5zM210.2 208.8h0.5v0.5h-0.5zM208.7 207.7h0.5v0.5h-0.5zM209.6 211.2h0.5v0.5h-0.5zM207.9 209.2h0.5v0.5h-0.5zM210 205.8h0.5v0.5h-0.5zM210.7 207h0.5v0.5h-0.5zM210.5 208.2h0.5v0.5h-0.5zM212.3 206.6h0.5v0.5h-0.5zM213.2 210.6h0.5v0.5h-0.5zM212.8 208.1h0.5v0.5h-0.5zM210.9 205.1h0.5v0.5h-0.5zM212.5 204.8h0.5v0.5h-0.5zM209.3 207.6h0.5v0.5h-0.5zM210.8 208.5h0.5v0.5h-0.5zM208.7 206.8h0.5v0.5h-0.5zM211.2 210.6h0.5v0.5h-0.5zM211.6 208.7h0.5v0.5h-0.5zM210.1 206.3h0.5v0.5h-0.5zM209.7 207.4h0.5v0.5h-0.5zM211.3 206.4h0.5v0.5h-0.5zM213.5 205.2h0.5v0.5h-0.5zM211.7 207.1h0.5v0.5h-0.5zM210.3 206.7h0.5v0.5h-0.5zM212.8 206.9h0.5v0.5h-0.5zM211.3 207.9h0.5v0.5h-0.5zM211.6 209.1h0.5v0.5h-0.5zM212.9 205.8h0.5v0.5h-0.5zM209.2 211.8h0.5v0.5h-0.5zM212.4 207.8h0.5v0.5h-0.5zM210 208.3h0.5v0.5h-0.5zM212.4 205.8h0.5v0.5h-0.5zM212.6 207.5h0.5v0.5h-0.5zM209.9 206.7h0.5v0.5h-0.5zM207.3 208.4h0.5v0.5h-0.5zM208.5 206.3h0.5v0.5h-0.5zM209.1 208.2h0.5v0.5h-0.5zM211.6 207.7h0.5v0.5h-0.5zM210.8 208.6h0.5v0.5h-0.5zM212.9 209.1h0.5v0.5h-0.5zM212.8 207.5h0.5v0.5h-0.5zM211 206h0.5v0.5h-0.5zM211.4 205.5h0.5v0.5h-0.5zM211.2 206.1h0.5v0.5h-0.5zM209.9 210.6h0.5v0.5h-0.5zM210.7 209.6h0.5v0.5h-0.5zM212.7 207.2h0.5v0.5h-0.5zM209.5 210h0.5v0.5h-0.5zM208.8 205.8h0.5v0.5h-0.5zM212.2 205.9h0.5v0.5h-0.5zM212.2 206.9h0.5v0.5h-0.5zM210.2 207.8h0.5v0.5h-0.5zM209.7 210.3h0.5v0.5h-0.5zM212.1 207.8h0.5v0.5h-0.5zM211.4 209h0.5v0.5h-0.5zM212 209.9h0.5v0.5h-0.5zM210 207.7h0.5v0.5h-0.5zM210 210.7h0.5v0.5h-0.5zM208.8 209.1h0.5v0.5h-0.5zM212.4 209h0.5v0.5h-0.5zM209.8 206.5h0.5v0.5h-0.5zM207.3 205.1h0.5v0.5h-0.5zM212.1 205.3h0.5v0.5h-0.5zM208 207h0.5v0.5h-0.5zM208.2 208.8h0.5v0.5h-0.5zM209.2 210h0.5v0.5h-0.5zM209.3 206.1h0.5v0.5h-0.5zM209.2 210.7h0.5v0.5h-0.5zM209 208.5h0.5v0.5h-0.5zM209.6 209.1h0.5v0.5h-0.5zM211.2 211.1h0.5v0.5h-0.5zM208.4 206.9h0.5v0.5h-0.5zM209.7 205.4h0.5v0.5h-0.5zM211.9 207.8h0.5v0.5h-0.5zM208.4 207.1h0.5v0.5h-0.5zM212.5 205.9h0.5v0.5h-0.5zM209.7 205.6h0.5v0.5h-0.5zM210.7 206.3h0.5v0.5h-0.5zM211.8 205.6h0.5v0.5h-0.5zM208.3 208.7h0.5v0.5h-0.5zM205.7 205.3h0.5v0.5h-0.5zM210.9 208.2h0.5v0.5h-0.5zM209.6 206.6h0.5v0.5h-0.5zM211.3 216.8h0.5v0.5h-0.5zM209.3 207.2h0.5v0.5h-0.5zM209.8 209h0.5v0.5h-0.5zM210.5 209h0.5v0.5h-0.5zM212.9 207h0.5v0.5h-0.5zM210 208.6h0.5v0.5h-0.5zM213.6 206.8h0.5v0.5h-0.5zM213 210.5h0.5v0.5h-0.5zM206.4 205.2h0.5v0.5h-0.5zM209 208.6h0.5v0.5h-0.5zM212.5 207.8h0.5v0.5h-0.5zM210.7 213h0.5v0.5h-0.5zM211 212.9h0.5v0.5h-0.5zM209.1 211.7h0.5v0.5h-0.5zM209.2 206.5h0.5v0.5h-0.5zM210.4 209.5h0.5v0.5h-0.5zM211.5 208.9h0.5v0.5h-0.5zM209.4 212h0.5v0.5h-0.5zM212.3 207.7h0.5v0.5h-0.5zM209.6 207.5h0.5v0.5h-0.5zM210.1 205.9h0.5v0.5h-0.5zM210.5 206h0.5v0.5h-0.5zM211.4 206h0.5v0.5h-0.5zM211.2 208.4h0.5v0.5h-0.5zM210.7 208.9h0.5v0.5h-0.5zM208.9 214h0.5v0.5h-0.5zM209.4 209.4h0.5v0.5h-0.5zM210.5 206.6h0.5v0.5h-0.5zM213.1 210.3h0.5v0.5h-0.5zM210.1 209h0.5v0.5h-0.5zM211.5 211.5h0.5v0.5h-0.5zM212 207.2h0.5v0.5h-0.5zM210.1 204.8h0.5v0.5h-0.5zM210.9 209.8h0.5v0.5h-0.5zM209.9 209.3h0.5v0.5h-0.5zM210.7 206.5h0.5v0.5h-0.5zM208.7 210.4h0.5v0.5h-0.5zM214.3 209h0.5v0.5h-0.5zM208.9 205.1h0.5v0.5h-0.5zM210.9 209.2h0.5v0.5h-0.5zM213.3 208h0.5v0.5h-0.5zM210.7 208.6h0.5v0.5h-0.5zM209.9 206.9h0.5v0.5h-0.5zM210.3 209h0.5v0.5h-0.5zM208 207.2h0.5v0.5h-0.5zM212.8 208.6h0.5v0.5h-0.5zM211.5 209.4h0.5v0.5h-0.5zM210.8 208.5h0.5v0.5h-0.5zM209.3 207.1h0.5v0.5h-0.5zM213.3 204.6h0.5v0.5h-0.5zM210.2 204.5h0.5v0.5h-0.5zM209.7 205.7h0.5v0.5h-0.5zM208.6 208.2h0.5v0.5h-0.5zM209.1 208.9h0.5v0.5h-0.5zM210.3 208.6h0.5v0.5h-0.5zM210.8 210.6h0.5v0.5h-0.5zM212.7 205.3h0.5v0.5h-0.5zM210.3 208.4h0.5v0.5h-0.5zM209.2 207.9h0.5v0.5h-0.5zM208 206.5h0.5v0.5h-0.5zM207 209.9h0.5v0.5h-0.5zM211.3 207.5h0.5v0.5h-0.5zM210.2 208.8h0.5v0.5h-0.5zM207.9 205h0.5v0.5h-0.5zM211.9 212.6h0.5v0.5h-0.5zM211.5 207.5h0.5v0.5h-0.5zM208.9 206.6h0.5v0.5h-0.5zM210.1 208.7h0.5v0.5h-0.5zM210.1 213.8h0.5v0.5h-0.5zM208.7 207.6h0.5v0.5h-0.5zM212 208.6h0.5v0.5h-0.5zM212.5 209.1h0.5v0.5h-0.5zM214.3 209.6h0.5v0.5h-0.5zM211.2 211.4h0.5v0.5h-0.5zM209.8 206.3h0.5v0.5h-0.5zM209 208.2h0.5v0.5h-0.5zM211.2 210h0.5v0.5h-0.5zM212.7 209.2h0.5v0.5h-0.5zM212.3 207h0.5v0.5h-0.5zM209 209.4h0.5v0.5h-0.5zM212 211h0.5v0.5h-0.5zM210.2 206.5h0.5v0.5h-0.5zM209.9 208.5h0.5v0.5h-0.5zM210.4 207.2h0.5v0.5h-0.5zM210.9 206.9h0.5v0.5h-0.5zM211 206.1h0.5v0.5h-0.5zM208.2 206.9h0.5v0.5h-0.5zM213.3 205.6h0.5v0.5h-0.5zM211.9 211h0.5v0.5h-0.5zM209.7 208.3h0.5v0.5h-0.5zM207.1 209h0.5v0.5h-0.5zM212.8 208.1h0.5v0.5h-0.5zM207.5 206.2h0.5v0.5h-0.5zM209.4 207.9h0.5v0.5h-0.5zM210.9 206.6h0.5v0.5h-0.5zM210 205.6h0.5v0.5h-0.5zM211.4 208.1h0.5v0.5h-0.5zM211 206.4h0.5v0.5h-0.5zM211.2 206.9h0.5v0.5h-0.5zM210.9 207.2h0.5v0.5h-0.5zM209.5 204.9h0.5v0.5h-0.5zM211.2 215.7h0.5v0.5h-0.5z" fill="#111" fill-opacity="1.0"/>
<path d="M206.9 206.4h0.5v0.5h-0.5zM212 223.1h0.5v0.5h-0.5zM210.7 207.4h0.5v0.5h-0.5zM211.8 212.3h0.5v0.5h-0.5zM212.4 213.5h0.5v0.5h-0.5zM210.2 205.6h0.5v0.5h-0.5zM212.3 209.7h0.5v0.5h-0.5zM211.4 217.4h0.5v0.5h-0.5zM210.7 220.8h0.5v0.5h-0.5zM209.5 218.1h0.5v0.5h-0.5zM209.7 217.9h0.5v0.5h-0.5zM209.6 210.3h0.5v0.5h-0.5zM211.2 208.4h0.5v0.5h-0.5zM211.4 220.9h0.5v0.5h-0.5zM213.4 208.4h0.5v0.5h-0.5zM211.4 217.7h0.5v0.5h-0.5zM210.2 216.6h0.5v0.5h-0.5zM211.4 205.8h0.5v0.5h-0.5zM214 212h0.5v0.5h-0.5zM213.4 204.6h0.5v0.5h-0.5zM211.7 210.9h0.5v0.5h-0.5zM209.5 212.8h0.5v0.5h-0.5zM211.1 206h0.5v0.5h-0.5zM214.4 211.9h0.5v0.5h-0.5zM210.1 215h0.5v0.5h-0.5zM211.9 220.2h0.5v0.5h-0.5zM211.8 211.9h0.5v0.5h-0.5zM218.7 204.6h0.5v0.5h-0.5zM208 209.6h0.5v0.5h-0.5zM217.1 205.6h0.5v0.5h-0.5zM209.5 212.6h0.5v0.5h-0.5zM208.5 209.5h0.5v0.5h-0.5zM210.2 209.3h0.5v0.5h-0.5zM209.7 210.3h0.5v0.5h-0.5zM206.5 208.5h0.5v0.5h-0.5zM209.7 205h0.5v0.5h-0.5zM214.2 222.6h0.5v0.5h-0.5zM213 206h0.5v0.5h-0.5zM214.6 213.9h0.5v0.5h-0.5zM209 214.5h0.5v0.5h-0.5zM209.6 214.3h0.5v0.5h-0.5zM213.3 217.7h0.5v0.5h-0.5zM208.4 210.3h0.5v0.5h-0.5zM212 215h0.5v0.5h-0.5zM207.5 207.8h0.5v0.5h-0.5zM208.3 219h0.5v0.5h-0.5zM209.3 208.7h0.5v0.5h-0.5zM213.5 217h0.5v0.5h-0.5zM209.4 208.6h0.5v0.5h-0.5zM209.6 222.4h0.5v0.5h-0.5zM210.6 217.8h0.5v0.5h-0.5zM210.5 210.7h0.5v0.5h-0.5zM212.3 213.6h0.5v0.5h-0.5zM212.3 212.9h0.5v0.5h-0.5zM212.5 210.7h0.5v0.5h-0.5zM214.5 216.9h0.5v0.5h-0.5zM210.8 209.3h0.5v0.5h-0.5zM212.9 209.2h0.5v0.5h-0.5zM208 212.6h0.5v0.5h-0.5zM207.9 208.3h0.5v0.5h-0.5zM215.5 215.7h0.5v0.5h-0.5zM209.9 210.6h0.5v0.5h-0.5zM209.4 210.9h0.5v0.5h-0.5zM207.4 215h0.5v0.5h-0.5zM211 207.4h0.5v0.5h-0.5zM209.5 226.3h0.5v0.5h-0.5zM209.9 208.2h0.5v0.5h-0.5zM209.5 208.1h0.5v0.5h-0.5zM214.3 215h0.5v0.5h-0.5zM212 213.1h0.5v0.5h-0.5zM214.8 215.2h0.5v0.5h-0.5zM211.5 212.6h0.5v0.5h-0.5zM211.5 211.1h0.5v0.5h-0.5zM212.4 211.3h0.5v0.5h-0.5zM213.4 212.8h0.5v0.5h-0.5z" fill="#888" fill-opacity="1.0"/>
<text x="2" y="257.3" font-size="6.75" text-anchor="start" style="font-family:'Liberation Serif',serif;font-weight:bold" fill="#000" stroke="#000" stroke-width="0.25" >CD25<tspan font-size="4" dy="-2.5">-</tspan><tspan dy="2.5"> T</tspan><tspan font-size="4.6" dy="1.8">EM</tspan></text>
<text x="2" y="265.3" font-size="6.75" text-anchor="start" style="font-family:'Liberation Serif',serif;font-weight:bold" fill="#000" stroke="#000" stroke-width="0.25" >(B)</text>
<rect x="69.2" y="238.2" width="39.7" height="41" stroke="#8a8a8a" stroke-width="0.7" fill="none"/>
<line x1="69.2" y1="238.2" x2="69.2" y2="279.2" stroke="#333" stroke-width="0.8"/>
<line x1="69.2" y1="279.2" x2="108.9" y2="279.2" stroke="#333" stroke-width="0.8"/>
<line x1="68" y1="243.7" x2="69.2" y2="243.7" stroke="#333" stroke-width="0.7"/>
<text font-size="3.2" text-anchor="end" style="font-family:'Liberation Serif',serif;font-weight:bold" fill="#555" transform="translate(67.9,244) rotate(40)">10<tspan font-size="2.2" dy="-1.2">4</tspan></text>
<line x1="68" y1="253.8" x2="69.2" y2="253.8" stroke="#333" stroke-width="0.7"/>
<text font-size="3.2" text-anchor="end" style="font-family:'Liberation Serif',serif;font-weight:bold" fill="#555" transform="translate(67.9,254.1) rotate(40)">10<tspan font-size="2.2" dy="-1.2">3</tspan></text>
<line x1="68" y1="263.9" x2="69.2" y2="263.9" stroke="#333" stroke-width="0.7"/>
<text font-size="3.2" text-anchor="end" style="font-family:'Liberation Serif',serif;font-weight:bold" fill="#555" transform="translate(67.9,264.2) rotate(40)">10<tspan font-size="2.2" dy="-1.2">2</tspan></text>
<line x1="68" y1="274" x2="69.2" y2="274" stroke="#333" stroke-width="0.7"/>
<text font-size="3.2" text-anchor="end" style="font-family:'Liberation Serif',serif;font-weight:bold" fill="#555" transform="translate(67.9,274.3) rotate(40)">10<tspan font-size="2.2" dy="-1.2">1</tspan></text>
<line x1="74.2" y1="279.2" x2="74.2" y2="280.4" stroke="#333" stroke-width="0.7"/>
<text font-size="3.2" text-anchor="middle" style="font-family:'Liberation Serif',serif;font-weight:bold" fill="#555" transform="translate(74.2,283.6) rotate(40)">10<tspan font-size="2.2" dy="-1.2">1</tspan></text>
<line x1="84.3" y1="279.2" x2="84.3" y2="280.4" stroke="#333" stroke-width="0.7"/>
<text font-size="3.2" text-anchor="middle" style="font-family:'Liberation Serif',serif;font-weight:bold" fill="#555" transform="translate(84.3,283.6) rotate(40)">10<tspan font-size="2.2" dy="-1.2">2</tspan></text>
<line x1="94.4" y1="279.2" x2="94.4" y2="280.4" stroke="#333" stroke-width="0.7"/>
<text font-size="3.2" text-anchor="middle" style="font-family:'Liberation Serif',serif;font-weight:bold" fill="#555" transform="translate(94.4,283.6) rotate(40)">10<tspan font-size="2.2" dy="-1.2">3</tspan></text>
<line x1="104.5" y1="279.2" x2="104.5" y2="280.4" stroke="#333" stroke-width="0.7"/>
<text font-size="3.2" text-anchor="middle" style="font-family:'Liberation Serif',serif;font-weight:bold" fill="#555" transform="translate(104.5,283.6) rotate(40)">10<tspan font-size="2.2" dy="-1.2">4</tspan></text>
<rect x="93.5" y="250.5" width="13" height="14" stroke="#777" stroke-width="0.6" fill="none"/>
<rect x="93.5" y="266.5" width="13" height="12.1" stroke="#777" stroke-width="0.6" fill="none"/>
<text x="100" y="256.2" font-size="6" text-anchor="middle" style="font-family:'Liberation Serif',serif" fill="#222">0.4</text>
<path d="M99.7 275.1h0.5v0.5h-0.5zM100.2 271.8h0.5v0.5h-0.5zM99.5 271.9h0.5v0.5h-0.5zM99.6 271.8h0.5v0.5h-0.5zM99.9 276.7h0.5v0.5h-0.5zM99.4 272.7h0.5v0.5h-0.5zM99.1 269h0.5v0.5h-0.5zM99 271.6h0.5v0.5h-0.5zM100.2 272.2h0.5v0.5h-0.5zM98.6 272h0.5v0.5h-0.5zM101.8 270.5h0.5v0.5h-0.5zM100.1 276.3h0.5v0.5h-0.5zM99 271.4h0.5v0.5h-0.5zM103.5 277.1h0.5v0.5h-0.5zM99.4 273.7h0.5v0.5h-0.5zM100.1 273.7h0.5v0.5h-0.5zM100.6 272.3h0.5v0.5h-0.5zM97.3 270.2h0.5v0.5h-0.5zM100.2 268.9h0.5v0.5h-0.5zM99.6 277.9h0.5v0.5h-0.5zM100.3 271.2h0.5v0.5h-0.5zM100.2 276.5h0.5v0.5h-0.5zM97.9 269.3h0.5v0.5h-0.5zM99.2 271.8h0.5v0.5h-0.5zM99.9 271.4h0.5v0.5h-0.5zM100.1 273.5h0.5v0.5h-0.5zM98.6 271.3h0.5v0.5h-0.5zM98.5 274.1h0.5v0.5h-0.5zM100.3 275.2h0.5v0.5h-0.5zM98.9 271.5h0.5v0.5h-0.5zM97.3 273.2h0.5v0.5h-0.5zM98.1 274.3h0.5v0.5h-0.5zM101.3 274.6h0.5v0.5h-0.5zM100.8 273.9h0.5v0.5h-0.5zM100.4 276.1h0.5v0.5h-0.5zM99.7 275.8h0.5v0.5h-0.5zM101 274.5h0.5v0.5h-0.5zM100.3 269.3h0.5v0.5h-0.5zM101.3 270.5h0.5v0.5h-0.5zM99.2 270.5h0.5v0.5h-0.5zM100.7 270.2h0.5v0.5h-0.5zM100.5 275h0.5v0.5h-0.5zM100.1 272.1h0.5v0.5h-0.5zM100.7 277.3h0.5v0.5h-0.5zM99.4 269.9h0.5v0.5h-0.5zM99.3 270.5h0.5v0.5h-0.5zM99.7 272.7h0.5v0.5h-0.5zM97.2 277.7h0.5v0.5h-0.5zM99 271.9h0.5v0.5h-0.5zM97.7 267.1h0.5v0.5h-0.5zM98.8 273.9h0.5v0.5h-0.5zM101 267.6h0.5v0.5h-0.5zM100.3 277.9h0.5v0.5h-0.5zM99.7 276h0.5v0.5h-0.5zM100.4 270.3h0.5v0.5h-0.5zM101.2 271.3h0.5v0.5h-0.5zM100.4 272h0.5v0.5h-0.5zM99.7 273.7h0.5v0.5h-0.5zM101.6 268h0.5v0.5h-0.5zM98.7 273.5h0.5v0.5h-0.5zM101.2 272.6h0.5v0.5h-0.5zM99.8 274.8h0.5v0.5h-0.5zM101.9 270.4h0.5v0.5h-0.5zM98.1 272.3h0.5v0.5h-0.5zM100.9 269.1h0.5v0.5h-0.5zM101.3 276.1h0.5v0.5h-0.5zM100.9 270.6h0.5v0.5h-0.5zM98.5 275.2h0.5v0.5h-0.5zM100.3 275.3h0.5v0.5h-0.5zM101.3 276.3h0.5v0.5h-0.5zM99.7 273.2h0.5v0.5h-0.5zM100.5 275.5h0.5v0.5h-0.5zM99.8 271.6h0.5v0.5h-0.5zM98.8 276.4h0.5v0.5h-0.5zM100.4 271.4h0.5v0.5h-0.5zM98.5 271.6h0.5v0.5h-0.5zM98.5 271.8h0.5v0.5h-0.5zM99.3 274.8h0.5v0.5h-0.5zM98.8 267.6h0.5v0.5h-0.5zM99.3 268.9h0.5v0.5h-0.5zM100.9 272.6h0.5v0.5h-0.5zM98 270.5h0.5v0.5h-0.5zM100 273.1h0.5v0.5h-0.5zM97.8 272.8h0.5v0.5h-0.5zM100.4 276.3h0.5v0.5h-0.5zM101.3 272.8h0.5v0.5h-0.5zM98.4 272h0.5v0.5h-0.5zM100.8 270.3h0.5v0.5h-0.5zM101.5 270.2h0.5v0.5h-0.5zM98.7 275.8h0.5v0.5h-0.5zM99.9 274.2h0.5v0.5h-0.5zM99.6 273.3h0.5v0.5h-0.5zM99.3 279.1h0.5v0.5h-0.5zM100.8 272.8h0.5v0.5h-0.5zM100.6 275.8h0.5v0.5h-0.5zM99.4 273.7h0.5v0.5h-0.5zM100.2 271.4h0.5v0.5h-0.5zM99.1 272.6h0.5v0.5h-0.5zM99.6 271.9h0.5v0.5h-0.5zM97.7 273.4h0.5v0.5h-0.5zM100.8 273.4h0.5v0.5h-0.5zM102.1 275.9h0.5v0.5h-0.5zM99.6 271.1h0.5v0.5h-0.5zM100.6 272h0.5v0.5h-0.5zM98.1 273.6h0.5v0.5h-0.5zM99.6 272.5h0.5v0.5h-0.5zM100.7 273.8h0.5v0.5h-0.5zM102.4 270.9h0.5v0.5h-0.5zM99.9 274.2h0.5v0.5h-0.5zM99.5 271.6h0.5v0.5h-0.5zM102.1 268.7h0.5v0.5h-0.5zM100.4 267.8h0.5v0.5h-0.5zM100.4 267.3h0.5v0.5h-0.5zM98.6 276.7h0.5v0.5h-0.5zM101.8 273.6h0.5v0.5h-0.5zM96.7 276.3h0.5v0.5h-0.5zM100.3 269.8h0.5v0.5h-0.5zM99.6 269.1h0.5v0.5h-0.5zM99.9 272.9h0.5v0.5h-0.5zM100.1 275.6h0.5v0.5h-0.5zM98.6 269.3h0.5v0.5h-0.5zM99.6 271.8h0.5v0.5h-0.5zM99.9 277.4h0.5v0.5h-0.5zM100 269.9h0.5v0.5h-0.5zM99.6 270.5h0.5v0.5h-0.5zM99.7 275h0.5v0.5h-0.5zM98.6 275.4h0.5v0.5h-0.5zM102.1 277.9h0.5v0.5h-0.5zM101.9 273.5h0.5v0.5h-0.5zM99.9 273.9h0.5v0.5h-0.5zM99.6 270.3h0.5v0.5h-0.5zM100.7 268.9h0.5v0.5h-0.5zM98.4 274.9h0.5v0.5h-0.5zM99.6 270.6h0.5v0.5h-0.5zM100.6 277.6h0.5v0.5h-0.5zM99.7 272.8h0.5v0.5h-0.5zM100.7 276.1h0.5v0.5h-0.5zM101.2 275.3h0.5v0.5h-0.5zM99.2 274.8h0.5v0.5h-0.5zM100 268h0.5v0.5h-0.5zM101.5 275h0.5v0.5h-0.5zM101.6 273h0.5v0.5h-0.5zM100.9 273h0.5v0.5h-0.5z" fill="#333" fill-opacity="1.0"/>
<path d="M99.9 276.3h0.5v0.5h-0.5zM99.6 275.3h0.5v0.5h-0.5zM99.4 277.3h0.5v0.5h-0.5zM101 267.6h0.5v0.5h-0.5zM103.3 274.7h0.5v0.5h-0.5zM98.3 271.1h0.5v0.5h-0.5zM104.1 273.5h0.5v0.5h-0.5zM100.7 275.2h0.5v0.5h-0.5zM98.1 279.1h0.5v0.5h-0.5zM104.3 270.6h0.5v0.5h-0.5zM102.1 267.7h0.5v0.5h-0.5zM98.7 273.4h0.5v0.5h-0.5zM99.6 275.1h0.5v0.5h-0.5zM100.4 274.5h0.5v0.5h-0.5zM99.2 274.2h0.5v0.5h-0.5zM99.6 277.4h0.5v0.5h-0.5zM99.7 272.7h0.5v0.5h-0.5zM99.1 268.9h0.5v0.5h-0.5zM104.3 274.6h0.5v0.5h-0.5zM99.8 271.6h0.5v0.5h-0.5zM102.4 272.1h0.5v0.5h-0.5zM98.4 271.4h0.5v0.5h-0.5zM103 274.2h0.5v0.5h-0.5zM99.2 271h0.5v0.5h-0.5zM102.4 274.2h0.5v0.5h-0.5zM98.7 276.2h0.5v0.5h-0.5zM101.5 269.9h0.5v0.5h-0.5zM102.1 276.9h0.5v0.5h-0.5zM99 268.7h0.5v0.5h-0.5zM102 272.1h0.5v0.5h-0.5zM99 272.2h0.5v0.5h-0.5zM98.9 276h0.5v0.5h-0.5zM97 275h0.5v0.5h-0.5zM102.1 276.7h0.5v0.5h-0.5zM101.2 274.1h0.5v0.5h-0.5zM99.1 272.8h0.5v0.5h-0.5zM97.5 278.8h0.5v0.5h-0.5zM99.2 269.8h0.5v0.5h-0.5zM101.4 278.3h0.5v0.5h-0.5zM100.1 272.1h0.5v0.5h-0.5zM97 275.4h0.5v0.5h-0.5zM99 271h0.5v0.5h-0.5zM100.9 268.9h0.5v0.5h-0.5zM98.1 268.4h0.5v0.5h-0.5zM99 275.9h0.5v0.5h-0.5zM96.6 277.8h0.5v0.5h-0.5zM98 271.6h0.5v0.5h-0.5zM101.8 270.8h0.5v0.5h-0.5zM102.8 272.5h0.5v0.5h-0.5zM99.3 270h0.5v0.5h-0.5zM102.1 273h0.5v0.5h-0.5zM98.4 270h0.5v0.5h-0.5zM98.1 272.9h0.5v0.5h-0.5zM97.9 275.9h0.5v0.5h-0.5zM99.4 271.1h0.5v0.5h-0.5zM100.6 278h0.5v0.5h-0.5zM94.8 274.4h0.5v0.5h-0.5zM102 273.7h0.5v0.5h-0.5zM101.4 268.1h0.5v0.5h-0.5zM97.8 276.6h0.5v0.5h-0.5zM99.3 273.4h0.5v0.5h-0.5zM100.9 274.4h0.5v0.5h-0.5zM100.5 271.6h0.5v0.5h-0.5zM98.9 277.6h0.5v0.5h-0.5zM98.4 268.4h0.5v0.5h-0.5zM98.7 276.2h0.5v0.5h-0.5zM103.6 273.7h0.5v0.5h-0.5zM98.1 275.2h0.5v0.5h-0.5zM100.2 277.1h0.5v0.5h-0.5zM100.7 275.7h0.5v0.5h-0.5zM100.7 274.6h0.5v0.5h-0.5zM97.5 272.7h0.5v0.5h-0.5zM103.1 277.6h0.5v0.5h-0.5zM101.7 274.5h0.5v0.5h-0.5zM99.3 274.4h0.5v0.5h-0.5zM98.8 276.8h0.5v0.5h-0.5zM98.8 270.7h0.5v0.5h-0.5zM95.9 278.4h0.5v0.5h-0.5z" fill="#aaa" fill-opacity="1.0"/>
<line x1="101" y1="273.2" x2="126.5" y2="273.2" stroke="#000" stroke-width="1.1"/>
<path d="M130.5,273.2 L126,271.3 L126,275.1 Z" fill="#000"/>
<rect x="130" y="238.2" width="38.3" height="41" stroke="#8a8a8a" stroke-width="0.7" fill="none"/>
<line x1="130" y1="238.2" x2="130" y2="279.2" stroke="#333" stroke-width="0.8"/>
<line x1="130" y1="279.2" x2="168.3" y2="279.2" stroke="#333" stroke-width="0.8"/>
<line x1="128.8" y1="243.7" x2="130" y2="243.7" stroke="#333" stroke-width="0.7"/>
<text font-size="3.2" text-anchor="end" style="font-family:'Liberation Serif',serif;font-weight:bold" fill="#555" transform="translate(128.7,244) rotate(40)">10<tspan font-size="2.2" dy="-1.2">4</tspan></text>
<line x1="128.8" y1="253.8" x2="130" y2="253.8" stroke="#333" stroke-width="0.7"/>
<text font-size="3.2" text-anchor="end" style="font-family:'Liberation Serif',serif;font-weight:bold" fill="#555" transform="translate(128.7,254.1) rotate(40)">10<tspan font-size="2.2" dy="-1.2">3</tspan></text>
<line x1="128.8" y1="263.9" x2="130" y2="263.9" stroke="#333" stroke-width="0.7"/>
<text font-size="3.2" text-anchor="end" style="font-family:'Liberation Serif',serif;font-weight:bold" fill="#555" transform="translate(128.7,264.2) rotate(40)">10<tspan font-size="2.2" dy="-1.2">2</tspan></text>
<line x1="128.8" y1="274" x2="130" y2="274" stroke="#333" stroke-width="0.7"/>
<text font-size="3.2" text-anchor="end" style="font-family:'Liberation Serif',serif;font-weight:bold" fill="#555" transform="translate(128.7,274.3) rotate(40)">10<tspan font-size="2.2" dy="-1.2">1</tspan></text>
<line x1="135" y1="279.2" x2="135" y2="280.4" stroke="#333" stroke-width="0.7"/>
<text font-size="3.2" text-anchor="middle" style="font-family:'Liberation Serif',serif;font-weight:bold" fill="#555" transform="translate(135,283.6) rotate(40)">10<tspan font-size="2.2" dy="-1.2">1</tspan></text>
<line x1="145.1" y1="279.2" x2="145.1" y2="280.4" stroke="#333" stroke-width="0.7"/>
<text font-size="3.2" text-anchor="middle" style="font-family:'Liberation Serif',serif;font-weight:bold" fill="#555" transform="translate(145.1,283.6) rotate(40)">10<tspan font-size="2.2" dy="-1.2">2</tspan></text>
<line x1="155.2" y1="279.2" x2="155.2" y2="280.4" stroke="#333" stroke-width="0.7"/>
<text font-size="3.2" text-anchor="middle" style="font-family:'Liberation Serif',serif;font-weight:bold" fill="#555" transform="translate(155.2,283.6) rotate(40)">10<tspan font-size="2.2" dy="-1.2">3</tspan></text>
<line x1="165.3" y1="279.2" x2="165.3" y2="280.4" stroke="#333" stroke-width="0.7"/>
<text font-size="3.2" text-anchor="middle" style="font-family:'Liberation Serif',serif;font-weight:bold" fill="#555" transform="translate(165.3,283.6) rotate(40)">10<tspan font-size="2.2" dy="-1.2">4</tspan></text>
<line x1="145.4" y1="238.2" x2="145.4" y2="279.2" stroke="#666" stroke-width="0.8"/>
<line x1="164.2" y1="238.2" x2="164.2" y2="279.2" stroke="#999" stroke-width="0.6"/>
<line x1="145.4" y1="258.7" x2="164.2" y2="258.7" stroke="#666" stroke-width="0.8"/>
<text x="131.5" y="241.7" font-size="2.8" text-anchor="start" style="font-family:'Liberation Serif',serif" fill="#444">B</text>
<text x="161.2" y="241.7" font-size="2.8" text-anchor="start" style="font-family:'Liberation Serif',serif" fill="#444">A</text>
<text x="146.9" y="277.2" font-size="2.8" text-anchor="start" style="font-family:'Liberation Serif',serif" fill="#444">C</text>
<text x="134.6" y="275.9" font-size="6" text-anchor="middle" style="font-family:'Liberation Serif',serif" fill="#222">99</text>
<text x="159.2" y="255.2" font-size="6" text-anchor="middle" style="font-family:'Liberation Serif',serif" fill="#222">0.1</text>
<text x="158.6" y="275.9" font-size="6" text-anchor="middle" style="font-family:'Liberation Serif',serif" fill="#222">0.2</text>
<path d="M135.5 251.7h0.5v0.5h-0.5zM139.1 271.8h0.5v0.5h-0.5zM139.9 255.7h0.5v0.5h-0.5zM139.6 252h0.5v0.5h-0.5zM137.1 258.4h0.5v0.5h-0.5zM137.9 264.1h0.5v0.5h-0.5zM139.6 272.5h0.5v0.5h-0.5zM140.5 256.1h0.5v0.5h-0.5zM138.7 251.8h0.5v0.5h-0.5zM136 255.6h0.5v0.5h-0.5zM141 253h0.5v0.5h-0.5zM133 250.6h0.5v0.5h-0.5zM134.1 256.8h0.5v0.5h-0.5zM136.9 249.4h0.5v0.5h-0.5zM135.4 255.1h0.5v0.5h-0.5zM139.1 262.9h0.5v0.5h-0.5zM142 256.3h0.5v0.5h-0.5zM139.8 258.8h0.5v0.5h-0.5zM134.5 253.4h0.5v0.5h-0.5zM144.7 257h0.5v0.5h-0.5zM143 264.5h0.5v0.5h-0.5zM143.1 256.8h0.5v0.5h-0.5zM140.8 255.9h0.5v0.5h-0.5zM134.5 249.4h0.5v0.5h-0.5zM139.3 246h0.5v0.5h-0.5zM139 251.6h0.5v0.5h-0.5zM139 247.8h0.5v0.5h-0.5zM140.5 256.5h0.5v0.5h-0.5zM133.2 247.3h0.5v0.5h-0.5zM138.1 245.9h0.5v0.5h-0.5zM138.9 261.9h0.5v0.5h-0.5zM135.9 268.8h0.5v0.5h-0.5zM142.4 260.6h0.5v0.5h-0.5zM139.3 261.8h0.5v0.5h-0.5zM137.1 268.1h0.5v0.5h-0.5zM136.3 239.2h0.5v0.5h-0.5zM138 261.6h0.5v0.5h-0.5zM140.5 249.9h0.5v0.5h-0.5zM142.2 252h0.5v0.5h-0.5zM139.9 263.7h0.5v0.5h-0.5zM138.5 266.8h0.5v0.5h-0.5zM136.4 273.7h0.5v0.5h-0.5zM139.4 255h0.5v0.5h-0.5zM132.9 268.9h0.5v0.5h-0.5zM142.7 253.9h0.5v0.5h-0.5zM134.9 266.7h0.5v0.5h-0.5zM138.1 251h0.5v0.5h-0.5zM136.4 258.7h0.5v0.5h-0.5zM141 270.1h0.5v0.5h-0.5zM136 269.8h0.5v0.5h-0.5zM133.2 263.6h0.5v0.5h-0.5zM137.5 261.5h0.5v0.5h-0.5zM136.6 252.8h0.5v0.5h-0.5zM138.8 266.8h0.5v0.5h-0.5zM131.1 258.6h0.5v0.5h-0.5zM136.7 250.1h0.5v0.5h-0.5zM133.8 262.1h0.5v0.5h-0.5zM139.6 263.1h0.5v0.5h-0.5zM131.8 246.7h0.5v0.5h-0.5zM136 254.9h0.5v0.5h-0.5zM143.4 255.3h0.5v0.5h-0.5zM138.3 265.8h0.5v0.5h-0.5zM143.1 261h0.5v0.5h-0.5zM139 272.9h0.5v0.5h-0.5zM136.7 244.6h0.5v0.5h-0.5zM135.6 255.8h0.5v0.5h-0.5zM142 260.6h0.5v0.5h-0.5zM141.7 259h0.5v0.5h-0.5zM138.1 253.9h0.5v0.5h-0.5zM134.1 262.1h0.5v0.5h-0.5zM139.1 262.6h0.5v0.5h-0.5zM136.3 255h0.5v0.5h-0.5zM139.1 262.8h0.5v0.5h-0.5zM144.1 251.6h0.5v0.5h-0.5zM141 264.9h0.5v0.5h-0.5zM137.1 259.3h0.5v0.5h-0.5zM137.8 269.8h0.5v0.5h-0.5zM137.1 265.4h0.5v0.5h-0.5zM139.5 256.8h0.5v0.5h-0.5zM140.3 264.8h0.5v0.5h-0.5zM136.7 264.7h0.5v0.5h-0.5zM131 248.5h0.5v0.5h-0.5zM137 259.4h0.5v0.5h-0.5zM133.4 269.4h0.5v0.5h-0.5zM136.8 259.4h0.5v0.5h-0.5zM137.8 263.9h0.5v0.5h-0.5zM136.1 263.8h0.5v0.5h-0.5zM135.4 247h0.5v0.5h-0.5zM139.5 259.4h0.5v0.5h-0.5zM140.7 243.5h0.5v0.5h-0.5zM138.3 253.3h0.5v0.5h-0.5zM137.4 255.2h0.5v0.5h-0.5zM136.8 253.2h0.5v0.5h-0.5zM141.1 245.2h0.5v0.5h-0.5zM132.8 260.8h0.5v0.5h-0.5zM144.2 252.4h0.5v0.5h-0.5zM135.1 249.4h0.5v0.5h-0.5zM134.8 267.7h0.5v0.5h-0.5zM140 265h0.5v0.5h-0.5zM139 260h0.5v0.5h-0.5zM136.1 250.9h0.5v0.5h-0.5zM139.9 277h0.5v0.5h-0.5zM136.8 267.8h0.5v0.5h-0.5zM135.8 258.5h0.5v0.5h-0.5zM143.2 257.7h0.5v0.5h-0.5zM139.9 254h0.5v0.5h-0.5zM143.8 248.9h0.5v0.5h-0.5zM139.7 256.4h0.5v0.5h-0.5zM138.5 261h0.5v0.5h-0.5zM142 264.9h0.5v0.5h-0.5zM141.2 261h0.5v0.5h-0.5zM134.6 268.4h0.5v0.5h-0.5zM142.7 261.9h0.5v0.5h-0.5zM140.4 256.5h0.5v0.5h-0.5zM133.5 265.7h0.5v0.5h-0.5zM135.7 272.8h0.5v0.5h-0.5zM140.1 258.1h0.5v0.5h-0.5zM136 259h0.5v0.5h-0.5zM134.8 255.4h0.5v0.5h-0.5zM142.9 256h0.5v0.5h-0.5zM143.6 257.5h0.5v0.5h-0.5zM139.2 251.2h0.5v0.5h-0.5zM137 254.8h0.5v0.5h-0.5zM133.6 272.9h0.5v0.5h-0.5zM139.8 257.6h0.5v0.5h-0.5zM134.5 258.5h0.5v0.5h-0.5zM134.7 250.8h0.5v0.5h-0.5zM137.3 274.6h0.5v0.5h-0.5zM132.5 262.5h0.5v0.5h-0.5zM133.6 257.2h0.5v0.5h-0.5zM138.1 252.5h0.5v0.5h-0.5zM143.4 262.3h0.5v0.5h-0.5zM136 245.7h0.5v0.5h-0.5zM138.5 253.1h0.5v0.5h-0.5zM141.1 250.3h0.5v0.5h-0.5zM141.6 254.7h0.5v0.5h-0.5zM138.5 256.2h0.5v0.5h-0.5zM139.9 267h0.5v0.5h-0.5zM136.2 251.3h0.5v0.5h-0.5zM143.8 265.5h0.5v0.5h-0.5zM143.8 265.5h0.5v0.5h-0.5zM138.3 270.6h0.5v0.5h-0.5zM135.8 255h0.5v0.5h-0.5zM136.7 263.4h0.5v0.5h-0.5zM135.3 256.9h0.5v0.5h-0.5zM135.3 256.4h0.5v0.5h-0.5zM141.4 266.7h0.5v0.5h-0.5zM137.2 277.6h0.5v0.5h-0.5zM135.7 261.7h0.5v0.5h-0.5zM136.4 241.3h0.5v0.5h-0.5zM134.2 267.7h0.5v0.5h-0.5zM137.5 260.3h0.5v0.5h-0.5zM141.8 258.4h0.5v0.5h-0.5zM135.9 253.6h0.5v0.5h-0.5zM135 262.4h0.5v0.5h-0.5zM136.4 262.1h0.5v0.5h-0.5zM133.2 254.9h0.5v0.5h-0.5zM144.3 261h0.5v0.5h-0.5zM137.6 267.3h0.5v0.5h-0.5zM138.8 269.9h0.5v0.5h-0.5zM134.3 264.1h0.5v0.5h-0.5zM134.6 263.4h0.5v0.5h-0.5zM135.2 261.4h0.5v0.5h-0.5zM139.3 252.7h0.5v0.5h-0.5zM138.7 250.1h0.5v0.5h-0.5zM140.9 265.2h0.5v0.5h-0.5zM137.4 263.5h0.5v0.5h-0.5zM145.3 257h0.5v0.5h-0.5zM132.1 260.8h0.5v0.5h-0.5zM136.5 252.2h0.5v0.5h-0.5zM140.7 265.9h0.5v0.5h-0.5zM139.8 270.7h0.5v0.5h-0.5zM135.9 255h0.5v0.5h-0.5zM137.2 258.7h0.5v0.5h-0.5zM134.9 260h0.5v0.5h-0.5zM141.2 253.4h0.5v0.5h-0.5zM139.6 257h0.5v0.5h-0.5zM137.4 259.1h0.5v0.5h-0.5zM142.6 262.2h0.5v0.5h-0.5zM140 259.4h0.5v0.5h-0.5zM131.2 265.4h0.5v0.5h-0.5zM137.8 259h0.5v0.5h-0.5zM136.3 246.4h0.5v0.5h-0.5zM142.5 272.2h0.5v0.5h-0.5zM142.8 244.1h0.5v0.5h-0.5zM139.6 249.2h0.5v0.5h-0.5zM137.3 254.3h0.5v0.5h-0.5zM135.9 252.3h0.5v0.5h-0.5zM136.4 264.2h0.5v0.5h-0.5zM142.9 265.3h0.5v0.5h-0.5zM137.8 257.1h0.5v0.5h-0.5zM137.1 258.1h0.5v0.5h-0.5zM135.9 256.8h0.5v0.5h-0.5zM140.5 256.5h0.5v0.5h-0.5zM135.3 257.3h0.5v0.5h-0.5zM138.1 257.6h0.5v0.5h-0.5zM137.1 263.6h0.5v0.5h-0.5zM137.7 250.5h0.5v0.5h-0.5zM139.6 252.8h0.5v0.5h-0.5zM140.3 264.5h0.5v0.5h-0.5zM139.4 260.6h0.5v0.5h-0.5zM133.7 256.7h0.5v0.5h-0.5zM138.3 263.1h0.5v0.5h-0.5zM134.4 257h0.5v0.5h-0.5zM133.1 259.6h0.5v0.5h-0.5zM138.1 259.2h0.5v0.5h-0.5zM143 263.8h0.5v0.5h-0.5zM137.3 253.8h0.5v0.5h-0.5zM136.5 264.2h0.5v0.5h-0.5zM140.7 254.4h0.5v0.5h-0.5zM137.5 254.9h0.5v0.5h-0.5zM140 259.7h0.5v0.5h-0.5zM135.6 251.4h0.5v0.5h-0.5zM141.9 247.5h0.5v0.5h-0.5zM144.2 254.1h0.5v0.5h-0.5zM140.5 262.5h0.5v0.5h-0.5zM140.5 266.9h0.5v0.5h-0.5zM136.4 258.1h0.5v0.5h-0.5zM140.9 262.5h0.5v0.5h-0.5zM135.5 252.4h0.5v0.5h-0.5zM133.3 260.2h0.5v0.5h-0.5zM136.2 246.3h0.5v0.5h-0.5zM136.1 260.7h0.5v0.5h-0.5zM138.4 256.5h0.5v0.5h-0.5zM138.4 263.2h0.5v0.5h-0.5zM134.1 252h0.5v0.5h-0.5zM140.9 263.8h0.5v0.5h-0.5zM133.5 252.7h0.5v0.5h-0.5zM142.4 264h0.5v0.5h-0.5zM137.4 266h0.5v0.5h-0.5zM142.2 269h0.5v0.5h-0.5zM133.5 248.3h0.5v0.5h-0.5zM136.3 257.8h0.5v0.5h-0.5zM136.7 260.1h0.5v0.5h-0.5zM142.5 266.6h0.5v0.5h-0.5zM141 258.2h0.5v0.5h-0.5zM143.1 261.7h0.5v0.5h-0.5zM138.6 258.1h0.5v0.5h-0.5zM132.1 274.7h0.5v0.5h-0.5zM137.8 265.1h0.5v0.5h-0.5zM145 256.8h0.5v0.5h-0.5zM134.2 266h0.5v0.5h-0.5zM138.6 251h0.5v0.5h-0.5zM140.9 258.3h0.5v0.5h-0.5zM134.9 238.9h0.5v0.5h-0.5zM134.7 261.1h0.5v0.5h-0.5zM134.6 265.6h0.5v0.5h-0.5zM144.8 260.7h0.5v0.5h-0.5zM138.6 257.6h0.5v0.5h-0.5zM140.6 258.5h0.5v0.5h-0.5zM141.1 269.1h0.5v0.5h-0.5zM140.6 250.9h0.5v0.5h-0.5zM140 256.2h0.5v0.5h-0.5zM138.8 265.6h0.5v0.5h-0.5zM135.8 259.8h0.5v0.5h-0.5zM142.5 251.9h0.5v0.5h-0.5zM137.3 263.8h0.5v0.5h-0.5zM137.1 266h0.5v0.5h-0.5zM134.7 246.8h0.5v0.5h-0.5zM139.1 257.2h0.5v0.5h-0.5zM138.8 265.6h0.5v0.5h-0.5zM141.2 255.6h0.5v0.5h-0.5zM136.6 243.4h0.5v0.5h-0.5zM134.8 260.1h0.5v0.5h-0.5zM138.5 246.9h0.5v0.5h-0.5zM140.3 257.9h0.5v0.5h-0.5zM141.3 255.5h0.5v0.5h-0.5zM140.9 249.8h0.5v0.5h-0.5zM132 252.1h0.5v0.5h-0.5zM140.1 261.3h0.5v0.5h-0.5zM131.9 259.4h0.5v0.5h-0.5zM140 271h0.5v0.5h-0.5zM140.3 262.1h0.5v0.5h-0.5zM132.9 261.1h0.5v0.5h-0.5zM131.6 256h0.5v0.5h-0.5zM136.7 250.8h0.5v0.5h-0.5zM134.7 257.2h0.5v0.5h-0.5zM139.7 253.3h0.5v0.5h-0.5zM138.8 263.6h0.5v0.5h-0.5zM137.8 272.8h0.5v0.5h-0.5zM136.9 252.7h0.5v0.5h-0.5zM131.8 266.4h0.5v0.5h-0.5zM140 256.8h0.5v0.5h-0.5zM138.8 257.2h0.5v0.5h-0.5zM140.6 258.1h0.5v0.5h-0.5zM138.6 257.6h0.5v0.5h-0.5zM135.1 241.4h0.5v0.5h-0.5zM139.6 248.8h0.5v0.5h-0.5zM139.1 263.1h0.5v0.5h-0.5zM143.8 252.6h0.5v0.5h-0.5zM138.3 265.4h0.5v0.5h-0.5zM135.7 253.8h0.5v0.5h-0.5zM139.3 273.9h0.5v0.5h-0.5zM141.3 265.5h0.5v0.5h-0.5zM134.8 263.2h0.5v0.5h-0.5zM141.5 248.6h0.5v0.5h-0.5zM137.9 256.8h0.5v0.5h-0.5zM139.9 245h0.5v0.5h-0.5zM140.1 258.2h0.5v0.5h-0.5zM137 242.2h0.5v0.5h-0.5zM131.3 254.1h0.5v0.5h-0.5zM139.9 261.4h0.5v0.5h-0.5zM140.2 245.3h0.5v0.5h-0.5zM138.5 268.4h0.5v0.5h-0.5zM132.9 263.2h0.5v0.5h-0.5zM135.5 262.4h0.5v0.5h-0.5zM138.2 245.9h0.5v0.5h-0.5zM134.5 267.9h0.5v0.5h-0.5zM137.5 267.6h0.5v0.5h-0.5zM138.9 265h0.5v0.5h-0.5zM136.6 259.9h0.5v0.5h-0.5zM136.7 265.1h0.5v0.5h-0.5z" fill="#999" fill-opacity="1.0"/>
<path d="M136.6 264h0.5v0.5h-0.5zM141.3 251.9h0.5v0.5h-0.5zM137.5 261h0.5v0.5h-0.5zM141.7 264.2h0.5v0.5h-0.5zM138 249.2h0.5v0.5h-0.5zM139.7 255.2h0.5v0.5h-0.5zM138.3 260.3h0.5v0.5h-0.5zM134.8 263.8h0.5v0.5h-0.5zM139.8 261.2h0.5v0.5h-0.5zM139.1 260.1h0.5v0.5h-0.5zM134.8 255.6h0.5v0.5h-0.5zM139.6 256.5h0.5v0.5h-0.5zM137.9 260.1h0.5v0.5h-0.5zM138 259.6h0.5v0.5h-0.5zM138.9 258.2h0.5v0.5h-0.5zM135.4 256.8h0.5v0.5h-0.5zM139.9 254.7h0.5v0.5h-0.5zM138.9 259.8h0.5v0.5h-0.5zM135.9 243.5h0.5v0.5h-0.5zM137.8 254.2h0.5v0.5h-0.5zM136.5 263.1h0.5v0.5h-0.5zM136.2 260h0.5v0.5h-0.5zM138.1 259.2h0.5v0.5h-0.5zM142.2 248h0.5v0.5h-0.5zM139.9 257.5h0.5v0.5h-0.5zM137.2 254.7h0.5v0.5h-0.5zM137.9 258.5h0.5v0.5h-0.5zM135.8 266.7h0.5v0.5h-0.5zM136.2 257.5h0.5v0.5h-0.5zM135.1 259h0.5v0.5h-0.5zM138.6 263.8h0.5v0.5h-0.5zM140 255.6h0.5v0.5h-0.5zM141.3 257.7h0.5v0.5h-0.5zM141.2 267.1h0.5v0.5h-0.5zM137 252.6h0.5v0.5h-0.5zM139 265.7h0.5v0.5h-0.5zM138.7 263.9h0.5v0.5h-0.5zM139.1 262.8h0.5v0.5h-0.5zM140.7 256.7h0.5v0.5h-0.5zM134.8 257.6h0.5v0.5h-0.5zM136.1 252h0.5v0.5h-0.5zM137.5 261.9h0.5v0.5h-0.5zM133.8 250.4h0.5v0.5h-0.5zM139.6 253.6h0.5v0.5h-0.5zM137 265.2h0.5v0.5h-0.5zM140.3 260.1h0.5v0.5h-0.5zM139 244.1h0.5v0.5h-0.5zM139 260.2h0.5v0.5h-0.5zM134.8 259.2h0.5v0.5h-0.5zM138.8 257.6h0.5v0.5h-0.5zM139.5 262.8h0.5v0.5h-0.5zM137.9 256.9h0.5v0.5h-0.5zM135.3 264.1h0.5v0.5h-0.5zM136.6 259.9h0.5v0.5h-0.5zM141.2 262.2h0.5v0.5h-0.5zM135.1 257.8h0.5v0.5h-0.5zM136.3 249.7h0.5v0.5h-0.5zM136.1 261.2h0.5v0.5h-0.5zM138.6 257.1h0.5v0.5h-0.5zM138.2 252.2h0.5v0.5h-0.5zM136.2 257.3h0.5v0.5h-0.5zM139.6 256.6h0.5v0.5h-0.5zM137.5 259.9h0.5v0.5h-0.5zM141 251.7h0.5v0.5h-0.5zM139 259.2h0.5v0.5h-0.5zM137.7 259.5h0.5v0.5h-0.5zM133.5 258.4h0.5v0.5h-0.5zM137.3 251.8h0.5v0.5h-0.5zM139.7 257.6h0.5v0.5h-0.5zM137.1 262.1h0.5v0.5h-0.5zM135.8 254.5h0.5v0.5h-0.5zM139.6 262.7h0.5v0.5h-0.5zM142.2 255.8h0.5v0.5h-0.5zM134.7 250.5h0.5v0.5h-0.5zM135.2 258.8h0.5v0.5h-0.5zM137.3 254.7h0.5v0.5h-0.5zM135.6 254.6h0.5v0.5h-0.5zM137 264.4h0.5v0.5h-0.5zM139.2 265.3h0.5v0.5h-0.5zM139.6 262.1h0.5v0.5h-0.5zM140.4 260.5h0.5v0.5h-0.5zM141.2 264.1h0.5v0.5h-0.5zM141.8 259.3h0.5v0.5h-0.5zM136.1 271.2h0.5v0.5h-0.5zM137.2 260.9h0.5v0.5h-0.5zM137 254.6h0.5v0.5h-0.5zM138.8 252.4h0.5v0.5h-0.5zM137.5 265.5h0.5v0.5h-0.5zM138.1 262.5h0.5v0.5h-0.5zM139.2 260.2h0.5v0.5h-0.5z" fill="#666" fill-opacity="1.0"/>
<line x1="159.5" y1="248.7" x2="188" y2="248.7" stroke="#000" stroke-width="1.1"/>
<path d="M192,248.7 L187.5,246.8 L187.5,250.6 Z" fill="#000"/>
<rect x="190.5" y="238.4" width="40" height="40.2" stroke="#8a8a8a" stroke-width="0.7" fill="none"/>
<line x1="190.5" y1="238.4" x2="190.5" y2="278.6" stroke="#333" stroke-width="0.8"/>
<line x1="190.5" y1="278.6" x2="230.5" y2="278.6" stroke="#333" stroke-width="0.8"/>
<line x1="189.3" y1="243.9" x2="190.5" y2="243.9" stroke="#333" stroke-width="0.7"/>
<text font-size="3.2" text-anchor="end" style="font-family:'Liberation Serif',serif;font-weight:bold" fill="#555" transform="translate(189.2,244.2) rotate(40)">10<tspan font-size="2.2" dy="-1.2">4</tspan></text>
<line x1="189.3" y1="254" x2="190.5" y2="254" stroke="#333" stroke-width="0.7"/>
<text font-size="3.2" text-anchor="end" style="font-family:'Liberation Serif',serif;font-weight:bold" fill="#555" transform="translate(189.2,254.3) rotate(40)">10<tspan font-size="2.2" dy="-1.2">3</tspan></text>
<line x1="189.3" y1="264.1" x2="190.5" y2="264.1" stroke="#333" stroke-width="0.7"/>
<text font-size="3.2" text-anchor="end" style="font-family:'Liberation Serif',serif;font-weight:bold" fill="#555" transform="translate(189.2,264.4) rotate(40)">10<tspan font-size="2.2" dy="-1.2">2</tspan></text>
<line x1="189.3" y1="274.2" x2="190.5" y2="274.2" stroke="#333" stroke-width="0.7"/>
<text font-size="3.2" text-anchor="end" style="font-family:'Liberation Serif',serif;font-weight:bold" fill="#555" transform="translate(189.2,274.5) rotate(40)">10<tspan font-size="2.2" dy="-1.2">1</tspan></text>
<line x1="195.5" y1="278.6" x2="195.5" y2="279.8" stroke="#333" stroke-width="0.7"/>
<text font-size="3.2" text-anchor="middle" style="font-family:'Liberation Serif',serif;font-weight:bold" fill="#555" transform="translate(195.5,283) rotate(40)">10<tspan font-size="2.2" dy="-1.2">1</tspan></text>
<line x1="205.6" y1="278.6" x2="205.6" y2="279.8" stroke="#333" stroke-width="0.7"/>
<text font-size="3.2" text-anchor="middle" style="font-family:'Liberation Serif',serif;font-weight:bold" fill="#555" transform="translate(205.6,283) rotate(40)">10<tspan font-size="2.2" dy="-1.2">2</tspan></text>
<line x1="215.7" y1="278.6" x2="215.7" y2="279.8" stroke="#333" stroke-width="0.7"/>
<text font-size="3.2" text-anchor="middle" style="font-family:'Liberation Serif',serif;font-weight:bold" fill="#555" transform="translate(215.7,283) rotate(40)">10<tspan font-size="2.2" dy="-1.2">3</tspan></text>
<line x1="225.8" y1="278.6" x2="225.8" y2="279.8" stroke="#333" stroke-width="0.7"/>
<text font-size="3.2" text-anchor="middle" style="font-family:'Liberation Serif',serif;font-weight:bold" fill="#555" transform="translate(225.8,283) rotate(40)">10<tspan font-size="2.2" dy="-1.2">4</tspan></text>
<rect x="204.5" y="240.7" width="21.4" height="37.2" stroke="#666" stroke-width="0.7" fill="none"/>
<line x1="204.5" y1="252.4" x2="225.9" y2="252.4" stroke="#555" stroke-width="0.9"/>
<text x="205.5" y="244.4" font-size="2.6" text-anchor="start" style="font-family:'Liberation Serif',serif" fill="#444">A1</text>
<text x="205.5" y="276.8" font-size="2.6" text-anchor="start" style="font-family:'Liberation Serif',serif" fill="#444">A4</text>
<text x="219.6" y="248.4" font-size="6" text-anchor="middle" style="font-family:'Liberation Serif',serif" fill="#222">100</text>
<text x="219.6" y="275.3" font-size="6" text-anchor="middle" style="font-family:'Liberation Serif',serif" fill="#222">0</text>
<text x="2" y="307" font-size="6.75" text-anchor="start" style="font-family:'Liberation Serif',serif;font-weight:bold" fill="#000" stroke="#000" stroke-width="0.25" >CD25<tspan font-size="4" dy="-2.5">-</tspan><tspan dy="2.5"> T</tspan><tspan font-size="4.6" dy="1.8">CM</tspan></text>
<text x="2" y="315" font-size="6.75" text-anchor="start" style="font-family:'Liberation Serif',serif;font-weight:bold" fill="#000" stroke="#000" stroke-width="0.25" >(C+A2)</text>
<rect x="69.2" y="287.3" width="39.7" height="41" stroke="#8a8a8a" stroke-width="0.7" fill="none"/>
<line x1="69.2" y1="287.3" x2="69.2" y2="328.3" stroke="#333" stroke-width="0.8"/>
<line x1="69.2" y1="328.3" x2="108.9" y2="328.3" stroke="#333" stroke-width="0.8"/>
<line x1="68" y1="292.8" x2="69.2" y2="292.8" stroke="#333" stroke-width="0.7"/>
<text font-size="3.2" text-anchor="end" style="font-family:'Liberation Serif',serif;font-weight:bold" fill="#555" transform="translate(67.9,293.1) rotate(40)">10<tspan font-size="2.2" dy="-1.2">4</tspan></text>
<line x1="68" y1="302.9" x2="69.2" y2="302.9" stroke="#333" stroke-width="0.7"/>
<text font-size="3.2" text-anchor="end" style="font-family:'Liberation Serif',serif;font-weight:bold" fill="#555" transform="translate(67.9,303.2) rotate(40)">10<tspan font-size="2.2" dy="-1.2">3</tspan></text>
<line x1="68" y1="313" x2="69.2" y2="313" stroke="#333" stroke-width="0.7"/>
<text font-size="3.2" text-anchor="end" style="font-family:'Liberation Serif',serif;font-weight:bold" fill="#555" transform="translate(67.9,313.3) rotate(40)">10<tspan font-size="2.2" dy="-1.2">2</tspan></text>
<line x1="68" y1="323.1" x2="69.2" y2="323.1" stroke="#333" stroke-width="0.7"/>
<text font-size="3.2" text-anchor="end" style="font-family:'Liberation Serif',serif;font-weight:bold" fill="#555" transform="translate(67.9,323.4) rotate(40)">10<tspan font-size="2.2" dy="-1.2">1</tspan></text>
<line x1="74.2" y1="328.3" x2="74.2" y2="329.5" stroke="#333" stroke-width="0.7"/>
<text font-size="3.2" text-anchor="middle" style="font-family:'Liberation Serif',serif;font-weight:bold" fill="#555" transform="translate(74.2,332.7) rotate(40)">10<tspan font-size="2.2" dy="-1.2">1</tspan></text>
<line x1="84.3" y1="328.3" x2="84.3" y2="329.5" stroke="#333" stroke-width="0.7"/>
<text font-size="3.2" text-anchor="middle" style="font-family:'Liberation Serif',serif;font-weight:bold" fill="#555" transform="translate(84.3,332.7) rotate(40)">10<tspan font-size="2.2" dy="-1.2">2</tspan></text>
<line x1="94.4" y1="328.3" x2="94.4" y2="329.5" stroke="#333" stroke-width="0.7"/>
<text font-size="3.2" text-anchor="middle" style="font-family:'Liberation Serif',serif;font-weight:bold" fill="#555" transform="translate(94.4,332.7) rotate(40)">10<tspan font-size="2.2" dy="-1.2">3</tspan></text>
<line x1="104.5" y1="328.3" x2="104.5" y2="329.5" stroke="#333" stroke-width="0.7"/>
<text font-size="3.2" text-anchor="middle" style="font-family:'Liberation Serif',serif;font-weight:bold" fill="#555" transform="translate(104.5,332.7) rotate(40)">10<tspan font-size="2.2" dy="-1.2">4</tspan></text>
<rect x="93.5" y="299.5" width="13" height="14" stroke="#777" stroke-width="0.6" fill="none"/>
<rect x="93.5" y="315.5" width="13" height="12.2" stroke="#777" stroke-width="0.6" fill="none"/>
<text x="100" y="305.3" font-size="6" text-anchor="middle" style="font-family:'Liberation Serif',serif" fill="#222">0.0</text>
<path d="M100.1 324.1h0.5v0.5h-0.5zM98.9 324.1h0.5v0.5h-0.5zM98.7 320h0.5v0.5h-0.5zM99.3 318.3h0.5v0.5h-0.5zM97.7 323.5h0.5v0.5h-0.5zM100.6 324.3h0.5v0.5h-0.5zM102.6 322.8h0.5v0.5h-0.5zM100.9 320.1h0.5v0.5h-0.5zM100.8 318.9h0.5v0.5h-0.5zM102.3 319.4h0.5v0.5h-0.5zM99.5 324.6h0.5v0.5h-0.5zM97.4 326.3h0.5v0.5h-0.5zM98.9 322.9h0.5v0.5h-0.5zM101.2 322.8h0.5v0.5h-0.5zM101.1 320.8h0.5v0.5h-0.5zM100.7 315.7h0.5v0.5h-0.5zM101.8 320.3h0.5v0.5h-0.5zM99 322.4h0.5v0.5h-0.5zM102 320.2h0.5v0.5h-0.5zM100 321.2h0.5v0.5h-0.5zM98.9 318.4h0.5v0.5h-0.5zM100.7 324.4h0.5v0.5h-0.5zM99.1 323h0.5v0.5h-0.5zM100.5 323.4h0.5v0.5h-0.5zM99.8 322.4h0.5v0.5h-0.5zM100.3 319.1h0.5v0.5h-0.5zM99.8 324.7h0.5v0.5h-0.5zM99.3 326.3h0.5v0.5h-0.5zM99.7 319h0.5v0.5h-0.5zM99.7 318.2h0.5v0.5h-0.5zM100.7 317.5h0.5v0.5h-0.5zM100 321.6h0.5v0.5h-0.5zM99.6 323.6h0.5v0.5h-0.5zM100.3 320.6h0.5v0.5h-0.5zM101 320.9h0.5v0.5h-0.5zM101.1 326.3h0.5v0.5h-0.5zM100.5 325.1h0.5v0.5h-0.5zM98.4 324h0.5v0.5h-0.5zM98.2 321.8h0.5v0.5h-0.5zM99.1 320h0.5v0.5h-0.5zM98.9 322.4h0.5v0.5h-0.5zM100.8 318.8h0.5v0.5h-0.5zM99.3 316.7h0.5v0.5h-0.5zM99.2 316h0.5v0.5h-0.5zM98.2 323.7h0.5v0.5h-0.5zM101 319.9h0.5v0.5h-0.5zM100.4 320h0.5v0.5h-0.5zM101.3 327.6h0.5v0.5h-0.5zM97.1 319.7h0.5v0.5h-0.5zM99.2 320.9h0.5v0.5h-0.5zM101.9 327h0.5v0.5h-0.5zM100 324.2h0.5v0.5h-0.5zM98.1 321.4h0.5v0.5h-0.5zM99.7 321.9h0.5v0.5h-0.5zM100.4 317.6h0.5v0.5h-0.5zM98 322.5h0.5v0.5h-0.5zM100.9 323.8h0.5v0.5h-0.5zM100.1 317.4h0.5v0.5h-0.5zM99.4 317.6h0.5v0.5h-0.5zM102.3 323.4h0.5v0.5h-0.5zM100.9 322.9h0.5v0.5h-0.5zM99.5 325.9h0.5v0.5h-0.5zM101 324.2h0.5v0.5h-0.5zM100.7 324.5h0.5v0.5h-0.5zM99.7 323.6h0.5v0.5h-0.5zM100.1 321.5h0.5v0.5h-0.5zM97.6 326.6h0.5v0.5h-0.5zM99.5 325.9h0.5v0.5h-0.5zM98.8 321.7h0.5v0.5h-0.5zM101.2 322.1h0.5v0.5h-0.5zM100.4 318.7h0.5v0.5h-0.5zM98.6 327.3h0.5v0.5h-0.5zM100.2 322h0.5v0.5h-0.5zM98.4 319.2h0.5v0.5h-0.5zM98.8 322.2h0.5v0.5h-0.5zM99.9 320.5h0.5v0.5h-0.5zM99.2 322.6h0.5v0.5h-0.5z" fill="#777" fill-opacity="1.0"/>
<path d="M102.2 317.7h0.5v0.5h-0.5zM96.3 326h0.5v0.5h-0.5zM96.3 321h0.5v0.5h-0.5zM99.3 325.8h0.5v0.5h-0.5zM99.8 319.6h0.5v0.5h-0.5zM99.9 315.5h0.5v0.5h-0.5zM101.4 327.2h0.5v0.5h-0.5zM99 325h0.5v0.5h-0.5zM97.1 327.2h0.5v0.5h-0.5zM98 319.7h0.5v0.5h-0.5zM97.8 316.5h0.5v0.5h-0.5zM96.3 321.6h0.5v0.5h-0.5zM100.5 320.4h0.5v0.5h-0.5zM96 323.4h0.5v0.5h-0.5zM101.8 322.6h0.5v0.5h-0.5zM97.1 321.3h0.5v0.5h-0.5zM95.1 322.1h0.5v0.5h-0.5zM102.3 326h0.5v0.5h-0.5zM99.3 323.7h0.5v0.5h-0.5zM98.3 322.7h0.5v0.5h-0.5zM98.1 322.8h0.5v0.5h-0.5zM98.3 322.9h0.5v0.5h-0.5zM101.1 322.2h0.5v0.5h-0.5zM96.6 324h0.5v0.5h-0.5zM98.9 320.7h0.5v0.5h-0.5zM100.8 319.5h0.5v0.5h-0.5zM101.6 324.1h0.5v0.5h-0.5zM97.9 320h0.5v0.5h-0.5zM99.2 319.3h0.5v0.5h-0.5zM99.8 321.2h0.5v0.5h-0.5zM97 324.4h0.5v0.5h-0.5zM98.4 323.8h0.5v0.5h-0.5zM98.5 321.4h0.5v0.5h-0.5zM100.7 325.5h0.5v0.5h-0.5zM101.8 322.2h0.5v0.5h-0.5zM102.9 321.2h0.5v0.5h-0.5zM96.4 316.1h0.5v0.5h-0.5zM96.2 319.4h0.5v0.5h-0.5zM95.5 323.4h0.5v0.5h-0.5zM99.6 322.2h0.5v0.5h-0.5zM100 321.9h0.5v0.5h-0.5zM98.9 321.3h0.5v0.5h-0.5zM99.6 318.6h0.5v0.5h-0.5zM102.4 327.4h0.5v0.5h-0.5zM97.3 325.3h0.5v0.5h-0.5zM95.8 324.3h0.5v0.5h-0.5zM97.8 325.6h0.5v0.5h-0.5zM99.8 325.4h0.5v0.5h-0.5zM100.9 324h0.5v0.5h-0.5zM98.9 327.6h0.5v0.5h-0.5zM100.3 323.9h0.5v0.5h-0.5zM102.7 321.5h0.5v0.5h-0.5zM103.4 325.9h0.5v0.5h-0.5zM99.7 317.5h0.5v0.5h-0.5zM102.3 321.3h0.5v0.5h-0.5zM99.7 322.7h0.5v0.5h-0.5zM101.7 324.4h0.5v0.5h-0.5zM95.4 320.1h0.5v0.5h-0.5zM100.3 322.9h0.5v0.5h-0.5zM101.3 324.2h0.5v0.5h-0.5zM103.2 319.9h0.5v0.5h-0.5zM102.5 323.6h0.5v0.5h-0.5zM100.2 324.6h0.5v0.5h-0.5zM98.7 324.7h0.5v0.5h-0.5zM99 324.7h0.5v0.5h-0.5zM97.8 326.2h0.5v0.5h-0.5zM96.1 320.1h0.5v0.5h-0.5zM99.4 323.1h0.5v0.5h-0.5zM97.7 321h0.5v0.5h-0.5zM100.1 325.8h0.5v0.5h-0.5zM102.4 320.7h0.5v0.5h-0.5zM99.4 321.3h0.5v0.5h-0.5zM96.1 320.8h0.5v0.5h-0.5zM102.1 317.9h0.5v0.5h-0.5zM106 325.5h0.5v0.5h-0.5z" fill="#aaa" fill-opacity="1.0"/>
<line x1="101" y1="322.3" x2="126.5" y2="322.3" stroke="#000" stroke-width="1.1"/>
<path d="M130.5,322.3 L126,320.4 L126,324.2 Z" fill="#000"/>
<rect x="130" y="287.3" width="38.3" height="41" stroke="#8a8a8a" stroke-width="0.7" fill="none"/>
<line x1="130" y1="287.3" x2="130" y2="328.3" stroke="#333" stroke-width="0.8"/>
<line x1="130" y1="328.3" x2="168.3" y2="328.3" stroke="#333" stroke-width="0.8"/>
<line x1="128.8" y1="292.8" x2="130" y2="292.8" stroke="#333" stroke-width="0.7"/>
<text font-size="3.2" text-anchor="end" style="font-family:'Liberation Serif',serif;font-weight:bold" fill="#555" transform="translate(128.7,293.1) rotate(40)">10<tspan font-size="2.2" dy="-1.2">4</tspan></text>
<line x1="128.8" y1="302.9" x2="130" y2="302.9" stroke="#333" stroke-width="0.7"/>
<text font-size="3.2" text-anchor="end" style="font-family:'Liberation Serif',serif;font-weight:bold" fill="#555" transform="translate(128.7,303.2) rotate(40)">10<tspan font-size="2.2" dy="-1.2">3</tspan></text>
<line x1="128.8" y1="313" x2="130" y2="313" stroke="#333" stroke-width="0.7"/>
<text font-size="3.2" text-anchor="end" style="font-family:'Liberation Serif',serif;font-weight:bold" fill="#555" transform="translate(128.7,313.3) rotate(40)">10<tspan font-size="2.2" dy="-1.2">2</tspan></text>
<line x1="128.8" y1="323.1" x2="130" y2="323.1" stroke="#333" stroke-width="0.7"/>
<text font-size="3.2" text-anchor="end" style="font-family:'Liberation Serif',serif;font-weight:bold" fill="#555" transform="translate(128.7,323.4) rotate(40)">10<tspan font-size="2.2" dy="-1.2">1</tspan></text>
<line x1="135" y1="328.3" x2="135" y2="329.5" stroke="#333" stroke-width="0.7"/>
<text font-size="3.2" text-anchor="middle" style="font-family:'Liberation Serif',serif;font-weight:bold" fill="#555" transform="translate(135,332.7) rotate(40)">10<tspan font-size="2.2" dy="-1.2">1</tspan></text>
<line x1="145.1" y1="328.3" x2="145.1" y2="329.5" stroke="#333" stroke-width="0.7"/>
<text font-size="3.2" text-anchor="middle" style="font-family:'Liberation Serif',serif;font-weight:bold" fill="#555" transform="translate(145.1,332.7) rotate(40)">10<tspan font-size="2.2" dy="-1.2">2</tspan></text>
<line x1="155.2" y1="328.3" x2="155.2" y2="329.5" stroke="#333" stroke-width="0.7"/>
<text font-size="3.2" text-anchor="middle" style="font-family:'Liberation Serif',serif;font-weight:bold" fill="#555" transform="translate(155.2,332.7) rotate(40)">10<tspan font-size="2.2" dy="-1.2">3</tspan></text>
<line x1="165.3" y1="328.3" x2="165.3" y2="329.5" stroke="#333" stroke-width="0.7"/>
<text font-size="3.2" text-anchor="middle" style="font-family:'Liberation Serif',serif;font-weight:bold" fill="#555" transform="translate(165.3,332.7) rotate(40)">10<tspan font-size="2.2" dy="-1.2">4</tspan></text>
<line x1="145.4" y1="287.3" x2="145.4" y2="328.3" stroke="#666" stroke-width="0.8"/>
<line x1="164.2" y1="287.3" x2="164.2" y2="328.3" stroke="#999" stroke-width="0.6"/>
<line x1="145.4" y1="307.8" x2="164.2" y2="307.8" stroke="#666" stroke-width="0.8"/>
<text x="131.5" y="290.8" font-size="2.8" text-anchor="start" style="font-family:'Liberation Serif',serif" fill="#444">B</text>
<text x="161.2" y="290.8" font-size="2.8" text-anchor="start" style="font-family:'Liberation Serif',serif" fill="#444">A</text>
<text x="146.9" y="326.3" font-size="2.8" text-anchor="start" style="font-family:'Liberation Serif',serif" fill="#444">C</text>
<text x="134.6" y="325" font-size="6" text-anchor="middle" style="font-family:'Liberation Serif',serif" fill="#222">7</text>
<text x="159.2" y="304.3" font-size="6" text-anchor="middle" style="font-family:'Liberation Serif',serif" fill="#222">89</text>
<text x="158.6" y="325" font-size="6" text-anchor="middle" style="font-family:'Liberation Serif',serif" fill="#222">2</text>
<path d="M155.3 294h0.5v0.5h-0.5zM149 293h0.5v0.5h-0.5zM155.1 293.2h0.5v0.5h-0.5zM154.6 294.5h0.5v0.5h-0.5zM153.8 294.3h0.5v0.5h-0.5zM153.5 294.1h0.5v0.5h-0.5zM154.5 294.1h0.5v0.5h-0.5zM153.6 293.9h0.5v0.5h-0.5zM152.8 292.5h0.5v0.5h-0.5zM149.8 291.7h0.5v0.5h-0.5zM150.7 291.4h0.5v0.5h-0.5zM153.7 293.2h0.5v0.5h-0.5zM154.6 296.8h0.5v0.5h-0.5zM153.8 293.1h0.5v0.5h-0.5zM153.2 293.2h0.5v0.5h-0.5zM153.1 295.5h0.5v0.5h-0.5zM155.1 295.1h0.5v0.5h-0.5zM153.1 295.2h0.5v0.5h-0.5zM153.9 294.5h0.5v0.5h-0.5zM150.8 292.3h0.5v0.5h-0.5zM152.9 293.1h0.5v0.5h-0.5zM151.8 291.1h0.5v0.5h-0.5zM151.4 293h0.5v0.5h-0.5zM153.1 292.3h0.5v0.5h-0.5zM152.4 295.1h0.5v0.5h-0.5zM152.9 291.4h0.5v0.5h-0.5zM152.3 293.2h0.5v0.5h-0.5zM154.6 293.9h0.5v0.5h-0.5zM154.8 294.1h0.5v0.5h-0.5zM154.5 295h0.5v0.5h-0.5zM155 294h0.5v0.5h-0.5zM153.6 297.4h0.5v0.5h-0.5zM150.7 293.1h0.5v0.5h-0.5zM153.4 292.8h0.5v0.5h-0.5zM153.9 293.4h0.5v0.5h-0.5zM153.9 293.8h0.5v0.5h-0.5zM151.2 294h0.5v0.5h-0.5zM155.8 294.9h0.5v0.5h-0.5zM153.1 291.7h0.5v0.5h-0.5zM153.1 293.4h0.5v0.5h-0.5zM151.4 291.1h0.5v0.5h-0.5zM153.3 294.4h0.5v0.5h-0.5zM153.7 295.8h0.5v0.5h-0.5zM149.6 293h0.5v0.5h-0.5zM152.6 294.7h0.5v0.5h-0.5zM152.6 292.3h0.5v0.5h-0.5zM152.5 293.7h0.5v0.5h-0.5zM151.5 292.3h0.5v0.5h-0.5zM153 294.3h0.5v0.5h-0.5zM152.3 293.7h0.5v0.5h-0.5zM151.8 292.8h0.5v0.5h-0.5zM152.9 294.3h0.5v0.5h-0.5zM155.1 293.7h0.5v0.5h-0.5zM153.3 295.4h0.5v0.5h-0.5zM153.9 293.2h0.5v0.5h-0.5zM153.3 292h0.5v0.5h-0.5zM149.3 291.9h0.5v0.5h-0.5zM151.5 291.7h0.5v0.5h-0.5zM154.2 293.2h0.5v0.5h-0.5zM152.8 293.4h0.5v0.5h-0.5zM152.3 292.1h0.5v0.5h-0.5zM155.7 292h0.5v0.5h-0.5zM152.6 294h0.5v0.5h-0.5zM152.3 293.1h0.5v0.5h-0.5zM153.1 293.6h0.5v0.5h-0.5zM152.1 294.3h0.5v0.5h-0.5zM153.4 295h0.5v0.5h-0.5zM152.8 291.4h0.5v0.5h-0.5zM150 292.3h0.5v0.5h-0.5zM153.3 291.8h0.5v0.5h-0.5zM151.7 294.4h0.5v0.5h-0.5zM153.1 292.7h0.5v0.5h-0.5zM152.5 293.4h0.5v0.5h-0.5zM152 292.9h0.5v0.5h-0.5zM151.6 293.3h0.5v0.5h-0.5zM155.1 295.3h0.5v0.5h-0.5zM150.7 295.2h0.5v0.5h-0.5zM152.4 291.9h0.5v0.5h-0.5zM150.3 293h0.5v0.5h-0.5zM153 292.7h0.5v0.5h-0.5zM151.4 292.8h0.5v0.5h-0.5zM153 294.1h0.5v0.5h-0.5zM153.5 291.1h0.5v0.5h-0.5zM151.7 293.4h0.5v0.5h-0.5zM153.2 294.2h0.5v0.5h-0.5zM150.3 294.4h0.5v0.5h-0.5zM150.8 292.7h0.5v0.5h-0.5zM151.9 292.7h0.5v0.5h-0.5zM151.4 293.9h0.5v0.5h-0.5zM153.9 293.9h0.5v0.5h-0.5zM150.6 292.3h0.5v0.5h-0.5zM152.5 293.7h0.5v0.5h-0.5zM151.8 292.9h0.5v0.5h-0.5zM156.7 294.2h0.5v0.5h-0.5zM152.2 290.8h0.5v0.5h-0.5zM151.5 294.7h0.5v0.5h-0.5zM153.9 292.4h0.5v0.5h-0.5zM153.9 293.7h0.5v0.5h-0.5zM151.4 293.9h0.5v0.5h-0.5zM151.7 292.8h0.5v0.5h-0.5zM152.7 293.5h0.5v0.5h-0.5zM151.9 293.5h0.5v0.5h-0.5zM152.6 293.5h0.5v0.5h-0.5zM153.2 292.8h0.5v0.5h-0.5zM150.5 292.8h0.5v0.5h-0.5zM154.5 294h0.5v0.5h-0.5zM153 292.6h0.5v0.5h-0.5zM150.9 291.7h0.5v0.5h-0.5zM151.2 292.6h0.5v0.5h-0.5zM150.2 292.7h0.5v0.5h-0.5zM150.2 293.5h0.5v0.5h-0.5zM152.6 291.5h0.5v0.5h-0.5zM151.8 293.4h0.5v0.5h-0.5zM153.2 294.2h0.5v0.5h-0.5zM152.1 293.1h0.5v0.5h-0.5zM152.3 293.8h0.5v0.5h-0.5zM151.6 292.9h0.5v0.5h-0.5zM152.9 293h0.5v0.5h-0.5zM151 294.3h0.5v0.5h-0.5zM153.4 292.6h0.5v0.5h-0.5zM155.7 293.2h0.5v0.5h-0.5zM151.3 292.7h0.5v0.5h-0.5zM153.5 295h0.5v0.5h-0.5zM154.8 294.3h0.5v0.5h-0.5zM152.7 294h0.5v0.5h-0.5zM151.4 292.4h0.5v0.5h-0.5zM153.4 293.7h0.5v0.5h-0.5zM153 292.4h0.5v0.5h-0.5zM153 292h0.5v0.5h-0.5zM154.1 293.6h0.5v0.5h-0.5zM151.6 292.6h0.5v0.5h-0.5zM156.9 297.3h0.5v0.5h-0.5zM151.5 294.5h0.5v0.5h-0.5zM148.1 293.5h0.5v0.5h-0.5zM152.7 293.6h0.5v0.5h-0.5zM151.1 291.7h0.5v0.5h-0.5zM153 292.9h0.5v0.5h-0.5zM153.4 294.5h0.5v0.5h-0.5zM152.4 293.8h0.5v0.5h-0.5zM152.9 293.6h0.5v0.5h-0.5zM151.8 293.4h0.5v0.5h-0.5zM153.3 293.5h0.5v0.5h-0.5zM151.9 291.7h0.5v0.5h-0.5zM151 294.5h0.5v0.5h-0.5zM154.2 293.9h0.5v0.5h-0.5zM153.1 293.3h0.5v0.5h-0.5zM153.7 294.5h0.5v0.5h-0.5zM152.2 293.5h0.5v0.5h-0.5zM154.1 292h0.5v0.5h-0.5zM151.2 292.4h0.5v0.5h-0.5zM150.8 292.5h0.5v0.5h-0.5zM151.3 292.6h0.5v0.5h-0.5zM153.4 292.3h0.5v0.5h-0.5zM152.8 294.7h0.5v0.5h-0.5zM152.9 292.2h0.5v0.5h-0.5zM151.7 294.3h0.5v0.5h-0.5zM152.2 292.6h0.5v0.5h-0.5zM153.8 292.8h0.5v0.5h-0.5zM150.9 293.6h0.5v0.5h-0.5zM152.7 292.7h0.5v0.5h-0.5zM153.4 294.6h0.5v0.5h-0.5zM154.3 293.8h0.5v0.5h-0.5zM153.3 294h0.5v0.5h-0.5zM150.3 294.5h0.5v0.5h-0.5zM151.6 292.5h0.5v0.5h-0.5zM151.4 292.1h0.5v0.5h-0.5zM154.3 293.7h0.5v0.5h-0.5zM151.7 291.3h0.5v0.5h-0.5zM152.9 293.3h0.5v0.5h-0.5zM151 292.9h0.5v0.5h-0.5zM149.8 293.4h0.5v0.5h-0.5zM150.8 293.4h0.5v0.5h-0.5zM152.8 291.2h0.5v0.5h-0.5zM150.9 292.3h0.5v0.5h-0.5zM153.9 294.2h0.5v0.5h-0.5zM153.6 295.2h0.5v0.5h-0.5zM152.2 292.7h0.5v0.5h-0.5zM149.7 291.7h0.5v0.5h-0.5zM153.5 292.7h0.5v0.5h-0.5zM151.3 294h0.5v0.5h-0.5zM148.8 293.9h0.5v0.5h-0.5zM154.6 291.9h0.5v0.5h-0.5zM153.4 293.5h0.5v0.5h-0.5zM154 293.3h0.5v0.5h-0.5zM152.4 294.7h0.5v0.5h-0.5zM151.7 293.5h0.5v0.5h-0.5zM153.6 293.4h0.5v0.5h-0.5zM154 294.1h0.5v0.5h-0.5zM153.9 291.9h0.5v0.5h-0.5zM151 293.3h0.5v0.5h-0.5zM154.4 295.1h0.5v0.5h-0.5zM152.7 292.6h0.5v0.5h-0.5zM151 291h0.5v0.5h-0.5zM151.9 293.7h0.5v0.5h-0.5zM152.5 291.8h0.5v0.5h-0.5zM152.5 293.3h0.5v0.5h-0.5zM151.5 294.5h0.5v0.5h-0.5zM153.3 294.6h0.5v0.5h-0.5zM152.8 292.4h0.5v0.5h-0.5zM154.3 294.8h0.5v0.5h-0.5zM151.7 291.8h0.5v0.5h-0.5zM153.9 293h0.5v0.5h-0.5zM150.8 292.9h0.5v0.5h-0.5zM153.5 292.7h0.5v0.5h-0.5zM152.7 294.3h0.5v0.5h-0.5zM153.8 292h0.5v0.5h-0.5zM153.7 295.3h0.5v0.5h-0.5zM154 293.5h0.5v0.5h-0.5zM153.2 291.9h0.5v0.5h-0.5zM151.7 292.6h0.5v0.5h-0.5zM155.8 294h0.5v0.5h-0.5zM151.1 294.7h0.5v0.5h-0.5zM154.5 292.1h0.5v0.5h-0.5zM152.3 291.6h0.5v0.5h-0.5zM154.2 291.4h0.5v0.5h-0.5zM155.5 292.8h0.5v0.5h-0.5zM151 295.1h0.5v0.5h-0.5zM153.5 293.8h0.5v0.5h-0.5zM154 292.6h0.5v0.5h-0.5zM154 293.3h0.5v0.5h-0.5zM153.4 293.7h0.5v0.5h-0.5zM154.8 292.5h0.5v0.5h-0.5zM150.5 293.5h0.5v0.5h-0.5zM156.3 294.6h0.5v0.5h-0.5zM152.4 293.9h0.5v0.5h-0.5zM150.8 293h0.5v0.5h-0.5zM150.1 292.9h0.5v0.5h-0.5zM153.7 295.2h0.5v0.5h-0.5zM151.9 294.1h0.5v0.5h-0.5zM154.7 292.7h0.5v0.5h-0.5zM152.2 291.4h0.5v0.5h-0.5zM151.3 293.5h0.5v0.5h-0.5zM149.5 292.4h0.5v0.5h-0.5zM153.7 295h0.5v0.5h-0.5zM148.8 292.9h0.5v0.5h-0.5zM151.7 290.8h0.5v0.5h-0.5zM151.1 293.6h0.5v0.5h-0.5zM152.6 294h0.5v0.5h-0.5zM152.2 293.9h0.5v0.5h-0.5zM151.1 292h0.5v0.5h-0.5zM152.4 291.5h0.5v0.5h-0.5zM154.5 293.5h0.5v0.5h-0.5zM151.1 292.1h0.5v0.5h-0.5zM151.2 293.1h0.5v0.5h-0.5zM152.1 294.1h0.5v0.5h-0.5zM150.9 292.9h0.5v0.5h-0.5zM150.3 292.4h0.5v0.5h-0.5zM154.7 293.6h0.5v0.5h-0.5zM154 293.5h0.5v0.5h-0.5zM151 292.1h0.5v0.5h-0.5zM150.9 293.3h0.5v0.5h-0.5zM153 296.3h0.5v0.5h-0.5zM155.2 294.7h0.5v0.5h-0.5zM151.1 293.1h0.5v0.5h-0.5zM151.2 295.4h0.5v0.5h-0.5zM151.5 294.3h0.5v0.5h-0.5zM150.6 293.7h0.5v0.5h-0.5zM150.8 292.5h0.5v0.5h-0.5zM152.9 293.5h0.5v0.5h-0.5zM152.5 293.2h0.5v0.5h-0.5zM151.3 292.9h0.5v0.5h-0.5zM152.5 292.4h0.5v0.5h-0.5zM153.5 293.7h0.5v0.5h-0.5zM151.5 294.4h0.5v0.5h-0.5zM151.8 291.2h0.5v0.5h-0.5zM154.6 293.3h0.5v0.5h-0.5zM154.9 294.2h0.5v0.5h-0.5zM151.3 294.2h0.5v0.5h-0.5zM153.3 294.4h0.5v0.5h-0.5zM152.7 294.9h0.5v0.5h-0.5zM154 293.3h0.5v0.5h-0.5zM150.3 292.8h0.5v0.5h-0.5zM152.7 292.3h0.5v0.5h-0.5zM152.3 294.8h0.5v0.5h-0.5zM151.9 294.3h0.5v0.5h-0.5zM151.2 292h0.5v0.5h-0.5zM154.1 293.4h0.5v0.5h-0.5zM153 294.4h0.5v0.5h-0.5zM155.1 292.6h0.5v0.5h-0.5zM153.5 293.7h0.5v0.5h-0.5zM152.8 295.2h0.5v0.5h-0.5zM152.3 292.6h0.5v0.5h-0.5zM153.4 291.4h0.5v0.5h-0.5zM153.2 292.5h0.5v0.5h-0.5zM153.1 292.7h0.5v0.5h-0.5zM153.4 293.2h0.5v0.5h-0.5zM151.5 293.6h0.5v0.5h-0.5zM153.8 291.9h0.5v0.5h-0.5zM150.7 292.6h0.5v0.5h-0.5zM152 294.5h0.5v0.5h-0.5zM155 294.3h0.5v0.5h-0.5zM154.3 293.3h0.5v0.5h-0.5zM150.5 293.2h0.5v0.5h-0.5zM149.9 294.4h0.5v0.5h-0.5zM153 294.6h0.5v0.5h-0.5zM151.6 291.5h0.5v0.5h-0.5zM152.3 293.7h0.5v0.5h-0.5zM152.3 292.7h0.5v0.5h-0.5zM152.7 293.1h0.5v0.5h-0.5zM154.8 292.4h0.5v0.5h-0.5zM149.2 292.5h0.5v0.5h-0.5zM153 291.8h0.5v0.5h-0.5zM152.6 293.7h0.5v0.5h-0.5zM153.1 293.7h0.5v0.5h-0.5zM151.5 291.6h0.5v0.5h-0.5zM154.1 293.3h0.5v0.5h-0.5zM150.5 294.4h0.5v0.5h-0.5zM153.8 290.7h0.5v0.5h-0.5zM156.6 294.3h0.5v0.5h-0.5zM150.2 293.8h0.5v0.5h-0.5zM153.1 294.7h0.5v0.5h-0.5zM152.6 291.6h0.5v0.5h-0.5zM152.4 292.8h0.5v0.5h-0.5zM153.1 293.2h0.5v0.5h-0.5zM153.5 292.3h0.5v0.5h-0.5zM151.8 292.6h0.5v0.5h-0.5zM153.3 291.7h0.5v0.5h-0.5zM152.6 295.7h0.5v0.5h-0.5zM149.9 293.8h0.5v0.5h-0.5zM152.8 294.3h0.5v0.5h-0.5zM152.7 293.6h0.5v0.5h-0.5zM153.2 293.9h0.5v0.5h-0.5zM150.8 292.8h0.5v0.5h-0.5zM155.4 295.3h0.5v0.5h-0.5zM151.3 292.1h0.5v0.5h-0.5zM152.4 294.3h0.5v0.5h-0.5zM154 293h0.5v0.5h-0.5zM149 292.5h0.5v0.5h-0.5zM150.1 294h0.5v0.5h-0.5zM154.9 294.5h0.5v0.5h-0.5zM153.5 294.1h0.5v0.5h-0.5zM155.4 295h0.5v0.5h-0.5zM154.8 292.6h0.5v0.5h-0.5zM151.8 293.1h0.5v0.5h-0.5zM149.2 292.3h0.5v0.5h-0.5zM152.6 293.2h0.5v0.5h-0.5zM156.5 293.9h0.5v0.5h-0.5zM152.3 293.1h0.5v0.5h-0.5zM152.1 291.8h0.5v0.5h-0.5zM154.3 293.7h0.5v0.5h-0.5zM153.2 293.5h0.5v0.5h-0.5zM151.4 291.4h0.5v0.5h-0.5zM152.2 293.8h0.5v0.5h-0.5zM152.4 294h0.5v0.5h-0.5zM151.4 292.8h0.5v0.5h-0.5zM152.8 293.3h0.5v0.5h-0.5zM152.9 294.8h0.5v0.5h-0.5zM152 293.3h0.5v0.5h-0.5zM151.6 293.7h0.5v0.5h-0.5zM153 292.6h0.5v0.5h-0.5z" fill="#000" fill-opacity="1.0"/>
<path d="M148.1 293.1h0.5v0.5h-0.5zM149.5 298.2h0.5v0.5h-0.5zM149.1 297h0.5v0.5h-0.5zM150.3 304.9h0.5v0.5h-0.5zM152.3 307h0.5v0.5h-0.5zM150.3 299.2h0.5v0.5h-0.5zM153.8 303.3h0.5v0.5h-0.5zM151.3 298.3h0.5v0.5h-0.5zM149 299.3h0.5v0.5h-0.5zM148.9 295.3h0.5v0.5h-0.5zM147.2 296.1h0.5v0.5h-0.5zM149.8 299.6h0.5v0.5h-0.5zM148.3 293.2h0.5v0.5h-0.5zM152.1 300.6h0.5v0.5h-0.5zM151.5 296.8h0.5v0.5h-0.5zM147.5 288.9h0.5v0.5h-0.5zM150.6 301.6h0.5v0.5h-0.5zM152.6 305.8h0.5v0.5h-0.5zM146.5 291.7h0.5v0.5h-0.5zM149 295.1h0.5v0.5h-0.5zM149.6 295.7h0.5v0.5h-0.5zM147.2 295.2h0.5v0.5h-0.5zM150.2 296.5h0.5v0.5h-0.5zM150.1 294.9h0.5v0.5h-0.5zM149.4 296.7h0.5v0.5h-0.5zM149.1 297.2h0.5v0.5h-0.5zM147.6 292.1h0.5v0.5h-0.5zM148.4 298.6h0.5v0.5h-0.5zM148.2 293.9h0.5v0.5h-0.5zM153.8 301.6h0.5v0.5h-0.5zM149.3 295.1h0.5v0.5h-0.5zM152.8 302.7h0.5v0.5h-0.5zM150.5 303.1h0.5v0.5h-0.5zM147.7 291.4h0.5v0.5h-0.5zM152.1 301.7h0.5v0.5h-0.5zM149 299.4h0.5v0.5h-0.5zM149.8 303.4h0.5v0.5h-0.5zM147.6 296.7h0.5v0.5h-0.5zM151.9 302.7h0.5v0.5h-0.5zM149.3 296.5h0.5v0.5h-0.5zM149.2 299.3h0.5v0.5h-0.5zM149.2 297.1h0.5v0.5h-0.5zM152 300.1h0.5v0.5h-0.5zM150.5 298.5h0.5v0.5h-0.5zM150 292.3h0.5v0.5h-0.5zM148.2 297.4h0.5v0.5h-0.5zM148.8 295.3h0.5v0.5h-0.5zM150.1 304.6h0.5v0.5h-0.5zM148.5 294.2h0.5v0.5h-0.5zM146.6 295.9h0.5v0.5h-0.5zM149.9 295.9h0.5v0.5h-0.5zM149.2 300.1h0.5v0.5h-0.5zM152 301.4h0.5v0.5h-0.5zM152.2 303.4h0.5v0.5h-0.5zM149.1 299.5h0.5v0.5h-0.5zM150.3 300.7h0.5v0.5h-0.5zM150.5 304.6h0.5v0.5h-0.5zM147.6 296.8h0.5v0.5h-0.5zM147.9 302.4h0.5v0.5h-0.5zM149 296.3h0.5v0.5h-0.5zM150 298.1h0.5v0.5h-0.5zM153.3 301.6h0.5v0.5h-0.5zM150.5 301.7h0.5v0.5h-0.5zM152.9 298.8h0.5v0.5h-0.5zM150.6 295.3h0.5v0.5h-0.5zM150.9 303.1h0.5v0.5h-0.5zM149 296.5h0.5v0.5h-0.5zM152.3 301.9h0.5v0.5h-0.5zM151.5 298.7h0.5v0.5h-0.5zM149.4 296.7h0.5v0.5h-0.5zM153 297.4h0.5v0.5h-0.5zM149 301.5h0.5v0.5h-0.5zM149.9 295.2h0.5v0.5h-0.5zM150.5 298.2h0.5v0.5h-0.5zM149.8 299.4h0.5v0.5h-0.5zM151.5 295.8h0.5v0.5h-0.5zM150.4 302.8h0.5v0.5h-0.5zM147.4 295.3h0.5v0.5h-0.5zM147.8 297.8h0.5v0.5h-0.5zM148.4 295.7h0.5v0.5h-0.5zM149.2 298.7h0.5v0.5h-0.5zM147.5 291.8h0.5v0.5h-0.5zM150.4 302.4h0.5v0.5h-0.5zM149 298.4h0.5v0.5h-0.5zM150.5 299.1h0.5v0.5h-0.5zM150 296.8h0.5v0.5h-0.5zM149.5 301.1h0.5v0.5h-0.5zM150.9 302.7h0.5v0.5h-0.5zM148.6 297.2h0.5v0.5h-0.5zM148.8 293.4h0.5v0.5h-0.5zM151.7 299.3h0.5v0.5h-0.5zM150.5 294.9h0.5v0.5h-0.5zM149.5 297.5h0.5v0.5h-0.5zM149.2 300.3h0.5v0.5h-0.5zM150.9 299.6h0.5v0.5h-0.5zM150.4 297.5h0.5v0.5h-0.5zM148.6 296.1h0.5v0.5h-0.5zM148 295.8h0.5v0.5h-0.5zM149.8 301.1h0.5v0.5h-0.5zM149.2 304h0.5v0.5h-0.5z" fill="#888" fill-opacity="1.0"/>
<line x1="159.5" y1="297.8" x2="188" y2="297.8" stroke="#000" stroke-width="1.1"/>
<path d="M192,297.8 L187.5,295.9 L187.5,299.7 Z" fill="#000"/>
<rect x="190.5" y="289.4" width="39.2" height="40.2" stroke="#8a8a8a" stroke-width="0.7" fill="none"/>
<line x1="190.5" y1="289.4" x2="190.5" y2="329.6" stroke="#333" stroke-width="0.8"/>
<line x1="190.5" y1="329.6" x2="229.7" y2="329.6" stroke="#333" stroke-width="0.8"/>
<line x1="189.3" y1="294.9" x2="190.5" y2="294.9" stroke="#333" stroke-width="0.7"/>
<text font-size="3.2" text-anchor="end" style="font-family:'Liberation Serif',serif;font-weight:bold" fill="#555" transform="translate(189.2,295.2) rotate(40)">10<tspan font-size="2.2" dy="-1.2">4</tspan></text>
<line x1="189.3" y1="305" x2="190.5" y2="305" stroke="#333" stroke-width="0.7"/>
<text font-size="3.2" text-anchor="end" style="font-family:'Liberation Serif',serif;font-weight:bold" fill="#555" transform="translate(189.2,305.3) rotate(40)">10<tspan font-size="2.2" dy="-1.2">3</tspan></text>
<line x1="189.3" y1="315.1" x2="190.5" y2="315.1" stroke="#333" stroke-width="0.7"/>
<text font-size="3.2" text-anchor="end" style="font-family:'Liberation Serif',serif;font-weight:bold" fill="#555" transform="translate(189.2,315.4) rotate(40)">10<tspan font-size="2.2" dy="-1.2">2</tspan></text>
<line x1="189.3" y1="325.2" x2="190.5" y2="325.2" stroke="#333" stroke-width="0.7"/>
<text font-size="3.2" text-anchor="end" style="font-family:'Liberation Serif',serif;font-weight:bold" fill="#555" transform="translate(189.2,325.5) rotate(40)">10<tspan font-size="2.2" dy="-1.2">1</tspan></text>
<line x1="195.5" y1="329.6" x2="195.5" y2="330.8" stroke="#333" stroke-width="0.7"/>
<text font-size="3.2" text-anchor="middle" style="font-family:'Liberation Serif',serif;font-weight:bold" fill="#555" transform="translate(195.5,334) rotate(40)">10<tspan font-size="2.2" dy="-1.2">1</tspan></text>
<line x1="205.6" y1="329.6" x2="205.6" y2="330.8" stroke="#333" stroke-width="0.7"/>
<text font-size="3.2" text-anchor="middle" style="font-family:'Liberation Serif',serif;font-weight:bold" fill="#555" transform="translate(205.6,334) rotate(40)">10<tspan font-size="2.2" dy="-1.2">2</tspan></text>
<line x1="215.7" y1="329.6" x2="215.7" y2="330.8" stroke="#333" stroke-width="0.7"/>
<text font-size="3.2" text-anchor="middle" style="font-family:'Liberation Serif',serif;font-weight:bold" fill="#555" transform="translate(215.7,334) rotate(40)">10<tspan font-size="2.2" dy="-1.2">3</tspan></text>
<line x1="225.8" y1="329.6" x2="225.8" y2="330.8" stroke="#333" stroke-width="0.7"/>
<text font-size="3.2" text-anchor="middle" style="font-family:'Liberation Serif',serif;font-weight:bold" fill="#555" transform="translate(225.8,334) rotate(40)">10<tspan font-size="2.2" dy="-1.2">4</tspan></text>
<rect x="204.3" y="291.7" width="21.6" height="37.2" stroke="#666" stroke-width="0.7" fill="none"/>
<line x1="204.3" y1="303.4" x2="225.9" y2="303.4" stroke="#555" stroke-width="0.9"/>
<text x="205.3" y="295.4" font-size="2.6" text-anchor="start" style="font-family:'Liberation Serif',serif" fill="#444">A1</text>
<text x="205.3" y="327.8" font-size="2.6" text-anchor="start" style="font-family:'Liberation Serif',serif" fill="#444">A4</text>
<text x="219.6" y="299.4" font-size="6" text-anchor="middle" style="font-family:'Liberation Serif',serif" fill="#222">99</text>
<text x="219.6" y="326.3" font-size="6" text-anchor="middle" style="font-family:'Liberation Serif',serif" fill="#222">0.3</text>
<path d="M210.5 300.4h0.5v0.5h-0.5zM211.4 299.9h0.5v0.5h-0.5zM211.4 299.1h0.5v0.5h-0.5zM213.6 300.2h0.5v0.5h-0.5zM211.4 299h0.5v0.5h-0.5zM212.6 299.6h0.5v0.5h-0.5zM214.1 299.9h0.5v0.5h-0.5zM210.1 300.7h0.5v0.5h-0.5zM213.9 299.2h0.5v0.5h-0.5zM208.2 301.2h0.5v0.5h-0.5zM212.3 299.4h0.5v0.5h-0.5zM210.7 300.8h0.5v0.5h-0.5zM210.7 301.4h0.5v0.5h-0.5zM210.1 300.4h0.5v0.5h-0.5zM213.7 301.8h0.5v0.5h-0.5zM211.9 300.9h0.5v0.5h-0.5zM210.8 300.3h0.5v0.5h-0.5zM210.4 300.6h0.5v0.5h-0.5zM213.1 299.8h0.5v0.5h-0.5zM209.3 300.2h0.5v0.5h-0.5zM215.3 301h0.5v0.5h-0.5zM211.7 300.4h0.5v0.5h-0.5zM208.3 299.5h0.5v0.5h-0.5zM214.4 299.2h0.5v0.5h-0.5zM214.9 299.9h0.5v0.5h-0.5zM215.4 302.8h0.5v0.5h-0.5zM214.4 300.6h0.5v0.5h-0.5zM212.6 300.1h0.5v0.5h-0.5zM210.6 300.4h0.5v0.5h-0.5zM205.5 300.1h0.5v0.5h-0.5zM210.9 299.5h0.5v0.5h-0.5zM211 300.8h0.5v0.5h-0.5zM210 300.5h0.5v0.5h-0.5zM208.9 300.2h0.5v0.5h-0.5zM209.3 300.7h0.5v0.5h-0.5zM209.5 300.6h0.5v0.5h-0.5zM207.7 300.1h0.5v0.5h-0.5zM213.6 300h0.5v0.5h-0.5zM211.6 299.8h0.5v0.5h-0.5zM212.4 301.1h0.5v0.5h-0.5zM213.7 301.7h0.5v0.5h-0.5zM214 300.1h0.5v0.5h-0.5zM211.7 300.8h0.5v0.5h-0.5zM211.8 299.5h0.5v0.5h-0.5zM215.4 302.8h0.5v0.5h-0.5zM211.6 298.5h0.5v0.5h-0.5zM215 300.7h0.5v0.5h-0.5zM215.8 300.1h0.5v0.5h-0.5zM212.5 301.1h0.5v0.5h-0.5zM208.7 299.8h0.5v0.5h-0.5zM212.4 301h0.5v0.5h-0.5zM212.2 298.5h0.5v0.5h-0.5zM206.9 300.1h0.5v0.5h-0.5zM214.5 299.6h0.5v0.5h-0.5zM212.2 301.2h0.5v0.5h-0.5zM209.6 299h0.5v0.5h-0.5zM212 300.1h0.5v0.5h-0.5zM211.3 300.2h0.5v0.5h-0.5zM211.3 300.6h0.5v0.5h-0.5zM210.5 300.2h0.5v0.5h-0.5zM210.4 299.6h0.5v0.5h-0.5zM212.2 299.9h0.5v0.5h-0.5zM212.5 300.5h0.5v0.5h-0.5zM213.6 301.1h0.5v0.5h-0.5zM207.6 299.9h0.5v0.5h-0.5zM212.7 300.6h0.5v0.5h-0.5zM211.6 301.2h0.5v0.5h-0.5zM212.8 299.5h0.5v0.5h-0.5zM211.7 301.2h0.5v0.5h-0.5zM211.8 299.5h0.5v0.5h-0.5zM213 301h0.5v0.5h-0.5zM213.7 300.8h0.5v0.5h-0.5zM211.7 301.1h0.5v0.5h-0.5zM209.4 301.4h0.5v0.5h-0.5zM212.2 300.7h0.5v0.5h-0.5zM212.9 301.2h0.5v0.5h-0.5zM207.3 300.6h0.5v0.5h-0.5zM211.3 299.8h0.5v0.5h-0.5zM213.2 301.3h0.5v0.5h-0.5zM212.2 300h0.5v0.5h-0.5zM211.7 299.7h0.5v0.5h-0.5zM216.3 300.5h0.5v0.5h-0.5zM213.2 301.8h0.5v0.5h-0.5zM209.8 299.8h0.5v0.5h-0.5zM207.2 299.7h0.5v0.5h-0.5zM208.9 300.2h0.5v0.5h-0.5zM211.1 300.4h0.5v0.5h-0.5zM211.6 300h0.5v0.5h-0.5zM211.7 300.4h0.5v0.5h-0.5zM210.1 300h0.5v0.5h-0.5zM210.4 299.3h0.5v0.5h-0.5zM211.4 299h0.5v0.5h-0.5zM212.5 300.5h0.5v0.5h-0.5zM211.8 301.3h0.5v0.5h-0.5zM213.3 300.3h0.5v0.5h-0.5zM212.1 301.4h0.5v0.5h-0.5zM211.2 300.6h0.5v0.5h-0.5zM212.3 299.7h0.5v0.5h-0.5zM212 300.2h0.5v0.5h-0.5zM211 300.7h0.5v0.5h-0.5zM212.7 299.9h0.5v0.5h-0.5zM211 300.2h0.5v0.5h-0.5zM209.7 300.5h0.5v0.5h-0.5zM211.1 299.8h0.5v0.5h-0.5zM213.3 300.5h0.5v0.5h-0.5zM209.3 300.1h0.5v0.5h-0.5zM211.1 300.6h0.5v0.5h-0.5zM215.8 301.3h0.5v0.5h-0.5zM214.2 300.6h0.5v0.5h-0.5zM212.4 300.9h0.5v0.5h-0.5zM211.3 300.6h0.5v0.5h-0.5zM210.6 300.8h0.5v0.5h-0.5zM209.7 301.5h0.5v0.5h-0.5zM204.4 298.5h0.5v0.5h-0.5zM211.2 300.6h0.5v0.5h-0.5zM211.8 299.2h0.5v0.5h-0.5zM212.3 299.8h0.5v0.5h-0.5zM211.9 300.1h0.5v0.5h-0.5zM211 299.2h0.5v0.5h-0.5zM209 299.7h0.5v0.5h-0.5zM209.4 300.3h0.5v0.5h-0.5zM208.8 300.2h0.5v0.5h-0.5zM212.5 300h0.5v0.5h-0.5zM209.6 299.9h0.5v0.5h-0.5zM213 301.6h0.5v0.5h-0.5zM215.6 301h0.5v0.5h-0.5zM212.7 300.7h0.5v0.5h-0.5zM211.4 299.6h0.5v0.5h-0.5zM210.8 301.2h0.5v0.5h-0.5zM214.1 300.3h0.5v0.5h-0.5zM208.4 301.4h0.5v0.5h-0.5zM211.5 300.7h0.5v0.5h-0.5zM211.1 299h0.5v0.5h-0.5zM212.1 299.7h0.5v0.5h-0.5zM210.9 299.9h0.5v0.5h-0.5zM211 302.1h0.5v0.5h-0.5zM214.4 299.3h0.5v0.5h-0.5zM208.5 299.7h0.5v0.5h-0.5zM210.2 300.8h0.5v0.5h-0.5zM214.5 300.2h0.5v0.5h-0.5zM212.6 300.4h0.5v0.5h-0.5zM207.7 300.8h0.5v0.5h-0.5zM214.8 300.2h0.5v0.5h-0.5zM212.7 300.1h0.5v0.5h-0.5zM211.3 300h0.5v0.5h-0.5zM211.2 300.4h0.5v0.5h-0.5zM210.3 300.5h0.5v0.5h-0.5zM209 300.7h0.5v0.5h-0.5zM209.6 298.8h0.5v0.5h-0.5zM213.1 300.3h0.5v0.5h-0.5zM210.5 301h0.5v0.5h-0.5zM211.4 301.9h0.5v0.5h-0.5zM212.3 299.4h0.5v0.5h-0.5zM210.5 299.8h0.5v0.5h-0.5zM210.9 301.6h0.5v0.5h-0.5zM216.7 302.3h0.5v0.5h-0.5zM212.3 300.9h0.5v0.5h-0.5zM211.8 298.8h0.5v0.5h-0.5zM214.1 302.2h0.5v0.5h-0.5zM210.5 300.3h0.5v0.5h-0.5zM210.1 300.1h0.5v0.5h-0.5zM209.8 299.3h0.5v0.5h-0.5zM213.8 299.2h0.5v0.5h-0.5zM213.4 299.8h0.5v0.5h-0.5zM211 298.8h0.5v0.5h-0.5zM212.7 299.8h0.5v0.5h-0.5zM216.3 300.3h0.5v0.5h-0.5zM211.9 301h0.5v0.5h-0.5zM209.6 299.5h0.5v0.5h-0.5zM209.4 300.6h0.5v0.5h-0.5zM212 301.2h0.5v0.5h-0.5zM208.7 299.4h0.5v0.5h-0.5zM211.2 300h0.5v0.5h-0.5zM212.1 301.3h0.5v0.5h-0.5zM211.7 299.8h0.5v0.5h-0.5zM211.4 299.8h0.5v0.5h-0.5zM210.2 301.7h0.5v0.5h-0.5zM212.8 301.9h0.5v0.5h-0.5zM211.1 300.3h0.5v0.5h-0.5zM209 300.3h0.5v0.5h-0.5zM212.9 301.1h0.5v0.5h-0.5zM209.2 300.2h0.5v0.5h-0.5zM213.2 300.3h0.5v0.5h-0.5zM212.8 300.2h0.5v0.5h-0.5zM211.5 300h0.5v0.5h-0.5zM208.6 299.4h0.5v0.5h-0.5zM211.8 300.2h0.5v0.5h-0.5zM211.5 300h0.5v0.5h-0.5zM213.2 300.5h0.5v0.5h-0.5zM212.2 300.1h0.5v0.5h-0.5zM214 300.6h0.5v0.5h-0.5zM212.3 302.2h0.5v0.5h-0.5zM212.3 299.3h0.5v0.5h-0.5zM210.2 300.5h0.5v0.5h-0.5zM209 299h0.5v0.5h-0.5zM211.2 299.2h0.5v0.5h-0.5zM213.6 301h0.5v0.5h-0.5zM210.9 301.2h0.5v0.5h-0.5zM210.2 299.3h0.5v0.5h-0.5zM213.2 300.6h0.5v0.5h-0.5zM211 301.1h0.5v0.5h-0.5zM211.2 300.9h0.5v0.5h-0.5zM211.9 301.3h0.5v0.5h-0.5zM212.5 300.2h0.5v0.5h-0.5zM214.4 300.5h0.5v0.5h-0.5zM214.8 299.8h0.5v0.5h-0.5zM211.6 298.7h0.5v0.5h-0.5zM212.5 301.5h0.5v0.5h-0.5zM210.7 300.7h0.5v0.5h-0.5zM211.1 301.4h0.5v0.5h-0.5zM212.1 300.7h0.5v0.5h-0.5zM213.6 299.5h0.5v0.5h-0.5zM212.8 300.7h0.5v0.5h-0.5zM214 300.7h0.5v0.5h-0.5zM212.6 300.5h0.5v0.5h-0.5zM209.6 299.8h0.5v0.5h-0.5zM211.1 299.3h0.5v0.5h-0.5zM211.4 300h0.5v0.5h-0.5zM215 300.6h0.5v0.5h-0.5zM211.7 300.5h0.5v0.5h-0.5zM212.8 299.3h0.5v0.5h-0.5zM208.1 301.2h0.5v0.5h-0.5zM209.9 299.5h0.5v0.5h-0.5zM213.7 300.9h0.5v0.5h-0.5zM209.9 300.8h0.5v0.5h-0.5zM209.3 301.4h0.5v0.5h-0.5zM210.9 300.6h0.5v0.5h-0.5zM211.5 301.8h0.5v0.5h-0.5zM209.7 300.1h0.5v0.5h-0.5zM215.6 299.3h0.5v0.5h-0.5zM210.6 300.5h0.5v0.5h-0.5zM211.1 300.7h0.5v0.5h-0.5zM213.7 299.8h0.5v0.5h-0.5zM210.2 301.2h0.5v0.5h-0.5zM215.2 298.8h0.5v0.5h-0.5zM212.5 301.3h0.5v0.5h-0.5zM210.2 299.6h0.5v0.5h-0.5zM209.3 300h0.5v0.5h-0.5zM209.3 300.7h0.5v0.5h-0.5zM210.2 300.6h0.5v0.5h-0.5zM208.5 300.7h0.5v0.5h-0.5zM212.8 301.3h0.5v0.5h-0.5zM212 302.2h0.5v0.5h-0.5zM213.3 300.7h0.5v0.5h-0.5zM214.6 300.5h0.5v0.5h-0.5zM211.8 301.7h0.5v0.5h-0.5zM210.6 300.3h0.5v0.5h-0.5zM212 300.6h0.5v0.5h-0.5zM211 301.1h0.5v0.5h-0.5zM215.6 300.6h0.5v0.5h-0.5zM208.7 299.7h0.5v0.5h-0.5zM208.8 299.1h0.5v0.5h-0.5zM209.5 301h0.5v0.5h-0.5zM211.8 301h0.5v0.5h-0.5zM211.3 301.1h0.5v0.5h-0.5zM210.7 301.3h0.5v0.5h-0.5zM213.2 300.8h0.5v0.5h-0.5zM208.7 299.2h0.5v0.5h-0.5zM212 299.7h0.5v0.5h-0.5zM211.2 300.2h0.5v0.5h-0.5zM214.1 300.2h0.5v0.5h-0.5zM211.8 300.1h0.5v0.5h-0.5zM210.1 300.6h0.5v0.5h-0.5zM213.4 299.5h0.5v0.5h-0.5zM214.4 302.4h0.5v0.5h-0.5zM211.8 300.8h0.5v0.5h-0.5zM209.5 299.9h0.5v0.5h-0.5zM212.1 300.4h0.5v0.5h-0.5zM214.1 300.1h0.5v0.5h-0.5zM211 300.7h0.5v0.5h-0.5zM211.4 300.2h0.5v0.5h-0.5zM211.3 300.7h0.5v0.5h-0.5zM207.8 301.9h0.5v0.5h-0.5zM212.9 299.8h0.5v0.5h-0.5zM209.8 299.3h0.5v0.5h-0.5zM212.3 299.1h0.5v0.5h-0.5zM216.2 300.5h0.5v0.5h-0.5zM208.8 301.6h0.5v0.5h-0.5zM211.5 300.8h0.5v0.5h-0.5zM211.1 300.2h0.5v0.5h-0.5zM215.4 299.4h0.5v0.5h-0.5zM212 299.9h0.5v0.5h-0.5zM210.8 300.3h0.5v0.5h-0.5zM208 300.4h0.5v0.5h-0.5zM211.9 300.9h0.5v0.5h-0.5zM210.4 300.8h0.5v0.5h-0.5zM210.6 300.9h0.5v0.5h-0.5zM214.1 301.2h0.5v0.5h-0.5zM208.8 300.1h0.5v0.5h-0.5zM209.5 301.6h0.5v0.5h-0.5zM211.9 299.5h0.5v0.5h-0.5zM208.6 301h0.5v0.5h-0.5zM209.6 300.5h0.5v0.5h-0.5zM210.9 300.2h0.5v0.5h-0.5zM210.7 300.3h0.5v0.5h-0.5zM214.6 300.1h0.5v0.5h-0.5zM212.5 300.9h0.5v0.5h-0.5zM210.2 299.4h0.5v0.5h-0.5zM209.8 300.6h0.5v0.5h-0.5zM211.8 301.2h0.5v0.5h-0.5zM212.2 300.6h0.5v0.5h-0.5zM211.5 300.6h0.5v0.5h-0.5zM211.6 300.9h0.5v0.5h-0.5zM209.9 301h0.5v0.5h-0.5zM214.6 300.7h0.5v0.5h-0.5zM212.6 299.6h0.5v0.5h-0.5zM211.7 299.3h0.5v0.5h-0.5zM213.4 300.7h0.5v0.5h-0.5zM213.6 301.5h0.5v0.5h-0.5zM210.1 300.8h0.5v0.5h-0.5zM214.5 302.4h0.5v0.5h-0.5zM211.3 300.8h0.5v0.5h-0.5zM210.3 300.7h0.5v0.5h-0.5zM212.7 301.6h0.5v0.5h-0.5zM211.2 300.4h0.5v0.5h-0.5zM212.5 300.4h0.5v0.5h-0.5zM215.5 299.2h0.5v0.5h-0.5zM208.2 299.6h0.5v0.5h-0.5zM212.8 300.6h0.5v0.5h-0.5zM212.3 299.4h0.5v0.5h-0.5zM212.7 300.9h0.5v0.5h-0.5zM214.6 301.4h0.5v0.5h-0.5zM210.3 299.7h0.5v0.5h-0.5zM209.3 299.8h0.5v0.5h-0.5zM211.3 301.3h0.5v0.5h-0.5zM214.7 300.8h0.5v0.5h-0.5zM212.7 300.4h0.5v0.5h-0.5zM209 300.5h0.5v0.5h-0.5zM210.1 299h0.5v0.5h-0.5zM209.9 301.3h0.5v0.5h-0.5zM209.3 301.2h0.5v0.5h-0.5zM208.9 300h0.5v0.5h-0.5zM212.5 300.2h0.5v0.5h-0.5zM209.7 300.2h0.5v0.5h-0.5zM214.7 301.3h0.5v0.5h-0.5zM211.9 300.9h0.5v0.5h-0.5zM213.8 301.7h0.5v0.5h-0.5zM211 299.7h0.5v0.5h-0.5zM209.6 300.2h0.5v0.5h-0.5zM210.9 300.3h0.5v0.5h-0.5zM210.3 302.1h0.5v0.5h-0.5zM210.2 301.3h0.5v0.5h-0.5zM209.9 299.6h0.5v0.5h-0.5zM209.3 299.3h0.5v0.5h-0.5zM208.4 299.4h0.5v0.5h-0.5zM211.1 300.9h0.5v0.5h-0.5zM208.1 300.3h0.5v0.5h-0.5zM211.3 300.4h0.5v0.5h-0.5zM207.4 300.3h0.5v0.5h-0.5zM212.8 301.4h0.5v0.5h-0.5zM211 301.3h0.5v0.5h-0.5zM211.6 299.7h0.5v0.5h-0.5zM212.5 301.3h0.5v0.5h-0.5zM212 300.4h0.5v0.5h-0.5zM211 300.8h0.5v0.5h-0.5zM208 300.2h0.5v0.5h-0.5zM209 299.7h0.5v0.5h-0.5zM211.9 301.4h0.5v0.5h-0.5zM211.5 299.7h0.5v0.5h-0.5zM216.8 301.3h0.5v0.5h-0.5zM206.3 299.7h0.5v0.5h-0.5zM210.1 299.8h0.5v0.5h-0.5zM213.5 302.2h0.5v0.5h-0.5zM211.7 299.4h0.5v0.5h-0.5zM213.2 300.7h0.5v0.5h-0.5zM210.7 300.5h0.5v0.5h-0.5zM209.3 300.3h0.5v0.5h-0.5zM212.2 301.4h0.5v0.5h-0.5zM215.4 300.4h0.5v0.5h-0.5zM212.2 299.9h0.5v0.5h-0.5zM211.7 301.3h0.5v0.5h-0.5zM212.8 300.3h0.5v0.5h-0.5zM215 301.5h0.5v0.5h-0.5zM213.9 300.8h0.5v0.5h-0.5zM214.1 300.6h0.5v0.5h-0.5zM213.2 300.6h0.5v0.5h-0.5zM211.5 299.3h0.5v0.5h-0.5zM213.4 301.1h0.5v0.5h-0.5zM210.3 300.3h0.5v0.5h-0.5zM212.7 301h0.5v0.5h-0.5z" fill="#000" fill-opacity="1.0"/>
<path d="M214.4 301.1h0.5v0.5h-0.5zM211.2 301.3h0.5v0.5h-0.5zM209.1 302.8h0.5v0.5h-0.5zM208.2 300.2h0.5v0.5h-0.5zM209.7 298.9h0.5v0.5h-0.5zM214 299.4h0.5v0.5h-0.5zM215.7 302.1h0.5v0.5h-0.5zM217.4 300.2h0.5v0.5h-0.5zM209.5 300.3h0.5v0.5h-0.5zM213.2 299.8h0.5v0.5h-0.5zM209.4 298h0.5v0.5h-0.5zM210.7 301.2h0.5v0.5h-0.5zM217.3 299.8h0.5v0.5h-0.5zM213.8 301.6h0.5v0.5h-0.5zM213.5 299.5h0.5v0.5h-0.5zM213.8 301.1h0.5v0.5h-0.5zM208.1 300.4h0.5v0.5h-0.5zM215.8 298.8h0.5v0.5h-0.5zM211.7 302.8h0.5v0.5h-0.5zM213 300.9h0.5v0.5h-0.5zM208.6 298.6h0.5v0.5h-0.5zM212.3 300.1h0.5v0.5h-0.5zM209.2 301.3h0.5v0.5h-0.5zM210.1 302.4h0.5v0.5h-0.5zM207.1 298.9h0.5v0.5h-0.5zM213.6 300.5h0.5v0.5h-0.5zM205.9 302.3h0.5v0.5h-0.5zM212.3 298.7h0.5v0.5h-0.5zM210.9 299.2h0.5v0.5h-0.5zM207.7 302.7h0.5v0.5h-0.5zM215.7 301.8h0.5v0.5h-0.5zM205.3 302h0.5v0.5h-0.5zM207.7 300.3h0.5v0.5h-0.5zM208.8 302.3h0.5v0.5h-0.5zM212.3 301.7h0.5v0.5h-0.5zM209 300.2h0.5v0.5h-0.5zM214.2 300.1h0.5v0.5h-0.5zM209.6 301.6h0.5v0.5h-0.5zM209.9 302.2h0.5v0.5h-0.5zM212.5 301.7h0.5v0.5h-0.5zM218.5 300.2h0.5v0.5h-0.5zM217.8 299.2h0.5v0.5h-0.5zM207.8 297.7h0.5v0.5h-0.5zM208.2 299.9h0.5v0.5h-0.5zM213 302.5h0.5v0.5h-0.5zM218.6 300.2h0.5v0.5h-0.5zM214.2 300.7h0.5v0.5h-0.5zM209.3 298.4h0.5v0.5h-0.5zM213.5 299.7h0.5v0.5h-0.5zM212.8 300h0.5v0.5h-0.5zM212.2 299.7h0.5v0.5h-0.5zM211.8 299.1h0.5v0.5h-0.5zM207.8 301.1h0.5v0.5h-0.5zM213.3 299.3h0.5v0.5h-0.5zM207.4 298.8h0.5v0.5h-0.5zM216.6 301.3h0.5v0.5h-0.5zM211.7 300.3h0.5v0.5h-0.5zM217.2 301.7h0.5v0.5h-0.5zM210.2 302.5h0.5v0.5h-0.5zM212.6 300.5h0.5v0.5h-0.5zM209.3 300.9h0.5v0.5h-0.5zM215.3 299h0.5v0.5h-0.5zM204.8 301.8h0.5v0.5h-0.5zM214.2 302.8h0.5v0.5h-0.5zM212.5 298.9h0.5v0.5h-0.5zM213.4 301.1h0.5v0.5h-0.5zM207 298.8h0.5v0.5h-0.5zM205.2 301h0.5v0.5h-0.5zM206.1 301.4h0.5v0.5h-0.5zM210 301.8h0.5v0.5h-0.5zM213.6 299.7h0.5v0.5h-0.5zM209.2 301.9h0.5v0.5h-0.5zM208.3 302.2h0.5v0.5h-0.5zM212.6 302.1h0.5v0.5h-0.5zM208.5 301.9h0.5v0.5h-0.5zM209.8 301.2h0.5v0.5h-0.5zM212.7 300.2h0.5v0.5h-0.5zM210.4 297.8h0.5v0.5h-0.5zM208.1 301.7h0.5v0.5h-0.5zM206.8 298.1h0.5v0.5h-0.5z" fill="#666" fill-opacity="1.0"/>
<text x="0" y="0" font-size="7" text-anchor="middle" style="font-family:'Liberation Serif',serif;font-weight:bold" fill="#000" stroke="#000" stroke-width="0.25" transform="translate(60,318.8) rotate(-90)">CD25</text>
<line x1="57" y1="305.5" x2="57" y2="296" stroke="#000" stroke-width="1.1"/>
<path d="M57,293 L55.3,296.5 L58.7,296.5 Z" fill="#000"/>
<text x="86" y="342.2" font-size="6.8" text-anchor="middle" style="font-family:'Liberation Serif',serif;font-weight:bold" fill="#000" stroke="#000" stroke-width="0.25" >CD4/CD8</text>
<text x="0" y="0" font-size="6.9" text-anchor="middle" style="font-family:'Liberation Serif',serif;font-weight:bold" fill="#000" stroke="#000" stroke-width="0.25" transform="translate(121.1,306.7) rotate(-90)">CD45RB</text>
<line x1="118.7" y1="293.5" x2="118.7" y2="284" stroke="#000" stroke-width="1.1"/>
<path d="M118.7,281 L117,284.5 L120.4,284.5 Z" fill="#000"/>
<text x="150.5" y="344.2" font-size="6.8" text-anchor="middle" style="font-family:'Liberation Serif',serif;font-weight:bold" fill="#000" stroke="#000" stroke-width="0.25" >CD62L</text>
<text x="0" y="0" font-size="6.6" text-anchor="middle" style="font-family:'Liberation Serif',serif;font-weight:bold" fill="#000" stroke="#000" stroke-width="0.25" transform="translate(182.2,318) rotate(-90)">CD44</text>
<line x1="180.1" y1="309" x2="180.1" y2="301.5" stroke="#000" stroke-width="1.1"/>
<path d="M180.1,298.5 L178.4,302 L181.8,302 Z" fill="#000"/>
<text x="210.6" y="345" font-size="6.8" text-anchor="middle" style="font-family:'Liberation Serif',serif;font-weight:bold" fill="#000" stroke="#000" stroke-width="0.25" >CD62L</text>
<line x1="255.5" y1="179.5" x2="256.5" y2="179.5" stroke="#444" stroke-width="0.5"/>
<text x="255.2" y="180.5" font-size="2.9" text-anchor="end" style="font-family:'Liberation Serif',serif;font-weight:bold" fill="#333">0</text>
<line x1="255.5" y1="173.3" x2="256.5" y2="173.3" stroke="#444" stroke-width="0.5"/>
<text x="255.2" y="174.3" font-size="2.9" text-anchor="end" style="font-family:'Liberation Serif',serif;font-weight:bold" fill="#333">10</text>
<line x1="255.5" y1="167" x2="256.5" y2="167" stroke="#444" stroke-width="0.5"/>
<text x="255.2" y="168" font-size="2.9" text-anchor="end" style="font-family:'Liberation Serif',serif;font-weight:bold" fill="#333">20</text>
<line x1="255.5" y1="160.8" x2="256.5" y2="160.8" stroke="#444" stroke-width="0.5"/>
<text x="255.2" y="161.8" font-size="2.9" text-anchor="end" style="font-family:'Liberation Serif',serif;font-weight:bold" fill="#333">30</text>
<line x1="255.5" y1="154.6" x2="256.5" y2="154.6" stroke="#444" stroke-width="0.5"/>
<text x="255.2" y="155.6" font-size="2.9" text-anchor="end" style="font-family:'Liberation Serif',serif;font-weight:bold" fill="#333">40</text>
<line x1="255.5" y1="148.3" x2="256.5" y2="148.3" stroke="#444" stroke-width="0.5"/>
<text x="255.2" y="149.3" font-size="2.9" text-anchor="end" style="font-family:'Liberation Serif',serif;font-weight:bold" fill="#333">50</text>
<line x1="255.5" y1="142.1" x2="256.5" y2="142.1" stroke="#444" stroke-width="0.5"/>
<text x="255.2" y="143.1" font-size="2.9" text-anchor="end" style="font-family:'Liberation Serif',serif;font-weight:bold" fill="#333">60</text>
<line x1="262.5" y1="179.5" x2="262.5" y2="180.5" stroke="#444" stroke-width="0.6"/>
<text font-size="3.2" text-anchor="middle" style="font-family:'Liberation Serif',serif;font-weight:bold" fill="#555" transform="translate(262.5,183.7) rotate(40)">10<tspan font-size="2.2" dy="-1.2">1</tspan></text>
<line x1="270.8" y1="179.5" x2="270.8" y2="180.5" stroke="#444" stroke-width="0.6"/>
<text font-size="3.2" text-anchor="middle" style="font-family:'Liberation Serif',serif;font-weight:bold" fill="#555" transform="translate(270.8,183.7) rotate(40)">10<tspan font-size="2.2" dy="-1.2">2</tspan></text>
<line x1="279" y1="179.5" x2="279" y2="180.5" stroke="#444" stroke-width="0.6"/>
<text font-size="3.2" text-anchor="middle" style="font-family:'Liberation Serif',serif;font-weight:bold" fill="#555" transform="translate(279,183.7) rotate(40)">10<tspan font-size="2.2" dy="-1.2">3</tspan></text>
<line x1="287.2" y1="179.5" x2="287.2" y2="180.5" stroke="#444" stroke-width="0.6"/>
<text font-size="3.2" text-anchor="middle" style="font-family:'Liberation Serif',serif;font-weight:bold" fill="#555" transform="translate(287.2,183.7) rotate(40)">10<tspan font-size="2.2" dy="-1.2">4</tspan></text>
<path d="M256.5,179.5 L256.5,179.4 L256.8,179.3 L257.1,179.5 L257.4,179 L257.7,179 L258,179.3 L258.3,179.1 L258.6,179.3 L258.9,179.3 L259.2,179 L259.5,179.3 L259.8,179.4 L260.1,179.1 L260.4,179.3 L260.7,179.1 L261,179.3 L261.3,179.4 L261.6,179.3 L261.9,179.2 L262.2,178.8 L262.5,179.1 L262.8,179.2 L263.1,178.9 L263.4,178.9 L263.7,179 L264,179.2 L264.3,179 L264.6,179.1 L264.9,178.9 L265.2,178.9 L265.5,179 L265.8,179 L266.1,179 L266.4,179.1 L266.7,178.9 L267,179.1 L267.3,178.5 L267.6,178.7 L267.9,178.8 L268.2,178.7 L268.5,178.6 L268.8,178.1 L269.1,178.2 L269.4,178 L269.7,177.3 L270,177.6 L270.3,178 L270.6,177.9 L270.9,177.8 L271.2,177.3 L271.5,176 L271.8,175.7 L272.1,174.2 L272.4,174 L272.7,172.5 L273,173.6 L273.3,171.1 L273.6,170.4 L273.9,170 L274.2,167.7 L274.5,165.9 L274.8,164.2 L275.2,166.3 L275.5,164.7 L275.8,156.9 L276.1,162.7 L276.4,153.7 L276.7,158.1 L277,162.9 L277.3,154.1 L277.6,154.6 L277.9,158.3 L278.2,162 L278.5,159.7 L278.8,160 L279.1,165.3 L279.4,159.9 L279.7,160.4 L280,164 L280.3,163.1 L280.6,159.6 L280.9,161.6 L281.2,166.3 L281.5,159.2 L281.8,159.5 L282.1,160.5 L282.4,159.5 L282.7,162 L283,151.7 L283.3,154.6 L283.6,148 L283.9,148.6 L284.2,154.5 L284.5,156.2 L284.8,155.6 L285.1,150.5 L285.4,152.2 L285.7,162.2 L286,166.1 L286.3,167.5 L286.6,173.7 L286.9,173.3 L287.2,176.8 L287.5,178.2 L287.8,178.2 L288.1,178.2 L288.4,178.2 L288.7,178.4 L289,178.4 L289.3,178.6 L289.6,178.4 L289.9,178.4 L290.2,178.4 L290.5,178.7 L290.8,178.4 L291.1,178.8 L291.4,178.9 L291.7,178.5 L292,178.8 L292.3,178.5 L292.6,179.1 L292.9,179.3 L293.2,178.7 L293.5,179.2 L293.5,179.5 Z" fill="#7a7a7a" stroke="#111" stroke-width="0.5" stroke-linejoin="round"/>
<path d="M270,179.4 L270,177.8 M270.9,179.1 L270.9,178 M271.8,178.8 L271.8,175.7 M272.7,177.2 L272.7,172.6 M273.6,176.6 L273.6,170.6 M274.5,177.7 L274.5,167.5 M275.5,178.7 L275.5,165.1 M276.4,174.2 L276.4,156.5 M277.3,171 L277.3,156.7 M278.2,172.9 L278.2,163.3 M279.1,174.1 L279.1,165.4 M280,178.1 L280,165.2 M280.9,177.4 L280.9,163.5 M281.8,174.4 L281.8,161.1 M282.7,173.6 L282.7,163.5 M283.6,175.6 L283.6,149.8 M284.5,171.6 L284.5,159.3 M285.4,177.2 L285.4,155.6 M286.3,174.9 L286.3,168.4 M287.2,178.9 L287.2,176.9" stroke="#2a2a2a" stroke-width="0.35" fill="none"/>
<rect x="256.5" y="141.3" width="37" height="38.2" stroke="#8a8a8a" stroke-width="0.7" fill="none"/>
<line x1="256.5" y1="141.3" x2="256.5" y2="179.5" stroke="#222" stroke-width="0.8"/>
<line x1="256.5" y1="179.5" x2="293.5" y2="179.5" stroke="#222" stroke-width="0.8"/>
<line x1="280.9" y1="141.3" x2="280.9" y2="179.5" stroke="#777" stroke-width="0.55"/>
<line x1="284.2" y1="141.3" x2="284.2" y2="179.5" stroke="#777" stroke-width="0.55"/>
<text x="289" y="151.5" font-size="6" text-anchor="middle" style="font-family:'Liberation Serif',serif" fill="#222">50</text>
<line x1="304" y1="179.5" x2="305" y2="179.5" stroke="#444" stroke-width="0.5"/>
<text x="303.7" y="180.5" font-size="2.9" text-anchor="end" style="font-family:'Liberation Serif',serif;font-weight:bold" fill="#333">0</text>
<line x1="304" y1="173.3" x2="305" y2="173.3" stroke="#444" stroke-width="0.5"/>
<text x="303.7" y="174.3" font-size="2.9" text-anchor="end" style="font-family:'Liberation Serif',serif;font-weight:bold" fill="#333">10</text>
<line x1="304" y1="167" x2="305" y2="167" stroke="#444" stroke-width="0.5"/>
<text x="303.7" y="168" font-size="2.9" text-anchor="end" style="font-family:'Liberation Serif',serif;font-weight:bold" fill="#333">20</text>
<line x1="304" y1="160.8" x2="305" y2="160.8" stroke="#444" stroke-width="0.5"/>
<text x="303.7" y="161.8" font-size="2.9" text-anchor="end" style="font-family:'Liberation Serif',serif;font-weight:bold" fill="#333">30</text>
<line x1="304" y1="154.6" x2="305" y2="154.6" stroke="#444" stroke-width="0.5"/>
<text x="303.7" y="155.6" font-size="2.9" text-anchor="end" style="font-family:'Liberation Serif',serif;font-weight:bold" fill="#333">40</text>
<line x1="304" y1="148.3" x2="305" y2="148.3" stroke="#444" stroke-width="0.5"/>
<text x="303.7" y="149.3" font-size="2.9" text-anchor="end" style="font-family:'Liberation Serif',serif;font-weight:bold" fill="#333">50</text>
<line x1="304" y1="142.1" x2="305" y2="142.1" stroke="#444" stroke-width="0.5"/>
<text x="303.7" y="143.1" font-size="2.9" text-anchor="end" style="font-family:'Liberation Serif',serif;font-weight:bold" fill="#333">60</text>
<line x1="311" y1="179.5" x2="311" y2="180.5" stroke="#444" stroke-width="0.6"/>
<text font-size="3.2" text-anchor="middle" style="font-family:'Liberation Serif',serif;font-weight:bold" fill="#555" transform="translate(311,183.7) rotate(40)">10<tspan font-size="2.2" dy="-1.2">1</tspan></text>
<line x1="319.6" y1="179.5" x2="319.6" y2="180.5" stroke="#444" stroke-width="0.6"/>
<text font-size="3.2" text-anchor="middle" style="font-family:'Liberation Serif',serif;font-weight:bold" fill="#555" transform="translate(319.6,183.7) rotate(40)">10<tspan font-size="2.2" dy="-1.2">2</tspan></text>
<line x1="328.2" y1="179.5" x2="328.2" y2="180.5" stroke="#444" stroke-width="0.6"/>
<text font-size="3.2" text-anchor="middle" style="font-family:'Liberation Serif',serif;font-weight:bold" fill="#555" transform="translate(328.2,183.7) rotate(40)">10<tspan font-size="2.2" dy="-1.2">3</tspan></text>
<line x1="336.9" y1="179.5" x2="336.9" y2="180.5" stroke="#444" stroke-width="0.6"/>
<text font-size="3.2" text-anchor="middle" style="font-family:'Liberation Serif',serif;font-weight:bold" fill="#555" transform="translate(336.9,183.7) rotate(40)">10<tspan font-size="2.2" dy="-1.2">4</tspan></text>
<path d="M305,179.5 L305,179.4 L305.3,179.3 L305.6,179.3 L305.9,178.6 L306.2,178.8 L306.5,179.1 L306.8,178.8 L307.1,178.3 L307.4,178.7 L307.7,178.6 L308,178.6 L308.3,178.8 L308.6,178.3 L308.9,178.8 L309.2,178.2 L309.5,178 L309.8,177.9 L310.1,178 L310.4,177.8 L310.7,176.9 L311,177.7 L311.3,177.7 L311.6,176.5 L311.9,176.3 L312.2,176.8 L312.5,176.1 L312.8,177.2 L313.1,175.1 L313.4,176.3 L313.7,175.6 L314,174.2 L314.3,174.9 L314.6,174.7 L314.9,174.1 L315.2,172.9 L315.5,172.9 L315.8,172.8 L316.1,173.2 L316.4,174.1 L316.7,172.3 L317,170.3 L317.3,170.4 L317.6,171.1 L317.9,169.2 L318.2,168.4 L318.5,171.5 L318.8,167.7 L319.1,165.5 L319.4,168.4 L319.7,164 L320,160.8 L320.3,167.8 L320.6,163.7 L320.9,166.6 L321.2,160.9 L321.5,163 L321.8,169.5 L322.1,164.6 L322.4,163.9 L322.7,168.1 L323,168.3 L323.3,169.8 L323.6,168.8 L323.9,170.2 L324.2,167.6 L324.6,171.8 L324.9,172 L325.2,172.2 L325.5,172.3 L325.8,170.5 L326.1,171.4 L326.4,172.5 L326.7,172.9 L327,169.1 L327.3,170.9 L327.6,166.6 L327.9,169.5 L328.2,169.5 L328.5,166 L328.8,166.5 L329.1,166.3 L329.4,168.4 L329.7,165.2 L330,162 L330.3,166.5 L330.6,165.3 L330.9,166.4 L331.2,161.6 L331.5,162.9 L331.8,157.3 L332.1,156.2 L332.4,159.3 L332.7,156.8 L333,157.9 L333.3,160.2 L333.6,154.1 L333.9,164.6 L334.2,164.4 L334.5,164 L334.8,163.3 L335.1,160.3 L335.4,165.4 L335.7,152.6 L336,160.5 L336.3,152.7 L336.6,149.5 L336.9,145.3 L337.2,142.1 L337.5,145.9 L337.8,144.4 L338.1,151.5 L338.4,151.3 L338.7,147.4 L339,158.4 L339.3,161.5 L339.6,166.8 L339.9,171.2 L340.2,175.2 L340.5,177.3 L340.8,177.7 L341.1,177.9 L341.4,178.1 L341.7,177.9 L342,178.2 L342.3,178.4 L342.6,178.5 L342.9,179 L343.2,179.2 L343.5,179.3 L343.5,179.5 Z" fill="#7a7a7a" stroke="#111" stroke-width="0.5" stroke-linejoin="round"/>
<path d="M310.4,179.3 L310.4,177.9 M311.3,178.8 L311.3,177.7 M312.2,179 L312.2,177 M313.1,179.2 L313.1,175.3 M314,179.1 L314,174.5 M314.9,178.7 L314.9,174.3 M315.8,177 L315.8,173.1 M316.7,178.5 L316.7,173 M317.6,178.2 L317.6,171.8 M318.5,177.4 L318.5,171.6 M319.4,176.5 L319.4,168.5 M320.3,178.3 L320.3,169.2 M321.2,172.1 L321.2,162.8 M322.1,178.5 L322.1,165.6 M323,178.2 L323,169.7 M323.9,178.6 L323.9,170.5 M324.9,177.6 L324.9,172.7 M325.8,177.4 L325.8,171.2 M326.7,177 L326.7,173.4 M327.6,174.7 L327.6,167.3 M328.5,177 L328.5,166.8 M329.4,176.3 L329.4,169.7 M330.3,178.3 L330.3,167.5 M331.2,174.3 L331.2,162.9 M332.1,173.3 L332.1,158.3 M333,173.3 L333,159 M333.9,177.7 L333.9,164.7 M334.8,173.7 L334.8,165.2 M335.7,175.3 L335.7,156.5 M336.6,168.7 L336.6,150.1 M337.5,168.3 L337.5,148 M338.4,176 L338.4,152.4 M339.3,176.5 L339.3,161.7 M340.2,179.4 L340.2,175.3 M341.1,179.3 L341.1,178" stroke="#2a2a2a" stroke-width="0.35" fill="none"/>
<rect x="305" y="141.3" width="38.5" height="38.2" stroke="#8a8a8a" stroke-width="0.7" fill="none"/>
<line x1="305" y1="141.3" x2="305" y2="179.5" stroke="#222" stroke-width="0.8"/>
<line x1="305" y1="179.5" x2="343.5" y2="179.5" stroke="#222" stroke-width="0.8"/>
<line x1="324" y1="141.3" x2="324" y2="179.5" stroke="#777" stroke-width="0.55"/>
<line x1="338" y1="141.3" x2="338" y2="179.5" stroke="#777" stroke-width="0.55"/>
<line x1="324" y1="174.5" x2="338" y2="174.5" stroke="#666" stroke-width="0.55"/>
<text x="330" y="151.5" font-size="6" text-anchor="middle" style="font-family:'Liberation Serif',serif" fill="#222">76</text>
<line x1="352.5" y1="179.5" x2="353.5" y2="179.5" stroke="#444" stroke-width="0.5"/>
<text x="352.2" y="180.5" font-size="2.9" text-anchor="end" style="font-family:'Liberation Serif',serif;font-weight:bold" fill="#333">0</text>
<line x1="352.5" y1="173.3" x2="353.5" y2="173.3" stroke="#444" stroke-width="0.5"/>
<text x="352.2" y="174.3" font-size="2.9" text-anchor="end" style="font-family:'Liberation Serif',serif;font-weight:bold" fill="#333">10</text>
<line x1="352.5" y1="167" x2="353.5" y2="167" stroke="#444" stroke-width="0.5"/>
<text x="352.2" y="168" font-size="2.9" text-anchor="end" style="font-family:'Liberation Serif',serif;font-weight:bold" fill="#333">20</text>
<line x1="352.5" y1="160.8" x2="353.5" y2="160.8" stroke="#444" stroke-width="0.5"/>
<text x="352.2" y="161.8" font-size="2.9" text-anchor="end" style="font-family:'Liberation Serif',serif;font-weight:bold" fill="#333">30</text>
<line x1="352.5" y1="154.6" x2="353.5" y2="154.6" stroke="#444" stroke-width="0.5"/>
<text x="352.2" y="155.6" font-size="2.9" text-anchor="end" style="font-family:'Liberation Serif',serif;font-weight:bold" fill="#333">40</text>
<line x1="352.5" y1="148.3" x2="353.5" y2="148.3" stroke="#444" stroke-width="0.5"/>
<text x="352.2" y="149.3" font-size="2.9" text-anchor="end" style="font-family:'Liberation Serif',serif;font-weight:bold" fill="#333">50</text>
<line x1="352.5" y1="142.1" x2="353.5" y2="142.1" stroke="#444" stroke-width="0.5"/>
<text x="352.2" y="143.1" font-size="2.9" text-anchor="end" style="font-family:'Liberation Serif',serif;font-weight:bold" fill="#333">60</text>
<line x1="359.5" y1="179.5" x2="359.5" y2="180.5" stroke="#444" stroke-width="0.6"/>
<text font-size="3.2" text-anchor="middle" style="font-family:'Liberation Serif',serif;font-weight:bold" fill="#555" transform="translate(359.5,183.7) rotate(40)">10<tspan font-size="2.2" dy="-1.2">1</tspan></text>
<line x1="368.2" y1="179.5" x2="368.2" y2="180.5" stroke="#444" stroke-width="0.6"/>
<text font-size="3.2" text-anchor="middle" style="font-family:'Liberation Serif',serif;font-weight:bold" fill="#555" transform="translate(368.2,183.7) rotate(40)">10<tspan font-size="2.2" dy="-1.2">2</tspan></text>
<line x1="377" y1="179.5" x2="377" y2="180.5" stroke="#444" stroke-width="0.6"/>
<text font-size="3.2" text-anchor="middle" style="font-family:'Liberation Serif',serif;font-weight:bold" fill="#555" transform="translate(377,183.7) rotate(40)">10<tspan font-size="2.2" dy="-1.2">3</tspan></text>
<line x1="385.8" y1="179.5" x2="385.8" y2="180.5" stroke="#444" stroke-width="0.6"/>
<text font-size="3.2" text-anchor="middle" style="font-family:'Liberation Serif',serif;font-weight:bold" fill="#555" transform="translate(385.8,183.7) rotate(40)">10<tspan font-size="2.2" dy="-1.2">4</tspan></text>
<path d="M353.5,179.5 L353.5,178.9 L353.8,178.4 L354.1,178.2 L354.4,177.6 L354.7,177.1 L355,176.1 L355.3,174.5 L355.6,173.5 L355.9,173 L356.2,171.6 L356.5,171.5 L356.8,173 L357.1,170.3 L357.4,168.3 L357.7,170.6 L358,170.1 L358.3,169.8 L358.6,167.5 L358.9,166.8 L359.2,167.1 L359.5,163.9 L359.8,161.2 L360.1,162.6 L360.4,168 L360.7,163.1 L361,162 L361.3,166.2 L361.6,165.1 L361.9,164.8 L362.2,162.5 L362.5,156.4 L362.8,162.8 L363.1,157.7 L363.4,160.9 L363.7,164.2 L364,165.4 L364.3,170.9 L364.6,168.5 L364.9,163.3 L365.2,166.6 L365.5,166.6 L365.8,169.2 L366.1,167.4 L366.4,168 L366.7,169.1 L367,173.6 L367.3,171.4 L367.6,172.3 L367.9,174.3 L368.2,175.4 L368.5,175.7 L368.8,175.4 L369.1,176.4 L369.4,176.6 L369.7,178.2 L370,177.3 L370.3,176.6 L370.6,175.3 L370.9,175.7 L371.2,174.1 L371.5,172.9 L371.8,170.6 L372.1,164.8 L372.4,162 L372.7,168.5 L373,164.3 L373.3,160 L373.6,162.3 L373.9,156.4 L374.2,159.3 L374.5,148.1 L374.8,144.3 L375.1,150 L375.4,151.5 L375.7,152.5 L376,143.6 L376.3,149.6 L376.6,152.8 L376.9,156.4 L377.2,161.1 L377.5,148.9 L377.8,161.9 L378.1,162.2 L378.4,166.7 L378.7,165.2 L379,167.5 L379.3,173.3 L379.6,170.5 L379.9,173.4 L380.2,176.1 L380.5,178.2 L380.8,177.9 L381.1,178 L381.4,178.3 L381.7,177.6 L382,178.2 L382.3,178.7 L382.6,178.4 L382.9,178.6 L383.2,178.2 L383.5,178.2 L383.8,178.6 L384.1,178.8 L384.4,178 L384.7,178.6 L385,178.6 L385.3,178.7 L385.6,178.6 L385.9,178.6 L386.2,178.8 L386.5,178.7 L386.8,177.9 L387.1,178.9 L387.4,178.9 L387.7,178.9 L388,179 L388.3,179 L388.6,178.6 L388.9,178.7 L389.2,178.6 L389.5,178.5 L389.8,179.1 L390.1,179 L390.4,179.3 L390.7,178.8 L391,179.2 L391.3,179.1 L391.6,179.2 L391.9,179.3 L392.2,179.3 L392.5,179.3 L392.5,179.5 Z" fill="#7a7a7a" stroke="#111" stroke-width="0.5" stroke-linejoin="round"/>
<path d="M354.4,178.9 L354.4,177.9 M355.3,179 L355.3,175.1 M356.2,178.8 L356.2,171.9 M357.1,179.1 L357.1,170.9 M358,179.1 L358,171.1 M358.9,176.6 L358.9,167.6 M359.8,174.3 L359.8,161.8 M360.7,177.3 L360.7,164 M361.6,179.5 L361.6,167.1 M362.5,178.7 L362.5,156.8 M363.4,173.6 L363.4,163.2 M364.3,178 L364.3,171.5 M365.2,178.8 L365.2,166.6 M366.1,177 L366.1,167.9 M367,179.1 L367,174.4 M367.9,179.5 L367.9,174.6 M368.8,178.3 L368.8,175.8 M370.6,179.3 L370.6,175.8 M371.5,178 L371.5,173.5 M372.4,172.9 L372.4,164.1 M373.3,174.8 L373.3,162.3 M374.2,175.5 L374.2,161 M375.1,169.9 L375.1,152.8 M376,174.1 L376,143.7 M376.9,172.2 L376.9,157.6 M377.8,176.5 L377.8,162.7 M378.7,176.3 L378.7,166.1 M379.6,176.5 L379.6,171.3 M386.8,179.1 L386.8,178.1" stroke="#2a2a2a" stroke-width="0.35" fill="none"/>
<rect x="353.5" y="141.3" width="39" height="38.2" stroke="#8a8a8a" stroke-width="0.7" fill="none"/>
<line x1="353.5" y1="141.3" x2="353.5" y2="179.5" stroke="#222" stroke-width="0.8"/>
<line x1="353.5" y1="179.5" x2="392.5" y2="179.5" stroke="#222" stroke-width="0.8"/>
<line x1="367.6" y1="141.3" x2="367.6" y2="179.5" stroke="#777" stroke-width="0.55"/>
<line x1="383.4" y1="141.3" x2="383.4" y2="179.5" stroke="#777" stroke-width="0.55"/>
<line x1="367.6" y1="172.6" x2="383.4" y2="172.6" stroke="#666" stroke-width="0.55"/>
<text x="386.5" y="151.5" font-size="6" text-anchor="middle" style="font-family:'Liberation Serif',serif" fill="#222">50</text>
<line x1="255.5" y1="228.8" x2="256.5" y2="228.8" stroke="#444" stroke-width="0.5"/>
<text x="255.2" y="229.8" font-size="2.9" text-anchor="end" style="font-family:'Liberation Serif',serif;font-weight:bold" fill="#333">0</text>
<line x1="255.5" y1="222.5" x2="256.5" y2="222.5" stroke="#444" stroke-width="0.5"/>
<text x="255.2" y="223.5" font-size="2.9" text-anchor="end" style="font-family:'Liberation Serif',serif;font-weight:bold" fill="#333">10</text>
<line x1="255.5" y1="216.1" x2="256.5" y2="216.1" stroke="#444" stroke-width="0.5"/>
<text x="255.2" y="217.1" font-size="2.9" text-anchor="end" style="font-family:'Liberation Serif',serif;font-weight:bold" fill="#333">20</text>
<line x1="255.5" y1="209.8" x2="256.5" y2="209.8" stroke="#444" stroke-width="0.5"/>
<text x="255.2" y="210.8" font-size="2.9" text-anchor="end" style="font-family:'Liberation Serif',serif;font-weight:bold" fill="#333">30</text>
<line x1="255.5" y1="203.5" x2="256.5" y2="203.5" stroke="#444" stroke-width="0.5"/>
<text x="255.2" y="204.5" font-size="2.9" text-anchor="end" style="font-family:'Liberation Serif',serif;font-weight:bold" fill="#333">40</text>
<line x1="255.5" y1="197.1" x2="256.5" y2="197.1" stroke="#444" stroke-width="0.5"/>
<text x="255.2" y="198.1" font-size="2.9" text-anchor="end" style="font-family:'Liberation Serif',serif;font-weight:bold" fill="#333">50</text>
<line x1="255.5" y1="190.8" x2="256.5" y2="190.8" stroke="#444" stroke-width="0.5"/>
<text x="255.2" y="191.8" font-size="2.9" text-anchor="end" style="font-family:'Liberation Serif',serif;font-weight:bold" fill="#333">60</text>
<line x1="262.5" y1="228.8" x2="262.5" y2="229.8" stroke="#444" stroke-width="0.6"/>
<text font-size="3.2" text-anchor="middle" style="font-family:'Liberation Serif',serif;font-weight:bold" fill="#555" transform="translate(262.5,233) rotate(40)">10<tspan font-size="2.2" dy="-1.2">1</tspan></text>
<line x1="270.8" y1="228.8" x2="270.8" y2="229.8" stroke="#444" stroke-width="0.6"/>
<text font-size="3.2" text-anchor="middle" style="font-family:'Liberation Serif',serif;font-weight:bold" fill="#555" transform="translate(270.8,233) rotate(40)">10<tspan font-size="2.2" dy="-1.2">2</tspan></text>
<line x1="279" y1="228.8" x2="279" y2="229.8" stroke="#444" stroke-width="0.6"/>
<text font-size="3.2" text-anchor="middle" style="font-family:'Liberation Serif',serif;font-weight:bold" fill="#555" transform="translate(279,233) rotate(40)">10<tspan font-size="2.2" dy="-1.2">3</tspan></text>
<line x1="287.2" y1="228.8" x2="287.2" y2="229.8" stroke="#444" stroke-width="0.6"/>
<text font-size="3.2" text-anchor="middle" style="font-family:'Liberation Serif',serif;font-weight:bold" fill="#555" transform="translate(287.2,233) rotate(40)">10<tspan font-size="2.2" dy="-1.2">4</tspan></text>
<path d="M256.5,228.8 L256.5,228.4 L256.8,228 L257.1,228.5 L257.4,228.2 L257.7,228.2 L258,228.3 L258.3,228.5 L258.6,228.5 L258.9,228 L259.2,228.5 L259.5,228.5 L259.8,228.1 L260.1,228.3 L260.4,228.4 L260.7,228.5 L261,228.5 L261.3,228.1 L261.6,228.4 L261.9,228.3 L262.2,228.3 L262.5,228.1 L262.8,228.1 L263.1,227.8 L263.4,228.5 L263.7,228.3 L264,228.3 L264.3,228.1 L264.6,228.2 L264.9,228.2 L265.2,228 L265.5,227.9 L265.8,227.7 L266.1,227.6 L266.4,226.1 L266.7,226.1 L267,226.2 L267.3,226.9 L267.6,226 L267.9,226.2 L268.2,225.1 L268.5,225.6 L268.8,225 L269.1,224.2 L269.4,223.6 L269.7,222.2 L270,222.8 L270.3,219.4 L270.6,219.7 L270.9,218.1 L271.2,219.7 L271.5,217.4 L271.8,217.4 L272.1,216.8 L272.4,217.8 L272.7,213.6 L273,214.2 L273.3,204.8 L273.6,209.5 L273.9,213.2 L274.2,209.3 L274.5,207.3 L274.8,205.4 L275.2,193.5 L275.5,213.7 L275.8,190.8 L276.1,202.9 L276.4,201.7 L276.7,199.1 L277,202.7 L277.3,194 L277.6,197.1 L277.9,193.2 L278.2,205.6 L278.5,201.1 L278.8,201.8 L279.1,212.7 L279.4,206.7 L279.7,214.3 L280,213.8 L280.3,213.4 L280.6,217.6 L280.9,216.3 L281.2,218.5 L281.5,218.4 L281.8,221.2 L282.1,224.5 L282.4,224.3 L282.7,225.7 L283,226.4 L283.3,227.7 L283.6,227.7 L283.9,227.7 L284.2,227.5 L284.5,227.4 L284.8,227.3 L285.1,228.2 L285.4,228.2 L285.7,228.3 L286,227.7 L286.3,227.5 L286.6,228.1 L286.9,228.2 L287.2,228 L287.5,228 L287.8,228.4 L288.1,228.1 L288.4,228 L288.7,227.9 L289,228.4 L289.3,228.4 L289.6,228.3 L289.9,227.8 L290.2,228 L290.5,228.2 L290.8,228.5 L291.1,228.2 L291.4,228 L291.7,228.3 L292,228.4 L292.3,228.6 L292.6,228.6 L292.9,228.4 L293.2,228.2 L293.5,228.3 L293.5,228.8 Z" fill="#7a7a7a" stroke="#111" stroke-width="0.5" stroke-linejoin="round"/>
<path d="M266.4,228.7 L266.4,226.4 M267.3,228.7 L267.3,227 M268.2,228.5 L268.2,225.6 M269.1,228.6 L269.1,224.5 M270,227.7 L270,223.1 M270.9,228.5 L270.9,219.1 M271.8,224.4 L271.8,218 M272.7,223.3 L272.7,214.4 M273.6,226.7 L273.6,210.8 M274.5,220.4 L274.5,209.8 M275.5,225 L275.5,213.8 M276.4,223.9 L276.4,201.8 M277.3,227.9 L277.3,195.9 M278.2,226.5 L278.2,206 M279.1,225.5 L279.1,214.6 M280,223.3 L280,215.9 M280.9,226.7 L280.9,216.6 M281.8,225.9 L281.8,221.7 M282.7,228.4 L282.7,226.1" stroke="#2a2a2a" stroke-width="0.35" fill="none"/>
<rect x="256.5" y="190" width="37" height="38.8" stroke="#8a8a8a" stroke-width="0.7" fill="none"/>
<line x1="256.5" y1="190" x2="256.5" y2="228.8" stroke="#222" stroke-width="0.8"/>
<line x1="256.5" y1="228.8" x2="293.5" y2="228.8" stroke="#222" stroke-width="0.8"/>
<line x1="276.3" y1="190" x2="276.3" y2="228.8" stroke="#777" stroke-width="0.55"/>
<line x1="280.6" y1="190" x2="280.6" y2="228.8" stroke="#777" stroke-width="0.55"/>
<line x1="280.6" y1="218.3" x2="293.5" y2="218.3" stroke="#666" stroke-width="0.55"/>
<text x="288" y="200.5" font-size="6" text-anchor="middle" style="font-family:'Liberation Serif',serif" fill="#222">4</text>
<line x1="304" y1="228.8" x2="305" y2="228.8" stroke="#444" stroke-width="0.5"/>
<text x="303.7" y="229.8" font-size="2.9" text-anchor="end" style="font-family:'Liberation Serif',serif;font-weight:bold" fill="#333">0</text>
<line x1="304" y1="222.5" x2="305" y2="222.5" stroke="#444" stroke-width="0.5"/>
<text x="303.7" y="223.5" font-size="2.9" text-anchor="end" style="font-family:'Liberation Serif',serif;font-weight:bold" fill="#333">10</text>
<line x1="304" y1="216.1" x2="305" y2="216.1" stroke="#444" stroke-width="0.5"/>
<text x="303.7" y="217.1" font-size="2.9" text-anchor="end" style="font-family:'Liberation Serif',serif;font-weight:bold" fill="#333">20</text>
<line x1="304" y1="209.8" x2="305" y2="209.8" stroke="#444" stroke-width="0.5"/>
<text x="303.7" y="210.8" font-size="2.9" text-anchor="end" style="font-family:'Liberation Serif',serif;font-weight:bold" fill="#333">30</text>
<line x1="304" y1="203.5" x2="305" y2="203.5" stroke="#444" stroke-width="0.5"/>
<text x="303.7" y="204.5" font-size="2.9" text-anchor="end" style="font-family:'Liberation Serif',serif;font-weight:bold" fill="#333">40</text>
<line x1="304" y1="197.1" x2="305" y2="197.1" stroke="#444" stroke-width="0.5"/>
<text x="303.7" y="198.1" font-size="2.9" text-anchor="end" style="font-family:'Liberation Serif',serif;font-weight:bold" fill="#333">50</text>
<line x1="304" y1="190.8" x2="305" y2="190.8" stroke="#444" stroke-width="0.5"/>
<text x="303.7" y="191.8" font-size="2.9" text-anchor="end" style="font-family:'Liberation Serif',serif;font-weight:bold" fill="#333">60</text>
<line x1="311" y1="228.8" x2="311" y2="229.8" stroke="#444" stroke-width="0.6"/>
<text font-size="3.2" text-anchor="middle" style="font-family:'Liberation Serif',serif;font-weight:bold" fill="#555" transform="translate(311,233) rotate(40)">10<tspan font-size="2.2" dy="-1.2">1</tspan></text>
<line x1="319.6" y1="228.8" x2="319.6" y2="229.8" stroke="#444" stroke-width="0.6"/>
<text font-size="3.2" text-anchor="middle" style="font-family:'Liberation Serif',serif;font-weight:bold" fill="#555" transform="translate(319.6,233) rotate(40)">10<tspan font-size="2.2" dy="-1.2">2</tspan></text>
<line x1="328.2" y1="228.8" x2="328.2" y2="229.8" stroke="#444" stroke-width="0.6"/>
<text font-size="3.2" text-anchor="middle" style="font-family:'Liberation Serif',serif;font-weight:bold" fill="#555" transform="translate(328.2,233) rotate(40)">10<tspan font-size="2.2" dy="-1.2">3</tspan></text>
<line x1="336.9" y1="228.8" x2="336.9" y2="229.8" stroke="#444" stroke-width="0.6"/>
<text font-size="3.2" text-anchor="middle" style="font-family:'Liberation Serif',serif;font-weight:bold" fill="#555" transform="translate(336.9,233) rotate(40)">10<tspan font-size="2.2" dy="-1.2">4</tspan></text>
<path d="M305,228.8 L305,228.8 L305.3,228.6 L305.6,228.8 L305.9,228.4 L306.2,227.5 L306.5,228.4 L306.8,228.4 L307.1,228.5 L307.4,228.1 L307.7,228.5 L308,228.5 L308.3,228.3 L308.6,228.6 L308.9,228.6 L309.2,228.3 L309.5,228.4 L309.8,227.6 L310.1,228.6 L310.4,228.6 L310.7,227.8 L311,228.1 L311.3,228.2 L311.6,228.5 L311.9,228.5 L312.2,228.5 L312.5,228.5 L312.8,228.6 L313.1,228.4 L313.4,228.2 L313.7,228.2 L314,228.3 L314.3,228.5 L314.6,228.1 L314.9,228.5 L315.2,228.5 L315.5,227.7 L315.8,228.2 L316.1,228.1 L316.4,228.4 L316.7,228.5 L317,228.4 L317.3,228 L317.6,228.3 L317.9,227.9 L318.2,228.1 L318.5,228.3 L318.8,227.8 L319.1,228 L319.4,227.8 L319.7,228 L320,227.3 L320.3,227.2 L320.6,227.6 L320.9,227.6 L321.2,227.8 L321.5,226.6 L321.8,227.1 L322.1,227.3 L322.4,227.4 L322.7,227.3 L323,226.4 L323.3,226.4 L323.6,226.7 L323.9,226.8 L324.2,227.5 L324.6,226.9 L324.9,226.2 L325.2,226.5 L325.5,226.8 L325.8,226.5 L326.1,226.6 L326.4,226.5 L326.7,225.7 L327,225.3 L327.3,225.7 L327.6,225.5 L327.9,224.5 L328.2,224.6 L328.5,224.9 L328.8,224.8 L329.1,224.1 L329.4,223.6 L329.7,224.8 L330,224.5 L330.3,224.4 L330.6,220.8 L330.9,221.4 L331.2,219.8 L331.5,219.3 L331.8,219.3 L332.1,220.8 L332.4,215.8 L332.7,222.4 L333,218.5 L333.3,215.7 L333.6,216 L333.9,212.7 L334.2,204.5 L334.5,213.3 L334.8,210.5 L335.1,210.5 L335.4,204.2 L335.7,209.6 L336,202.1 L336.3,205.7 L336.6,195.1 L336.9,207.3 L337.2,193.9 L337.5,193.8 L337.8,190.8 L338.1,199.8 L338.4,206.5 L338.7,205.4 L339,217.4 L339.3,220.9 L339.6,222.5 L339.9,224.8 L340.2,226.1 L340.5,228.1 L340.8,228 L341.1,227.8 L341.4,228 L341.7,228.1 L342,227.8 L342.3,228.2 L342.6,228.1 L342.9,228.6 L343.2,228.6 L343.5,228.5 L343.5,228.8 Z" fill="#7a7a7a" stroke="#111" stroke-width="0.5" stroke-linejoin="round"/>
<path d="M320.3,228.3 L320.3,227.3 M323,228.6 L323,226.6 M323.9,228.1 L323.9,226.8 M324.9,228.7 L324.9,226.4 M325.8,227.9 L325.8,226.8 M326.7,227.6 L326.7,225.7 M327.6,228.1 L327.6,225.6 M328.5,227.9 L328.5,225.3 M329.4,227.8 L329.4,224.1 M330.3,227.6 L330.3,224.8 M331.2,227.4 L331.2,220.1 M332.1,226.5 L332.1,222 M333,224.8 L333,219.9 M333.9,223.3 L333.9,214.3 M334.8,225.2 L334.8,210.9 M335.7,222.7 L335.7,210.1 M336.6,216.3 L336.6,199.4 M337.5,224.8 L337.5,198.6 M338.4,222.1 L338.4,209.2 M339.3,228.5 L339.3,221.2 M340.2,228.6 L340.2,226.4" stroke="#2a2a2a" stroke-width="0.35" fill="none"/>
<rect x="305" y="190" width="38.5" height="38.8" stroke="#8a8a8a" stroke-width="0.7" fill="none"/>
<line x1="305" y1="190" x2="305" y2="228.8" stroke="#222" stroke-width="0.8"/>
<line x1="305" y1="228.8" x2="343.5" y2="228.8" stroke="#222" stroke-width="0.8"/>
<line x1="324" y1="190" x2="324" y2="228.8" stroke="#777" stroke-width="0.55"/>
<line x1="337.5" y1="190" x2="337.5" y2="228.8" stroke="#777" stroke-width="0.55"/>
<line x1="324" y1="214" x2="343.5" y2="214" stroke="#666" stroke-width="0.55"/>
<text x="330" y="200" font-size="6" text-anchor="middle" style="font-family:'Liberation Serif',serif" fill="#222">99</text>
<line x1="352.5" y1="228.8" x2="353.5" y2="228.8" stroke="#444" stroke-width="0.5"/>
<text x="352.2" y="229.8" font-size="2.9" text-anchor="end" style="font-family:'Liberation Serif',serif;font-weight:bold" fill="#333">0</text>
<line x1="352.5" y1="222.5" x2="353.5" y2="222.5" stroke="#444" stroke-width="0.5"/>
<text x="352.2" y="223.5" font-size="2.9" text-anchor="end" style="font-family:'Liberation Serif',serif;font-weight:bold" fill="#333">10</text>
<line x1="352.5" y1="216.1" x2="353.5" y2="216.1" stroke="#444" stroke-width="0.5"/>
<text x="352.2" y="217.1" font-size="2.9" text-anchor="end" style="font-family:'Liberation Serif',serif;font-weight:bold" fill="#333">20</text>
<line x1="352.5" y1="209.8" x2="353.5" y2="209.8" stroke="#444" stroke-width="0.5"/>
<text x="352.2" y="210.8" font-size="2.9" text-anchor="end" style="font-family:'Liberation Serif',serif;font-weight:bold" fill="#333">30</text>
<line x1="352.5" y1="203.5" x2="353.5" y2="203.5" stroke="#444" stroke-width="0.5"/>
<text x="352.2" y="204.5" font-size="2.9" text-anchor="end" style="font-family:'Liberation Serif',serif;font-weight:bold" fill="#333">40</text>
<line x1="352.5" y1="197.1" x2="353.5" y2="197.1" stroke="#444" stroke-width="0.5"/>
<text x="352.2" y="198.1" font-size="2.9" text-anchor="end" style="font-family:'Liberation Serif',serif;font-weight:bold" fill="#333">50</text>
<line x1="352.5" y1="190.8" x2="353.5" y2="190.8" stroke="#444" stroke-width="0.5"/>
<text x="352.2" y="191.8" font-size="2.9" text-anchor="end" style="font-family:'Liberation Serif',serif;font-weight:bold" fill="#333">60</text>
<line x1="359.5" y1="228.8" x2="359.5" y2="229.8" stroke="#444" stroke-width="0.6"/>
<text font-size="3.2" text-anchor="middle" style="font-family:'Liberation Serif',serif;font-weight:bold" fill="#555" transform="translate(359.5,233) rotate(40)">10<tspan font-size="2.2" dy="-1.2">1</tspan></text>
<line x1="368.2" y1="228.8" x2="368.2" y2="229.8" stroke="#444" stroke-width="0.6"/>
<text font-size="3.2" text-anchor="middle" style="font-family:'Liberation Serif',serif;font-weight:bold" fill="#555" transform="translate(368.2,233) rotate(40)">10<tspan font-size="2.2" dy="-1.2">2</tspan></text>
<line x1="377" y1="228.8" x2="377" y2="229.8" stroke="#444" stroke-width="0.6"/>
<text font-size="3.2" text-anchor="middle" style="font-family:'Liberation Serif',serif;font-weight:bold" fill="#555" transform="translate(377,233) rotate(40)">10<tspan font-size="2.2" dy="-1.2">3</tspan></text>
<line x1="385.8" y1="228.8" x2="385.8" y2="229.8" stroke="#444" stroke-width="0.6"/>
<text font-size="3.2" text-anchor="middle" style="font-family:'Liberation Serif',serif;font-weight:bold" fill="#555" transform="translate(385.8,233) rotate(40)">10<tspan font-size="2.2" dy="-1.2">4</tspan></text>
<path d="M353.5,228.8 L353.5,228.5 L353.8,228.6 L354.1,228.4 L354.4,228.2 L354.7,228.6 L355,228.5 L355.3,228.3 L355.6,227.6 L355.9,227.7 L356.2,227.9 L356.5,228.3 L356.8,228.2 L357.1,228 L357.4,227.6 L357.7,228 L358,227.6 L358.3,228 L358.6,227.6 L358.9,227.4 L359.2,227.6 L359.5,227.4 L359.8,227.2 L360.1,227.6 L360.4,227 L360.7,227 L361,226.9 L361.3,227.2 L361.6,227.1 L361.9,226.7 L362.2,227.3 L362.5,227 L362.8,227.6 L363.1,226.2 L363.4,226.5 L363.7,226.3 L364,226 L364.3,226.5 L364.6,226 L364.9,226.1 L365.2,226.1 L365.5,226.5 L365.8,226.1 L366.1,226.1 L366.4,226.1 L366.7,225.9 L367,225.6 L367.3,225.4 L367.6,225.7 L367.9,225.6 L368.2,225.7 L368.5,225.6 L368.8,226.3 L369.1,225.8 L369.4,225.1 L369.7,225.7 L370,223.6 L370.3,223.7 L370.6,222.9 L370.9,223.4 L371.2,221.6 L371.5,213.4 L371.8,217 L372.1,211.3 L372.4,214.5 L372.7,213.5 L373,208.6 L373.3,206.3 L373.6,190.8 L373.9,197.8 L374.2,191.6 L374.5,191 L374.8,191 L375.1,193.2 L375.4,192.8 L375.7,199.6 L376,197.4 L376.3,204.6 L376.6,209.4 L376.9,208.6 L377.2,216 L377.5,216.6 L377.8,222.8 L378.1,224.6 L378.4,226.9 L378.7,227.3 L379,225.7 L379.3,226.7 L379.6,226.9 L379.9,227.1 L380.2,226.3 L380.5,227.6 L380.8,226.8 L381.1,227.1 L381.4,227.3 L381.7,227.3 L382,226.8 L382.3,227.3 L382.6,226.7 L382.9,227.4 L383.2,226.6 L383.5,227.1 L383.8,227.1 L384.1,227.5 L384.4,227.3 L384.7,227.4 L385,227.5 L385.3,227.5 L385.6,227.8 L385.9,227.6 L386.2,227.3 L386.5,227.7 L386.8,227.4 L387.1,227 L387.4,227.4 L387.7,228 L388,228.1 L388.3,228 L388.6,227.6 L388.9,228.2 L389.2,228.3 L389.5,227.9 L389.8,228.3 L390.1,228.5 L390.4,228.5 L390.7,228.2 L391,228.3 L391.3,228.6 L391.6,228.5 L391.9,228.5 L392.2,228.1 L392.5,228.8 L392.5,228.8 Z" fill="#7a7a7a" stroke="#111" stroke-width="0.5" stroke-linejoin="round"/>
<path d="M359.8,228.4 L359.8,227.4 M360.7,228.1 L360.7,227.2 M361.6,228.4 L361.6,227.1 M362.5,228.6 L362.5,227.2 M363.4,228 L363.4,226.8 M364.3,228.5 L364.3,226.7 M365.2,227.9 L365.2,226.2 M366.1,228.4 L366.1,226.3 M367,228.1 L367,225.6 M367.9,228.8 L367.9,226 M368.8,228.4 L368.8,226.5 M369.7,228.1 L369.7,226 M370.6,227.2 L370.6,223.4 M371.5,228.7 L371.5,213.5 M372.4,227.3 L372.4,215.2 M373.3,219.9 L373.3,208 M374.2,226.9 L374.2,196.2 M375.1,224.3 L375.1,195.5 M376,220.9 L376,200.8 M376.9,226.8 L376.9,209.8 M377.8,228.8 L377.8,223.6 M378.7,228.3 L378.7,227.5 M379.6,228.6 L379.6,227.1 M383.2,228.4 L383.2,226.7" stroke="#2a2a2a" stroke-width="0.35" fill="none"/>
<rect x="353.5" y="190" width="39" height="38.8" stroke="#8a8a8a" stroke-width="0.7" fill="none"/>
<line x1="353.5" y1="190" x2="353.5" y2="228.8" stroke="#222" stroke-width="0.8"/>
<line x1="353.5" y1="228.8" x2="392.5" y2="228.8" stroke="#222" stroke-width="0.8"/>
<line x1="367.8" y1="190" x2="367.8" y2="228.8" stroke="#777" stroke-width="0.55"/>
<line x1="383.4" y1="190" x2="383.4" y2="228.8" stroke="#777" stroke-width="0.55"/>
<line x1="367.8" y1="216.3" x2="383.4" y2="216.3" stroke="#666" stroke-width="0.55"/>
<text x="386.5" y="200.5" font-size="6" text-anchor="middle" style="font-family:'Liberation Serif',serif" fill="#222">98</text>
<line x1="255.5" y1="277.4" x2="256.5" y2="277.4" stroke="#444" stroke-width="0.5"/>
<text x="255.2" y="278.4" font-size="2.9" text-anchor="end" style="font-family:'Liberation Serif',serif;font-weight:bold" fill="#333">0</text>
<line x1="255.5" y1="271.2" x2="256.5" y2="271.2" stroke="#444" stroke-width="0.5"/>
<text x="255.2" y="272.2" font-size="2.9" text-anchor="end" style="font-family:'Liberation Serif',serif;font-weight:bold" fill="#333">10</text>
<line x1="255.5" y1="265" x2="256.5" y2="265" stroke="#444" stroke-width="0.5"/>
<text x="255.2" y="266" font-size="2.9" text-anchor="end" style="font-family:'Liberation Serif',serif;font-weight:bold" fill="#333">20</text>
<line x1="255.5" y1="258.8" x2="256.5" y2="258.8" stroke="#444" stroke-width="0.5"/>
<text x="255.2" y="259.8" font-size="2.9" text-anchor="end" style="font-family:'Liberation Serif',serif;font-weight:bold" fill="#333">30</text>
<line x1="255.5" y1="252.5" x2="256.5" y2="252.5" stroke="#444" stroke-width="0.5"/>
<text x="255.2" y="253.5" font-size="2.9" text-anchor="end" style="font-family:'Liberation Serif',serif;font-weight:bold" fill="#333">40</text>
<line x1="255.5" y1="246.3" x2="256.5" y2="246.3" stroke="#444" stroke-width="0.5"/>
<text x="255.2" y="247.3" font-size="2.9" text-anchor="end" style="font-family:'Liberation Serif',serif;font-weight:bold" fill="#333">50</text>
<line x1="255.5" y1="240.1" x2="256.5" y2="240.1" stroke="#444" stroke-width="0.5"/>
<text x="255.2" y="241.1" font-size="2.9" text-anchor="end" style="font-family:'Liberation Serif',serif;font-weight:bold" fill="#333">60</text>
<line x1="262.5" y1="277.4" x2="262.5" y2="278.4" stroke="#444" stroke-width="0.6"/>
<text font-size="3.2" text-anchor="middle" style="font-family:'Liberation Serif',serif;font-weight:bold" fill="#555" transform="translate(262.5,281.6) rotate(40)">10<tspan font-size="2.2" dy="-1.2">1</tspan></text>
<line x1="270.8" y1="277.4" x2="270.8" y2="278.4" stroke="#444" stroke-width="0.6"/>
<text font-size="3.2" text-anchor="middle" style="font-family:'Liberation Serif',serif;font-weight:bold" fill="#555" transform="translate(270.8,281.6) rotate(40)">10<tspan font-size="2.2" dy="-1.2">2</tspan></text>
<line x1="279" y1="277.4" x2="279" y2="278.4" stroke="#444" stroke-width="0.6"/>
<text font-size="3.2" text-anchor="middle" style="font-family:'Liberation Serif',serif;font-weight:bold" fill="#555" transform="translate(279,281.6) rotate(40)">10<tspan font-size="2.2" dy="-1.2">3</tspan></text>
<line x1="287.2" y1="277.4" x2="287.2" y2="278.4" stroke="#444" stroke-width="0.6"/>
<text font-size="3.2" text-anchor="middle" style="font-family:'Liberation Serif',serif;font-weight:bold" fill="#555" transform="translate(287.2,281.6) rotate(40)">10<tspan font-size="2.2" dy="-1.2">4</tspan></text>
<path d="M256.5,277.4 L256.5,277.3 L256.8,277.3 L257.1,276.8 L257.4,277.2 L257.7,277.3 L258,277 L258.3,277.3 L258.6,276.5 L258.9,276.6 L259.2,277 L259.5,277.1 L259.8,276.8 L260.1,277.2 L260.4,277.1 L260.7,277 L261,276.7 L261.3,277.1 L261.6,276.6 L261.9,276.4 L262.2,277.1 L262.5,276.9 L262.8,276.4 L263.1,276.7 L263.4,276.9 L263.7,276.9 L264,277.1 L264.3,276.4 L264.6,276.6 L264.9,277 L265.2,276.6 L265.5,276.8 L265.8,276.4 L266.1,276.9 L266.4,276.7 L266.7,276.5 L267,276.2 L267.3,276.3 L267.6,275.7 L267.9,276.4 L268.2,276.4 L268.5,276.2 L268.8,275.8 L269.1,276 L269.4,275.7 L269.7,275.5 L270,276 L270.3,273.9 L270.6,274.5 L270.9,275 L271.2,275.1 L271.5,274.7 L271.8,274.4 L272.1,275.1 L272.4,275.2 L272.7,273.6 L273,273.7 L273.3,273.8 L273.6,273.1 L273.9,273.5 L274.2,271.1 L274.5,272.4 L274.8,272.4 L275.2,271.2 L275.5,271.8 L275.8,270.4 L276.1,267.3 L276.4,268.8 L276.7,269.7 L277,265.9 L277.3,264.1 L277.6,264.7 L277.9,265.2 L278.2,262.3 L278.5,262.8 L278.8,264.3 L279.1,255.3 L279.4,262.6 L279.7,255 L280,259.4 L280.3,256.7 L280.6,254.2 L280.9,255.7 L281.2,250.4 L281.5,250.6 L281.8,255.6 L282.1,250.1 L282.4,246.1 L282.7,244.3 L283,252.4 L283.3,247.3 L283.6,248 L283.9,242.2 L284.2,241.5 L284.5,248 L284.8,245.6 L285.1,240.4 L285.4,251 L285.7,251.3 L286,248.3 L286.3,250.5 L286.6,257 L286.9,257 L287.2,263.6 L287.5,264.8 L287.8,264.1 L288.1,271.8 L288.4,272.7 L288.7,275.1 L289,275.9 L289.3,276.2 L289.6,276.3 L289.9,276.5 L290.2,276 L290.5,276.4 L290.8,276.7 L291.1,276.1 L291.4,276.6 L291.7,276.8 L292,276.5 L292.3,276.2 L292.6,276.8 L292.9,277.3 L293.2,276.8 L293.5,277.3 L293.5,277.4 Z" fill="#7a7a7a" stroke="#111" stroke-width="0.5" stroke-linejoin="round"/>
<path d="M270.9,277.2 L270.9,275 M271.8,276.8 L271.8,274.5 M272.7,277 L272.7,273.6 M273.6,277.2 L273.6,273.3 M274.5,277.2 L274.5,272.7 M275.5,276 L275.5,272.1 M276.4,276.3 L276.4,269.3 M277.3,276 L277.3,265.2 M278.2,272.7 L278.2,262.4 M279.1,272.7 L279.1,257.1 M280,270.8 L280,261.3 M280.9,275 L280.9,257.7 M281.8,269.5 L281.8,258.7 M282.7,267.2 L282.7,244.8 M283.6,273 L283.6,250.1 M284.5,273.5 L284.5,251.4 M285.4,272.2 L285.4,254.9 M286.3,277.3 L286.3,253.7 M287.2,276.8 L287.2,264.6 M288.1,277.1 L288.1,272.1" stroke="#2a2a2a" stroke-width="0.35" fill="none"/>
<rect x="256.5" y="239.3" width="37" height="38.1" stroke="#8a8a8a" stroke-width="0.7" fill="none"/>
<line x1="256.5" y1="239.3" x2="256.5" y2="277.4" stroke="#222" stroke-width="0.8"/>
<line x1="256.5" y1="277.4" x2="293.5" y2="277.4" stroke="#222" stroke-width="0.8"/>
<line x1="280.9" y1="239.3" x2="280.9" y2="277.4" stroke="#777" stroke-width="0.55"/>
<line x1="284.5" y1="239.3" x2="284.5" y2="277.4" stroke="#777" stroke-width="0.55"/>
<line x1="281" y1="269.2" x2="293.5" y2="269.2" stroke="#666" stroke-width="0.55"/>
<text x="288.5" y="249.5" font-size="6" text-anchor="middle" style="font-family:'Liberation Serif',serif" fill="#222">72</text>
<line x1="304" y1="277.4" x2="305" y2="277.4" stroke="#444" stroke-width="0.5"/>
<text x="303.7" y="278.4" font-size="2.9" text-anchor="end" style="font-family:'Liberation Serif',serif;font-weight:bold" fill="#333">0</text>
<line x1="304" y1="271.2" x2="305" y2="271.2" stroke="#444" stroke-width="0.5"/>
<text x="303.7" y="272.2" font-size="2.9" text-anchor="end" style="font-family:'Liberation Serif',serif;font-weight:bold" fill="#333">10</text>
<line x1="304" y1="265" x2="305" y2="265" stroke="#444" stroke-width="0.5"/>
<text x="303.7" y="266" font-size="2.9" text-anchor="end" style="font-family:'Liberation Serif',serif;font-weight:bold" fill="#333">20</text>
<line x1="304" y1="258.8" x2="305" y2="258.8" stroke="#444" stroke-width="0.5"/>
<text x="303.7" y="259.8" font-size="2.9" text-anchor="end" style="font-family:'Liberation Serif',serif;font-weight:bold" fill="#333">30</text>
<line x1="304" y1="252.5" x2="305" y2="252.5" stroke="#444" stroke-width="0.5"/>
<text x="303.7" y="253.5" font-size="2.9" text-anchor="end" style="font-family:'Liberation Serif',serif;font-weight:bold" fill="#333">40</text>
<line x1="304" y1="246.3" x2="305" y2="246.3" stroke="#444" stroke-width="0.5"/>
<text x="303.7" y="247.3" font-size="2.9" text-anchor="end" style="font-family:'Liberation Serif',serif;font-weight:bold" fill="#333">50</text>
<line x1="304" y1="240.1" x2="305" y2="240.1" stroke="#444" stroke-width="0.5"/>
<text x="303.7" y="241.1" font-size="2.9" text-anchor="end" style="font-family:'Liberation Serif',serif;font-weight:bold" fill="#333">60</text>
<line x1="311" y1="277.4" x2="311" y2="278.4" stroke="#444" stroke-width="0.6"/>
<text font-size="3.2" text-anchor="middle" style="font-family:'Liberation Serif',serif;font-weight:bold" fill="#555" transform="translate(311,281.6) rotate(40)">10<tspan font-size="2.2" dy="-1.2">1</tspan></text>
<line x1="319.6" y1="277.4" x2="319.6" y2="278.4" stroke="#444" stroke-width="0.6"/>
<text font-size="3.2" text-anchor="middle" style="font-family:'Liberation Serif',serif;font-weight:bold" fill="#555" transform="translate(319.6,281.6) rotate(40)">10<tspan font-size="2.2" dy="-1.2">2</tspan></text>
<line x1="328.2" y1="277.4" x2="328.2" y2="278.4" stroke="#444" stroke-width="0.6"/>
<text font-size="3.2" text-anchor="middle" style="font-family:'Liberation Serif',serif;font-weight:bold" fill="#555" transform="translate(328.2,281.6) rotate(40)">10<tspan font-size="2.2" dy="-1.2">3</tspan></text>
<line x1="336.9" y1="277.4" x2="336.9" y2="278.4" stroke="#444" stroke-width="0.6"/>
<text font-size="3.2" text-anchor="middle" style="font-family:'Liberation Serif',serif;font-weight:bold" fill="#555" transform="translate(336.9,281.6) rotate(40)">10<tspan font-size="2.2" dy="-1.2">4</tspan></text>
<path d="M305,277.4 L305,276.9 L305.3,277.1 L305.6,277.2 L305.9,277 L306.2,276.7 L306.5,276.5 L306.8,276.2 L307.1,275.8 L307.4,276.2 L307.7,275.9 L308,275.6 L308.3,275.4 L308.6,276 L308.9,275.7 L309.2,275.2 L309.5,275.6 L309.8,274.6 L310.1,274.3 L310.4,274.2 L310.7,273.7 L311,273.7 L311.3,273.3 L311.6,271.3 L311.9,271.4 L312.2,270.1 L312.5,269.4 L312.8,269 L313.1,270.9 L313.4,267.6 L313.7,267.1 L314,267.5 L314.3,262.1 L314.6,266 L314.9,264.3 L315.2,265 L315.5,262.6 L315.8,262.6 L316.1,263.9 L316.4,258.7 L316.7,259.4 L317,256.8 L317.3,257.3 L317.6,257.8 L317.9,259.9 L318.2,258.7 L318.5,260 L318.8,262.6 L319.1,260.3 L319.4,252.1 L319.7,258 L320,258.4 L320.3,255.8 L320.6,254.7 L320.9,258.1 L321.2,259.5 L321.5,254.8 L321.8,252.1 L322.1,261.7 L322.4,255.2 L322.7,256.1 L323,257.5 L323.3,256.7 L323.6,259.2 L323.9,258.9 L324.2,258 L324.6,259.6 L324.9,256.8 L325.2,257.4 L325.5,259.5 L325.8,258.4 L326.1,260.2 L326.4,259.4 L326.7,257.5 L327,255.8 L327.3,259.4 L327.6,259.6 L327.9,260 L328.2,261.6 L328.5,260.7 L328.8,258.4 L329.1,257.4 L329.4,255.1 L329.7,256 L330,261.3 L330.3,260.1 L330.6,257.3 L330.9,261.7 L331.2,259.9 L331.5,260.9 L331.8,256.6 L332.1,257 L332.4,262.5 L332.7,263.5 L333,262.3 L333.3,262.4 L333.6,265.1 L333.9,262.7 L334.2,263.2 L334.5,263.7 L334.8,267.3 L335.1,264 L335.4,267.6 L335.7,265.8 L336,266.6 L336.3,266.4 L336.6,265 L336.9,269.7 L337.2,272.3 L337.5,270.5 L337.8,272.9 L338.1,272.3 L338.4,273 L338.7,273.6 L339,275 L339.3,275.4 L339.6,275.6 L339.9,275.6 L340.2,275.7 L340.5,275.9 L340.8,275.9 L341.1,276.5 L341.4,276.6 L341.7,276.5 L342,276.7 L342.3,276.5 L342.6,276.4 L342.9,277.2 L343.2,276.7 L343.5,277.3 L343.5,277.4 Z" fill="#7a7a7a" stroke="#111" stroke-width="0.5" stroke-linejoin="round"/>
<line x1="319.5" y1="277.4" x2="319.5" y2="242.3" stroke="#222" stroke-width="0.6"/>
<line x1="322.2" y1="277.4" x2="322.2" y2="246.9" stroke="#222" stroke-width="0.6"/>
<line x1="324.5" y1="277.4" x2="324.5" y2="241.2" stroke="#222" stroke-width="0.6"/>
<line x1="327" y1="277.4" x2="327" y2="248.8" stroke="#222" stroke-width="0.6"/>
<line x1="329" y1="277.4" x2="329" y2="243.9" stroke="#222" stroke-width="0.6"/>
<line x1="331.5" y1="277.4" x2="331.5" y2="250.7" stroke="#222" stroke-width="0.6"/>
<line x1="334" y1="277.4" x2="334" y2="258.4" stroke="#222" stroke-width="0.6"/>
<path d="M307.1,276.8 L307.1,275.9 M307.7,277.4 L307.7,275.9 M308,277.1 L308,275.8 M308.3,277 L308.3,275.7 M308.9,277 L308.9,276 M309.2,277 L309.2,275.3 M309.5,276.9 L309.5,275.9 M309.8,276.9 L309.8,274.6 M310.1,276.9 L310.1,274.4 M310.4,276.3 L310.4,274.4 M310.7,276.7 L310.7,274.1 M311,277.3 L311,273.8 M311.3,276.5 L311.3,273.5 M311.6,277.3 L311.6,272 M311.9,275.6 L311.9,272 M312.2,277 L312.2,271 M312.5,274.2 L312.5,269.5 M312.8,275.1 L312.8,269.1 M313.1,277.1 L313.1,271.2 M313.4,273.6 L313.4,268.2 M313.7,275.2 L313.7,268.5 M314,275.8 L314,267.9 M314.3,276.9 L314.3,262.6 M314.6,274.6 L314.6,267.5 M314.9,272.2 L314.9,264.8 M315.2,274.1 L315.2,265.6 M315.5,274.1 L315.5,262.6 M315.8,271.9 L315.8,264.4 M316.1,273.3 L316.1,265.2 M316.4,274.6 L316.4,261 M316.7,273.7 L316.7,261.2 M317,275.2 L317,257.3 M317.3,271.6 L317.3,258.3 M317.6,277 L317.6,258.7 M317.9,274.5 L317.9,260.4 M318.2,276.4 L318.2,260.7 M318.5,274.2 L318.5,261.3 M318.8,273.2 L318.8,262.8 M319.1,273.9 L319.1,262.9 M319.4,274.6 L319.4,254.7 M319.7,276 L319.7,259.1 M320,274 L320,259 M320.3,275.3 L320.3,256.9 M320.6,273.1 L320.6,256 M320.9,273.6 L320.9,258.8 M321.2,273.5 L321.2,261.6 M321.5,273.1 L321.5,256 M321.8,269.1 L321.8,254.5 M322.1,274.3 L322.1,262.5 M322.4,268.9 L322.4,255.6 M322.7,269.5 L322.7,257.1 M323,270.1 L323,257.6 M323.3,271.7 L323.3,258.2 M323.6,272.9 L323.6,259.5 M323.9,274.6 L323.9,259.9 M324.2,273.1 L324.2,260.1 M324.6,270.6 L324.6,260.4 M324.9,277 L324.9,257.4 M325.2,270.1 L325.2,259.1 M325.5,272.6 L325.5,262.1 M325.8,271.4 L325.8,260.1 M326.1,272.1 L326.1,260.7 M326.4,271.5 L326.4,259.8 M326.7,270.4 L326.7,260.1 M327,272.5 L327,256.7 M327.3,276.5 L327.3,260.7 M327.6,275.9 L327.6,260.6 M327.9,276.4 L327.9,260.2 M328.2,272.4 L328.2,263.4 M328.5,273.4 L328.5,262.3 M328.8,271.2 L328.8,260.1 M329.1,272.3 L329.1,257.6 M329.4,276.7 L329.4,257.4 M329.7,272.8 L329.7,257 M330,272.2 L330,262.4 M330.3,273.4 L330.3,262.6 M330.6,273.8 L330.6,260 M330.9,274.3 L330.9,263.3 M331.2,272.2 L331.2,261.2 M331.5,273.9 L331.5,263 M331.8,271.1 L331.8,258.5 M332.1,271.6 L332.1,257.8 M332.4,274.1 L332.4,264.3 M332.7,273.4 L332.7,265.4 M333,277.1 L333,262.6 M333.3,276.1 L333.3,264.5 M333.6,273 L333.6,265.6 M333.9,277 L333.9,263.4 M334.2,272.7 L334.2,265 M334.5,274 L334.5,265.7 M334.8,274.3 L334.8,267.3 M335.1,276.5 L335.1,265.6 M335.4,274.4 L335.4,268.9 M335.7,274.7 L335.7,267.4 M336,277.4 L336,267.2 M336.3,277.2 L336.3,268 M336.6,273.1 L336.6,266.3 M336.9,275.7 L336.9,270.3 M337.2,276.2 L337.2,272.5 M337.5,277.1 L337.5,271.4 M337.8,275.9 L337.8,273.1 M338.1,276.5 L338.1,272.6 M338.4,276.1 L338.4,273.2 M338.7,276.4 L338.7,273.7 M339,276.5 L339,275.2 M339.3,277.1 L339.3,275.6 M339.6,276.9 L339.6,275.7 M339.9,277.3 L339.9,275.7 M340.2,277.3 L340.2,275.9 M340.5,276.8 L340.5,275.9 M340.8,276.9 L340.8,276" stroke="#2a2a2a" stroke-width="0.3" fill="none"/>
<rect x="305" y="239.3" width="38.5" height="38.1" stroke="#8a8a8a" stroke-width="0.7" fill="none"/>
<line x1="305" y1="239.3" x2="305" y2="277.4" stroke="#222" stroke-width="0.8"/>
<line x1="305" y1="277.4" x2="343.5" y2="277.4" stroke="#222" stroke-width="0.8"/>
<line x1="324.3" y1="239.3" x2="324.3" y2="277.4" stroke="#777" stroke-width="0.55"/>
<line x1="324.3" y1="269.2" x2="343.5" y2="269.2" stroke="#666" stroke-width="0.55"/>
<text x="337.5" y="249.5" font-size="6" text-anchor="middle" style="font-family:'Liberation Serif',serif" fill="#222">52</text>
<line x1="352.5" y1="277.4" x2="353.5" y2="277.4" stroke="#444" stroke-width="0.5"/>
<text x="352.2" y="278.4" font-size="2.9" text-anchor="end" style="font-family:'Liberation Serif',serif;font-weight:bold" fill="#333">0</text>
<line x1="352.5" y1="271.2" x2="353.5" y2="271.2" stroke="#444" stroke-width="0.5"/>
<text x="352.2" y="272.2" font-size="2.9" text-anchor="end" style="font-family:'Liberation Serif',serif;font-weight:bold" fill="#333">10</text>
<line x1="352.5" y1="265" x2="353.5" y2="265" stroke="#444" stroke-width="0.5"/>
<text x="352.2" y="266" font-size="2.9" text-anchor="end" style="font-family:'Liberation Serif',serif;font-weight:bold" fill="#333">20</text>
<line x1="352.5" y1="258.8" x2="353.5" y2="258.8" stroke="#444" stroke-width="0.5"/>
<text x="352.2" y="259.8" font-size="2.9" text-anchor="end" style="font-family:'Liberation Serif',serif;font-weight:bold" fill="#333">30</text>
<line x1="352.5" y1="252.5" x2="353.5" y2="252.5" stroke="#444" stroke-width="0.5"/>
<text x="352.2" y="253.5" font-size="2.9" text-anchor="end" style="font-family:'Liberation Serif',serif;font-weight:bold" fill="#333">40</text>
<line x1="352.5" y1="246.3" x2="353.5" y2="246.3" stroke="#444" stroke-width="0.5"/>
<text x="352.2" y="247.3" font-size="2.9" text-anchor="end" style="font-family:'Liberation Serif',serif;font-weight:bold" fill="#333">50</text>
<line x1="352.5" y1="240.1" x2="353.5" y2="240.1" stroke="#444" stroke-width="0.5"/>
<text x="352.2" y="241.1" font-size="2.9" text-anchor="end" style="font-family:'Liberation Serif',serif;font-weight:bold" fill="#333">60</text>
<line x1="359.5" y1="277.4" x2="359.5" y2="278.4" stroke="#444" stroke-width="0.6"/>
<text font-size="3.2" text-anchor="middle" style="font-family:'Liberation Serif',serif;font-weight:bold" fill="#555" transform="translate(359.5,281.6) rotate(40)">10<tspan font-size="2.2" dy="-1.2">1</tspan></text>
<line x1="368.2" y1="277.4" x2="368.2" y2="278.4" stroke="#444" stroke-width="0.6"/>
<text font-size="3.2" text-anchor="middle" style="font-family:'Liberation Serif',serif;font-weight:bold" fill="#555" transform="translate(368.2,281.6) rotate(40)">10<tspan font-size="2.2" dy="-1.2">2</tspan></text>
<line x1="377" y1="277.4" x2="377" y2="278.4" stroke="#444" stroke-width="0.6"/>
<text font-size="3.2" text-anchor="middle" style="font-family:'Liberation Serif',serif;font-weight:bold" fill="#555" transform="translate(377,281.6) rotate(40)">10<tspan font-size="2.2" dy="-1.2">3</tspan></text>
<line x1="385.8" y1="277.4" x2="385.8" y2="278.4" stroke="#444" stroke-width="0.6"/>
<text font-size="3.2" text-anchor="middle" style="font-family:'Liberation Serif',serif;font-weight:bold" fill="#555" transform="translate(385.8,281.6) rotate(40)">10<tspan font-size="2.2" dy="-1.2">4</tspan></text>
<path d="M353.5,277.4 L353.5,276.8 L353.8,273.6 L354.1,267.9 L354.4,268.8 L354.7,267.2 L355,268.2 L355.3,268.7 L355.6,263.2 L355.9,265.7 L356.2,265.9 L356.5,262.3 L356.8,266.9 L357.1,263.7 L357.4,256 L357.7,262.4 L358,262.9 L358.3,255.1 L358.6,251.8 L358.9,258.5 L359.2,261.8 L359.5,257.2 L359.8,258 L360.1,258.9 L360.4,255 L360.7,250 L361,242.1 L361.3,251.8 L361.6,255.8 L361.9,254.9 L362.2,240.2 L362.5,249.8 L362.8,253.1 L363.1,251.1 L363.4,249.8 L363.7,251.7 L364,250.5 L364.3,250.8 L364.6,262.2 L364.9,259.9 L365.2,260.5 L365.5,259 L365.8,263 L366.1,264.2 L366.4,266.2 L366.7,265.3 L367,267 L367.3,269.9 L367.6,271.7 L367.9,273.3 L368.2,273.2 L368.5,274.4 L368.8,275.5 L369.1,275.6 L369.4,276.2 L369.7,276.1 L370,276.2 L370.3,276.2 L370.6,276.5 L370.9,276.5 L371.2,276.3 L371.5,276.9 L371.8,276.7 L372.1,276.6 L372.4,276.5 L372.7,276.3 L373,276.3 L373.3,276.5 L373.6,276.7 L373.9,276.4 L374.2,276.4 L374.5,276.5 L374.8,275.9 L375.1,276.4 L375.4,276.5 L375.7,276.7 L376,276.8 L376.3,276.8 L376.6,276.3 L376.9,276.2 L377.2,276.7 L377.5,276.4 L377.8,276.9 L378.1,276.2 L378.4,276.9 L378.7,276.7 L379,276.7 L379.3,276.9 L379.6,276.1 L379.9,276.8 L380.2,276.5 L380.5,277 L380.8,276.9 L381.1,276.8 L381.4,276.5 L381.7,276.6 L382,276.8 L382.3,277.1 L382.6,276.9 L382.9,276.6 L383.2,276.9 L383.5,276.8 L383.8,276.6 L384.1,276.9 L384.4,277.2 L384.7,276.9 L385,277.1 L385.3,277 L385.6,277.2 L385.9,277.1 L386.2,277 L386.5,276.5 L386.8,276.9 L387.1,276.3 L387.4,277.1 L387.7,276.9 L388,277.1 L388.3,276.9 L388.6,276.5 L388.9,277 L389.2,276.5 L389.5,277 L389.8,277.2 L390.1,276.5 L390.4,277.2 L390.7,277 L391,276.6 L391.3,277.3 L391.6,277.2 L391.9,277.1 L392.2,277.3 L392.5,277.4 L392.5,277.4 Z" fill="#7a7a7a" stroke="#111" stroke-width="0.5" stroke-linejoin="round"/>
<path d="M354.4,275.5 L354.4,268.8 M355.3,275.1 L355.3,269 M356.2,275.2 L356.2,266.6 M357.1,272.3 L357.1,263.9 M358,275.8 L358,263.6 M358.9,273.5 L358.9,259.6 M359.8,269.8 L359.8,260.7 M360.7,267.1 L360.7,252.8 M361.6,270.5 L361.6,257.6 M362.5,275.2 L362.5,250.5 M363.4,275.3 L363.4,253 M364.3,270.3 L364.3,250.9 M365.2,275.4 L365.2,260.7 M366.1,274.6 L366.1,264.9 M367,275.4 L367,267.5 M367.9,276.7 L367.9,273.6 M368.8,276.8 L368.8,275.5" stroke="#2a2a2a" stroke-width="0.35" fill="none"/>
<rect x="353.5" y="239.3" width="39" height="38.1" stroke="#8a8a8a" stroke-width="0.7" fill="none"/>
<line x1="353.5" y1="239.3" x2="353.5" y2="277.4" stroke="#222" stroke-width="0.8"/>
<line x1="353.5" y1="277.4" x2="392.5" y2="277.4" stroke="#222" stroke-width="0.8"/>
<line x1="364.4" y1="239.3" x2="364.4" y2="277.4" stroke="#777" stroke-width="0.55"/>
<line x1="368.3" y1="239.3" x2="368.3" y2="277.4" stroke="#777" stroke-width="0.55"/>
<line x1="383.6" y1="239.3" x2="383.6" y2="277.4" stroke="#777" stroke-width="0.55"/>
<line x1="368.3" y1="270.6" x2="383.6" y2="270.6" stroke="#666" stroke-width="0.55"/>
<text x="389.5" y="249.5" font-size="6" text-anchor="middle" style="font-family:'Liberation Serif',serif" fill="#222">1</text>
<line x1="255.5" y1="331" x2="256.5" y2="331" stroke="#444" stroke-width="0.5"/>
<text x="255.2" y="332" font-size="2.9" text-anchor="end" style="font-family:'Liberation Serif',serif;font-weight:bold" fill="#333">0</text>
<line x1="255.5" y1="324.6" x2="256.5" y2="324.6" stroke="#444" stroke-width="0.5"/>
<text x="255.2" y="325.6" font-size="2.9" text-anchor="end" style="font-family:'Liberation Serif',serif;font-weight:bold" fill="#333">10</text>
<line x1="255.5" y1="318.3" x2="256.5" y2="318.3" stroke="#444" stroke-width="0.5"/>
<text x="255.2" y="319.3" font-size="2.9" text-anchor="end" style="font-family:'Liberation Serif',serif;font-weight:bold" fill="#333">20</text>
<line x1="255.5" y1="311.9" x2="256.5" y2="311.9" stroke="#444" stroke-width="0.5"/>
<text x="255.2" y="312.9" font-size="2.9" text-anchor="end" style="font-family:'Liberation Serif',serif;font-weight:bold" fill="#333">30</text>
<line x1="255.5" y1="305.5" x2="256.5" y2="305.5" stroke="#444" stroke-width="0.5"/>
<text x="255.2" y="306.5" font-size="2.9" text-anchor="end" style="font-family:'Liberation Serif',serif;font-weight:bold" fill="#333">40</text>
<line x1="255.5" y1="299.2" x2="256.5" y2="299.2" stroke="#444" stroke-width="0.5"/>
<text x="255.2" y="300.2" font-size="2.9" text-anchor="end" style="font-family:'Liberation Serif',serif;font-weight:bold" fill="#333">50</text>
<line x1="255.5" y1="292.8" x2="256.5" y2="292.8" stroke="#444" stroke-width="0.5"/>
<text x="255.2" y="293.8" font-size="2.9" text-anchor="end" style="font-family:'Liberation Serif',serif;font-weight:bold" fill="#333">60</text>
<line x1="262.5" y1="331" x2="262.5" y2="332" stroke="#444" stroke-width="0.6"/>
<text font-size="3.2" text-anchor="middle" style="font-family:'Liberation Serif',serif;font-weight:bold" fill="#555" transform="translate(262.5,335.2) rotate(40)">10<tspan font-size="2.2" dy="-1.2">1</tspan></text>
<line x1="270.8" y1="331" x2="270.8" y2="332" stroke="#444" stroke-width="0.6"/>
<text font-size="3.2" text-anchor="middle" style="font-family:'Liberation Serif',serif;font-weight:bold" fill="#555" transform="translate(270.8,335.2) rotate(40)">10<tspan font-size="2.2" dy="-1.2">2</tspan></text>
<line x1="279" y1="331" x2="279" y2="332" stroke="#444" stroke-width="0.6"/>
<text font-size="3.2" text-anchor="middle" style="font-family:'Liberation Serif',serif;font-weight:bold" fill="#555" transform="translate(279,335.2) rotate(40)">10<tspan font-size="2.2" dy="-1.2">3</tspan></text>
<line x1="287.2" y1="331" x2="287.2" y2="332" stroke="#444" stroke-width="0.6"/>
<text font-size="3.2" text-anchor="middle" style="font-family:'Liberation Serif',serif;font-weight:bold" fill="#555" transform="translate(287.2,335.2) rotate(40)">10<tspan font-size="2.2" dy="-1.2">4</tspan></text>
<path d="M256.5,331 L256.5,330.7 L256.8,330.2 L257.1,330.4 L257.4,330.5 L257.7,330.9 L258,330.3 L258.3,330.8 L258.6,330.8 L258.9,330.6 L259.2,330.8 L259.5,330.7 L259.8,330.5 L260.1,330.7 L260.4,330.9 L260.7,330.4 L261,330.4 L261.3,330.8 L261.6,330.8 L261.9,330.7 L262.2,330.9 L262.5,330.7 L262.8,330.5 L263.1,330.7 L263.4,330.4 L263.7,330.8 L264,330.1 L264.3,330.4 L264.6,330.8 L264.9,330.7 L265.2,330.6 L265.5,330.5 L265.8,330.7 L266.1,330.8 L266.4,330.6 L266.7,329.9 L267,330.8 L267.3,330.6 L267.6,330.5 L267.9,330.7 L268.2,330.7 L268.5,330.7 L268.8,330.6 L269.1,330.8 L269.4,330.4 L269.7,330.8 L270,330.4 L270.3,330.5 L270.6,330.5 L270.9,330.6 L271.2,330.5 L271.5,330.3 L271.8,330.3 L272.1,330.7 L272.4,330.2 L272.7,330.4 L273,330.5 L273.3,330.5 L273.6,330.6 L273.9,329.9 L274.2,330.1 L274.5,330.3 L274.8,330.7 L275.2,330.6 L275.5,330.3 L275.8,330.6 L276.1,330.5 L276.4,330.4 L276.7,329.9 L277,329.9 L277.3,330.4 L277.6,330.4 L277.9,330.4 L278.2,330.4 L278.5,330.2 L278.8,330.1 L279.1,330 L279.4,329.6 L279.7,330 L280,329.8 L280.3,329.7 L280.6,329.8 L280.9,329.7 L281.2,329 L281.5,327.9 L281.8,324.8 L282.1,326.1 L282.4,324.8 L282.7,320.8 L283,315.1 L283.3,308 L283.6,305.7 L283.9,295.2 L284.2,292.8 L284.5,304.9 L284.8,305.4 L285.1,308.5 L285.4,315.3 L285.7,319.8 L286,324.2 L286.3,327.6 L286.6,327.6 L286.9,329.5 L287.2,330.1 L287.5,330.1 L287.8,330.2 L288.1,330.4 L288.4,330.5 L288.7,330.3 L289,330 L289.3,330.2 L289.6,330.5 L289.9,330.1 L290.2,330.3 L290.5,330.4 L290.8,330.6 L291.1,330 L291.4,330.6 L291.7,329.9 L292,330.3 L292.3,330.6 L292.6,330.4 L292.9,330.8 L293.2,330.2 L293.5,330.5 L293.5,331 Z" fill="#7a7a7a" stroke="#111" stroke-width="0.5" stroke-linejoin="round"/>
<path d="M281.8,329 L281.8,324.9 M282.7,329.6 L282.7,321.4 M283.6,328.1 L283.6,309.2 M284.5,321.8 L284.5,305.4 M285.4,330.6 L285.4,316.7 M286.3,330.3 L286.3,327.7" stroke="#2a2a2a" stroke-width="0.35" fill="none"/>
<rect x="256.5" y="292" width="37" height="39" stroke="#8a8a8a" stroke-width="0.7" fill="none"/>
<line x1="256.5" y1="292" x2="256.5" y2="331" stroke="#222" stroke-width="0.8"/>
<line x1="256.5" y1="331" x2="293.5" y2="331" stroke="#222" stroke-width="0.8"/>
<line x1="282.3" y1="292" x2="282.3" y2="331" stroke="#777" stroke-width="0.55"/>
<line x1="282.3" y1="321.4" x2="294" y2="321.4" stroke="#666" stroke-width="0.55"/>
<text x="290.5" y="302" font-size="6" text-anchor="middle" style="font-family:'Liberation Serif',serif" fill="#222">100</text>
<line x1="304" y1="331" x2="305" y2="331" stroke="#444" stroke-width="0.5"/>
<text x="303.7" y="332" font-size="2.9" text-anchor="end" style="font-family:'Liberation Serif',serif;font-weight:bold" fill="#333">0</text>
<line x1="304" y1="324.6" x2="305" y2="324.6" stroke="#444" stroke-width="0.5"/>
<text x="303.7" y="325.6" font-size="2.9" text-anchor="end" style="font-family:'Liberation Serif',serif;font-weight:bold" fill="#333">10</text>
<line x1="304" y1="318.3" x2="305" y2="318.3" stroke="#444" stroke-width="0.5"/>
<text x="303.7" y="319.3" font-size="2.9" text-anchor="end" style="font-family:'Liberation Serif',serif;font-weight:bold" fill="#333">20</text>
<line x1="304" y1="311.9" x2="305" y2="311.9" stroke="#444" stroke-width="0.5"/>
<text x="303.7" y="312.9" font-size="2.9" text-anchor="end" style="font-family:'Liberation Serif',serif;font-weight:bold" fill="#333">30</text>
<line x1="304" y1="305.5" x2="305" y2="305.5" stroke="#444" stroke-width="0.5"/>
<text x="303.7" y="306.5" font-size="2.9" text-anchor="end" style="font-family:'Liberation Serif',serif;font-weight:bold" fill="#333">40</text>
<line x1="304" y1="299.2" x2="305" y2="299.2" stroke="#444" stroke-width="0.5"/>
<text x="303.7" y="300.2" font-size="2.9" text-anchor="end" style="font-family:'Liberation Serif',serif;font-weight:bold" fill="#333">50</text>
<line x1="304" y1="292.8" x2="305" y2="292.8" stroke="#444" stroke-width="0.5"/>
<text x="303.7" y="293.8" font-size="2.9" text-anchor="end" style="font-family:'Liberation Serif',serif;font-weight:bold" fill="#333">60</text>
<line x1="311" y1="331" x2="311" y2="332" stroke="#444" stroke-width="0.6"/>
<text font-size="3.2" text-anchor="middle" style="font-family:'Liberation Serif',serif;font-weight:bold" fill="#555" transform="translate(311,335.2) rotate(40)">10<tspan font-size="2.2" dy="-1.2">1</tspan></text>
<line x1="319.6" y1="331" x2="319.6" y2="332" stroke="#444" stroke-width="0.6"/>
<text font-size="3.2" text-anchor="middle" style="font-family:'Liberation Serif',serif;font-weight:bold" fill="#555" transform="translate(319.6,335.2) rotate(40)">10<tspan font-size="2.2" dy="-1.2">2</tspan></text>
<line x1="328.2" y1="331" x2="328.2" y2="332" stroke="#444" stroke-width="0.6"/>
<text font-size="3.2" text-anchor="middle" style="font-family:'Liberation Serif',serif;font-weight:bold" fill="#555" transform="translate(328.2,335.2) rotate(40)">10<tspan font-size="2.2" dy="-1.2">3</tspan></text>
<line x1="336.9" y1="331" x2="336.9" y2="332" stroke="#444" stroke-width="0.6"/>
<text font-size="3.2" text-anchor="middle" style="font-family:'Liberation Serif',serif;font-weight:bold" fill="#555" transform="translate(336.9,335.2) rotate(40)">10<tspan font-size="2.2" dy="-1.2">4</tspan></text>
<path d="M305,331 L305,330.5 L305.3,330.7 L305.6,330.3 L305.9,330.5 L306.2,330.9 L306.5,330.9 L306.8,330.9 L307.1,330.6 L307.4,330.8 L307.7,330.9 L308,330.5 L308.3,330.8 L308.6,330.9 L308.9,330.7 L309.2,330.2 L309.5,330.1 L309.8,330.7 L310.1,330.4 L310.4,330.7 L310.7,330.5 L311,330.5 L311.3,330.5 L311.6,330.1 L311.9,330.5 L312.2,330.4 L312.5,330.5 L312.8,330.2 L313.1,330.5 L313.4,330.6 L313.7,330.6 L314,330.6 L314.3,329.5 L314.6,330.7 L314.9,330.5 L315.2,330 L315.5,330.4 L315.8,330.3 L316.1,329.8 L316.4,330.1 L316.7,330.2 L317,329.9 L317.3,329.9 L317.6,329.8 L317.9,329.4 L318.2,329.9 L318.5,329.8 L318.8,329.6 L319.1,329.9 L319.4,329.7 L319.7,329.3 L320,329.3 L320.3,329.6 L320.6,329.4 L320.9,329.6 L321.2,329.3 L321.5,328.3 L321.8,329.6 L322.1,329 L322.4,329.1 L322.7,328.4 L323,329.2 L323.3,329.3 L323.6,328.8 L323.9,329 L324.2,328.9 L324.6,328.7 L324.9,328.5 L325.2,328.5 L325.5,327.6 L325.8,328.6 L326.1,328.4 L326.4,328.2 L326.7,327.4 L327,327.3 L327.3,326.9 L327.6,327.2 L327.9,327.4 L328.2,327.4 L328.5,328.4 L328.8,326.7 L329.1,326.6 L329.4,327.1 L329.7,325.9 L330,327.2 L330.3,325.5 L330.6,326.1 L330.9,325.2 L331.2,326.8 L331.5,325.6 L331.8,324.9 L332.1,325 L332.4,325.5 L332.7,324.2 L333,326 L333.3,322.8 L333.6,323.5 L333.9,322.3 L334.2,322.6 L334.5,314 L334.8,318.4 L335.1,317.3 L335.4,312.9 L335.7,315.8 L336,316.1 L336.3,309.7 L336.6,309.5 L336.9,306.7 L337.2,311.9 L337.5,307.9 L337.8,296.4 L338.1,292.8 L338.4,292.8 L338.7,292.8 L339,300.5 L339.3,300.3 L339.6,300.7 L339.9,312.4 L340.2,322.4 L340.5,323.2 L340.8,326.5 L341.1,327.7 L341.4,330 L341.7,330 L342,330.4 L342.3,330.7 L342.6,330.7 L342.9,330.7 L343.2,330.4 L343.5,330.9 L343.5,331 Z" fill="#7a7a7a" stroke="#111" stroke-width="0.5" stroke-linejoin="round"/>
<path d="M321.2,330.6 L321.2,329.4 M322.1,330.8 L322.1,329.1 M323,331 L323,329.2 M323.9,330.6 L323.9,329.2 M324.9,330.3 L324.9,328.6 M325.8,330.9 L325.8,329 M326.7,330.2 L326.7,327.6 M327.6,329.9 L327.6,327.6 M328.5,330.4 L328.5,328.4 M329.4,329.7 L329.4,327.2 M330.3,330.9 L330.3,325.8 M331.2,330.1 L331.2,327.2 M332.1,330.6 L332.1,325.6 M333,330 L333,326.2 M333.9,328 L333.9,323.4 M334.8,326.4 L334.8,319.7 M335.7,329.7 L335.7,317.6 M336.6,323.2 L336.6,311.2 M337.5,322.6 L337.5,311.3 M338.4,325 L338.4,298.2 M339.3,319.5 L339.3,303.9 M340.2,331 L340.2,322.9 M341.1,330.2 L341.1,328" stroke="#2a2a2a" stroke-width="0.35" fill="none"/>
<rect x="305" y="292" width="38.5" height="39" stroke="#8a8a8a" stroke-width="0.7" fill="none"/>
<line x1="305" y1="292" x2="305" y2="331" stroke="#222" stroke-width="0.8"/>
<line x1="305" y1="331" x2="343.5" y2="331" stroke="#222" stroke-width="0.8"/>
<line x1="323.5" y1="292" x2="323.5" y2="331" stroke="#777" stroke-width="0.55"/>
<line x1="323.5" y1="310.4" x2="342.6" y2="310.4" stroke="#666" stroke-width="0.55"/>
<text x="329.2" y="301.5" font-size="6" text-anchor="middle" style="font-family:'Liberation Serif',serif" fill="#222">98</text>
<line x1="352.5" y1="331" x2="353.5" y2="331" stroke="#444" stroke-width="0.5"/>
<text x="352.2" y="332" font-size="2.9" text-anchor="end" style="font-family:'Liberation Serif',serif;font-weight:bold" fill="#333">0</text>
<line x1="352.5" y1="324.6" x2="353.5" y2="324.6" stroke="#444" stroke-width="0.5"/>
<text x="352.2" y="325.6" font-size="2.9" text-anchor="end" style="font-family:'Liberation Serif',serif;font-weight:bold" fill="#333">10</text>
<line x1="352.5" y1="318.3" x2="353.5" y2="318.3" stroke="#444" stroke-width="0.5"/>
<text x="352.2" y="319.3" font-size="2.9" text-anchor="end" style="font-family:'Liberation Serif',serif;font-weight:bold" fill="#333">20</text>
<line x1="352.5" y1="311.9" x2="353.5" y2="311.9" stroke="#444" stroke-width="0.5"/>
<text x="352.2" y="312.9" font-size="2.9" text-anchor="end" style="font-family:'Liberation Serif',serif;font-weight:bold" fill="#333">30</text>
<line x1="352.5" y1="305.5" x2="353.5" y2="305.5" stroke="#444" stroke-width="0.5"/>
<text x="352.2" y="306.5" font-size="2.9" text-anchor="end" style="font-family:'Liberation Serif',serif;font-weight:bold" fill="#333">40</text>
<line x1="352.5" y1="299.2" x2="353.5" y2="299.2" stroke="#444" stroke-width="0.5"/>
<text x="352.2" y="300.2" font-size="2.9" text-anchor="end" style="font-family:'Liberation Serif',serif;font-weight:bold" fill="#333">50</text>
<line x1="352.5" y1="292.8" x2="353.5" y2="292.8" stroke="#444" stroke-width="0.5"/>
<text x="352.2" y="293.8" font-size="2.9" text-anchor="end" style="font-family:'Liberation Serif',serif;font-weight:bold" fill="#333">60</text>
<line x1="359.5" y1="331" x2="359.5" y2="332" stroke="#444" stroke-width="0.6"/>
<text font-size="3.2" text-anchor="middle" style="font-family:'Liberation Serif',serif;font-weight:bold" fill="#555" transform="translate(359.5,335.2) rotate(40)">10<tspan font-size="2.2" dy="-1.2">1</tspan></text>
<line x1="368.2" y1="331" x2="368.2" y2="332" stroke="#444" stroke-width="0.6"/>
<text font-size="3.2" text-anchor="middle" style="font-family:'Liberation Serif',serif;font-weight:bold" fill="#555" transform="translate(368.2,335.2) rotate(40)">10<tspan font-size="2.2" dy="-1.2">2</tspan></text>
<line x1="377" y1="331" x2="377" y2="332" stroke="#444" stroke-width="0.6"/>
<text font-size="3.2" text-anchor="middle" style="font-family:'Liberation Serif',serif;font-weight:bold" fill="#555" transform="translate(377,335.2) rotate(40)">10<tspan font-size="2.2" dy="-1.2">3</tspan></text>
<line x1="385.8" y1="331" x2="385.8" y2="332" stroke="#444" stroke-width="0.6"/>
<text font-size="3.2" text-anchor="middle" style="font-family:'Liberation Serif',serif;font-weight:bold" fill="#555" transform="translate(385.8,335.2) rotate(40)">10<tspan font-size="2.2" dy="-1.2">4</tspan></text>
<path d="M353.5,331 L353.5,330.9 L353.8,330.8 L354.1,330.8 L354.4,330.7 L354.7,330.8 L355,330.8 L355.3,330.4 L355.6,330.1 L355.9,330.8 L356.2,330.5 L356.5,330.6 L356.8,330.4 L357.1,330.5 L357.4,330.7 L357.7,330.3 L358,329.8 L358.3,330.2 L358.6,330.6 L358.9,330.1 L359.2,330.5 L359.5,330.5 L359.8,330.4 L360.1,330.7 L360.4,330.4 L360.7,330.5 L361,330.3 L361.3,330.2 L361.6,330.6 L361.9,330.2 L362.2,329.7 L362.5,330.2 L362.8,330 L363.1,330 L363.4,330.1 L363.7,329.9 L364,330.1 L364.3,329.7 L364.6,329.7 L364.9,330 L365.2,329.6 L365.5,329.5 L365.8,329.5 L366.1,328.9 L366.4,329.4 L366.7,329.1 L367,328 L367.3,328.1 L367.6,327 L367.9,326.7 L368.2,327.2 L368.5,326.1 L368.8,326.6 L369.1,325.3 L369.4,324.9 L369.7,323.3 L370,319.2 L370.3,321.6 L370.6,322.6 L370.9,320.4 L371.2,317.1 L371.5,316.5 L371.8,316.6 L372.1,312.8 L372.4,315.2 L372.7,316.6 L373,315.8 L373.3,314.9 L373.6,313.8 L373.9,307.1 L374.2,305.4 L374.5,305.1 L374.8,308.2 L375.1,293.1 L375.4,292.8 L375.7,301.1 L376,299.3 L376.3,317.3 L376.6,317.1 L376.9,316.2 L377.2,320 L377.5,322.7 L377.8,327.4 L378.1,327.6 L378.4,328.7 L378.7,329.1 L379,329.3 L379.3,329.7 L379.6,329.8 L379.9,329.7 L380.2,329.8 L380.5,329.6 L380.8,329.9 L381.1,330.2 L381.4,329.7 L381.7,329.7 L382,329.2 L382.3,330.1 L382.6,329.9 L382.9,330 L383.2,329.9 L383.5,330.2 L383.8,330.1 L384.1,330 L384.4,329.9 L384.7,330.2 L385,330 L385.3,330.3 L385.6,330.4 L385.9,329.9 L386.2,330.3 L386.5,330.5 L386.8,330.5 L387.1,330.5 L387.4,330.2 L387.7,330.3 L388,330.5 L388.3,330.6 L388.6,330.2 L388.9,330.7 L389.2,330.6 L389.5,330.5 L389.8,330.6 L390.1,330.7 L390.4,330.5 L390.7,330.5 L391,330.5 L391.3,330.8 L391.6,330.9 L391.9,330.6 L392.2,330.9 L392.5,330.6 L392.5,331 Z" fill="#7a7a7a" stroke="#111" stroke-width="0.5" stroke-linejoin="round"/>
<path d="M366.1,330.9 L366.1,329.1 M367,330.9 L367,328.3 M367.9,330.5 L367.9,327.2 M368.8,330.8 L368.8,327 M369.7,328.8 L369.7,323.6 M370.6,330.6 L370.6,323.1 M371.5,327.2 L371.5,317 M372.4,330.9 L372.4,316.3 M373.3,325.8 L373.3,315.3 M374.2,321.4 L374.2,307.4 M375.1,328.6 L375.1,293.7 M376,326.3 L376,301.6 M376.9,330 L376.9,316.4 M377.8,330.3 L377.8,327.5 M378.7,330.7 L378.7,329.2" stroke="#2a2a2a" stroke-width="0.35" fill="none"/>
<rect x="353.5" y="292" width="39" height="39" stroke="#8a8a8a" stroke-width="0.7" fill="none"/>
<line x1="353.5" y1="292" x2="353.5" y2="331" stroke="#222" stroke-width="0.8"/>
<line x1="353.5" y1="331" x2="392.5" y2="331" stroke="#222" stroke-width="0.8"/>
<line x1="368.4" y1="292" x2="368.4" y2="331" stroke="#777" stroke-width="0.55"/>
<line x1="383.4" y1="292" x2="383.4" y2="331" stroke="#777" stroke-width="0.55"/>
<line x1="368.4" y1="318.9" x2="383.4" y2="318.9" stroke="#666" stroke-width="0.55"/>
<text x="386.5" y="301.5" font-size="6" text-anchor="middle" style="font-family:'Liberation Serif',serif" fill="#222">94</text>
<path d="M256.5,140 Q256.5,137 262,137 L321,137 Q324.5,137 325,134.5 Q325.5,137 329,137 L386,137 Q392.5,137 392.5,140" fill="none" stroke="#333" stroke-width="0.8"/>
<text x="321.4" y="131.8" font-size="7" text-anchor="middle" style="font-family:'Liberation Serif',serif;font-weight:bold" fill="#000" stroke="#000" stroke-width="0.25" >CD25<tspan font-size="4.2" dy="-2.6">-</tspan><tspan dy="2.6"> T cell-gated</tspan></text>
<text x="275.2" y="343.8" font-size="7" text-anchor="middle" style="font-family:'Liberation Serif',serif;font-weight:bold" fill="#000" stroke="#000" stroke-width="0.25" >CD44</text>
<text x="328" y="343.8" font-size="7" text-anchor="middle" style="font-family:'Liberation Serif',serif;font-weight:bold" fill="#000" stroke="#000" stroke-width="0.25" >CD45RB</text>
<text x="373.9" y="343.8" font-size="7" text-anchor="middle" style="font-family:'Liberation Serif',serif;font-weight:bold" fill="#000" stroke="#000" stroke-width="0.25" >CD62L</text>
<text x="0" y="0" font-size="6.7" text-anchor="middle" style="font-family:'Liberation Serif',serif;font-weight:bold" fill="#000" stroke="#000" stroke-width="0.25" transform="translate(245.6,321.2) rotate(-90)">Count</text>
<line x1="243.7" y1="311" x2="243.7" y2="300.5" stroke="#000" stroke-width="1.1"/>
<path d="M243.7,297.5 L242,301 L245.4,301 Z" fill="#000"/>
<text x="434.2" y="15.8" font-size="5" text-anchor="end" style="font-family:'Liberation Sans',sans-serif" fill="#111" stroke="#111" stroke-width="0.08" >100000</text>
<line x1="434.8" y1="14" x2="436.2" y2="14" stroke="#888" stroke-width="0.5"/>
<text x="434.2" y="25.5" font-size="5" text-anchor="end" style="font-family:'Liberation Sans',sans-serif" fill="#111" stroke="#111" stroke-width="0.08" >80000</text>
<line x1="434.8" y1="23.7" x2="436.2" y2="23.7" stroke="#888" stroke-width="0.5"/>
<text x="434.2" y="35.3" font-size="5" text-anchor="end" style="font-family:'Liberation Sans',sans-serif" fill="#111" stroke="#111" stroke-width="0.08" >60000</text>
<line x1="434.8" y1="33.5" x2="436.2" y2="33.5" stroke="#888" stroke-width="0.5"/>
<text x="434.2" y="45" font-size="5" text-anchor="end" style="font-family:'Liberation Sans',sans-serif" fill="#111" stroke="#111" stroke-width="0.08" >40000</text>
<line x1="434.8" y1="43.2" x2="436.2" y2="43.2" stroke="#888" stroke-width="0.5"/>
<text x="434.2" y="54.8" font-size="5" text-anchor="end" style="font-family:'Liberation Sans',sans-serif" fill="#111" stroke="#111" stroke-width="0.08" >20000</text>
<line x1="434.8" y1="53" x2="436.2" y2="53" stroke="#888" stroke-width="0.5"/>
<text x="434.2" y="64.5" font-size="5" text-anchor="end" style="font-family:'Liberation Sans',sans-serif" fill="#111" stroke="#111" stroke-width="0.08" >0</text>
<line x1="434.8" y1="62.7" x2="436.2" y2="62.7" stroke="#888" stroke-width="0.5"/>
<text x="445.8" y="71.5" font-size="5" text-anchor="middle" style="font-family:'Liberation Sans',sans-serif" fill="#111" stroke="#111" stroke-width="0.08" >15.63</text>
<text x="460.8" y="71.5" font-size="5" text-anchor="middle" style="font-family:'Liberation Sans',sans-serif" fill="#111" stroke="#111" stroke-width="0.08" >31.25</text>
<text x="476" y="71.5" font-size="5" text-anchor="middle" style="font-family:'Liberation Sans',sans-serif" fill="#111" stroke="#111" stroke-width="0.08" >62.5</text>
<text x="491.5" y="71.5" font-size="5" text-anchor="middle" style="font-family:'Liberation Sans',sans-serif" fill="#111" stroke="#111" stroke-width="0.08" >125</text>
<text x="506.6" y="71.5" font-size="5" text-anchor="middle" style="font-family:'Liberation Sans',sans-serif" fill="#111" stroke="#111" stroke-width="0.08" >250</text>
<text x="476.3" y="81.3" font-size="5.3" text-anchor="middle" style="font-family:'Liberation Sans',sans-serif;font-weight:bold" fill="#111" stroke="#111" stroke-width="0.22" letter-spacing="0.1">Responders (x1,000)/well</text>
<text x="0" y="0" font-size="5.5" text-anchor="middle" style="font-family:'Liberation Sans',sans-serif;font-weight:bold" fill="#111" stroke="#111" stroke-width="0.2" transform="translate(412.6,39.2) rotate(-90)">cpm</text>
<path d="M445.8,62.7 L460.8,62.7 L476,62.7 L491.5,62.7 L506.6,61.2" fill="none" stroke="#111" stroke-width="0.95"/>
<path d="M445.8,60.8 L447.7,64.1 L443.9,64.1 Z" fill="#fff" stroke="#000" stroke-width="0.5"/>
<path d="M460.8,60.8 L462.7,64.1 L458.9,64.1 Z" fill="#fff" stroke="#000" stroke-width="0.5"/>
<path d="M476,60.8 L477.9,64.1 L474.1,64.1 Z" fill="#fff" stroke="#000" stroke-width="0.5"/>
<path d="M491.5,60.8 L493.4,64.1 L489.6,64.1 Z" fill="#fff" stroke="#000" stroke-width="0.5"/>
<line x1="506.6" y1="60.8" x2="506.6" y2="61.6" stroke="#111" stroke-width="0.5"/>
<line x1="505.6" y1="60.8" x2="507.6" y2="60.8" stroke="#111" stroke-width="0.5"/>
<path d="M506.6,59.4 L508.5,62.6 L504.7,62.6 Z" fill="#fff" stroke="#000" stroke-width="0.5"/>
<path d="M445.8,62.7 L460.8,62.7 L476,62.7 L491.5,62.7 L506.6,58.8" fill="none" stroke="#111" stroke-width="0.95"/>
<path d="M445.8,60.8 L447.7,64.1 L443.9,64.1 Z" fill="#000"/>
<path d="M460.8,60.8 L462.7,64.1 L458.9,64.1 Z" fill="#000"/>
<path d="M476,60.8 L477.9,64.1 L474.1,64.1 Z" fill="#000"/>
<path d="M491.5,60.8 L493.4,64.1 L489.6,64.1 Z" fill="#000"/>
<line x1="506.6" y1="58.1" x2="506.6" y2="59.5" stroke="#111" stroke-width="0.5"/>
<line x1="505.6" y1="58.1" x2="507.6" y2="58.1" stroke="#111" stroke-width="0.5"/>
<path d="M506.6,56.9 L508.5,60.2 L504.7,60.2 Z" fill="#000"/>
<path d="M445.8,62.7 L460.8,62.7 L476,62.5 L491.5,57.8 L506.6,40.8" fill="none" stroke="#111" stroke-width="0.95"/>
<path d="M445.8,61 L447.5,62.7 L445.8,64.4 L444.1,62.7 Z" fill="#000"/>
<path d="M460.8,61 L462.5,62.7 L460.8,64.4 L459.1,62.7 Z" fill="#000"/>
<path d="M476,60.8 L477.7,62.5 L476,64.2 L474.3,62.5 Z" fill="#000"/>
<line x1="491.5" y1="57.3" x2="491.5" y2="58.3" stroke="#111" stroke-width="0.5"/>
<line x1="490.5" y1="57.3" x2="492.5" y2="57.3" stroke="#111" stroke-width="0.5"/>
<path d="M491.5,56.1 L493.2,57.8 L491.5,59.5 L489.8,57.8 Z" fill="#000"/>
<line x1="506.6" y1="39.6" x2="506.6" y2="42" stroke="#111" stroke-width="0.5"/>
<line x1="505.6" y1="39.6" x2="507.6" y2="39.6" stroke="#111" stroke-width="0.5"/>
<path d="M506.6,39.1 L508.3,40.8 L506.6,42.5 L504.9,40.8 Z" fill="#000"/>
<path d="M445.8,62.7 L460.8,62.7 L476,62.2 L491.5,53 L506.6,26.2" fill="none" stroke="#111" stroke-width="0.95"/>
<rect x="444.1" y="61" width="3.4" height="3.4" fill="#000"/>
<rect x="459.1" y="61" width="3.4" height="3.4" fill="#000"/>
<rect x="474.3" y="60.5" width="3.4" height="3.4" fill="#000"/>
<line x1="491.5" y1="52" x2="491.5" y2="53.9" stroke="#111" stroke-width="0.5"/>
<line x1="490.5" y1="52" x2="492.5" y2="52" stroke="#111" stroke-width="0.5"/>
<rect x="489.8" y="51.3" width="3.4" height="3.4" fill="#000"/>
<line x1="506.6" y1="21.3" x2="506.6" y2="31" stroke="#111" stroke-width="0.5"/>
<line x1="505.6" y1="21.3" x2="507.6" y2="21.3" stroke="#111" stroke-width="0.5"/>
<rect x="504.9" y="24.5" width="3.4" height="3.4" fill="#000"/>
<text x="487.6" y="47.3" font-size="7.5" text-anchor="middle" style="font-family:'Liberation Sans',sans-serif" fill="#222" stroke="#222" stroke-width="0.08" >*</text>
<text x="491.5" y="46.8" font-size="5.4" text-anchor="middle" style="font-family:'Liberation Sans',sans-serif" fill="#222" stroke="#222" stroke-width="0.08" font-style="italic">,#</text>
<text x="502.1" y="20.3" font-size="7.5" text-anchor="middle" style="font-family:'Liberation Sans',sans-serif" fill="#222" stroke="#222" stroke-width="0.08" >*</text>
<text x="506.5" y="19.8" font-size="5.4" text-anchor="middle" style="font-family:'Liberation Sans',sans-serif" fill="#222" stroke="#222" stroke-width="0.08" font-style="italic">,#</text>
<line x1="442.3" y1="16.2" x2="455.6" y2="16.2" stroke="#111" stroke-width="0.9"/>
<path d="M448.5,14.7 L450,16.2 L448.5,17.7 L447,16.2 Z" fill="#000"/>
<text x="456.8" y="17.9" font-size="4.9" text-anchor="start" style="font-family:'Liberation Sans',sans-serif" fill="#111" stroke="#111" stroke-width="0.08" >CD25- Bulk</text>
<line x1="442.3" y1="21.3" x2="455.6" y2="21.3" stroke="#111" stroke-width="0.9"/>
<rect x="447" y="19.8" width="3" height="3" fill="#000"/>
<text x="456.8" y="23" font-size="4.9" text-anchor="start" style="font-family:'Liberation Sans',sans-serif" fill="#111" stroke="#111" stroke-width="0.08" >CD25- Naive</text>
<line x1="442.3" y1="26.6" x2="455.6" y2="26.6" stroke="#111" stroke-width="0.9"/>
<path d="M448.5,25 L450.1,27.8 L446.9,27.8 Z" fill="#000"/>
<text x="456.8" y="28.3" font-size="4.9" text-anchor="start" style="font-family:'Liberation Sans',sans-serif" fill="#111" stroke="#111" stroke-width="0.08" >CD25- TEM</text>
<line x1="442.3" y1="31.9" x2="455.6" y2="31.9" stroke="#111" stroke-width="0.9"/>
<path d="M448.5,30.2 L450.1,33.1 L446.9,33.1 Z" fill="#fff" stroke="#000" stroke-width="0.5"/>
<text x="456.8" y="33.6" font-size="4.9" text-anchor="start" style="font-family:'Liberation Sans',sans-serif" fill="#111" stroke="#111" stroke-width="0.08" >CD25- TCM</text>
<line x1="429.3" y1="98" x2="429.3" y2="154.2" stroke="#bbb" stroke-width="0.5"/>
<line x1="429.3" y1="154.2" x2="511" y2="154.2" stroke="#bbb" stroke-width="0.5"/>
<text x="426.6" y="101.6" font-size="5" text-anchor="end" style="font-family:'Liberation Sans',sans-serif" fill="#111" stroke="#111" stroke-width="0.08" >1</text>
<text x="426.6" y="112.5" font-size="5" text-anchor="end" style="font-family:'Liberation Sans',sans-serif" fill="#111" stroke="#111" stroke-width="0.08" >0.8</text>
<text x="426.6" y="123.4" font-size="5" text-anchor="end" style="font-family:'Liberation Sans',sans-serif" fill="#111" stroke="#111" stroke-width="0.08" >0.6</text>
<text x="426.6" y="134.2" font-size="5" text-anchor="end" style="font-family:'Liberation Sans',sans-serif" fill="#111" stroke="#111" stroke-width="0.08" >0.4</text>
<text x="426.6" y="145.1" font-size="5" text-anchor="end" style="font-family:'Liberation Sans',sans-serif" fill="#111" stroke="#111" stroke-width="0.08" >0.2</text>
<text x="426.6" y="156" font-size="5" text-anchor="end" style="font-family:'Liberation Sans',sans-serif" fill="#111" stroke="#111" stroke-width="0.08" >0</text>
<text x="429.9" y="164" font-size="5" text-anchor="middle" style="font-family:'Liberation Sans',sans-serif" fill="#111" stroke="#111" stroke-width="0.08" >0</text>
<text x="446" y="164" font-size="5" text-anchor="middle" style="font-family:'Liberation Sans',sans-serif" fill="#111" stroke="#111" stroke-width="0.08" >20</text>
<text x="462.1" y="164" font-size="5" text-anchor="middle" style="font-family:'Liberation Sans',sans-serif" fill="#111" stroke="#111" stroke-width="0.08" >40</text>
<text x="478.3" y="164" font-size="5" text-anchor="middle" style="font-family:'Liberation Sans',sans-serif" fill="#111" stroke="#111" stroke-width="0.08" >60</text>
<text x="494.4" y="164" font-size="5" text-anchor="middle" style="font-family:'Liberation Sans',sans-serif" fill="#111" stroke="#111" stroke-width="0.08" >80</text>
<text x="510.5" y="164" font-size="5" text-anchor="middle" style="font-family:'Liberation Sans',sans-serif" fill="#111" stroke="#111" stroke-width="0.08" >100</text>
<text x="470.3" y="173.5" font-size="5.4" text-anchor="middle" style="font-family:'Liberation Sans',sans-serif;font-weight:bold" fill="#111" stroke="#111" stroke-width="0.22" letter-spacing="0.12">Days after transplantation</text>
<text x="0" y="0" font-size="5.2" text-anchor="middle" style="font-family:'Liberation Sans',sans-serif;font-weight:bold" fill="#111" stroke="#111" stroke-width="0.2" transform="translate(414.2,128.9) rotate(-90)">Probability of survival</text>
<path d="M429.9,99.8 L498.4,99.8" fill="none" stroke="#111" stroke-width="0.8"/>
<path d="M475,101.2 L498.4,101.2" fill="none" stroke="#111" stroke-width="0.6"/>
<path d="M429.9,98.2 L431.5,99.8 L429.9,101.4 L428.3,99.8 Z" fill="#000"/>
<path d="M446.6,98.2 L448.2,99.8 L446.6,101.4 L445,99.8 Z" fill="#000"/>
<path d="M475,98.2 L476.6,99.8 L475,101.4 L473.4,99.8 Z" fill="#000"/>
<path d="M498.4,98.2 L500,99.8 L498.4,101.4 L496.8,99.8 Z" fill="#000"/>
<circle cx="475" cy="101.9" r="1.2" fill="#fff" stroke="#000" stroke-width="0.5"/>
<circle cx="498.4" cy="101.9" r="1.2" fill="#fff" stroke="#000" stroke-width="0.5"/>
<path d="M429.9,99.8 L446.6,99.8 L446.6,103.4 L452.4,103.4 L452.4,111.2 L453.8,111.2 L453.8,114.8 L458.1,114.8 L458.1,121.6 L460.7,121.6 L460.7,128.6 L464.1,128.6 L464.1,140.2 L465.9,140.2 L465.9,147.6 L498.4,147.6" fill="none" stroke="#111" stroke-width="0.9"/>
<path d="M446.6,101.5 L448.6,104.9 L444.6,104.9 Z" fill="#000"/>
<path d="M452.4,101.5 L454.4,104.9 L450.4,104.9 Z" fill="#000"/>
<path d="M452.4,109.2 L454.4,112.7 L450.4,112.7 Z" fill="#000"/>
<path d="M453.8,112.8 L455.8,116.3 L451.9,116.3 Z" fill="#000"/>
<path d="M458.1,112.8 L460.1,116.3 L456.1,116.3 Z" fill="#000"/>
<path d="M458.1,119.6 L460.1,123 L456.1,123 Z" fill="#000"/>
<path d="M460.7,119.6 L462.7,123 L458.7,123 Z" fill="#000"/>
<path d="M460.7,126.7 L462.7,130.1 L458.7,130.1 Z" fill="#000"/>
<path d="M464.1,126.7 L466.1,130.1 L462.1,130.1 Z" fill="#000"/>
<path d="M464.1,138.2 L466.1,141.7 L462.1,141.7 Z" fill="#000"/>
<path d="M465.9,138.2 L467.9,141.7 L463.9,141.7 Z" fill="#000"/>
<path d="M465.9,145.6 L467.9,149.1 L463.9,149.1 Z" fill="#000"/>
<path d="M475,145.6 L477,149.1 L473.1,149.1 Z" fill="#000"/>
<path d="M498.4,145.6 L500.4,149.1 L496.4,149.1 Z" fill="#000"/>
<path d="M498.4,148.4 L500.4,151.8 L496.4,151.8 Z" fill="#000"/>
<line x1="458.8" y1="107.9" x2="472.8" y2="107.9" stroke="#111" stroke-width="0.8"/>
<path d="M465.5,106.5 L466.9,107.9 L465.5,109.3 L464.1,107.9 Z" fill="#000"/>
<text x="472.6" y="109.6" font-size="5" text-anchor="start" style="font-family:'Liberation Sans',sans-serif" fill="#111" stroke="#111" stroke-width="0.08" >TCD BM only (n=18)</text>
<line x1="458.8" y1="112.2" x2="472.8" y2="112.2" stroke="#555" stroke-width="0.8"/>
<path d="M465.5,110.7 L467,113.3 L464,113.3 Z" fill="#000"/>
<text x="472.6" y="113.9" font-size="5" text-anchor="start" style="font-family:'Liberation Sans',sans-serif" fill="#111" stroke="#111" stroke-width="0.08" >CD25- Naive (n=15)</text>
<line x1="458.8" y1="117" x2="472.8" y2="117" stroke="#555" stroke-width="0.8"/>
<circle cx="465.5" cy="117" r="1.3" fill="#fff" stroke="#000" stroke-width="0.5"/>
<text x="472.6" y="118.7" font-size="5" text-anchor="start" style="font-family:'Liberation Sans',sans-serif" fill="#111" stroke="#111" stroke-width="0.08" >CD25- TCM (n=7)</text>
<line x1="427.3" y1="185" x2="427.3" y2="240.1" stroke="#bbb" stroke-width="0.5"/>
<line x1="427.3" y1="240.1" x2="511" y2="240.1" stroke="#bbb" stroke-width="0.5"/>
<text x="425.5" y="188.4" font-size="5" text-anchor="end" style="font-family:'Liberation Sans',sans-serif" fill="#111" stroke="#111" stroke-width="0.08" >20</text>
<text x="425.5" y="201.8" font-size="5" text-anchor="end" style="font-family:'Liberation Sans',sans-serif" fill="#111" stroke="#111" stroke-width="0.08" >18</text>
<text x="425.5" y="215.1" font-size="5" text-anchor="end" style="font-family:'Liberation Sans',sans-serif" fill="#111" stroke="#111" stroke-width="0.08" >16</text>
<text x="425.5" y="228.5" font-size="5" text-anchor="end" style="font-family:'Liberation Sans',sans-serif" fill="#111" stroke="#111" stroke-width="0.08" >14</text>
<text x="425.5" y="241.9" font-size="5" text-anchor="end" style="font-family:'Liberation Sans',sans-serif" fill="#111" stroke="#111" stroke-width="0.08" >12</text>
<text x="428.2" y="250" font-size="5" text-anchor="middle" style="font-family:'Liberation Sans',sans-serif" fill="#111" stroke="#111" stroke-width="0.08" >0</text>
<text x="444.6" y="250" font-size="5" text-anchor="middle" style="font-family:'Liberation Sans',sans-serif" fill="#111" stroke="#111" stroke-width="0.08" >20</text>
<text x="461.1" y="250" font-size="5" text-anchor="middle" style="font-family:'Liberation Sans',sans-serif" fill="#111" stroke="#111" stroke-width="0.08" >40</text>
<text x="477.6" y="250" font-size="5" text-anchor="middle" style="font-family:'Liberation Sans',sans-serif" fill="#111" stroke="#111" stroke-width="0.08" >60</text>
<text x="494" y="250" font-size="5" text-anchor="middle" style="font-family:'Liberation Sans',sans-serif" fill="#111" stroke="#111" stroke-width="0.08" >80</text>
<text x="510.4" y="250" font-size="5" text-anchor="middle" style="font-family:'Liberation Sans',sans-serif" fill="#111" stroke="#111" stroke-width="0.08" >100</text>
<text x="470.3" y="260.3" font-size="5.4" text-anchor="middle" style="font-family:'Liberation Sans',sans-serif;font-weight:bold" fill="#111" stroke="#111" stroke-width="0.22" letter-spacing="0.12">Days after transplantation</text>
<text x="0" y="0" font-size="4.9" text-anchor="middle" style="font-family:'Liberation Sans',sans-serif;font-weight:bold" fill="#111" stroke="#111" stroke-width="0.2" transform="translate(414.2,219) rotate(-90)">Mean body weight (g)</text>
<line x1="428.2" y1="195.9" x2="428.2" y2="186.5" stroke="#222" stroke-width="0.7"/>
<line x1="427" y1="186.5" x2="429.4" y2="186.5" stroke="#222" stroke-width="0.7"/>
<line x1="434" y1="217.4" x2="434" y2="204.3" stroke="#222" stroke-width="0.7"/>
<line x1="432.8" y1="204.3" x2="435.2" y2="204.3" stroke="#222" stroke-width="0.7"/>
<line x1="434.3" y1="224.9" x2="434.3" y2="219.4" stroke="#222" stroke-width="0.6"/>
<line x1="433.1" y1="219.4" x2="435.5" y2="219.4" stroke="#222" stroke-width="0.6"/>
<line x1="439.7" y1="206.2" x2="439.7" y2="198.7" stroke="#222" stroke-width="0.7"/>
<line x1="438.5" y1="198.7" x2="440.9" y2="198.7" stroke="#222" stroke-width="0.7"/>
<line x1="440" y1="207" x2="440" y2="201.5" stroke="#222" stroke-width="0.6"/>
<line x1="438.8" y1="201.5" x2="441.2" y2="201.5" stroke="#222" stroke-width="0.6"/>
<line x1="445.5" y1="202.4" x2="445.5" y2="193" stroke="#222" stroke-width="0.7"/>
<line x1="444.3" y1="193" x2="446.7" y2="193" stroke="#222" stroke-width="0.7"/>
<line x1="445.8" y1="209.9" x2="445.8" y2="204.4" stroke="#222" stroke-width="0.6"/>
<line x1="444.6" y1="204.4" x2="447" y2="204.4" stroke="#222" stroke-width="0.6"/>
<line x1="451.2" y1="203.4" x2="451.2" y2="194" stroke="#222" stroke-width="0.7"/>
<line x1="450" y1="194" x2="452.4" y2="194" stroke="#222" stroke-width="0.7"/>
<line x1="451.5" y1="214.6" x2="451.5" y2="209.1" stroke="#222" stroke-width="0.6"/>
<line x1="450.3" y1="209.1" x2="452.7" y2="209.1" stroke="#222" stroke-width="0.6"/>
<line x1="457" y1="206.2" x2="457" y2="198.7" stroke="#222" stroke-width="0.7"/>
<line x1="455.8" y1="198.7" x2="458.2" y2="198.7" stroke="#222" stroke-width="0.7"/>
<line x1="457.3" y1="218.9" x2="457.3" y2="213.4" stroke="#222" stroke-width="0.6"/>
<line x1="456.1" y1="213.4" x2="458.5" y2="213.4" stroke="#222" stroke-width="0.6"/>
<line x1="462.7" y1="209.5" x2="462.7" y2="198.7" stroke="#222" stroke-width="0.7"/>
<line x1="461.5" y1="198.7" x2="463.9" y2="198.7" stroke="#222" stroke-width="0.7"/>
<line x1="463" y1="219.3" x2="463" y2="213.8" stroke="#222" stroke-width="0.6"/>
<line x1="461.8" y1="213.8" x2="464.2" y2="213.8" stroke="#222" stroke-width="0.6"/>
<line x1="468.5" y1="207.7" x2="468.5" y2="195.9" stroke="#222" stroke-width="0.7"/>
<line x1="467.3" y1="195.9" x2="469.7" y2="195.9" stroke="#222" stroke-width="0.7"/>
<line x1="468.8" y1="218.9" x2="468.8" y2="213.4" stroke="#222" stroke-width="0.6"/>
<line x1="467.6" y1="213.4" x2="470" y2="213.4" stroke="#222" stroke-width="0.6"/>
<line x1="474.3" y1="205.2" x2="474.3" y2="194" stroke="#222" stroke-width="0.7"/>
<line x1="473.1" y1="194" x2="475.5" y2="194" stroke="#222" stroke-width="0.7"/>
<line x1="474.6" y1="218.9" x2="474.6" y2="213.4" stroke="#222" stroke-width="0.6"/>
<line x1="473.4" y1="213.4" x2="475.8" y2="213.4" stroke="#222" stroke-width="0.6"/>
<line x1="480" y1="204.3" x2="480" y2="191.2" stroke="#222" stroke-width="0.7"/>
<line x1="478.8" y1="191.2" x2="481.2" y2="191.2" stroke="#222" stroke-width="0.7"/>
<line x1="480.3" y1="219.3" x2="480.3" y2="213.8" stroke="#222" stroke-width="0.6"/>
<line x1="479.1" y1="213.8" x2="481.5" y2="213.8" stroke="#222" stroke-width="0.6"/>
<line x1="485.8" y1="201.5" x2="485.8" y2="191.6" stroke="#222" stroke-width="0.7"/>
<line x1="484.6" y1="191.6" x2="487" y2="191.6" stroke="#222" stroke-width="0.7"/>
<line x1="486.1" y1="215.5" x2="486.1" y2="210" stroke="#222" stroke-width="0.6"/>
<line x1="484.9" y1="210" x2="487.3" y2="210" stroke="#222" stroke-width="0.6"/>
<line x1="491.5" y1="204.3" x2="491.5" y2="195.3" stroke="#222" stroke-width="0.7"/>
<line x1="490.3" y1="195.3" x2="492.7" y2="195.3" stroke="#222" stroke-width="0.7"/>
<line x1="491.8" y1="219.6" x2="491.8" y2="214.1" stroke="#222" stroke-width="0.6"/>
<line x1="490.6" y1="214.1" x2="493" y2="214.1" stroke="#222" stroke-width="0.6"/>
<line x1="497.3" y1="203.4" x2="497.3" y2="194" stroke="#222" stroke-width="0.7"/>
<line x1="496.1" y1="194" x2="498.5" y2="194" stroke="#222" stroke-width="0.7"/>
<line x1="497.6" y1="220.7" x2="497.6" y2="215.2" stroke="#222" stroke-width="0.6"/>
<line x1="496.4" y1="215.2" x2="498.8" y2="215.2" stroke="#222" stroke-width="0.6"/>
<path d="M428.2,195.9 L434,217.4 L439.7,207 L445.5,202.4 L451.2,203.4 L457,206.2 L462.7,209.5 L468.5,207.7 L474.3,205.2 L480,204.3 L485.8,201.5 L491.5,204.3 L497.3,203.4" fill="none" stroke="#111" stroke-width="1.1"/>
<path d="M428.2,195.9 L434,224.9 L439.7,207 L445.5,209.9 L451.2,214.6 L457,218.9 L462.7,219.3 L468.5,218.9 L474.3,218.9 L480,219.3 L485.8,215.5 L491.5,219.6 L497.3,220.7" fill="none" stroke="#111" stroke-width="1.0"/>
<path d="M428.2,195.9 L434,217.4 L439.7,206.2 L445.5,203.4 L451.2,206.2 L457,208 L462.7,213.6 L468.5,208 L474.3,206.2 L480,206.2 L485.8,201.5 L491.5,204.3 L497.3,203.4" fill="none" stroke="#111" stroke-width="0.8"/>
<circle cx="428.2" cy="195.9" r="1.1" fill="#fff" stroke="#000" stroke-width="0.5"/>
<circle cx="434" cy="217.4" r="1.1" fill="#fff" stroke="#000" stroke-width="0.5"/>
<circle cx="439.7" cy="206.2" r="1.1" fill="#fff" stroke="#000" stroke-width="0.5"/>
<circle cx="445.5" cy="203.4" r="1.1" fill="#fff" stroke="#000" stroke-width="0.5"/>
<circle cx="451.2" cy="206.2" r="1.1" fill="#fff" stroke="#000" stroke-width="0.5"/>
<circle cx="457" cy="208" r="1.1" fill="#fff" stroke="#000" stroke-width="0.5"/>
<circle cx="462.7" cy="213.6" r="1.1" fill="#fff" stroke="#000" stroke-width="0.5"/>
<circle cx="468.5" cy="208" r="1.1" fill="#fff" stroke="#000" stroke-width="0.5"/>
<circle cx="474.3" cy="206.2" r="1.1" fill="#fff" stroke="#000" stroke-width="0.5"/>
<circle cx="480" cy="206.2" r="1.1" fill="#fff" stroke="#000" stroke-width="0.5"/>
<circle cx="485.8" cy="201.5" r="1.1" fill="#fff" stroke="#000" stroke-width="0.5"/>
<circle cx="491.5" cy="204.3" r="1.1" fill="#fff" stroke="#000" stroke-width="0.5"/>
<circle cx="497.3" cy="203.4" r="1.1" fill="#fff" stroke="#000" stroke-width="0.5"/>
<path d="M428.2,194.1 L430,197.2 L426.4,197.2 Z" fill="#000"/>
<path d="M434,223.1 L435.7,226.2 L432.2,226.2 Z" fill="#000"/>
<path d="M439.7,205.2 L441.5,208.3 L438,208.3 Z" fill="#000"/>
<path d="M445.5,208.1 L447.2,211.2 L443.7,211.2 Z" fill="#000"/>
<path d="M451.2,212.8 L453,215.9 L449.5,215.9 Z" fill="#000"/>
<path d="M457,217.1 L458.7,220.2 L455.2,220.2 Z" fill="#000"/>
<path d="M462.7,217.5 L464.5,220.6 L461,220.6 Z" fill="#000"/>
<path d="M468.5,217.1 L470.3,220.2 L466.7,220.2 Z" fill="#000"/>
<path d="M474.3,217.1 L476,220.2 L472.5,220.2 Z" fill="#000"/>
<path d="M480,217.5 L481.8,220.6 L478.3,220.6 Z" fill="#000"/>
<path d="M485.8,213.7 L487.5,216.8 L484,216.8 Z" fill="#000"/>
<path d="M491.5,217.8 L493.3,220.9 L489.8,220.9 Z" fill="#000"/>
<path d="M497.3,218.9 L499,222 L495.5,222 Z" fill="#000"/>
<path d="M428.2,194.1 L430,195.9 L428.2,197.7 L426.4,195.9 Z" fill="#000"/>
<path d="M434,215.6 L435.8,217.4 L434,219.2 L432.2,217.4 Z" fill="#000"/>
<path d="M439.7,205.2 L441.5,207 L439.7,208.8 L437.9,207 Z" fill="#000"/>
<path d="M445.5,200.6 L447.3,202.4 L445.5,204.2 L443.7,202.4 Z" fill="#000"/>
<path d="M451.2,201.6 L453,203.4 L451.2,205.2 L449.4,203.4 Z" fill="#000"/>
<path d="M457,204.4 L458.8,206.2 L457,208 L455.2,206.2 Z" fill="#000"/>
<path d="M462.7,207.7 L464.5,209.5 L462.7,211.3 L460.9,209.5 Z" fill="#000"/>
<path d="M468.5,205.9 L470.3,207.7 L468.5,209.5 L466.7,207.7 Z" fill="#000"/>
<path d="M474.3,203.4 L476.1,205.2 L474.3,207 L472.5,205.2 Z" fill="#000"/>
<path d="M480,202.5 L481.8,204.3 L480,206.1 L478.2,204.3 Z" fill="#000"/>
<path d="M485.8,199.7 L487.6,201.5 L485.8,203.3 L484,201.5 Z" fill="#000"/>
<path d="M491.5,202.5 L493.3,204.3 L491.5,206.1 L489.7,204.3 Z" fill="#000"/>
<path d="M497.3,201.6 L499.1,203.4 L497.3,205.2 L495.5,203.4 Z" fill="#000"/>
<line x1="451.2" y1="227.2" x2="463.6" y2="227.2" stroke="#111" stroke-width="0.8"/>
<path d="M457.3,225.9 L458.6,227.2 L457.3,228.5 L456,227.2 Z" fill="#000"/>
<text x="464.7" y="228.7" font-size="4.7" text-anchor="start" style="font-family:'Liberation Sans',sans-serif" fill="#111" stroke="#111" stroke-width="0.08" letter-spacing="0.13">TCD BM only (n=18)</text>
<line x1="451.2" y1="231.8" x2="463.6" y2="231.8" stroke="#111" stroke-width="0.8"/>
<path d="M457.3,230.4 L458.7,232.8 L455.9,232.8 Z" fill="#000"/>
<text x="464.7" y="233.3" font-size="4.7" text-anchor="start" style="font-family:'Liberation Sans',sans-serif" fill="#111" stroke="#111" stroke-width="0.08" letter-spacing="0.13">CD25- Naive (n=15)</text>
<line x1="451.2" y1="236.1" x2="463.6" y2="236.1" stroke="#111" stroke-width="0.8"/>
<circle cx="457.3" cy="236.1" r="1.2" fill="#fff" stroke="#000" stroke-width="0.5"/>
<text x="464.7" y="237.6" font-size="4.7" text-anchor="start" style="font-family:'Liberation Sans',sans-serif" fill="#111" stroke="#111" stroke-width="0.08" letter-spacing="0.13">CD25- TCM (n=7)</text>
<line x1="434.5" y1="276" x2="434.5" y2="330.3" stroke="#bbb" stroke-width="0.5"/>
<line x1="434.5" y1="330.3" x2="504.5" y2="330.3" stroke="#999" stroke-width="0.6"/>
<text x="432.3" y="280.2" font-size="5" text-anchor="end" style="font-family:'Liberation Sans',sans-serif" fill="#111" stroke="#111" stroke-width="0.08" >40000</text>
<text x="432.3" y="293.2" font-size="5" text-anchor="end" style="font-family:'Liberation Sans',sans-serif" fill="#111" stroke="#111" stroke-width="0.08" >30000</text>
<text x="432.3" y="306.2" font-size="5" text-anchor="end" style="font-family:'Liberation Sans',sans-serif" fill="#111" stroke="#111" stroke-width="0.08" >20000</text>
<text x="432.3" y="319.1" font-size="5" text-anchor="end" style="font-family:'Liberation Sans',sans-serif" fill="#111" stroke="#111" stroke-width="0.08" >10000</text>
<text x="432.3" y="332.1" font-size="5" text-anchor="end" style="font-family:'Liberation Sans',sans-serif" fill="#111" stroke="#111" stroke-width="0.08" >0</text>
<line x1="443.6" y1="310.8" x2="443.6" y2="299.2" stroke="#222" stroke-width="0.65"/>
<line x1="442.3" y1="299.2" x2="444.9" y2="299.2" stroke="#222" stroke-width="0.65"/>
<rect x="440.4" y="310.8" width="6.4" height="19.5" fill="#fff" stroke="#333" stroke-width="0.5"/>
<line x1="450" y1="306.3" x2="450" y2="299.8" stroke="#222" stroke-width="0.65"/>
<line x1="448.7" y1="299.8" x2="451.3" y2="299.8" stroke="#222" stroke-width="0.65"/>
<rect x="447.3" y="306.3" width="5.3" height="24" fill="#808080" stroke="#333" stroke-width="0.5"/>
<line x1="456.2" y1="304.4" x2="456.2" y2="298.5" stroke="#222" stroke-width="0.65"/>
<line x1="454.9" y1="298.5" x2="457.5" y2="298.5" stroke="#222" stroke-width="0.65"/>
<rect x="453" y="304.4" width="6.4" height="25.9" fill="#000" stroke="#333" stroke-width="0.5"/>
<line x1="463" y1="312.1" x2="463" y2="305.6" stroke="#222" stroke-width="0.65"/>
<line x1="461.7" y1="305.6" x2="464.3" y2="305.6" stroke="#222" stroke-width="0.65"/>
<rect x="459.9" y="312.1" width="6.3" height="18.2" fill="#a0a0a0" stroke="#333" stroke-width="0.5"/>
<line x1="479.1" y1="310.8" x2="479.1" y2="299.8" stroke="#222" stroke-width="0.65"/>
<line x1="477.8" y1="299.8" x2="480.4" y2="299.8" stroke="#222" stroke-width="0.65"/>
<rect x="476" y="310.8" width="6.1" height="19.5" fill="#fff" stroke="#333" stroke-width="0.5"/>
<line x1="485.1" y1="308.9" x2="485.1" y2="306.3" stroke="#222" stroke-width="0.65"/>
<line x1="483.8" y1="306.3" x2="486.4" y2="306.3" stroke="#222" stroke-width="0.65"/>
<rect x="482.3" y="308.9" width="5.6" height="21.4" fill="#808080" stroke="#333" stroke-width="0.5"/>
<rect x="488.4" y="286.8" width="6.6" height="43.5" fill="#000" stroke="#333" stroke-width="0.5"/>
<line x1="498.6" y1="299.8" x2="498.6" y2="279.7" stroke="#222" stroke-width="0.65"/>
<line x1="497.3" y1="279.7" x2="499.9" y2="279.7" stroke="#222" stroke-width="0.65"/>
<rect x="495.5" y="299.8" width="6.3" height="30.5" fill="#a0a0a0" stroke="#333" stroke-width="0.5"/>
<text x="491.7" y="287.5" font-size="9.5" text-anchor="middle" style="font-family:'Liberation Sans',sans-serif" fill="#111" stroke="#111" stroke-width="0.08" >*</text>
<rect x="438" y="276.8" width="3.2" height="3.2" fill="#fff" stroke="#333" stroke-width="0.5"/>
<text x="443" y="280.1" font-size="4.9" text-anchor="start" style="font-family:'Liberation Sans',sans-serif" fill="#111" stroke="#111" stroke-width="0.08" >Medium</text>
<rect x="438" y="281.7" width="3.2" height="3.2" fill="#808080" stroke="#333" stroke-width="0.5"/>
<text x="443" y="285" font-size="4.9" text-anchor="start" style="font-family:'Liberation Sans',sans-serif" fill="#111" stroke="#111" stroke-width="0.08" >Irradiated B6</text>
<rect x="438" y="286.7" width="3.2" height="3.2" fill="#000" stroke="#333" stroke-width="0.5"/>
<text x="443" y="290" font-size="4.9" text-anchor="start" style="font-family:'Liberation Sans',sans-serif" fill="#111" stroke="#111" stroke-width="0.08" >Bulk</text>
<rect x="438" y="291.7" width="3.2" height="3.2" fill="#a0a0a0" stroke="#333" stroke-width="0.5"/>
<text x="443" y="295" font-size="4.9" text-anchor="start" style="font-family:'Liberation Sans',sans-serif" fill="#111" stroke="#111" stroke-width="0.08" >Memory</text>
<text x="453.2" y="338.8" font-size="5" text-anchor="middle" style="font-family:'Liberation Sans',sans-serif" fill="#111" stroke="#111" stroke-width="0.08" >1 to 1</text>
<text x="488.4" y="338.8" font-size="5" text-anchor="middle" style="font-family:'Liberation Sans',sans-serif" fill="#111" stroke="#111" stroke-width="0.08" >2 to 1</text>
<text x="470.5" y="344.8" font-size="5.6" text-anchor="middle" style="font-family:'Liberation Sans',sans-serif;font-weight:bold" fill="#111" stroke="#111" stroke-width="0.22" >Suppressor: responder ratio</text>
<text x="0" y="0" font-size="5.5" text-anchor="middle" style="font-family:'Liberation Sans',sans-serif;font-weight:bold" fill="#111" stroke="#111" stroke-width="0.2" transform="translate(415.3,309) rotate(-90)">cpm</text>
</svg></body></html>
